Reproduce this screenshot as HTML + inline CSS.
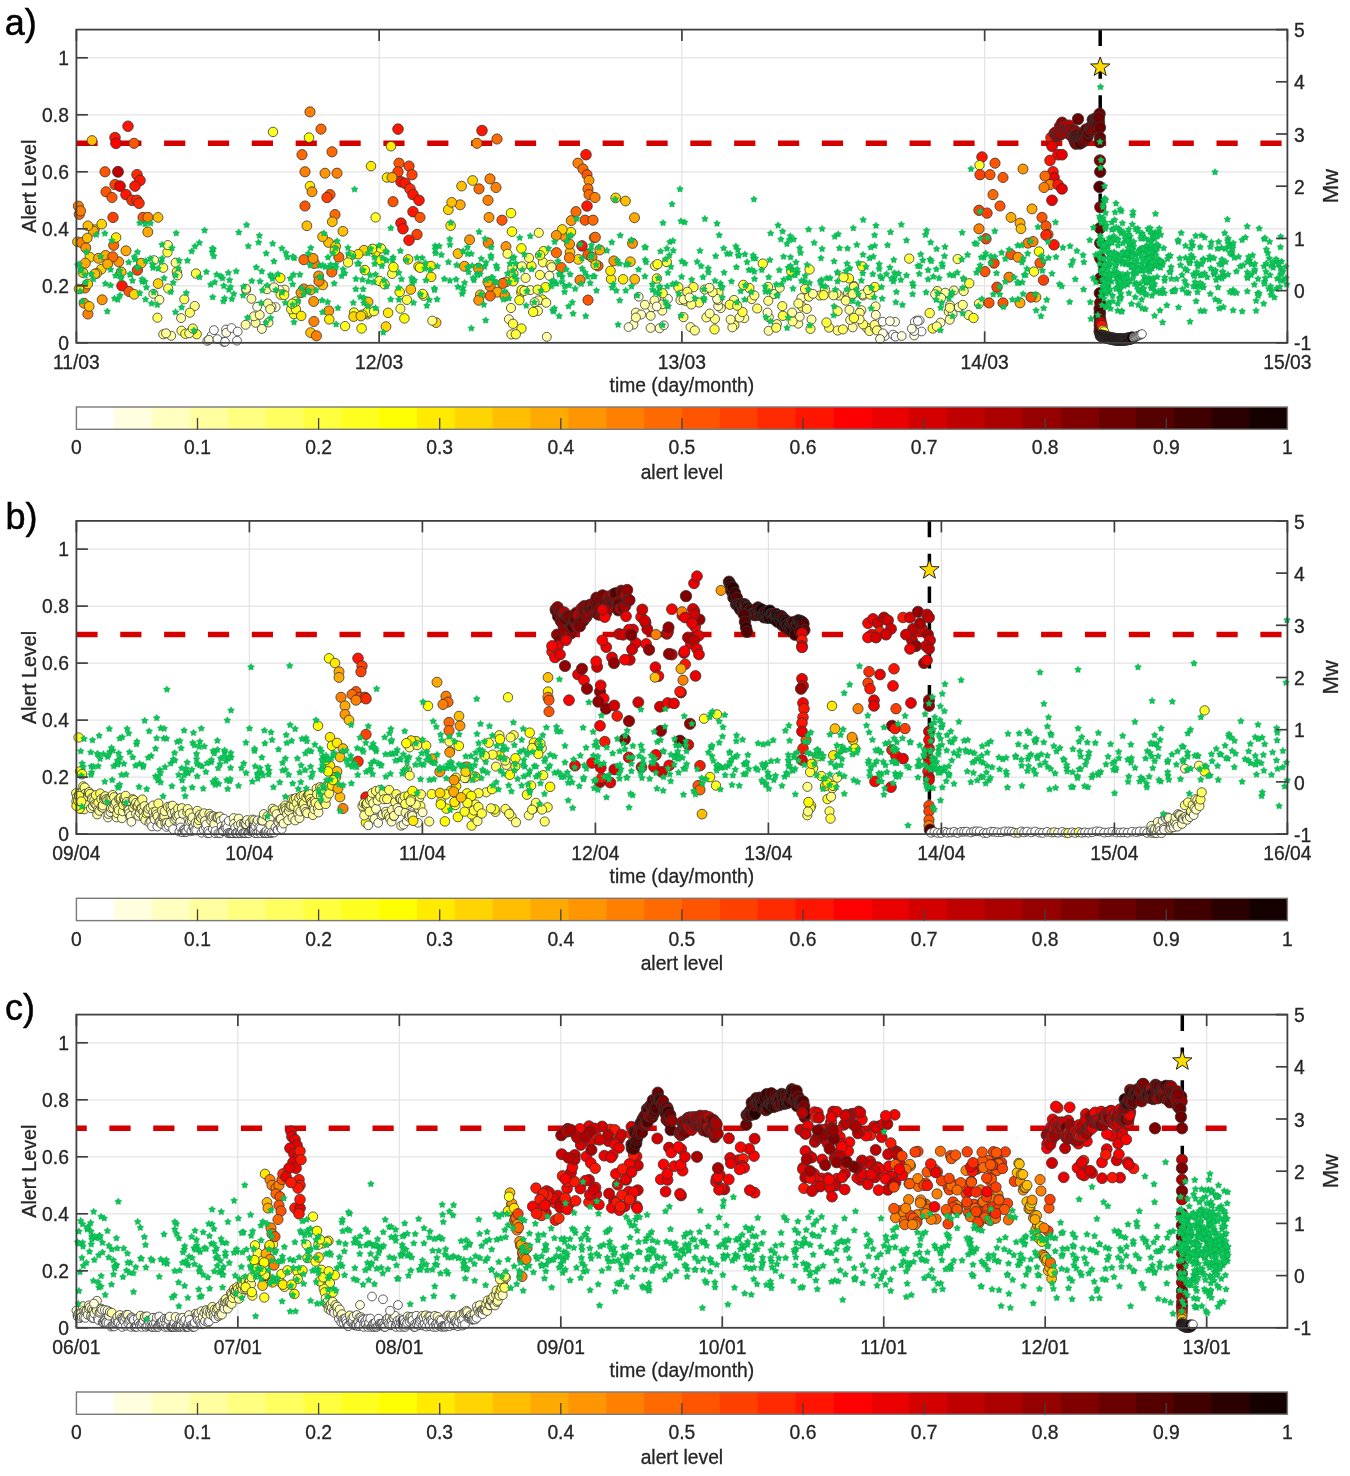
<!DOCTYPE html>
<html><head><meta charset="utf-8"><style>
html,body{margin:0;padding:0;background:#fff;}
svg{display:block;filter:blur(0.35px);}
.tk{font-family:"Liberation Sans", sans-serif;font-size:19.3px;fill:#262626;stroke:#262626;stroke-width:0.3px;}
.pl{font-family:"Liberation Sans", sans-serif;font-size:36px;fill:#000;stroke:#000;stroke-width:0.5px;}
</style></head><body>
<svg width="1350" height="1476" viewBox="0 0 1350 1476">
<defs><path id="gs" d="M0.00,-3.55 L1.20,-1.66 L3.38,-1.10 L1.95,0.63 L2.09,2.87 L0.00,2.05 L-2.09,2.87 L-1.95,0.63 L-3.38,-1.10 L-1.20,-1.66Z"/></defs>
<rect width="1350" height="1476" fill="#fff"/>
<line x1="76.4" y1="285.80" x2="1287.4" y2="285.80" stroke="#e3e3e3" stroke-width="1.2"/>
<line x1="76.4" y1="228.80" x2="1287.4" y2="228.80" stroke="#e3e3e3" stroke-width="1.2"/>
<line x1="76.4" y1="171.80" x2="1287.4" y2="171.80" stroke="#e3e3e3" stroke-width="1.2"/>
<line x1="76.4" y1="114.80" x2="1287.4" y2="114.80" stroke="#e3e3e3" stroke-width="1.2"/>
<line x1="76.4" y1="57.80" x2="1287.4" y2="57.80" stroke="#e3e3e3" stroke-width="1.2"/>
<line x1="379.15" y1="29.6" x2="379.15" y2="342.8" stroke="#e3e3e3" stroke-width="1.2"/>
<line x1="681.90" y1="29.6" x2="681.90" y2="342.8" stroke="#e3e3e3" stroke-width="1.2"/>
<line x1="984.65" y1="29.6" x2="984.65" y2="342.8" stroke="#e3e3e3" stroke-width="1.2"/>
<line x1="76.4" y1="143.30" x2="1287.4" y2="143.30" stroke="#d40000" stroke-width="5.5" stroke-dasharray="21.2 22.65" stroke-dashoffset="0"/>
<line x1="1100.2" y1="29.6" x2="1100.2" y2="342.8" stroke="#000" stroke-width="3.5" stroke-dasharray="16.4 16.4"/>
<g stroke="#333" stroke-width="0.8"><circle cx="79.3" cy="214.3" r="5.1" fill="#ff6a00"/><circle cx="78.4" cy="206.2" r="5.1" fill="#ff8000"/><circle cx="80.5" cy="210.9" r="5.1" fill="#ff8000"/><circle cx="82.9" cy="272.6" r="4.9" fill="#ffd400"/><circle cx="84.9" cy="288.0" r="5.1" fill="#ff8000"/><circle cx="77.5" cy="241.8" r="4.9" fill="#ffbf00"/><circle cx="84.1" cy="303.3" r="5.0" fill="#ff9500"/><circle cx="79.0" cy="289.0" r="4.8" fill="#ffea00"/><circle cx="81.4" cy="242.6" r="5.1" fill="#ff8000"/><circle cx="87.9" cy="314.0" r="5.1" fill="#ff8000"/><circle cx="89.9" cy="257.2" r="4.9" fill="#ffd400"/><circle cx="85.8" cy="247.9" r="5.0" fill="#ff9500"/><circle cx="94.4" cy="229.6" r="4.9" fill="#ffd400"/><circle cx="93.4" cy="231.1" r="5.0" fill="#ffaa00"/><circle cx="98.5" cy="258.3" r="5.0" fill="#ffaa00"/><circle cx="87.9" cy="225.8" r="4.9" fill="#ffbf00"/><circle cx="87.3" cy="238.0" r="4.9" fill="#ffbf00"/><circle cx="101.3" cy="269.2" r="4.9" fill="#ffd400"/><circle cx="101.7" cy="224.1" r="4.9" fill="#ffd400"/><circle cx="87.7" cy="284.0" r="4.9" fill="#ffd400"/><circle cx="89.2" cy="306.4" r="4.9" fill="#ffbf00"/><circle cx="85.3" cy="263.2" r="5.0" fill="#ffaa00"/><circle cx="96.6" cy="273.4" r="4.9" fill="#ffd400"/><circle cx="94.9" cy="273.9" r="4.9" fill="#ffbf00"/><circle cx="128.0" cy="126.2" r="5.3" fill="#ff1500"/><circle cx="115.0" cy="137.6" r="5.3" fill="#ff1500"/><circle cx="116.0" cy="143.3" r="5.4" fill="#ff0000"/><circle cx="134.0" cy="143.3" r="5.1" fill="#ff5500"/><circle cx="105.0" cy="171.8" r="5.1" fill="#ff5500"/><circle cx="118.0" cy="171.8" r="5.5" fill="#bf0000"/><circle cx="137.0" cy="174.7" r="5.3" fill="#ff2a00"/><circle cx="140.0" cy="180.4" r="5.3" fill="#ff1500"/><circle cx="135.0" cy="186.1" r="5.3" fill="#ff1500"/><circle cx="115.0" cy="184.6" r="5.2" fill="#ff4000"/><circle cx="120.0" cy="186.1" r="5.4" fill="#ea0000"/><circle cx="106.0" cy="191.8" r="5.1" fill="#ff5500"/><circle cx="112.0" cy="197.5" r="5.1" fill="#ff5500"/><circle cx="126.0" cy="194.6" r="5.3" fill="#ff1500"/><circle cx="132.0" cy="200.3" r="5.3" fill="#ff2a00"/><circle cx="137.0" cy="200.3" r="5.3" fill="#ff2a00"/><circle cx="139.0" cy="203.2" r="5.3" fill="#ff2a00"/><circle cx="113.0" cy="217.4" r="5.2" fill="#ff4000"/><circle cx="143.0" cy="217.4" r="5.1" fill="#ff5500"/><circle cx="148.0" cy="217.4" r="5.1" fill="#ff8000"/><circle cx="158.0" cy="217.4" r="4.9" fill="#ffbf00"/><circle cx="92.0" cy="140.5" r="4.9" fill="#ffbf00"/><circle cx="122.0" cy="285.8" r="5.3" fill="#ff1500"/><circle cx="129.0" cy="291.5" r="5.1" fill="#ff5500"/><circle cx="105.6" cy="255.4" r="5.0" fill="#ffaa00"/><circle cx="137.4" cy="270.1" r="5.2" fill="#ff4000"/><circle cx="113.7" cy="245.3" r="5.1" fill="#ff6a00"/><circle cx="134.3" cy="294.3" r="4.9" fill="#ffd400"/><circle cx="158.1" cy="283.6" r="4.9" fill="#ffd400"/><circle cx="118.7" cy="261.8" r="5.0" fill="#ff9500"/><circle cx="102.2" cy="299.8" r="5.0" fill="#ff9500"/><circle cx="112.7" cy="256.8" r="5.1" fill="#ff6a00"/><circle cx="107.6" cy="264.1" r="5.0" fill="#ffaa00"/><circle cx="147.8" cy="232.0" r="5.0" fill="#ffaa00"/><circle cx="116.1" cy="237.5" r="4.8" fill="#ffea00"/><circle cx="121.2" cy="271.9" r="4.9" fill="#ffbf00"/><circle cx="141.4" cy="263.1" r="4.9" fill="#ffbf00"/><circle cx="126.0" cy="250.8" r="5.0" fill="#ffaa00"/><circle cx="153.4" cy="293.8" r="4.5" fill="#ffff9f"/><circle cx="181.1" cy="318.1" r="4.5" fill="#ffff9f"/><circle cx="194.7" cy="306.0" r="4.6" fill="#ffff80"/><circle cx="176.9" cy="271.9" r="4.7" fill="#ffff40"/><circle cx="189.9" cy="312.7" r="4.6" fill="#ffff60"/><circle cx="168.2" cy="288.5" r="4.6" fill="#ffff60"/><circle cx="181.5" cy="330.7" r="4.6" fill="#ffff80"/><circle cx="185.4" cy="333.8" r="4.7" fill="#ffff40"/><circle cx="184.3" cy="299.3" r="4.6" fill="#ffff60"/><circle cx="163.2" cy="267.8" r="4.6" fill="#ffff60"/><circle cx="163.3" cy="334.3" r="4.6" fill="#ffff80"/><circle cx="196.0" cy="273.5" r="4.7" fill="#ffff40"/><circle cx="196.7" cy="334.2" r="4.7" fill="#ffff40"/><circle cx="159.4" cy="299.8" r="4.5" fill="#ffff9f"/><circle cx="167.5" cy="252.3" r="4.7" fill="#ffff40"/><circle cx="192.3" cy="330.0" r="4.6" fill="#ffff80"/><circle cx="189.2" cy="333.3" r="4.5" fill="#ffff9f"/><circle cx="154.1" cy="260.2" r="4.5" fill="#ffff9f"/><circle cx="171.2" cy="335.8" r="4.5" fill="#ffff9f"/><circle cx="175.7" cy="262.7" r="4.6" fill="#ffff80"/><circle cx="166.0" cy="333.3" r="4.5" fill="#ffff9f"/><circle cx="157.4" cy="317.7" r="4.6" fill="#ffff60"/><circle cx="167.9" cy="245.1" r="4.6" fill="#ffff80"/><circle cx="192.8" cy="328.5" r="4.6" fill="#ffff60"/><circle cx="177.5" cy="275.3" r="4.6" fill="#ffff80"/><circle cx="226.0" cy="329.5" r="4.4" fill="#ffffff"/><circle cx="226.3" cy="332.7" r="4.4" fill="#ffffdf"/><circle cx="211.5" cy="335.7" r="4.4" fill="#ffffff"/><circle cx="231.5" cy="328.0" r="4.4" fill="#ffffff"/><circle cx="237.7" cy="331.5" r="4.4" fill="#ffffff"/><circle cx="223.8" cy="342.0" r="4.4" fill="#ffffff"/><circle cx="237.0" cy="340.7" r="4.4" fill="#ffffff"/><circle cx="207.3" cy="340.9" r="4.4" fill="#ffffdf"/><circle cx="208.9" cy="339.8" r="4.4" fill="#ffffdf"/><circle cx="217.4" cy="339.1" r="4.4" fill="#ffffff"/><circle cx="225.0" cy="341.8" r="4.4" fill="#ffffff"/><circle cx="213.9" cy="330.1" r="4.4" fill="#ffffff"/><circle cx="268.5" cy="322.5" r="4.5" fill="#ffff9f"/><circle cx="284.6" cy="289.5" r="4.5" fill="#ffff9f"/><circle cx="267.1" cy="289.2" r="4.5" fill="#ffff9f"/><circle cx="251.4" cy="298.8" r="4.5" fill="#ffff9f"/><circle cx="245.6" cy="324.8" r="4.5" fill="#ffff9f"/><circle cx="275.7" cy="307.1" r="4.4" fill="#ffffdf"/><circle cx="255.6" cy="322.8" r="4.5" fill="#ffff9f"/><circle cx="254.0" cy="316.3" r="4.5" fill="#ffff9f"/><circle cx="271.5" cy="307.0" r="4.5" fill="#ffff9f"/><circle cx="279.6" cy="290.0" r="4.4" fill="#ffffdf"/><circle cx="246.2" cy="290.0" r="4.5" fill="#ffff9f"/><circle cx="259.7" cy="314.9" r="4.5" fill="#ffff9f"/><circle cx="261.9" cy="328.9" r="4.5" fill="#ffffbf"/><circle cx="257.1" cy="306.8" r="4.4" fill="#ffffdf"/><circle cx="274.1" cy="287.3" r="4.5" fill="#ffffbf"/><circle cx="267.8" cy="303.4" r="4.5" fill="#ffff9f"/><circle cx="270.2" cy="309.2" r="4.5" fill="#ffff9f"/><circle cx="246.0" cy="288.7" r="4.5" fill="#ffff9f"/><circle cx="273.0" cy="131.9" r="4.7" fill="#ffff20"/><circle cx="293.9" cy="314.1" r="4.7" fill="#ffff20"/><circle cx="280.6" cy="294.6" r="4.7" fill="#ffff40"/><circle cx="291.2" cy="309.3" r="4.7" fill="#ffff40"/><circle cx="295.9" cy="309.2" r="4.7" fill="#ffff20"/><circle cx="280.3" cy="278.0" r="4.8" fill="#ffff00"/><circle cx="295.7" cy="301.5" r="4.7" fill="#ffff40"/><circle cx="292.2" cy="303.7" r="4.7" fill="#ffff40"/><circle cx="284.2" cy="295.0" r="4.7" fill="#ffff20"/><circle cx="310.0" cy="111.9" r="5.1" fill="#ff8000"/><circle cx="309.0" cy="137.6" r="4.8" fill="#ffff00"/><circle cx="321.0" cy="129.1" r="5.1" fill="#ff6a00"/><circle cx="332.0" cy="151.8" r="5.1" fill="#ff6a00"/><circle cx="302.0" cy="154.7" r="5.1" fill="#ff6a00"/><circle cx="305.0" cy="171.8" r="5.1" fill="#ff8000"/><circle cx="325.0" cy="173.2" r="5.0" fill="#ff9500"/><circle cx="337.0" cy="173.2" r="5.1" fill="#ff8000"/><circle cx="310.0" cy="186.1" r="4.8" fill="#ffea00"/><circle cx="312.0" cy="191.8" r="5.0" fill="#ff9500"/><circle cx="330.0" cy="194.6" r="5.1" fill="#ff5500"/><circle cx="327.0" cy="197.5" r="5.2" fill="#ff4000"/><circle cx="305.0" cy="206.0" r="5.1" fill="#ff5500"/><circle cx="335.0" cy="214.6" r="5.1" fill="#ff6a00"/><circle cx="314.3" cy="263.4" r="5.1" fill="#ff8000"/><circle cx="331.8" cy="272.0" r="5.1" fill="#ff6a00"/><circle cx="318.6" cy="275.9" r="5.0" fill="#ff9500"/><circle cx="338.8" cy="257.1" r="5.1" fill="#ff6a00"/><circle cx="303.8" cy="289.0" r="5.1" fill="#ff8000"/><circle cx="328.5" cy="242.5" r="4.9" fill="#ffbf00"/><circle cx="310.5" cy="290.0" r="5.0" fill="#ffaa00"/><circle cx="301.0" cy="292.7" r="5.0" fill="#ff9500"/><circle cx="328.8" cy="310.9" r="5.0" fill="#ff9500"/><circle cx="329.3" cy="319.4" r="4.8" fill="#ffea00"/><circle cx="303.9" cy="259.7" r="5.1" fill="#ff6a00"/><circle cx="313.7" cy="301.5" r="5.0" fill="#ff9500"/><circle cx="310.6" cy="332.6" r="4.9" fill="#ffbf00"/><circle cx="322.8" cy="284.9" r="4.9" fill="#ffbf00"/><circle cx="313.9" cy="321.5" r="5.1" fill="#ff8000"/><circle cx="313.1" cy="258.4" r="5.0" fill="#ff9500"/><circle cx="335.7" cy="246.3" r="4.9" fill="#ffd400"/><circle cx="316.4" cy="335.8" r="5.1" fill="#ff8000"/><circle cx="306.9" cy="225.8" r="4.9" fill="#ffbf00"/><circle cx="318.9" cy="281.1" r="5.1" fill="#ff8000"/><circle cx="322.6" cy="236.7" r="4.9" fill="#ffbf00"/><circle cx="301.2" cy="315.9" r="4.8" fill="#ffea00"/><circle cx="364.0" cy="250.3" r="4.9" fill="#ffd400"/><circle cx="367.5" cy="314.3" r="4.7" fill="#ffff40"/><circle cx="361.6" cy="328.4" r="4.8" fill="#ffff00"/><circle cx="358.2" cy="254.2" r="4.8" fill="#ffea00"/><circle cx="375.6" cy="217.4" r="4.7" fill="#ffff20"/><circle cx="345.1" cy="326.1" r="4.7" fill="#ffff20"/><circle cx="351.0" cy="255.4" r="4.7" fill="#ffff20"/><circle cx="334.8" cy="250.5" r="4.8" fill="#ffea00"/><circle cx="354.0" cy="312.5" r="4.7" fill="#ffff20"/><circle cx="342.9" cy="231.3" r="4.9" fill="#ffbf00"/><circle cx="332.3" cy="221.8" r="4.9" fill="#ffbf00"/><circle cx="368.1" cy="302.0" r="4.9" fill="#ffbf00"/><circle cx="368.8" cy="312.7" r="4.7" fill="#ffff40"/><circle cx="348.1" cy="262.5" r="4.7" fill="#ffff40"/><circle cx="375.8" cy="251.9" r="4.8" fill="#ffea00"/><circle cx="353.6" cy="316.6" r="4.9" fill="#ffd400"/><circle cx="398.0" cy="129.1" r="5.3" fill="#ff1500"/><circle cx="391.0" cy="146.2" r="4.8" fill="#ffea00"/><circle cx="399.0" cy="163.2" r="5.1" fill="#ff5500"/><circle cx="409.0" cy="166.1" r="5.2" fill="#ff4000"/><circle cx="398.0" cy="171.8" r="5.2" fill="#ff4000"/><circle cx="412.0" cy="174.7" r="5.2" fill="#ff4000"/><circle cx="401.0" cy="181.8" r="5.3" fill="#ff1500"/><circle cx="405.0" cy="183.2" r="5.3" fill="#ff1500"/><circle cx="410.0" cy="188.9" r="5.3" fill="#ff2a00"/><circle cx="413.0" cy="194.6" r="5.3" fill="#ff1500"/><circle cx="419.0" cy="200.3" r="5.3" fill="#ff1500"/><circle cx="393.0" cy="201.7" r="5.1" fill="#ff5500"/><circle cx="413.0" cy="211.7" r="5.3" fill="#ff1500"/><circle cx="420.0" cy="217.4" r="5.1" fill="#ff5500"/><circle cx="401.0" cy="223.1" r="5.3" fill="#ff1500"/><circle cx="403.0" cy="228.8" r="5.3" fill="#ff1500"/><circle cx="417.0" cy="234.5" r="5.2" fill="#ff4000"/><circle cx="409.0" cy="240.2" r="5.3" fill="#ff1500"/><circle cx="387.0" cy="177.5" r="4.8" fill="#ffea00"/><circle cx="392.0" cy="177.5" r="5.0" fill="#ffaa00"/><circle cx="371.0" cy="166.1" r="4.8" fill="#ffea00"/><circle cx="386.0" cy="326.6" r="4.9" fill="#ffd400"/><circle cx="372.4" cy="248.8" r="4.7" fill="#ffff20"/><circle cx="367.4" cy="311.8" r="4.7" fill="#ffff20"/><circle cx="362.5" cy="314.7" r="4.8" fill="#ffff00"/><circle cx="379.3" cy="280.9" r="4.7" fill="#ffff40"/><circle cx="360.9" cy="316.0" r="4.9" fill="#ffd400"/><circle cx="364.8" cy="270.1" r="4.8" fill="#ffff00"/><circle cx="381.0" cy="248.4" r="4.7" fill="#ffff20"/><circle cx="384.6" cy="284.3" r="4.7" fill="#ffff20"/><circle cx="374.0" cy="311.2" r="4.7" fill="#ffff40"/><circle cx="392.2" cy="273.8" r="4.7" fill="#ffff40"/><circle cx="388.1" cy="312.8" r="4.8" fill="#ffea00"/><circle cx="380.5" cy="260.4" r="4.8" fill="#ffff00"/><circle cx="393.4" cy="267.1" r="4.8" fill="#ffff00"/><circle cx="400.4" cy="308.7" r="4.6" fill="#ffff60"/><circle cx="418.5" cy="266.5" r="4.8" fill="#ffea00"/><circle cx="423.7" cy="295.7" r="4.7" fill="#ffff40"/><circle cx="431.2" cy="276.9" r="4.8" fill="#ffea00"/><circle cx="420.1" cy="267.7" r="4.8" fill="#ffff00"/><circle cx="406.9" cy="299.8" r="4.7" fill="#ffff40"/><circle cx="408.1" cy="259.4" r="4.8" fill="#ffea00"/><circle cx="422.6" cy="293.9" r="4.7" fill="#ffff20"/><circle cx="399.7" cy="292.0" r="4.8" fill="#ffff00"/><circle cx="410.8" cy="289.5" r="4.9" fill="#ffbf00"/><circle cx="436.1" cy="322.6" r="4.9" fill="#ffd400"/><circle cx="430.8" cy="266.0" r="4.8" fill="#ffea00"/><circle cx="404.4" cy="318.4" r="4.8" fill="#ffff00"/><circle cx="432.3" cy="320.7" r="4.6" fill="#ffff80"/><circle cx="472.6" cy="180.5" r="4.9" fill="#ffd400"/><circle cx="469.6" cy="239.8" r="5.0" fill="#ff9500"/><circle cx="448.3" cy="209.7" r="4.9" fill="#ffd400"/><circle cx="464.5" cy="266.3" r="5.0" fill="#ffaa00"/><circle cx="450.6" cy="225.7" r="4.8" fill="#ffea00"/><circle cx="458.0" cy="253.6" r="4.9" fill="#ffbf00"/><circle cx="460.2" cy="204.8" r="5.0" fill="#ffaa00"/><circle cx="461.6" cy="186.1" r="4.9" fill="#ffbf00"/><circle cx="451.7" cy="202.3" r="4.9" fill="#ffbf00"/><circle cx="482.0" cy="130.5" r="5.3" fill="#ff1500"/><circle cx="477.0" cy="143.3" r="5.1" fill="#ff8000"/><circle cx="497.0" cy="139.0" r="5.1" fill="#ff6a00"/><circle cx="479.0" cy="188.9" r="5.1" fill="#ff6a00"/><circle cx="490.0" cy="178.9" r="5.1" fill="#ff8000"/><circle cx="496.0" cy="187.5" r="5.1" fill="#ff8000"/><circle cx="488.0" cy="200.3" r="5.1" fill="#ff8000"/><circle cx="489.0" cy="217.4" r="5.0" fill="#ff9500"/><circle cx="502.0" cy="220.2" r="5.1" fill="#ff5500"/><circle cx="511.0" cy="213.1" r="4.8" fill="#ffff00"/><circle cx="506.0" cy="281.9" r="4.9" fill="#ffbf00"/><circle cx="488.3" cy="243.0" r="5.1" fill="#ff8000"/><circle cx="502.7" cy="283.4" r="5.1" fill="#ff6a00"/><circle cx="480.3" cy="294.8" r="4.9" fill="#ffbf00"/><circle cx="490.1" cy="286.5" r="5.1" fill="#ff8000"/><circle cx="497.5" cy="292.2" r="5.0" fill="#ffaa00"/><circle cx="478.7" cy="300.3" r="5.0" fill="#ff9500"/><circle cx="505.0" cy="295.7" r="5.0" fill="#ff9500"/><circle cx="478.4" cy="268.3" r="5.0" fill="#ff9500"/><circle cx="487.9" cy="281.9" r="5.0" fill="#ffaa00"/><circle cx="490.2" cy="296.0" r="5.1" fill="#ff6a00"/><circle cx="506.0" cy="246.6" r="5.0" fill="#ff9500"/><circle cx="507.5" cy="253.8" r="4.6" fill="#ffff60"/><circle cx="531.5" cy="266.1" r="4.7" fill="#ffff20"/><circle cx="530.3" cy="290.1" r="4.5" fill="#ffff9f"/><circle cx="508.9" cy="319.2" r="4.5" fill="#ffff9f"/><circle cx="549.3" cy="275.7" r="4.5" fill="#ffffbf"/><circle cx="521.3" cy="292.5" r="4.7" fill="#ffff20"/><circle cx="525.6" cy="277.9" r="4.6" fill="#ffff80"/><circle cx="521.5" cy="328.5" r="4.7" fill="#ffff20"/><circle cx="529.0" cy="257.9" r="4.6" fill="#ffff60"/><circle cx="511.0" cy="308.0" r="4.6" fill="#ffff80"/><circle cx="542.2" cy="299.6" r="4.8" fill="#ffff00"/><circle cx="542.9" cy="262.3" r="4.6" fill="#ffff60"/><circle cx="538.2" cy="300.4" r="4.5" fill="#ffff9f"/><circle cx="545.6" cy="287.3" r="4.8" fill="#ffff00"/><circle cx="539.9" cy="274.9" r="4.6" fill="#ffff60"/><circle cx="537.9" cy="310.9" r="4.6" fill="#ffff80"/><circle cx="521.4" cy="248.4" r="4.8" fill="#ffff00"/><circle cx="511.4" cy="334.4" r="4.6" fill="#ffff80"/><circle cx="537.7" cy="289.7" r="4.7" fill="#ffff40"/><circle cx="550.6" cy="264.9" r="4.7" fill="#ffff40"/><circle cx="513.4" cy="273.7" r="4.7" fill="#ffff40"/><circle cx="515.8" cy="334.3" r="4.7" fill="#ffff40"/><circle cx="551.7" cy="267.1" r="4.5" fill="#ffff9f"/><circle cx="546.2" cy="302.7" r="4.6" fill="#ffff80"/><circle cx="543.6" cy="251.1" r="4.7" fill="#ffff20"/><circle cx="546.8" cy="336.8" r="4.5" fill="#ffff9f"/><circle cx="533.2" cy="312.0" r="4.7" fill="#ffff20"/><circle cx="540.1" cy="255.2" r="4.7" fill="#ffff20"/><circle cx="538.8" cy="232.8" r="4.6" fill="#ffff60"/><circle cx="513.1" cy="281.2" r="4.8" fill="#ffff00"/><circle cx="534.6" cy="302.2" r="4.5" fill="#ffff9f"/><circle cx="513.0" cy="323.8" r="4.7" fill="#ffff40"/><circle cx="521.8" cy="290.0" r="4.8" fill="#ffff00"/><circle cx="521.9" cy="266.3" r="4.6" fill="#ffff80"/><circle cx="524.4" cy="290.9" r="4.6" fill="#ffff60"/><circle cx="512.3" cy="267.6" r="4.6" fill="#ffff60"/><circle cx="512.0" cy="231.6" r="4.8" fill="#ffff00"/><circle cx="519.4" cy="300.2" r="4.7" fill="#ffff20"/><circle cx="565.1" cy="236.8" r="5.0" fill="#ff9500"/><circle cx="570.0" cy="252.2" r="4.9" fill="#ffbf00"/><circle cx="571.2" cy="220.6" r="5.0" fill="#ff9500"/><circle cx="571.0" cy="232.1" r="4.8" fill="#ffea00"/><circle cx="562.3" cy="229.5" r="4.9" fill="#ffd400"/><circle cx="556.3" cy="235.4" r="5.0" fill="#ff9500"/><circle cx="586.0" cy="154.7" r="5.3" fill="#ff1500"/><circle cx="578.0" cy="163.2" r="5.1" fill="#ff8000"/><circle cx="583.0" cy="169.0" r="5.1" fill="#ff6a00"/><circle cx="587.0" cy="174.7" r="5.1" fill="#ff5500"/><circle cx="589.0" cy="180.4" r="5.0" fill="#ff9500"/><circle cx="588.0" cy="188.9" r="5.1" fill="#ff6a00"/><circle cx="589.0" cy="194.6" r="5.1" fill="#ff6a00"/><circle cx="595.0" cy="197.5" r="5.1" fill="#ff8000"/><circle cx="587.0" cy="206.0" r="5.3" fill="#ff1500"/><circle cx="576.0" cy="211.7" r="5.1" fill="#ff6a00"/><circle cx="585.0" cy="220.2" r="5.1" fill="#ff5500"/><circle cx="593.0" cy="220.2" r="5.1" fill="#ff6a00"/><circle cx="582.0" cy="245.9" r="5.3" fill="#ff1500"/><circle cx="588.0" cy="254.5" r="5.1" fill="#ff5500"/><circle cx="598.0" cy="265.9" r="5.1" fill="#ff5500"/><circle cx="588.0" cy="300.1" r="5.1" fill="#ff5500"/><circle cx="592.0" cy="257.3" r="5.1" fill="#ff8000"/><circle cx="599.8" cy="250.0" r="5.0" fill="#ffaa00"/><circle cx="556.4" cy="252.7" r="5.1" fill="#ff6a00"/><circle cx="578.3" cy="259.4" r="4.9" fill="#ffd400"/><circle cx="569.4" cy="257.8" r="5.1" fill="#ff8000"/><circle cx="569.6" cy="244.1" r="5.0" fill="#ff9500"/><circle cx="580.0" cy="280.0" r="5.1" fill="#ff8000"/><circle cx="561.2" cy="267.5" r="5.1" fill="#ff6a00"/><circle cx="594.1" cy="237.7" r="4.9" fill="#ffd400"/><circle cx="595.7" cy="264.8" r="4.9" fill="#ffd400"/><circle cx="595.3" cy="237.3" r="5.1" fill="#ff6a00"/><circle cx="613.8" cy="260.9" r="5.0" fill="#ff9500"/><circle cx="625.5" cy="201.0" r="4.9" fill="#ffbf00"/><circle cx="634.5" cy="217.7" r="5.0" fill="#ffaa00"/><circle cx="632.5" cy="243.4" r="5.0" fill="#ff9500"/><circle cx="615.7" cy="197.9" r="4.9" fill="#ffd400"/><circle cx="623.1" cy="279.3" r="4.8" fill="#ffea00"/><circle cx="611.1" cy="279.1" r="4.8" fill="#ffea00"/><circle cx="610.5" cy="270.8" r="4.8" fill="#ffea00"/><circle cx="630.4" cy="261.7" r="4.9" fill="#ffbf00"/><circle cx="634.7" cy="279.3" r="4.9" fill="#ffbf00"/><circle cx="633.4" cy="324.6" r="4.5" fill="#ffffbf"/><circle cx="664.7" cy="298.9" r="4.4" fill="#ffffdf"/><circle cx="659.6" cy="328.3" r="4.5" fill="#ffffbf"/><circle cx="668.0" cy="298.8" r="4.4" fill="#ffffdf"/><circle cx="650.7" cy="315.8" r="4.5" fill="#ffff9f"/><circle cx="662.3" cy="310.7" r="4.5" fill="#ffff9f"/><circle cx="663.9" cy="325.3" r="4.4" fill="#ffffdf"/><circle cx="635.9" cy="312.6" r="4.5" fill="#ffff9f"/><circle cx="662.2" cy="304.3" r="4.5" fill="#ffff9f"/><circle cx="652.0" cy="307.2" r="4.5" fill="#ffffbf"/><circle cx="654.5" cy="300.4" r="4.5" fill="#ffff9f"/><circle cx="656.7" cy="306.4" r="4.4" fill="#ffffdf"/><circle cx="641.1" cy="314.5" r="4.5" fill="#ffffbf"/><circle cx="635.9" cy="317.5" r="4.5" fill="#ffff9f"/><circle cx="638.7" cy="296.7" r="4.4" fill="#ffffdf"/><circle cx="644.9" cy="304.7" r="4.5" fill="#ffff9f"/><circle cx="628.5" cy="327.1" r="4.4" fill="#ffffdf"/><circle cx="650.6" cy="327.9" r="4.5" fill="#ffffbf"/><circle cx="662.6" cy="293.3" r="4.7" fill="#ffff40"/><circle cx="666.8" cy="262.1" r="4.7" fill="#ffff40"/><circle cx="656.9" cy="278.5" r="4.7" fill="#ffff20"/><circle cx="655.1" cy="265.8" r="4.6" fill="#ffff80"/><circle cx="678.3" cy="287.2" r="4.7" fill="#ffff40"/><circle cx="657.5" cy="264.2" r="4.7" fill="#ffff20"/><circle cx="862.9" cy="295.4" r="4.7" fill="#ffff40"/><circle cx="681.6" cy="294.7" r="4.5" fill="#ffffbf"/><circle cx="854.1" cy="286.0" r="4.6" fill="#ffff60"/><circle cx="801.3" cy="298.0" r="4.5" fill="#ffffbf"/><circle cx="852.7" cy="327.4" r="4.5" fill="#ffff9f"/><circle cx="734.0" cy="300.0" r="4.6" fill="#ffff80"/><circle cx="757.2" cy="308.5" r="4.6" fill="#ffff60"/><circle cx="848.0" cy="292.9" r="4.5" fill="#ffff9f"/><circle cx="690.5" cy="327.1" r="4.5" fill="#ffff9f"/><circle cx="829.1" cy="327.6" r="4.6" fill="#ffff60"/><circle cx="680.4" cy="300.1" r="4.5" fill="#ffff9f"/><circle cx="809.0" cy="296.7" r="4.6" fill="#ffff60"/><circle cx="694.8" cy="330.5" r="4.6" fill="#ffff80"/><circle cx="861.4" cy="310.2" r="4.5" fill="#ffff9f"/><circle cx="774.1" cy="294.0" r="4.5" fill="#ffff9f"/><circle cx="704.7" cy="289.5" r="4.6" fill="#ffff80"/><circle cx="768.8" cy="317.2" r="4.5" fill="#ffff9f"/><circle cx="852.4" cy="294.8" r="4.5" fill="#ffff9f"/><circle cx="825.0" cy="289.5" r="4.6" fill="#ffff80"/><circle cx="876.2" cy="327.3" r="4.7" fill="#ffff40"/><circle cx="850.2" cy="319.9" r="4.5" fill="#ffff9f"/><circle cx="734.4" cy="325.2" r="4.6" fill="#ffff60"/><circle cx="819.7" cy="295.5" r="4.6" fill="#ffff60"/><circle cx="732.3" cy="327.4" r="4.5" fill="#ffff9f"/><circle cx="837.7" cy="330.5" r="4.6" fill="#ffff80"/><circle cx="744.3" cy="318.2" r="4.5" fill="#ffff9f"/><circle cx="798.3" cy="323.7" r="4.5" fill="#ffff9f"/><circle cx="849.9" cy="297.0" r="4.6" fill="#ffff80"/><circle cx="729.8" cy="304.7" r="4.7" fill="#ffff40"/><circle cx="837.6" cy="311.2" r="4.6" fill="#ffff60"/><circle cx="751.8" cy="299.1" r="4.6" fill="#ffff80"/><circle cx="685.4" cy="300.7" r="4.7" fill="#ffff40"/><circle cx="776.9" cy="324.1" r="4.5" fill="#ffff9f"/><circle cx="718.5" cy="293.1" r="4.6" fill="#ffff60"/><circle cx="739.5" cy="317.6" r="4.5" fill="#ffff9f"/><circle cx="768.1" cy="286.9" r="4.6" fill="#ffff60"/><circle cx="867.1" cy="328.0" r="4.7" fill="#ffff40"/><circle cx="862.6" cy="294.4" r="4.5" fill="#ffff9f"/><circle cx="853.8" cy="286.8" r="4.6" fill="#ffff60"/><circle cx="782.9" cy="315.8" r="4.7" fill="#ffff40"/><circle cx="799.7" cy="316.7" r="4.5" fill="#ffffbf"/><circle cx="683.5" cy="299.4" r="4.5" fill="#ffff9f"/><circle cx="706.4" cy="317.4" r="4.6" fill="#ffff80"/><circle cx="849.4" cy="309.8" r="4.5" fill="#ffff9f"/><circle cx="845.7" cy="300.6" r="4.6" fill="#ffff80"/><circle cx="859.7" cy="312.9" r="4.6" fill="#ffff80"/><circle cx="691.0" cy="299.7" r="4.6" fill="#ffff60"/><circle cx="869.5" cy="331.0" r="4.6" fill="#ffff80"/><circle cx="767.5" cy="312.5" r="4.5" fill="#ffffbf"/><circle cx="842.9" cy="329.4" r="4.6" fill="#ffff60"/><circle cx="742.5" cy="312.0" r="4.7" fill="#ffff40"/><circle cx="720.8" cy="308.1" r="4.5" fill="#ffff9f"/><circle cx="802.0" cy="306.6" r="4.6" fill="#ffff60"/><circle cx="699.1" cy="302.6" r="4.6" fill="#ffff60"/><circle cx="693.5" cy="287.2" r="4.7" fill="#ffff40"/><circle cx="838.6" cy="295.5" r="4.6" fill="#ffff80"/><circle cx="863.1" cy="324.3" r="4.6" fill="#ffff60"/><circle cx="875.3" cy="328.5" r="4.6" fill="#ffff60"/><circle cx="874.6" cy="324.9" r="4.6" fill="#ffff80"/><circle cx="859.6" cy="319.4" r="4.5" fill="#ffff9f"/><circle cx="823.5" cy="295.2" r="4.7" fill="#ffff40"/><circle cx="810.5" cy="328.9" r="4.6" fill="#ffff60"/><circle cx="737.2" cy="305.7" r="4.6" fill="#ffff60"/><circle cx="875.6" cy="306.3" r="4.5" fill="#ffff9f"/><circle cx="782.3" cy="306.1" r="4.6" fill="#ffff60"/><circle cx="718.2" cy="306.2" r="4.5" fill="#ffffbf"/><circle cx="877.0" cy="330.4" r="4.6" fill="#ffff80"/><circle cx="714.9" cy="318.9" r="4.6" fill="#ffff80"/><circle cx="730.6" cy="319.5" r="4.5" fill="#ffff9f"/><circle cx="779.8" cy="287.8" r="4.5" fill="#ffff9f"/><circle cx="714.5" cy="329.4" r="4.7" fill="#ffff40"/><circle cx="836.6" cy="293.5" r="4.5" fill="#ffff9f"/><circle cx="768.3" cy="300.8" r="4.6" fill="#ffff80"/><circle cx="826.5" cy="322.5" r="4.7" fill="#ffff40"/><circle cx="798.4" cy="303.5" r="4.6" fill="#ffff80"/><circle cx="768.6" cy="330.8" r="4.5" fill="#ffff9f"/><circle cx="776.2" cy="327.7" r="4.6" fill="#ffff60"/><circle cx="718.0" cy="300.2" r="4.6" fill="#ffff80"/><circle cx="811.5" cy="319.5" r="4.5" fill="#ffff9f"/><circle cx="812.9" cy="293.8" r="4.5" fill="#ffff9f"/><circle cx="687.3" cy="291.8" r="4.6" fill="#ffff60"/><circle cx="833.4" cy="295.3" r="4.6" fill="#ffff80"/><circle cx="870.2" cy="294.6" r="4.6" fill="#ffff60"/><circle cx="868.1" cy="290.0" r="4.6" fill="#ffff80"/><circle cx="691.3" cy="304.5" r="4.6" fill="#ffff80"/><circle cx="683.4" cy="317.1" r="4.6" fill="#ffff60"/><circle cx="805.0" cy="289.0" r="4.6" fill="#ffff60"/><circle cx="717.1" cy="298.9" r="4.5" fill="#ffffbf"/><circle cx="853.9" cy="318.0" r="4.7" fill="#ffff40"/><circle cx="689.5" cy="297.5" r="4.5" fill="#ffffbf"/><circle cx="852.6" cy="294.1" r="4.6" fill="#ffff80"/><circle cx="792.6" cy="321.4" r="4.6" fill="#ffff80"/><circle cx="709.7" cy="313.5" r="4.5" fill="#ffff9f"/><circle cx="806.8" cy="308.9" r="4.6" fill="#ffff80"/><circle cx="749.3" cy="288.0" r="4.7" fill="#ffff40"/><circle cx="875.8" cy="314.9" r="4.5" fill="#ffffbf"/><circle cx="712.6" cy="292.2" r="4.6" fill="#ffff80"/><circle cx="709.4" cy="287.8" r="4.5" fill="#ffff9f"/><circle cx="792.1" cy="312.5" r="4.5" fill="#ffff9f"/><circle cx="754.4" cy="295.4" r="4.6" fill="#ffff80"/><circle cx="937.3" cy="291.0" r="4.6" fill="#ffff60"/><circle cx="809.6" cy="269.5" r="4.7" fill="#ffff40"/><circle cx="762.8" cy="263.6" r="4.7" fill="#ffff20"/><circle cx="874.8" cy="287.0" r="4.7" fill="#ffff20"/><circle cx="862.3" cy="266.4" r="4.7" fill="#ffff20"/><circle cx="849.0" cy="278.4" r="4.7" fill="#ffff20"/><circle cx="957.6" cy="259.0" r="4.6" fill="#ffff60"/><circle cx="743.4" cy="284.9" r="4.7" fill="#ffff40"/><circle cx="969.3" cy="283.3" r="4.7" fill="#ffff40"/><circle cx="843.5" cy="277.3" r="4.7" fill="#ffff40"/><circle cx="791.3" cy="271.4" r="4.7" fill="#ffff20"/><circle cx="909.2" cy="258.6" r="4.7" fill="#ffff40"/><circle cx="885.0" cy="335.9" r="4.4" fill="#ffffff"/><circle cx="914.2" cy="335.5" r="4.4" fill="#ffffdf"/><circle cx="921.6" cy="331.5" r="4.4" fill="#ffffff"/><circle cx="919.7" cy="320.4" r="4.4" fill="#ffffff"/><circle cx="916.7" cy="320.5" r="4.4" fill="#ffffff"/><circle cx="894.8" cy="336.1" r="4.4" fill="#ffffff"/><circle cx="914.2" cy="331.1" r="4.4" fill="#ffffff"/><circle cx="895.1" cy="321.8" r="4.4" fill="#ffffdf"/><circle cx="893.0" cy="334.6" r="4.4" fill="#ffffff"/><circle cx="914.8" cy="321.8" r="4.4" fill="#ffffff"/><circle cx="882.9" cy="333.3" r="4.4" fill="#ffffdf"/><circle cx="917.8" cy="321.0" r="4.4" fill="#ffffff"/><circle cx="880.0" cy="339.0" r="4.4" fill="#ffffdf"/><circle cx="895.6" cy="336.6" r="4.4" fill="#ffffff"/><circle cx="882.7" cy="321.7" r="4.4" fill="#ffffff"/><circle cx="901.7" cy="336.0" r="4.4" fill="#ffffdf"/><circle cx="889.9" cy="321.2" r="4.4" fill="#ffffdf"/><circle cx="911.8" cy="328.7" r="4.4" fill="#ffffdf"/><circle cx="929.7" cy="313.1" r="4.7" fill="#ffff40"/><circle cx="968.5" cy="315.1" r="4.6" fill="#ffff80"/><circle cx="932.7" cy="328.5" r="4.7" fill="#ffff40"/><circle cx="935.1" cy="294.3" r="4.5" fill="#ffff9f"/><circle cx="950.0" cy="305.3" r="4.5" fill="#ffff9f"/><circle cx="940.5" cy="322.6" r="4.5" fill="#ffffbf"/><circle cx="945.2" cy="292.7" r="4.5" fill="#ffff9f"/><circle cx="948.8" cy="311.7" r="4.6" fill="#ffff80"/><circle cx="936.8" cy="326.5" r="4.6" fill="#ffff80"/><circle cx="978.9" cy="303.7" r="4.6" fill="#ffff80"/><circle cx="941.2" cy="297.9" r="4.5" fill="#ffff9f"/><circle cx="958.8" cy="307.2" r="4.5" fill="#ffffbf"/><circle cx="952.6" cy="314.1" r="4.5" fill="#ffffbf"/><circle cx="949.7" cy="319.8" r="4.5" fill="#ffff9f"/><circle cx="962.8" cy="304.9" r="4.6" fill="#ffff80"/><circle cx="963.7" cy="291.1" r="4.6" fill="#ffff80"/><circle cx="953.9" cy="290.5" r="4.5" fill="#ffff9f"/><circle cx="949.8" cy="307.8" r="4.6" fill="#ffff80"/><circle cx="982.0" cy="157.0" r="5.3" fill="#ff1500"/><circle cx="979.5" cy="165.2" r="4.7" fill="#ffff20"/><circle cx="980.0" cy="174.7" r="5.2" fill="#ff4000"/><circle cx="990.0" cy="174.7" r="5.1" fill="#ff5500"/><circle cx="1003.0" cy="177.5" r="5.1" fill="#ff5500"/><circle cx="1023.0" cy="169.0" r="5.0" fill="#ff9500"/><circle cx="995.0" cy="163.2" r="5.1" fill="#ff5500"/><circle cx="993.0" cy="194.6" r="5.1" fill="#ff6a00"/><circle cx="1000.0" cy="206.0" r="5.1" fill="#ff5500"/><circle cx="979.0" cy="210.3" r="5.2" fill="#ff4000"/><circle cx="987.0" cy="213.1" r="5.2" fill="#ff4000"/><circle cx="979.0" cy="228.8" r="5.1" fill="#ff8000"/><circle cx="986.0" cy="238.8" r="5.2" fill="#ff4000"/><circle cx="1011.0" cy="217.4" r="5.0" fill="#ffaa00"/><circle cx="1020.0" cy="223.1" r="5.0" fill="#ffaa00"/><circle cx="1021.0" cy="228.8" r="4.9" fill="#ffbf00"/><circle cx="1032.0" cy="208.9" r="5.0" fill="#ffaa00"/><circle cx="1042.0" cy="217.4" r="5.1" fill="#ff5500"/><circle cx="1046.0" cy="226.0" r="5.1" fill="#ff5500"/><circle cx="1048.0" cy="234.5" r="5.1" fill="#ff5500"/><circle cx="1028.0" cy="243.1" r="5.1" fill="#ff8000"/><circle cx="1033.0" cy="241.6" r="5.1" fill="#ff8000"/><circle cx="1046.0" cy="235.1" r="5.3" fill="#ff2a00"/><circle cx="1054.0" cy="244.8" r="5.3" fill="#ff1500"/><circle cx="1039.0" cy="251.6" r="4.8" fill="#ffff00"/><circle cx="994.0" cy="263.0" r="5.2" fill="#ff4000"/><circle cx="1009.0" cy="277.2" r="5.1" fill="#ff8000"/><circle cx="1034.0" cy="271.6" r="4.7" fill="#ffff20"/><circle cx="1043.5" cy="280.1" r="5.2" fill="#ff4000"/><circle cx="997.0" cy="287.2" r="5.2" fill="#ff4000"/><circle cx="1036.0" cy="297.2" r="4.9" fill="#ffbf00"/><circle cx="989.0" cy="302.9" r="5.1" fill="#ff5500"/><circle cx="1003.0" cy="302.9" r="5.1" fill="#ff5500"/><circle cx="1020.0" cy="302.9" r="5.0" fill="#ffaa00"/><circle cx="973.5" cy="318.0" r="4.7" fill="#ffff20"/><circle cx="1031.0" cy="297.2" r="5.1" fill="#ff5500"/><circle cx="1011.0" cy="254.5" r="5.1" fill="#ff5500"/><circle cx="1018.0" cy="257.3" r="5.0" fill="#ff9500"/><circle cx="985.0" cy="271.6" r="5.1" fill="#ff5500"/><circle cx="1040.0" cy="263.0" r="5.1" fill="#ff5500"/><circle cx="1051.0" cy="137.6" r="5.3" fill="#ff1500"/><circle cx="1052.0" cy="146.2" r="5.4" fill="#ea0000"/><circle cx="1058.0" cy="154.7" r="5.4" fill="#ff0000"/><circle cx="1062.0" cy="154.7" r="5.4" fill="#ea0000"/><circle cx="1050.0" cy="160.4" r="5.3" fill="#ff1500"/><circle cx="1053.0" cy="171.8" r="5.3" fill="#ff1500"/><circle cx="1054.0" cy="177.5" r="5.4" fill="#ea0000"/><circle cx="1045.0" cy="176.1" r="5.1" fill="#ff6a00"/><circle cx="1050.0" cy="184.6" r="5.1" fill="#ff8000"/><circle cx="1058.0" cy="184.6" r="5.3" fill="#ff1500"/><circle cx="1062.0" cy="188.9" r="5.4" fill="#ea0000"/><circle cx="1044.0" cy="187.5" r="5.1" fill="#ff8000"/><circle cx="1052.0" cy="200.3" r="5.4" fill="#ea0000"/><circle cx="1054.5" cy="133.5" r="5.6" fill="#aa0000"/><circle cx="1055.1" cy="132.6" r="5.5" fill="#bf0000"/><circle cx="1056.3" cy="136.1" r="5.5" fill="#bf0000"/><circle cx="1057.0" cy="135.6" r="5.6" fill="#aa0000"/><circle cx="1057.4" cy="134.1" r="5.6" fill="#aa0000"/><circle cx="1058.5" cy="132.3" r="5.6" fill="#aa0000"/><circle cx="1059.9" cy="126.4" r="5.6" fill="#aa0000"/><circle cx="1060.3" cy="134.7" r="5.6" fill="#950000"/><circle cx="1061.2" cy="133.4" r="5.6" fill="#aa0000"/><circle cx="1062.1" cy="122.6" r="5.6" fill="#950000"/><circle cx="1062.8" cy="129.6" r="5.6" fill="#aa0000"/><circle cx="1064.0" cy="126.0" r="5.6" fill="#aa0000"/><circle cx="1064.9" cy="127.7" r="5.6" fill="#950000"/><circle cx="1065.1" cy="125.6" r="5.5" fill="#bf0000"/><circle cx="1065.9" cy="129.5" r="5.6" fill="#aa0000"/><circle cx="1066.8" cy="132.9" r="5.6" fill="#aa0000"/><circle cx="1068.2" cy="126.8" r="5.6" fill="#950000"/><circle cx="1069.0" cy="125.4" r="5.5" fill="#bf0000"/><circle cx="1069.5" cy="129.9" r="5.5" fill="#bf0000"/><circle cx="1070.5" cy="130.2" r="5.6" fill="#aa0000"/><circle cx="1071.4" cy="136.0" r="5.6" fill="#aa0000"/><circle cx="1072.5" cy="135.1" r="5.6" fill="#950000"/><circle cx="1072.7" cy="135.0" r="5.6" fill="#aa0000"/><circle cx="1074.3" cy="133.3" r="5.5" fill="#bf0000"/><circle cx="1074.4" cy="130.4" r="5.6" fill="#950000"/><circle cx="1076.0" cy="132.0" r="5.6" fill="#aa0000"/><circle cx="1074.6" cy="141.2" r="5.7" fill="#6a0000"/><circle cx="1075.3" cy="136.5" r="5.7" fill="#6a0000"/><circle cx="1075.9" cy="143.7" r="5.7" fill="#800000"/><circle cx="1076.2" cy="134.9" r="5.7" fill="#6a0000"/><circle cx="1076.9" cy="137.0" r="5.8" fill="#550000"/><circle cx="1077.8" cy="138.9" r="5.7" fill="#6a0000"/><circle cx="1078.4" cy="137.3" r="5.7" fill="#6a0000"/><circle cx="1079.7" cy="143.5" r="5.7" fill="#6a0000"/><circle cx="1079.8" cy="137.0" r="5.7" fill="#6a0000"/><circle cx="1080.5" cy="143.1" r="5.8" fill="#550000"/><circle cx="1081.5" cy="137.4" r="5.7" fill="#6a0000"/><circle cx="1082.0" cy="138.8" r="5.7" fill="#6a0000"/><circle cx="1082.7" cy="135.9" r="5.7" fill="#6a0000"/><circle cx="1083.6" cy="141.4" r="5.7" fill="#6a0000"/><circle cx="1084.1" cy="134.1" r="5.7" fill="#6a0000"/><circle cx="1085.2" cy="139.2" r="5.7" fill="#800000"/><circle cx="1085.9" cy="129.5" r="5.7" fill="#6a0000"/><circle cx="1086.9" cy="135.1" r="5.7" fill="#6a0000"/><circle cx="1087.6" cy="136.8" r="5.7" fill="#6a0000"/><circle cx="1088.3" cy="133.2" r="5.8" fill="#550000"/><circle cx="1088.7" cy="132.2" r="5.7" fill="#6a0000"/><circle cx="1089.8" cy="127.9" r="5.7" fill="#6a0000"/><circle cx="1090.5" cy="127.1" r="5.7" fill="#800000"/><circle cx="1090.8" cy="127.8" r="5.7" fill="#800000"/><circle cx="1091.6" cy="130.1" r="5.7" fill="#800000"/><circle cx="1092.8" cy="119.7" r="5.8" fill="#550000"/><circle cx="1093.2" cy="128.0" r="5.7" fill="#800000"/><circle cx="1094.2" cy="119.8" r="5.7" fill="#6a0000"/><circle cx="1094.8" cy="123.6" r="5.7" fill="#800000"/><circle cx="1095.6" cy="120.4" r="5.7" fill="#6a0000"/><circle cx="1096.4" cy="121.2" r="5.7" fill="#6a0000"/><circle cx="1096.8" cy="118.1" r="5.7" fill="#800000"/><circle cx="1097.4" cy="117.2" r="5.7" fill="#6a0000"/><circle cx="1098.4" cy="124.5" r="5.8" fill="#550000"/><circle cx="1099.0" cy="122.6" r="5.7" fill="#6a0000"/><circle cx="1099.6" cy="113.8" r="5.7" fill="#6a0000"/><circle cx="1099.0" cy="117.7" r="5.7" fill="#6a0000"/><circle cx="1100.0" cy="127.6" r="5.7" fill="#6a0000"/><circle cx="1078.0" cy="119.1" r="5.7" fill="#6a0000"/><circle cx="1100.0" cy="137.6" r="5.7" fill="#6a0000"/><circle cx="1099.7" cy="142.2" r="5.7" fill="#6a0000"/><circle cx="1099.9" cy="160.4" r="5.7" fill="#800000"/><circle cx="1100.2" cy="171.8" r="5.7" fill="#6a0000"/><circle cx="1099.5" cy="186.9" r="5.8" fill="#550000"/><circle cx="1100.3" cy="207.1" r="5.7" fill="#800000"/><circle cx="1100.0" cy="228.2" r="5.7" fill="#6a0000"/><circle cx="1100.2" cy="243.1" r="5.7" fill="#6a0000"/><circle cx="1100.2" cy="258.2" r="5.7" fill="#800000"/><circle cx="1100.4" cy="278.1" r="5.7" fill="#6a0000"/><circle cx="1099.9" cy="293.2" r="5.8" fill="#550000"/><circle cx="1100.2" cy="302.9" r="5.7" fill="#6a0000"/><circle cx="1099.6" cy="308.6" r="5.7" fill="#6a0000"/><circle cx="1099.9" cy="312.9" r="5.8" fill="#550000"/><circle cx="1099.6" cy="317.2" r="5.8" fill="#550000"/><circle cx="1100.3" cy="320.0" r="5.7" fill="#800000"/><circle cx="1099.8" cy="322.9" r="5.7" fill="#6a0000"/><circle cx="1099.8" cy="325.7" r="5.7" fill="#6a0000"/><circle cx="1100.0" cy="328.6" r="5.7" fill="#6a0000"/><circle cx="1099.6" cy="331.4" r="5.7" fill="#6a0000"/><circle cx="1100.3" cy="332.8" r="5.8" fill="#550000"/><circle cx="1101.0" cy="322.9" r="5.5" fill="#d40000"/><circle cx="1102.0" cy="325.7" r="5.3" fill="#ff1500"/><circle cx="1103.0" cy="330.0" r="4.8" fill="#ffea00"/><circle cx="1104.0" cy="331.4" r="4.7" fill="#ffff40"/><circle cx="1101.0" cy="335.7" r="5.9" fill="#150000"/><circle cx="1102.1" cy="336.0" r="5.9" fill="#150000"/><circle cx="1103.1" cy="336.3" r="5.9" fill="#150000"/><circle cx="1104.2" cy="336.6" r="5.9" fill="#150000"/><circle cx="1105.2" cy="337.0" r="5.9" fill="#150000"/><circle cx="1106.3" cy="337.3" r="5.9" fill="#150000"/><circle cx="1107.3" cy="337.6" r="5.9" fill="#150000"/><circle cx="1108.4" cy="337.8" r="5.9" fill="#150000"/><circle cx="1109.4" cy="338.1" r="5.9" fill="#150000"/><circle cx="1110.5" cy="338.3" r="5.9" fill="#150000"/><circle cx="1111.5" cy="338.6" r="5.9" fill="#150000"/><circle cx="1112.6" cy="338.8" r="5.9" fill="#150000"/><circle cx="1113.6" cy="339.0" r="5.9" fill="#150000"/><circle cx="1114.7" cy="339.1" r="5.9" fill="#150000"/><circle cx="1115.7" cy="339.3" r="5.9" fill="#150000"/><circle cx="1116.8" cy="339.4" r="5.9" fill="#150000"/><circle cx="1117.8" cy="339.5" r="5.9" fill="#150000"/><circle cx="1118.9" cy="339.6" r="5.9" fill="#150000"/><circle cx="1119.9" cy="339.6" r="5.9" fill="#150000"/><circle cx="1121.0" cy="339.6" r="5.9" fill="#150000"/><circle cx="1122.0" cy="339.6" r="5.9" fill="#150000"/><circle cx="1123.1" cy="339.5" r="5.9" fill="#150000"/><circle cx="1124.1" cy="339.4" r="5.9" fill="#150000"/><circle cx="1125.2" cy="339.3" r="5.9" fill="#150000"/><circle cx="1126.2" cy="339.2" r="5.9" fill="#150000"/><circle cx="1127.3" cy="339.0" r="5.9" fill="#150000"/><circle cx="1128.3" cy="338.8" r="5.9" fill="#150000"/><circle cx="1129.4" cy="338.6" r="5.9" fill="#150000"/><circle cx="1130.4" cy="338.3" r="5.9" fill="#150000"/><circle cx="1131.5" cy="338.0" r="5.9" fill="#150000"/><circle cx="1132.5" cy="337.7" r="5.9" fill="#150000"/><circle cx="1133.6" cy="337.4" r="4.3" fill="#ffffff"/><circle cx="1134.6" cy="337.0" r="4.3" fill="#ffffff"/><circle cx="1135.7" cy="336.7" r="4.3" fill="#ffffff"/><circle cx="1136.7" cy="336.3" r="4.3" fill="#ffffff"/><circle cx="1137.8" cy="335.8" r="4.3" fill="#ffffff"/><circle cx="1138.8" cy="335.4" r="4.3" fill="#ffffff"/><circle cx="1139.9" cy="335.0" r="4.3" fill="#ffffff"/><circle cx="1140.9" cy="334.5" r="4.3" fill="#ffffff"/><circle cx="1142.0" cy="334.0" r="4.3" fill="#ffffff"/></g>
<g fill="#0cc65a" stroke="#06a845" stroke-width="0.45"><use href="#gs" x="974.8" y="243.3"/><use href="#gs" x="700.0" y="250.8"/><use href="#gs" x="554.7" y="241.9"/><use href="#gs" x="486.2" y="280.0"/><use href="#gs" x="1090.3" y="302.2"/><use href="#gs" x="228.9" y="289.7"/><use href="#gs" x="777.3" y="295.0"/><use href="#gs" x="390.8" y="228.1"/><use href="#gs" x="229.6" y="280.1"/><use href="#gs" x="115.5" y="275.6"/><use href="#gs" x="456.7" y="265.1"/><use href="#gs" x="412.6" y="282.8"/><use href="#gs" x="85.2" y="275.3"/><use href="#gs" x="251.8" y="281.0"/><use href="#gs" x="153.8" y="292.3"/><use href="#gs" x="368.3" y="281.4"/><use href="#gs" x="805.2" y="275.9"/><use href="#gs" x="96.4" y="234.6"/><use href="#gs" x="484.5" y="266.6"/><use href="#gs" x="509.1" y="281.9"/><use href="#gs" x="834.1" y="261.3"/><use href="#gs" x="779.3" y="270.2"/><use href="#gs" x="984.0" y="257.4"/><use href="#gs" x="383.3" y="332.4"/><use href="#gs" x="308.3" y="291.3"/><use href="#gs" x="852.5" y="301.1"/><use href="#gs" x="874.7" y="245.8"/><use href="#gs" x="363.1" y="289.2"/><use href="#gs" x="386.7" y="260.5"/><use href="#gs" x="652.5" y="289.8"/><use href="#gs" x="926.1" y="292.4"/><use href="#gs" x="847.1" y="289.3"/><use href="#gs" x="485.7" y="320.4"/><use href="#gs" x="474.0" y="280.1"/><use href="#gs" x="212.2" y="252.1"/><use href="#gs" x="949.7" y="274.8"/><use href="#gs" x="900.9" y="280.0"/><use href="#gs" x="769.2" y="291.5"/><use href="#gs" x="1046.8" y="299.9"/><use href="#gs" x="628.2" y="263.9"/><use href="#gs" x="386.5" y="252.3"/><use href="#gs" x="1056.0" y="257.0"/><use href="#gs" x="858.4" y="294.3"/><use href="#gs" x="858.4" y="263.2"/><use href="#gs" x="1030.4" y="241.2"/><use href="#gs" x="669.4" y="255.3"/><use href="#gs" x="142.2" y="281.6"/><use href="#gs" x="576.5" y="218.6"/><use href="#gs" x="486.0" y="262.7"/><use href="#gs" x="976.6" y="244.0"/><use href="#gs" x="370.7" y="248.8"/><use href="#gs" x="187.5" y="260.7"/><use href="#gs" x="435.5" y="253.3"/><use href="#gs" x="619.8" y="300.5"/><use href="#gs" x="413.0" y="280.1"/><use href="#gs" x="110.6" y="269.7"/><use href="#gs" x="874.6" y="235.2"/><use href="#gs" x="378.9" y="245.7"/><use href="#gs" x="145.3" y="224.1"/><use href="#gs" x="325.3" y="267.0"/><use href="#gs" x="524.4" y="254.5"/><use href="#gs" x="874.2" y="297.3"/><use href="#gs" x="1017.8" y="245.5"/><use href="#gs" x="146.4" y="287.5"/><use href="#gs" x="940.8" y="307.8"/><use href="#gs" x="562.2" y="276.7"/><use href="#gs" x="821.9" y="285.7"/><use href="#gs" x="667.2" y="286.4"/><use href="#gs" x="272.7" y="243.6"/><use href="#gs" x="886.5" y="274.1"/><use href="#gs" x="1059.5" y="284.2"/><use href="#gs" x="582.2" y="268.6"/><use href="#gs" x="335.8" y="264.6"/><use href="#gs" x="1023.3" y="258.6"/><use href="#gs" x="792.1" y="269.9"/><use href="#gs" x="411.6" y="278.1"/><use href="#gs" x="375.5" y="308.1"/><use href="#gs" x="374.5" y="257.5"/><use href="#gs" x="925.5" y="234.8"/><use href="#gs" x="835.4" y="289.7"/><use href="#gs" x="838.2" y="234.2"/><use href="#gs" x="373.5" y="282.2"/><use href="#gs" x="659.4" y="287.8"/><use href="#gs" x="809.8" y="325.3"/><use href="#gs" x="617.1" y="260.4"/><use href="#gs" x="822.1" y="248.9"/><use href="#gs" x="1083.6" y="289.5"/><use href="#gs" x="570.2" y="274.4"/><use href="#gs" x="449.8" y="239.2"/><use href="#gs" x="1048.0" y="241.8"/><use href="#gs" x="770.6" y="233.3"/><use href="#gs" x="807.1" y="264.8"/><use href="#gs" x="591.4" y="245.2"/><use href="#gs" x="381.9" y="266.0"/><use href="#gs" x="450.0" y="244.8"/><use href="#gs" x="1083.1" y="255.2"/><use href="#gs" x="748.9" y="270.0"/><use href="#gs" x="213.2" y="249.1"/><use href="#gs" x="942.5" y="266.4"/><use href="#gs" x="879.2" y="264.1"/><use href="#gs" x="753.4" y="258.3"/><use href="#gs" x="135.2" y="259.4"/><use href="#gs" x="869.7" y="258.2"/><use href="#gs" x="329.8" y="266.7"/><use href="#gs" x="724.1" y="272.6"/><use href="#gs" x="765.2" y="286.4"/><use href="#gs" x="551.7" y="281.7"/><use href="#gs" x="334.2" y="283.5"/><use href="#gs" x="1005.3" y="281.7"/><use href="#gs" x="266.2" y="253.4"/><use href="#gs" x="157.3" y="304.8"/><use href="#gs" x="870.8" y="247.3"/><use href="#gs" x="1021.6" y="245.3"/><use href="#gs" x="540.9" y="290.7"/><use href="#gs" x="582.0" y="258.3"/><use href="#gs" x="787.1" y="327.9"/><use href="#gs" x="591.5" y="255.5"/><use href="#gs" x="1069.7" y="302.0"/><use href="#gs" x="590.7" y="249.6"/><use href="#gs" x="117.8" y="299.6"/><use href="#gs" x="917.9" y="266.0"/><use href="#gs" x="788.8" y="277.7"/><use href="#gs" x="902.4" y="304.9"/><use href="#gs" x="322.1" y="300.3"/><use href="#gs" x="645.2" y="259.9"/><use href="#gs" x="275.8" y="290.0"/><use href="#gs" x="360.3" y="296.9"/><use href="#gs" x="666.9" y="248.6"/><use href="#gs" x="437.4" y="266.3"/><use href="#gs" x="556.5" y="283.6"/><use href="#gs" x="282.2" y="292.5"/><use href="#gs" x="301.7" y="288.4"/><use href="#gs" x="514.4" y="275.6"/><use href="#gs" x="308.8" y="290.7"/><use href="#gs" x="659.0" y="293.7"/><use href="#gs" x="199.5" y="277.1"/><use href="#gs" x="962.8" y="287.9"/><use href="#gs" x="575.2" y="288.8"/><use href="#gs" x="598.9" y="247.1"/><use href="#gs" x="789.7" y="277.6"/><use href="#gs" x="769.9" y="260.0"/><use href="#gs" x="945.0" y="246.9"/><use href="#gs" x="590.2" y="283.1"/><use href="#gs" x="382.7" y="258.2"/><use href="#gs" x="862.8" y="273.4"/><use href="#gs" x="981.9" y="299.0"/><use href="#gs" x="294.3" y="258.1"/><use href="#gs" x="708.2" y="268.3"/><use href="#gs" x="1042.4" y="270.6"/><use href="#gs" x="513.2" y="270.5"/><use href="#gs" x="580.3" y="244.5"/><use href="#gs" x="673.3" y="250.6"/><use href="#gs" x="559.2" y="316.2"/><use href="#gs" x="385.9" y="251.1"/><use href="#gs" x="564.8" y="286.3"/><use href="#gs" x="837.5" y="281.4"/><use href="#gs" x="457.9" y="286.9"/><use href="#gs" x="980.5" y="238.5"/><use href="#gs" x="1005.3" y="258.9"/><use href="#gs" x="1071.1" y="265.0"/><use href="#gs" x="996.5" y="273.2"/><use href="#gs" x="761.8" y="270.0"/><use href="#gs" x="277.9" y="274.2"/><use href="#gs" x="134.4" y="257.0"/><use href="#gs" x="676.2" y="283.3"/><use href="#gs" x="496.7" y="282.6"/><use href="#gs" x="145.5" y="299.4"/><use href="#gs" x="667.9" y="272.8"/><use href="#gs" x="175.7" y="275.3"/><use href="#gs" x="327.7" y="302.1"/><use href="#gs" x="847.0" y="263.7"/><use href="#gs" x="477.4" y="274.1"/><use href="#gs" x="778.1" y="225.3"/><use href="#gs" x="170.9" y="292.0"/><use href="#gs" x="701.1" y="266.1"/><use href="#gs" x="491.2" y="247.3"/><use href="#gs" x="374.6" y="263.9"/><use href="#gs" x="976.5" y="272.6"/><use href="#gs" x="887.6" y="245.2"/><use href="#gs" x="720.4" y="283.4"/><use href="#gs" x="814.2" y="242.8"/><use href="#gs" x="222.5" y="278.3"/><use href="#gs" x="881.9" y="278.3"/><use href="#gs" x="130.5" y="274.7"/><use href="#gs" x="669.9" y="242.0"/><use href="#gs" x="91.3" y="274.0"/><use href="#gs" x="319.9" y="265.7"/><use href="#gs" x="107.3" y="311.4"/><use href="#gs" x="594.5" y="276.3"/><use href="#gs" x="793.0" y="288.7"/><use href="#gs" x="162.0" y="244.7"/><use href="#gs" x="754.3" y="271.6"/><use href="#gs" x="246.6" y="225.0"/><use href="#gs" x="233.8" y="294.0"/><use href="#gs" x="491.3" y="277.6"/><use href="#gs" x="978.4" y="306.1"/><use href="#gs" x="355.9" y="278.9"/><use href="#gs" x="737.8" y="249.9"/><use href="#gs" x="480.1" y="274.0"/><use href="#gs" x="834.1" y="306.3"/><use href="#gs" x="145.8" y="261.0"/><use href="#gs" x="400.4" y="250.9"/><use href="#gs" x="531.7" y="269.3"/><use href="#gs" x="308.3" y="253.6"/><use href="#gs" x="516.5" y="279.1"/><use href="#gs" x="613.3" y="284.4"/><use href="#gs" x="191.7" y="251.3"/><use href="#gs" x="846.1" y="271.0"/><use href="#gs" x="526.2" y="305.6"/><use href="#gs" x="967.6" y="254.9"/><use href="#gs" x="987.6" y="237.8"/><use href="#gs" x="375.5" y="274.5"/><use href="#gs" x="781.5" y="284.3"/><use href="#gs" x="471.3" y="253.8"/><use href="#gs" x="889.9" y="267.6"/><use href="#gs" x="727.1" y="253.8"/><use href="#gs" x="80.8" y="269.1"/><use href="#gs" x="551.3" y="286.2"/><use href="#gs" x="834.8" y="236.6"/><use href="#gs" x="236.2" y="271.3"/><use href="#gs" x="719.2" y="235.2"/><use href="#gs" x="363.1" y="270.2"/><use href="#gs" x="414.4" y="280.5"/><use href="#gs" x="496.3" y="265.7"/><use href="#gs" x="1093.2" y="278.2"/><use href="#gs" x="150.5" y="223.3"/><use href="#gs" x="631.3" y="240.3"/><use href="#gs" x="368.0" y="306.2"/><use href="#gs" x="558.0" y="261.2"/><use href="#gs" x="990.9" y="263.0"/><use href="#gs" x="173.3" y="282.7"/><use href="#gs" x="625.9" y="264.7"/><use href="#gs" x="393.1" y="257.5"/><use href="#gs" x="384.2" y="280.4"/><use href="#gs" x="81.2" y="270.8"/><use href="#gs" x="645.5" y="247.5"/><use href="#gs" x="548.4" y="248.5"/><use href="#gs" x="176.2" y="233.2"/><use href="#gs" x="790.4" y="266.0"/><use href="#gs" x="175.5" y="312.1"/><use href="#gs" x="435.1" y="246.0"/><use href="#gs" x="704.9" y="218.9"/><use href="#gs" x="422.2" y="258.0"/><use href="#gs" x="439.2" y="246.1"/><use href="#gs" x="204.6" y="230.4"/><use href="#gs" x="912.6" y="294.2"/><use href="#gs" x="137.7" y="268.0"/><use href="#gs" x="137.7" y="267.2"/><use href="#gs" x="770.6" y="321.3"/><use href="#gs" x="963.4" y="278.3"/><use href="#gs" x="553.6" y="311.4"/><use href="#gs" x="526.9" y="291.2"/><use href="#gs" x="212.7" y="297.2"/><use href="#gs" x="429.2" y="300.0"/><use href="#gs" x="821.4" y="280.0"/><use href="#gs" x="463.0" y="251.1"/><use href="#gs" x="596.5" y="290.6"/><use href="#gs" x="919.3" y="273.9"/><use href="#gs" x="751.3" y="292.2"/><use href="#gs" x="144.9" y="281.6"/><use href="#gs" x="737.0" y="302.5"/><use href="#gs" x="936.6" y="249.0"/><use href="#gs" x="224.6" y="298.3"/><use href="#gs" x="1043.7" y="308.2"/><use href="#gs" x="161.1" y="261.9"/><use href="#gs" x="335.8" y="267.5"/><use href="#gs" x="738.3" y="255.7"/><use href="#gs" x="766.0" y="317.3"/><use href="#gs" x="786.9" y="243.9"/><use href="#gs" x="104.9" y="233.5"/><use href="#gs" x="508.9" y="298.3"/><use href="#gs" x="999.8" y="294.5"/><use href="#gs" x="285.3" y="302.8"/><use href="#gs" x="266.1" y="322.7"/><use href="#gs" x="119.7" y="270.9"/><use href="#gs" x="110.6" y="285.3"/><use href="#gs" x="478.7" y="265.7"/><use href="#gs" x="951.3" y="294.6"/><use href="#gs" x="363.8" y="297.7"/><use href="#gs" x="132.5" y="280.7"/><use href="#gs" x="684.7" y="222.3"/><use href="#gs" x="195.0" y="246.4"/><use href="#gs" x="930.7" y="242.4"/><use href="#gs" x="721.4" y="286.3"/><use href="#gs" x="863.2" y="219.8"/><use href="#gs" x="747.1" y="262.1"/><use href="#gs" x="485.0" y="238.8"/><use href="#gs" x="936.1" y="299.8"/><use href="#gs" x="1095.9" y="282.2"/><use href="#gs" x="179.2" y="260.6"/><use href="#gs" x="722.2" y="297.3"/><use href="#gs" x="213.8" y="256.2"/><use href="#gs" x="270.3" y="275.1"/><use href="#gs" x="281.9" y="248.5"/><use href="#gs" x="981.3" y="257.3"/><use href="#gs" x="620.2" y="235.5"/><use href="#gs" x="534.3" y="302.4"/><use href="#gs" x="652.3" y="284.3"/><use href="#gs" x="139.8" y="293.1"/><use href="#gs" x="297.9" y="301.0"/><use href="#gs" x="260.1" y="281.5"/><use href="#gs" x="1090.9" y="318.9"/><use href="#gs" x="800.5" y="253.0"/><use href="#gs" x="1022.3" y="282.3"/><use href="#gs" x="348.5" y="253.9"/><use href="#gs" x="363.9" y="303.0"/><use href="#gs" x="1023.1" y="294.0"/><use href="#gs" x="797.5" y="272.4"/><use href="#gs" x="615.2" y="199.4"/><use href="#gs" x="952.4" y="316.2"/><use href="#gs" x="120.0" y="295.5"/><use href="#gs" x="507.5" y="273.6"/><use href="#gs" x="797.1" y="269.4"/><use href="#gs" x="243.1" y="295.5"/><use href="#gs" x="286.0" y="253.0"/><use href="#gs" x="804.4" y="281.2"/><use href="#gs" x="873.3" y="256.6"/><use href="#gs" x="434.5" y="288.5"/><use href="#gs" x="926.6" y="230.6"/><use href="#gs" x="861.4" y="280.6"/><use href="#gs" x="882.2" y="298.7"/><use href="#gs" x="425.5" y="263.1"/><use href="#gs" x="139.8" y="223.0"/><use href="#gs" x="753.9" y="199.3"/><use href="#gs" x="120.5" y="276.1"/><use href="#gs" x="782.6" y="231.5"/><use href="#gs" x="936.3" y="269.2"/><use href="#gs" x="906.5" y="240.4"/><use href="#gs" x="449.9" y="280.6"/><use href="#gs" x="390.7" y="299.4"/><use href="#gs" x="744.9" y="254.3"/><use href="#gs" x="985.7" y="253.4"/><use href="#gs" x="856.4" y="289.5"/><use href="#gs" x="398.9" y="272.9"/><use href="#gs" x="684.9" y="263.5"/><use href="#gs" x="776.3" y="284.5"/><use href="#gs" x="401.5" y="279.2"/><use href="#gs" x="801.6" y="280.9"/><use href="#gs" x="330.8" y="264.7"/><use href="#gs" x="417.0" y="257.8"/><use href="#gs" x="901.3" y="224.6"/><use href="#gs" x="735.9" y="246.3"/><use href="#gs" x="796.0" y="262.4"/><use href="#gs" x="631.5" y="286.4"/><use href="#gs" x="978.8" y="269.1"/><use href="#gs" x="754.5" y="279.0"/><use href="#gs" x="435.3" y="249.3"/><use href="#gs" x="243.6" y="286.7"/><use href="#gs" x="564.6" y="292.0"/><use href="#gs" x="515.6" y="263.5"/><use href="#gs" x="424.8" y="268.7"/><use href="#gs" x="430.1" y="269.8"/><use href="#gs" x="691.7" y="279.7"/><use href="#gs" x="665.5" y="301.9"/><use href="#gs" x="1061.7" y="286.3"/><use href="#gs" x="153.0" y="267.8"/><use href="#gs" x="856.8" y="244.8"/><use href="#gs" x="194.0" y="330.5"/><use href="#gs" x="625.8" y="290.6"/><use href="#gs" x="1024.3" y="275.1"/><use href="#gs" x="310.8" y="248.0"/><use href="#gs" x="353.1" y="256.3"/><use href="#gs" x="863.0" y="254.7"/><use href="#gs" x="933.4" y="276.6"/><use href="#gs" x="316.1" y="290.2"/><use href="#gs" x="665.6" y="259.1"/><use href="#gs" x="866.1" y="266.8"/><use href="#gs" x="477.4" y="275.2"/><use href="#gs" x="913.2" y="285.9"/><use href="#gs" x="231.9" y="299.0"/><use href="#gs" x="895.8" y="302.3"/><use href="#gs" x="566.3" y="269.5"/><use href="#gs" x="736.4" y="267.2"/><use href="#gs" x="262.4" y="290.4"/><use href="#gs" x="655.5" y="292.5"/><use href="#gs" x="344.8" y="273.3"/><use href="#gs" x="468.5" y="272.2"/><use href="#gs" x="1075.3" y="279.3"/><use href="#gs" x="952.3" y="292.3"/><use href="#gs" x="893.4" y="281.4"/><use href="#gs" x="1095.7" y="254.9"/><use href="#gs" x="681.6" y="276.8"/><use href="#gs" x="1018.6" y="282.9"/><use href="#gs" x="223.8" y="285.9"/><use href="#gs" x="896.4" y="292.0"/><use href="#gs" x="294.0" y="322.2"/><use href="#gs" x="1093.5" y="227.6"/><use href="#gs" x="894.3" y="278.0"/><use href="#gs" x="293.0" y="256.7"/><use href="#gs" x="320.3" y="277.5"/><use href="#gs" x="999.4" y="286.9"/><use href="#gs" x="928.1" y="270.1"/><use href="#gs" x="214.8" y="282.2"/><use href="#gs" x="287.3" y="257.2"/><use href="#gs" x="795.1" y="275.3"/><use href="#gs" x="137.5" y="252.1"/><use href="#gs" x="322.6" y="312.2"/><use href="#gs" x="722.2" y="287.7"/><use href="#gs" x="587.6" y="276.6"/><use href="#gs" x="450.8" y="222.7"/><use href="#gs" x="467.5" y="247.4"/><use href="#gs" x="267.2" y="285.5"/><use href="#gs" x="100.6" y="256.6"/><use href="#gs" x="961.9" y="259.4"/><use href="#gs" x="568.9" y="236.3"/><use href="#gs" x="437.1" y="299.4"/><use href="#gs" x="370.2" y="275.3"/><use href="#gs" x="392.5" y="259.9"/><use href="#gs" x="612.1" y="287.6"/><use href="#gs" x="585.0" y="272.6"/><use href="#gs" x="1001.6" y="252.7"/><use href="#gs" x="847.5" y="248.5"/><use href="#gs" x="808.1" y="289.4"/><use href="#gs" x="320.0" y="276.9"/><use href="#gs" x="274.0" y="261.4"/><use href="#gs" x="871.4" y="287.8"/><use href="#gs" x="788.2" y="267.7"/><use href="#gs" x="467.6" y="253.9"/><use href="#gs" x="962.8" y="313.4"/><use href="#gs" x="1089.8" y="240.2"/><use href="#gs" x="678.8" y="293.7"/><use href="#gs" x="493.9" y="280.6"/><use href="#gs" x="920.7" y="254.4"/><use href="#gs" x="880.3" y="276.2"/><use href="#gs" x="783.9" y="279.7"/><use href="#gs" x="890.5" y="232.1"/><use href="#gs" x="569.2" y="285.3"/><use href="#gs" x="1052.0" y="273.7"/><use href="#gs" x="738.9" y="255.1"/><use href="#gs" x="105.4" y="283.7"/><use href="#gs" x="473.2" y="278.1"/><use href="#gs" x="353.3" y="302.8"/><use href="#gs" x="514.0" y="257.3"/><use href="#gs" x="510.0" y="263.7"/><use href="#gs" x="86.4" y="251.9"/><use href="#gs" x="258.6" y="242.5"/><use href="#gs" x="906.5" y="275.4"/><use href="#gs" x="1048.5" y="258.0"/><use href="#gs" x="937.7" y="293.2"/><use href="#gs" x="849.9" y="268.4"/><use href="#gs" x="151.6" y="303.5"/><use href="#gs" x="681.0" y="315.5"/><use href="#gs" x="142.2" y="279.2"/><use href="#gs" x="980.1" y="211.4"/><use href="#gs" x="980.2" y="265.4"/><use href="#gs" x="593.0" y="276.4"/><use href="#gs" x="1076.9" y="251.0"/><use href="#gs" x="398.7" y="287.9"/><use href="#gs" x="1072.9" y="260.6"/><use href="#gs" x="337.1" y="241.2"/><use href="#gs" x="456.1" y="279.5"/><use href="#gs" x="703.9" y="289.3"/><use href="#gs" x="1026.9" y="268.9"/><use href="#gs" x="744.7" y="299.6"/><use href="#gs" x="111.8" y="240.7"/><use href="#gs" x="322.6" y="265.2"/><use href="#gs" x="777.1" y="295.8"/><use href="#gs" x="492.8" y="277.6"/><use href="#gs" x="681.9" y="261.4"/><use href="#gs" x="704.1" y="300.1"/><use href="#gs" x="82.2" y="301.3"/><use href="#gs" x="228.3" y="272.8"/><use href="#gs" x="272.4" y="278.8"/><use href="#gs" x="783.6" y="256.7"/><use href="#gs" x="745.4" y="285.4"/><use href="#gs" x="256.3" y="267.4"/><use href="#gs" x="768.7" y="277.2"/><use href="#gs" x="591.1" y="257.4"/><use href="#gs" x="259.4" y="235.7"/><use href="#gs" x="343.1" y="269.3"/><use href="#gs" x="644.8" y="247.1"/><use href="#gs" x="332.8" y="253.3"/><use href="#gs" x="212.4" y="248.6"/><use href="#gs" x="894.5" y="273.0"/><use href="#gs" x="695.1" y="298.5"/><use href="#gs" x="560.0" y="274.4"/><use href="#gs" x="891.4" y="278.7"/><use href="#gs" x="638.6" y="269.5"/><use href="#gs" x="559.1" y="274.2"/><use href="#gs" x="425.9" y="280.3"/><use href="#gs" x="337.9" y="308.0"/><use href="#gs" x="826.8" y="278.2"/><use href="#gs" x="953.5" y="275.4"/><use href="#gs" x="715.0" y="280.8"/><use href="#gs" x="121.2" y="278.3"/><use href="#gs" x="663.0" y="223.0"/><use href="#gs" x="1009.2" y="249.6"/><use href="#gs" x="572.3" y="302.4"/><use href="#gs" x="919.9" y="266.1"/><use href="#gs" x="272.2" y="276.0"/><use href="#gs" x="585.7" y="316.1"/><use href="#gs" x="940.4" y="330.3"/><use href="#gs" x="80.1" y="291.2"/><use href="#gs" x="573.1" y="313.6"/><use href="#gs" x="1035.3" y="294.4"/><use href="#gs" x="261.1" y="302.9"/><use href="#gs" x="483.8" y="304.7"/><use href="#gs" x="1014.2" y="277.3"/><use href="#gs" x="731.5" y="281.5"/><use href="#gs" x="837.4" y="272.6"/><use href="#gs" x="553.9" y="280.9"/><use href="#gs" x="949.0" y="298.2"/><use href="#gs" x="912.6" y="283.2"/><use href="#gs" x="181.7" y="307.4"/><use href="#gs" x="825.4" y="286.6"/><use href="#gs" x="1041.0" y="316.2"/><use href="#gs" x="857.9" y="303.5"/><use href="#gs" x="839.5" y="248.2"/><use href="#gs" x="1018.0" y="299.2"/><use href="#gs" x="299.9" y="274.7"/><use href="#gs" x="939.1" y="278.2"/><use href="#gs" x="930.1" y="259.3"/><use href="#gs" x="881.6" y="287.1"/><use href="#gs" x="730.0" y="253.7"/><use href="#gs" x="618.1" y="324.7"/><use href="#gs" x="172.0" y="248.1"/><use href="#gs" x="230.5" y="287.1"/><use href="#gs" x="715.7" y="256.1"/><use href="#gs" x="1003.5" y="306.9"/><use href="#gs" x="292.7" y="284.3"/><use href="#gs" x="830.1" y="278.1"/><use href="#gs" x="780.9" y="239.3"/><use href="#gs" x="323.9" y="233.3"/><use href="#gs" x="150.4" y="258.5"/><use href="#gs" x="1043.6" y="261.0"/><use href="#gs" x="293.5" y="274.7"/><use href="#gs" x="821.0" y="258.2"/><use href="#gs" x="1055.5" y="222.3"/><use href="#gs" x="519.8" y="237.8"/><use href="#gs" x="358.8" y="263.6"/><use href="#gs" x="552.7" y="310.2"/><use href="#gs" x="1027.7" y="253.6"/><use href="#gs" x="199.4" y="242.8"/><use href="#gs" x="210.7" y="284.6"/><use href="#gs" x="1097.9" y="315.1"/><use href="#gs" x="809.5" y="283.0"/><use href="#gs" x="681.0" y="221.2"/><use href="#gs" x="206.4" y="272.0"/><use href="#gs" x="355.8" y="289.1"/><use href="#gs" x="662.6" y="325.2"/><use href="#gs" x="420.6" y="294.5"/><use href="#gs" x="637.3" y="295.5"/><use href="#gs" x="248.3" y="246.2"/><use href="#gs" x="659.9" y="286.5"/><use href="#gs" x="957.3" y="272.6"/><use href="#gs" x="562.0" y="281.8"/><use href="#gs" x="158.1" y="268.6"/><use href="#gs" x="944.5" y="256.1"/><use href="#gs" x="1083.9" y="262.1"/><use href="#gs" x="303.7" y="294.4"/><use href="#gs" x="853.3" y="228.1"/><use href="#gs" x="261.8" y="271.4"/><use href="#gs" x="644.9" y="276.4"/><use href="#gs" x="619.6" y="263.6"/><use href="#gs" x="941.7" y="302.8"/><use href="#gs" x="426.9" y="305.7"/><use href="#gs" x="672.8" y="284.1"/><use href="#gs" x="472.2" y="265.8"/><use href="#gs" x="444.3" y="279.0"/><use href="#gs" x="740.7" y="291.2"/><use href="#gs" x="646.1" y="262.2"/><use href="#gs" x="755.4" y="258.4"/><use href="#gs" x="539.1" y="254.9"/><use href="#gs" x="490.9" y="255.6"/><use href="#gs" x="789.5" y="239.8"/><use href="#gs" x="328.0" y="257.4"/><use href="#gs" x="833.7" y="315.3"/><use href="#gs" x="85.8" y="282.2"/><use href="#gs" x="963.8" y="279.2"/><use href="#gs" x="790.5" y="257.2"/><use href="#gs" x="837.6" y="272.3"/><use href="#gs" x="220.9" y="276.2"/><use href="#gs" x="697.2" y="261.8"/><use href="#gs" x="335.6" y="248.3"/><use href="#gs" x="1062.9" y="247.7"/><use href="#gs" x="223.4" y="301.3"/><use href="#gs" x="481.2" y="294.4"/><use href="#gs" x="178.1" y="268.3"/><use href="#gs" x="128.7" y="262.3"/><use href="#gs" x="93.4" y="279.2"/><use href="#gs" x="406.5" y="260.1"/><use href="#gs" x="270.6" y="318.1"/><use href="#gs" x="703.0" y="277.1"/><use href="#gs" x="347.9" y="247.8"/><use href="#gs" x="1025.5" y="274.7"/><use href="#gs" x="1036.1" y="310.5"/><use href="#gs" x="872.8" y="274.1"/><use href="#gs" x="471.3" y="328.3"/><use href="#gs" x="1041.7" y="256.1"/><use href="#gs" x="751.9" y="269.8"/><use href="#gs" x="879.1" y="269.0"/><use href="#gs" x="362.4" y="279.6"/><use href="#gs" x="928.1" y="279.3"/><use href="#gs" x="799.8" y="248.2"/><use href="#gs" x="522.4" y="269.8"/><use href="#gs" x="708.4" y="272.5"/><use href="#gs" x="993.3" y="294.4"/><use href="#gs" x="596.2" y="264.8"/><use href="#gs" x="481.3" y="258.9"/><use href="#gs" x="368.1" y="253.3"/><use href="#gs" x="790.3" y="236.1"/><use href="#gs" x="1070.1" y="246.1"/><use href="#gs" x="1017.4" y="282.6"/><use href="#gs" x="703.9" y="298.0"/><use href="#gs" x="570.9" y="235.4"/><use href="#gs" x="292.7" y="304.8"/><use href="#gs" x="503.4" y="299.5"/><use href="#gs" x="479.1" y="231.9"/><use href="#gs" x="77.7" y="265.0"/><use href="#gs" x="962.2" y="232.6"/><use href="#gs" x="357.5" y="263.7"/><use href="#gs" x="512.1" y="258.5"/><use href="#gs" x="568.6" y="306.3"/><use href="#gs" x="765.5" y="291.7"/><use href="#gs" x="673.0" y="240.9"/><use href="#gs" x="152.5" y="264.3"/><use href="#gs" x="566.8" y="241.2"/><use href="#gs" x="290.4" y="278.5"/><use href="#gs" x="788.3" y="317.7"/><use href="#gs" x="164.1" y="278.1"/><use href="#gs" x="186.3" y="293.0"/><use href="#gs" x="717.0" y="223.6"/><use href="#gs" x="723.7" y="248.3"/><use href="#gs" x="114.6" y="298.5"/><use href="#gs" x="341.7" y="276.0"/><use href="#gs" x="753.2" y="255.4"/><use href="#gs" x="129.9" y="274.2"/><use href="#gs" x="497.1" y="268.4"/><use href="#gs" x="398.9" y="299.6"/><use href="#gs" x="893.8" y="259.9"/><use href="#gs" x="1038.0" y="227.0"/><use href="#gs" x="462.1" y="293.8"/><use href="#gs" x="247.5" y="317.7"/><use href="#gs" x="994.9" y="256.9"/><use href="#gs" x="79.2" y="264.2"/><use href="#gs" x="616.3" y="290.7"/><use href="#gs" x="467.7" y="267.4"/><use href="#gs" x="491.1" y="258.0"/><use href="#gs" x="898.6" y="273.6"/><use href="#gs" x="871.1" y="308.5"/><use href="#gs" x="464.6" y="282.8"/><use href="#gs" x="611.8" y="242.3"/><use href="#gs" x="1012.4" y="299.6"/><use href="#gs" x="441.4" y="254.9"/><use href="#gs" x="658.3" y="278.2"/><use href="#gs" x="670.9" y="266.9"/><use href="#gs" x="216.7" y="274.6"/><use href="#gs" x="434.5" y="289.9"/><use href="#gs" x="1022.0" y="262.4"/><use href="#gs" x="793.7" y="239.4"/><use href="#gs" x="354.6" y="189.3"/><use href="#gs" x="386.4" y="286.1"/><use href="#gs" x="504.8" y="291.3"/><use href="#gs" x="162.1" y="258.5"/><use href="#gs" x="672.0" y="204.2"/><use href="#gs" x="462.9" y="288.0"/><use href="#gs" x="463.1" y="291.2"/><use href="#gs" x="820.3" y="281.7"/><use href="#gs" x="922.8" y="260.4"/><use href="#gs" x="808.6" y="229.5"/><use href="#gs" x="607.0" y="250.6"/><use href="#gs" x="238.8" y="232.4"/><use href="#gs" x="448.4" y="262.1"/><use href="#gs" x="413.6" y="302.8"/><use href="#gs" x="660.6" y="251.3"/><use href="#gs" x="631.5" y="240.3"/><use href="#gs" x="822.1" y="228.8"/><use href="#gs" x="668.2" y="306.5"/><use href="#gs" x="990.8" y="256.2"/><use href="#gs" x="876.0" y="225.6"/><use href="#gs" x="931.3" y="261.2"/><use href="#gs" x="336.1" y="324.3"/><use href="#gs" x="680.0" y="189.1"/><use href="#gs" x="667.0" y="305.3"/><use href="#gs" x="994.8" y="231.1"/><use href="#gs" x="554.4" y="308.4"/><use href="#gs" x="530.3" y="236.1"/><use href="#gs" x="581.3" y="283.8"/><use href="#gs" x="310.2" y="265.4"/><use href="#gs" x="942.1" y="263.6"/><use href="#gs" x="1155.5" y="213.8"/><use href="#gs" x="1127.5" y="251.5"/><use href="#gs" x="1122.4" y="223.2"/><use href="#gs" x="1146.3" y="294.8"/><use href="#gs" x="1109.6" y="255.6"/><use href="#gs" x="1117.8" y="239.2"/><use href="#gs" x="1118.9" y="228.8"/><use href="#gs" x="1104.8" y="266.8"/><use href="#gs" x="1159.3" y="228.6"/><use href="#gs" x="1102.0" y="305.1"/><use href="#gs" x="1110.9" y="256.6"/><use href="#gs" x="1129.0" y="281.2"/><use href="#gs" x="1108.3" y="280.6"/><use href="#gs" x="1121.3" y="211.1"/><use href="#gs" x="1129.1" y="243.2"/><use href="#gs" x="1128.7" y="229.6"/><use href="#gs" x="1130.2" y="236.6"/><use href="#gs" x="1151.5" y="280.4"/><use href="#gs" x="1138.3" y="304.8"/><use href="#gs" x="1143.2" y="288.3"/><use href="#gs" x="1134.6" y="273.2"/><use href="#gs" x="1152.5" y="263.9"/><use href="#gs" x="1114.6" y="260.4"/><use href="#gs" x="1099.8" y="252.8"/><use href="#gs" x="1101.3" y="272.8"/><use href="#gs" x="1146.8" y="257.4"/><use href="#gs" x="1130.1" y="245.7"/><use href="#gs" x="1108.1" y="246.2"/><use href="#gs" x="1116.6" y="277.7"/><use href="#gs" x="1156.3" y="247.6"/><use href="#gs" x="1132.3" y="224.4"/><use href="#gs" x="1141.6" y="290.5"/><use href="#gs" x="1149.7" y="271.7"/><use href="#gs" x="1129.6" y="250.3"/><use href="#gs" x="1127.4" y="284.6"/><use href="#gs" x="1149.2" y="257.1"/><use href="#gs" x="1125.9" y="254.0"/><use href="#gs" x="1100.5" y="258.7"/><use href="#gs" x="1125.2" y="255.9"/><use href="#gs" x="1145.3" y="309.1"/><use href="#gs" x="1123.6" y="284.7"/><use href="#gs" x="1108.8" y="266.0"/><use href="#gs" x="1125.8" y="264.3"/><use href="#gs" x="1155.1" y="291.7"/><use href="#gs" x="1121.0" y="280.9"/><use href="#gs" x="1116.1" y="272.1"/><use href="#gs" x="1110.6" y="253.9"/><use href="#gs" x="1147.1" y="247.2"/><use href="#gs" x="1103.0" y="291.2"/><use href="#gs" x="1112.5" y="295.7"/><use href="#gs" x="1131.6" y="256.9"/><use href="#gs" x="1135.7" y="229.1"/><use href="#gs" x="1138.3" y="253.4"/><use href="#gs" x="1121.1" y="233.3"/><use href="#gs" x="1113.1" y="254.4"/><use href="#gs" x="1142.1" y="233.4"/><use href="#gs" x="1129.1" y="264.1"/><use href="#gs" x="1128.6" y="251.0"/><use href="#gs" x="1141.8" y="270.8"/><use href="#gs" x="1128.8" y="255.8"/><use href="#gs" x="1131.7" y="250.3"/><use href="#gs" x="1113.3" y="238.4"/><use href="#gs" x="1119.1" y="286.0"/><use href="#gs" x="1118.1" y="254.9"/><use href="#gs" x="1118.6" y="274.0"/><use href="#gs" x="1108.4" y="291.9"/><use href="#gs" x="1125.5" y="284.0"/><use href="#gs" x="1151.5" y="239.8"/><use href="#gs" x="1151.0" y="288.3"/><use href="#gs" x="1118.3" y="280.5"/><use href="#gs" x="1131.2" y="264.9"/><use href="#gs" x="1147.0" y="246.2"/><use href="#gs" x="1114.7" y="272.6"/><use href="#gs" x="1123.0" y="261.3"/><use href="#gs" x="1148.3" y="254.1"/><use href="#gs" x="1104.3" y="290.2"/><use href="#gs" x="1118.1" y="245.5"/><use href="#gs" x="1116.1" y="265.7"/><use href="#gs" x="1148.8" y="262.4"/><use href="#gs" x="1137.8" y="228.7"/><use href="#gs" x="1113.0" y="237.4"/><use href="#gs" x="1133.6" y="246.7"/><use href="#gs" x="1120.0" y="230.4"/><use href="#gs" x="1155.7" y="251.6"/><use href="#gs" x="1120.0" y="289.5"/><use href="#gs" x="1117.8" y="303.6"/><use href="#gs" x="1145.6" y="246.6"/><use href="#gs" x="1135.7" y="255.2"/><use href="#gs" x="1152.0" y="295.6"/><use href="#gs" x="1151.9" y="234.6"/><use href="#gs" x="1120.2" y="209.3"/><use href="#gs" x="1153.5" y="260.2"/><use href="#gs" x="1108.5" y="302.5"/><use href="#gs" x="1117.7" y="310.7"/><use href="#gs" x="1109.8" y="273.1"/><use href="#gs" x="1151.5" y="253.2"/><use href="#gs" x="1123.9" y="285.9"/><use href="#gs" x="1141.7" y="263.6"/><use href="#gs" x="1105.3" y="268.9"/><use href="#gs" x="1118.8" y="284.6"/><use href="#gs" x="1134.8" y="266.5"/><use href="#gs" x="1157.3" y="247.9"/><use href="#gs" x="1107.5" y="268.6"/><use href="#gs" x="1156.0" y="265.6"/><use href="#gs" x="1126.7" y="239.2"/><use href="#gs" x="1115.3" y="265.1"/><use href="#gs" x="1134.7" y="283.7"/><use href="#gs" x="1142.1" y="308.3"/><use href="#gs" x="1132.7" y="215.3"/><use href="#gs" x="1101.5" y="258.6"/><use href="#gs" x="1111.5" y="281.5"/><use href="#gs" x="1148.0" y="228.8"/><use href="#gs" x="1153.4" y="287.4"/><use href="#gs" x="1154.5" y="284.0"/><use href="#gs" x="1141.4" y="267.0"/><use href="#gs" x="1144.6" y="250.2"/><use href="#gs" x="1150.9" y="265.6"/><use href="#gs" x="1109.2" y="238.1"/><use href="#gs" x="1099.7" y="216.5"/><use href="#gs" x="1111.9" y="229.6"/><use href="#gs" x="1141.4" y="236.3"/><use href="#gs" x="1112.5" y="258.5"/><use href="#gs" x="1112.0" y="242.6"/><use href="#gs" x="1133.8" y="241.9"/><use href="#gs" x="1148.8" y="278.5"/><use href="#gs" x="1115.2" y="253.9"/><use href="#gs" x="1152.1" y="268.1"/><use href="#gs" x="1110.2" y="264.3"/><use href="#gs" x="1112.5" y="301.3"/><use href="#gs" x="1155.2" y="265.0"/><use href="#gs" x="1139.3" y="270.3"/><use href="#gs" x="1122.4" y="263.7"/><use href="#gs" x="1135.3" y="268.5"/><use href="#gs" x="1133.6" y="263.3"/><use href="#gs" x="1111.9" y="222.5"/><use href="#gs" x="1114.2" y="239.3"/><use href="#gs" x="1120.3" y="287.1"/><use href="#gs" x="1125.4" y="278.4"/><use href="#gs" x="1139.6" y="291.1"/><use href="#gs" x="1104.9" y="246.2"/><use href="#gs" x="1140.9" y="255.5"/><use href="#gs" x="1137.4" y="268.6"/><use href="#gs" x="1119.5" y="298.0"/><use href="#gs" x="1107.8" y="286.6"/><use href="#gs" x="1148.5" y="262.9"/><use href="#gs" x="1144.4" y="249.2"/><use href="#gs" x="1151.7" y="247.7"/><use href="#gs" x="1113.7" y="229.0"/><use href="#gs" x="1154.7" y="238.9"/><use href="#gs" x="1116.0" y="203.4"/><use href="#gs" x="1114.6" y="220.0"/><use href="#gs" x="1108.9" y="251.7"/><use href="#gs" x="1117.5" y="280.5"/><use href="#gs" x="1128.7" y="234.6"/><use href="#gs" x="1133.3" y="273.8"/><use href="#gs" x="1142.4" y="238.5"/><use href="#gs" x="1099.1" y="242.6"/><use href="#gs" x="1129.1" y="240.9"/><use href="#gs" x="1115.1" y="212.3"/><use href="#gs" x="1102.1" y="279.9"/><use href="#gs" x="1157.2" y="277.0"/><use href="#gs" x="1121.0" y="276.9"/><use href="#gs" x="1148.3" y="240.3"/><use href="#gs" x="1126.5" y="275.5"/><use href="#gs" x="1158.4" y="245.6"/><use href="#gs" x="1155.8" y="255.5"/><use href="#gs" x="1135.5" y="266.5"/><use href="#gs" x="1140.1" y="249.0"/><use href="#gs" x="1156.0" y="245.4"/><use href="#gs" x="1128.6" y="257.7"/><use href="#gs" x="1146.0" y="283.0"/><use href="#gs" x="1102.6" y="286.4"/><use href="#gs" x="1109.3" y="277.6"/><use href="#gs" x="1141.4" y="250.7"/><use href="#gs" x="1132.4" y="249.5"/><use href="#gs" x="1109.0" y="291.6"/><use href="#gs" x="1109.2" y="257.9"/><use href="#gs" x="1110.5" y="308.7"/><use href="#gs" x="1131.5" y="304.0"/><use href="#gs" x="1158.8" y="259.5"/><use href="#gs" x="1146.5" y="253.9"/><use href="#gs" x="1103.3" y="249.7"/><use href="#gs" x="1120.7" y="293.8"/><use href="#gs" x="1142.4" y="235.2"/><use href="#gs" x="1157.5" y="264.3"/><use href="#gs" x="1154.6" y="265.3"/><use href="#gs" x="1144.1" y="276.4"/><use href="#gs" x="1118.7" y="261.4"/><use href="#gs" x="1125.0" y="255.0"/><use href="#gs" x="1127.0" y="261.8"/><use href="#gs" x="1112.1" y="238.9"/><use href="#gs" x="1157.1" y="236.0"/><use href="#gs" x="1136.8" y="283.4"/><use href="#gs" x="1116.8" y="258.6"/><use href="#gs" x="1132.6" y="253.8"/><use href="#gs" x="1155.2" y="232.4"/><use href="#gs" x="1145.5" y="293.6"/><use href="#gs" x="1108.3" y="283.9"/><use href="#gs" x="1099.6" y="263.9"/><use href="#gs" x="1115.3" y="256.0"/><use href="#gs" x="1106.3" y="293.7"/><use href="#gs" x="1113.8" y="236.1"/><use href="#gs" x="1151.2" y="258.3"/><use href="#gs" x="1127.2" y="237.2"/><use href="#gs" x="1139.6" y="250.6"/><use href="#gs" x="1114.1" y="252.2"/><use href="#gs" x="1123.4" y="232.1"/><use href="#gs" x="1130.4" y="255.0"/><use href="#gs" x="1100.0" y="218.7"/><use href="#gs" x="1105.5" y="307.2"/><use href="#gs" x="1150.4" y="256.5"/><use href="#gs" x="1144.0" y="280.8"/><use href="#gs" x="1100.9" y="296.0"/><use href="#gs" x="1141.7" y="299.7"/><use href="#gs" x="1145.1" y="238.3"/><use href="#gs" x="1149.9" y="278.9"/><use href="#gs" x="1107.2" y="277.4"/><use href="#gs" x="1128.5" y="235.2"/><use href="#gs" x="1135.2" y="297.2"/><use href="#gs" x="1108.7" y="262.9"/><use href="#gs" x="1148.0" y="266.5"/><use href="#gs" x="1146.0" y="267.5"/><use href="#gs" x="1140.8" y="238.5"/><use href="#gs" x="1112.8" y="239.7"/><use href="#gs" x="1126.3" y="253.7"/><use href="#gs" x="1146.6" y="279.3"/><use href="#gs" x="1128.0" y="247.8"/><use href="#gs" x="1117.8" y="272.7"/><use href="#gs" x="1127.5" y="273.6"/><use href="#gs" x="1146.5" y="281.7"/><use href="#gs" x="1121.2" y="276.8"/><use href="#gs" x="1128.0" y="260.3"/><use href="#gs" x="1150.8" y="242.0"/><use href="#gs" x="1157.7" y="262.7"/><use href="#gs" x="1153.2" y="278.3"/><use href="#gs" x="1152.1" y="279.9"/><use href="#gs" x="1140.1" y="283.7"/><use href="#gs" x="1131.0" y="267.3"/><use href="#gs" x="1150.5" y="266.4"/><use href="#gs" x="1121.8" y="311.1"/><use href="#gs" x="1124.8" y="235.2"/><use href="#gs" x="1111.0" y="254.0"/><use href="#gs" x="1136.9" y="285.7"/><use href="#gs" x="1137.0" y="252.5"/><use href="#gs" x="1131.6" y="255.8"/><use href="#gs" x="1100.0" y="244.1"/><use href="#gs" x="1151.2" y="245.4"/><use href="#gs" x="1120.7" y="256.2"/><use href="#gs" x="1114.0" y="269.8"/><use href="#gs" x="1133.0" y="278.3"/><use href="#gs" x="1151.6" y="284.8"/><use href="#gs" x="1143.5" y="289.3"/><use href="#gs" x="1113.2" y="275.6"/><use href="#gs" x="1136.5" y="264.4"/><use href="#gs" x="1154.6" y="315.8"/><use href="#gs" x="1133.7" y="270.3"/><use href="#gs" x="1102.5" y="243.2"/><use href="#gs" x="1135.1" y="272.7"/><use href="#gs" x="1156.8" y="263.5"/><use href="#gs" x="1100.0" y="240.7"/><use href="#gs" x="1120.0" y="259.4"/><use href="#gs" x="1107.8" y="263.2"/><use href="#gs" x="1136.9" y="259.9"/><use href="#gs" x="1120.8" y="297.5"/><use href="#gs" x="1142.5" y="258.5"/><use href="#gs" x="1117.3" y="287.6"/><use href="#gs" x="1128.9" y="293.1"/><use href="#gs" x="1129.7" y="243.4"/><use href="#gs" x="1149.5" y="252.8"/><use href="#gs" x="1116.2" y="227.4"/><use href="#gs" x="1123.5" y="278.8"/><use href="#gs" x="1156.0" y="261.3"/><use href="#gs" x="1121.7" y="311.7"/><use href="#gs" x="1129.6" y="281.2"/><use href="#gs" x="1150.2" y="228.2"/><use href="#gs" x="1122.8" y="274.3"/><use href="#gs" x="1132.5" y="256.7"/><use href="#gs" x="1158.3" y="266.9"/><use href="#gs" x="1107.9" y="284.2"/><use href="#gs" x="1109.0" y="274.3"/><use href="#gs" x="1151.5" y="252.2"/><use href="#gs" x="1133.0" y="211.8"/><use href="#gs" x="1101.6" y="291.6"/><use href="#gs" x="1157.1" y="245.0"/><use href="#gs" x="1119.2" y="257.7"/><use href="#gs" x="1101.6" y="240.2"/><use href="#gs" x="1146.8" y="269.4"/><use href="#gs" x="1132.6" y="266.1"/><use href="#gs" x="1141.7" y="292.7"/><use href="#gs" x="1123.0" y="251.9"/><use href="#gs" x="1106.6" y="242.8"/><use href="#gs" x="1108.3" y="282.9"/><use href="#gs" x="1151.9" y="283.0"/><use href="#gs" x="1111.1" y="242.1"/><use href="#gs" x="1145.6" y="250.5"/><use href="#gs" x="1148.8" y="258.4"/><use href="#gs" x="1121.3" y="253.9"/><use href="#gs" x="1152.1" y="262.5"/><use href="#gs" x="1120.2" y="299.0"/><use href="#gs" x="1149.1" y="252.7"/><use href="#gs" x="1115.9" y="288.9"/><use href="#gs" x="1154.9" y="236.2"/><use href="#gs" x="1117.8" y="240.4"/><use href="#gs" x="1104.0" y="290.8"/><use href="#gs" x="1136.7" y="272.9"/><use href="#gs" x="1099.7" y="257.4"/><use href="#gs" x="1119.7" y="281.6"/><use href="#gs" x="1109.9" y="289.4"/><use href="#gs" x="1102.0" y="245.7"/><use href="#gs" x="1125.2" y="238.9"/><use href="#gs" x="1146.6" y="280.9"/><use href="#gs" x="1150.0" y="231.6"/><use href="#gs" x="1123.1" y="243.1"/><use href="#gs" x="1108.6" y="305.3"/><use href="#gs" x="1137.8" y="231.3"/><use href="#gs" x="1138.0" y="289.6"/><use href="#gs" x="1134.3" y="261.2"/><use href="#gs" x="1145.3" y="270.4"/><use href="#gs" x="1126.2" y="277.5"/><use href="#gs" x="1144.9" y="262.2"/><use href="#gs" x="1155.2" y="248.0"/><use href="#gs" x="1157.7" y="232.7"/><use href="#gs" x="1158.3" y="291.3"/><use href="#gs" x="1104.0" y="298.7"/><use href="#gs" x="1100.9" y="270.7"/><use href="#gs" x="1156.9" y="236.5"/><use href="#gs" x="1127.9" y="240.9"/><use href="#gs" x="1141.4" y="248.5"/><use href="#gs" x="1138.0" y="269.8"/><use href="#gs" x="1142.7" y="248.6"/><use href="#gs" x="1103.2" y="218.1"/><use href="#gs" x="1105.0" y="249.2"/><use href="#gs" x="1103.5" y="273.8"/><use href="#gs" x="1105.1" y="265.2"/><use href="#gs" x="1103.2" y="279.5"/><use href="#gs" x="1104.9" y="286.8"/><use href="#gs" x="1104.1" y="259.0"/><use href="#gs" x="1105.5" y="212.9"/><use href="#gs" x="1103.9" y="200.4"/><use href="#gs" x="1105.5" y="290.1"/><use href="#gs" x="1101.7" y="220.2"/><use href="#gs" x="1101.9" y="239.3"/><use href="#gs" x="1105.3" y="228.7"/><use href="#gs" x="1102.3" y="246.1"/><use href="#gs" x="1104.1" y="246.7"/><use href="#gs" x="1105.2" y="226.7"/><use href="#gs" x="1104.8" y="251.4"/><use href="#gs" x="1106.0" y="225.3"/><use href="#gs" x="1104.4" y="281.8"/><use href="#gs" x="1103.1" y="204.9"/><use href="#gs" x="1104.7" y="198.5"/><use href="#gs" x="1104.2" y="245.5"/><use href="#gs" x="1105.3" y="222.7"/><use href="#gs" x="1100.3" y="236.0"/><use href="#gs" x="1105.2" y="274.7"/><use href="#gs" x="1101.3" y="223.0"/><use href="#gs" x="1102.6" y="269.2"/><use href="#gs" x="1104.5" y="186.1"/><use href="#gs" x="1102.9" y="207.3"/><use href="#gs" x="1105.7" y="200.1"/><use href="#gs" x="1199.2" y="285.3"/><use href="#gs" x="1185.7" y="257.8"/><use href="#gs" x="1200.2" y="275.4"/><use href="#gs" x="1223.8" y="276.1"/><use href="#gs" x="1179.8" y="258.3"/><use href="#gs" x="1277.2" y="278.6"/><use href="#gs" x="1170.2" y="271.7"/><use href="#gs" x="1200.3" y="286.9"/><use href="#gs" x="1201.6" y="264.1"/><use href="#gs" x="1209.1" y="259.5"/><use href="#gs" x="1193.5" y="274.1"/><use href="#gs" x="1190.0" y="321.7"/><use href="#gs" x="1251.3" y="264.2"/><use href="#gs" x="1231.7" y="254.3"/><use href="#gs" x="1209.8" y="256.5"/><use href="#gs" x="1221.6" y="247.9"/><use href="#gs" x="1264.0" y="266.3"/><use href="#gs" x="1223.4" y="307.1"/><use href="#gs" x="1280.3" y="267.9"/><use href="#gs" x="1178.6" y="307.3"/><use href="#gs" x="1222.5" y="272.1"/><use href="#gs" x="1233.1" y="290.0"/><use href="#gs" x="1278.8" y="263.8"/><use href="#gs" x="1265.4" y="278.0"/><use href="#gs" x="1225.5" y="248.8"/><use href="#gs" x="1160.0" y="310.5"/><use href="#gs" x="1216.1" y="279.9"/><use href="#gs" x="1203.5" y="259.1"/><use href="#gs" x="1173.4" y="291.1"/><use href="#gs" x="1176.6" y="279.0"/><use href="#gs" x="1160.1" y="293.2"/><use href="#gs" x="1257.7" y="293.3"/><use href="#gs" x="1236.4" y="271.5"/><use href="#gs" x="1201.5" y="235.3"/><use href="#gs" x="1249.8" y="260.4"/><use href="#gs" x="1195.3" y="286.7"/><use href="#gs" x="1215.3" y="299.4"/><use href="#gs" x="1203.4" y="287.5"/><use href="#gs" x="1168.4" y="256.0"/><use href="#gs" x="1189.5" y="262.1"/><use href="#gs" x="1232.0" y="245.9"/><use href="#gs" x="1186.6" y="285.1"/><use href="#gs" x="1233.3" y="243.2"/><use href="#gs" x="1256.1" y="310.8"/><use href="#gs" x="1271.5" y="290.6"/><use href="#gs" x="1164.3" y="293.1"/><use href="#gs" x="1222.9" y="271.8"/><use href="#gs" x="1214.0" y="274.5"/><use href="#gs" x="1221.8" y="264.6"/><use href="#gs" x="1170.3" y="255.6"/><use href="#gs" x="1202.7" y="284.8"/><use href="#gs" x="1215.4" y="270.5"/><use href="#gs" x="1181.2" y="233.0"/><use href="#gs" x="1197.5" y="292.2"/><use href="#gs" x="1236.6" y="292.9"/><use href="#gs" x="1193.5" y="286.1"/><use href="#gs" x="1218.8" y="277.5"/><use href="#gs" x="1276.5" y="288.6"/><use href="#gs" x="1247.4" y="272.3"/><use href="#gs" x="1247.2" y="226.4"/><use href="#gs" x="1247.7" y="277.9"/><use href="#gs" x="1231.8" y="252.7"/><use href="#gs" x="1248.6" y="256.9"/><use href="#gs" x="1162.9" y="262.2"/><use href="#gs" x="1247.2" y="277.2"/><use href="#gs" x="1197.8" y="266.2"/><use href="#gs" x="1264.5" y="281.6"/><use href="#gs" x="1164.6" y="280.7"/><use href="#gs" x="1160.7" y="234.9"/><use href="#gs" x="1169.9" y="272.3"/><use href="#gs" x="1204.3" y="311.0"/><use href="#gs" x="1160.1" y="261.0"/><use href="#gs" x="1189.9" y="263.1"/><use href="#gs" x="1258.0" y="278.9"/><use href="#gs" x="1263.7" y="303.7"/><use href="#gs" x="1162.8" y="289.4"/><use href="#gs" x="1232.3" y="292.7"/><use href="#gs" x="1259.1" y="293.3"/><use href="#gs" x="1270.0" y="275.1"/><use href="#gs" x="1247.3" y="291.4"/><use href="#gs" x="1273.2" y="267.6"/><use href="#gs" x="1242.1" y="240.0"/><use href="#gs" x="1189.2" y="260.2"/><use href="#gs" x="1204.5" y="273.4"/><use href="#gs" x="1171.4" y="278.8"/><use href="#gs" x="1251.2" y="275.0"/><use href="#gs" x="1283.3" y="280.3"/><use href="#gs" x="1162.6" y="264.4"/><use href="#gs" x="1254.3" y="284.6"/><use href="#gs" x="1219.3" y="308.5"/><use href="#gs" x="1180.5" y="265.1"/><use href="#gs" x="1280.7" y="236.7"/><use href="#gs" x="1218.0" y="287.4"/><use href="#gs" x="1282.7" y="271.5"/><use href="#gs" x="1178.2" y="241.8"/><use href="#gs" x="1192.8" y="245.3"/><use href="#gs" x="1240.2" y="266.4"/><use href="#gs" x="1195.7" y="235.9"/><use href="#gs" x="1166.8" y="305.3"/><use href="#gs" x="1214.0" y="272.6"/><use href="#gs" x="1268.8" y="288.8"/><use href="#gs" x="1264.1" y="239.0"/><use href="#gs" x="1256.1" y="300.8"/><use href="#gs" x="1228.1" y="238.5"/><use href="#gs" x="1202.9" y="260.3"/><use href="#gs" x="1254.5" y="271.5"/><use href="#gs" x="1270.9" y="294.9"/><use href="#gs" x="1242.2" y="311.4"/><use href="#gs" x="1279.9" y="286.8"/><use href="#gs" x="1193.1" y="257.6"/><use href="#gs" x="1171.1" y="267.1"/><use href="#gs" x="1266.2" y="263.6"/><use href="#gs" x="1280.5" y="274.5"/><use href="#gs" x="1190.7" y="248.3"/><use href="#gs" x="1267.8" y="253.1"/><use href="#gs" x="1280.5" y="280.4"/><use href="#gs" x="1200.6" y="310.9"/><use href="#gs" x="1194.5" y="276.0"/><use href="#gs" x="1278.7" y="263.5"/><use href="#gs" x="1219.2" y="301.3"/><use href="#gs" x="1281.5" y="261.5"/><use href="#gs" x="1187.1" y="270.4"/><use href="#gs" x="1270.5" y="286.3"/><use href="#gs" x="1233.1" y="310.3"/><use href="#gs" x="1243.1" y="265.3"/><use href="#gs" x="1182.5" y="289.2"/><use href="#gs" x="1228.7" y="243.9"/><use href="#gs" x="1265.0" y="238.1"/><use href="#gs" x="1252.6" y="255.4"/><use href="#gs" x="1225.7" y="261.9"/><use href="#gs" x="1229.2" y="246.8"/><use href="#gs" x="1191.7" y="241.8"/><use href="#gs" x="1285.8" y="266.9"/><use href="#gs" x="1204.7" y="237.5"/><use href="#gs" x="1247.4" y="262.0"/><use href="#gs" x="1245.4" y="237.5"/><use href="#gs" x="1196.1" y="301.2"/><use href="#gs" x="1266.4" y="249.4"/><use href="#gs" x="1227.4" y="219.4"/><use href="#gs" x="1188.5" y="293.0"/><use href="#gs" x="1254.7" y="269.6"/><use href="#gs" x="1196.8" y="271.8"/><use href="#gs" x="1278.8" y="262.8"/><use href="#gs" x="1214.7" y="271.4"/><use href="#gs" x="1286.0" y="278.1"/><use href="#gs" x="1269.6" y="241.8"/><use href="#gs" x="1175.2" y="289.7"/><use href="#gs" x="1234.3" y="257.7"/><use href="#gs" x="1219.5" y="264.0"/><use href="#gs" x="1167.6" y="258.9"/><use href="#gs" x="1264.4" y="283.8"/><use href="#gs" x="1200.2" y="247.2"/><use href="#gs" x="1201.8" y="274.9"/><use href="#gs" x="1200.2" y="283.0"/><use href="#gs" x="1228.0" y="274.6"/><use href="#gs" x="1273.2" y="263.5"/><use href="#gs" x="1229.9" y="291.8"/><use href="#gs" x="1229.8" y="252.8"/><use href="#gs" x="1197.0" y="263.0"/><use href="#gs" x="1271.0" y="265.8"/><use href="#gs" x="1178.1" y="240.2"/><use href="#gs" x="1160.4" y="261.6"/><use href="#gs" x="1163.7" y="248.2"/><use href="#gs" x="1218.6" y="241.9"/><use href="#gs" x="1210.9" y="268.3"/><use href="#gs" x="1274.4" y="297.4"/><use href="#gs" x="1184.8" y="281.0"/><use href="#gs" x="1265.9" y="271.7"/><use href="#gs" x="1254.9" y="263.9"/><use href="#gs" x="1232.8" y="248.1"/><use href="#gs" x="1164.8" y="277.5"/><use href="#gs" x="1213.9" y="258.1"/><use href="#gs" x="1172.4" y="291.3"/><use href="#gs" x="1210.3" y="293.9"/><use href="#gs" x="1211.3" y="242.3"/><use href="#gs" x="1224.7" y="233.1"/><use href="#gs" x="1160.6" y="267.6"/><use href="#gs" x="1258.3" y="295.7"/><use href="#gs" x="1227.6" y="240.9"/><use href="#gs" x="1269.2" y="258.3"/><use href="#gs" x="1217.5" y="248.7"/><use href="#gs" x="1174.7" y="291.2"/><use href="#gs" x="1207.2" y="277.2"/><use href="#gs" x="1259.2" y="228.5"/><use href="#gs" x="1222.0" y="278.5"/><use href="#gs" x="1276.1" y="259.2"/><use href="#gs" x="1185.5" y="245.8"/><use href="#gs" x="1286.7" y="284.5"/><use href="#gs" x="1195.0" y="282.1"/><use href="#gs" x="1191.2" y="255.2"/><use href="#gs" x="1210.4" y="246.9"/><use href="#gs" x="1272.5" y="262.4"/><use href="#gs" x="1281.5" y="272.9"/><use href="#gs" x="1186.5" y="292.5"/><use href="#gs" x="1162.6" y="322.4"/><use href="#gs" x="1182.0" y="275.2"/><use href="#gs" x="1221.9" y="259.5"/><use href="#gs" x="1238.6" y="256.8"/><use href="#gs" x="1280.4" y="247.2"/><use href="#gs" x="1185.0" y="268.9"/><use href="#gs" x="1100.5" y="87.0"/><use href="#gs" x="1215.0" y="172.1"/><use href="#gs" x="971.0" y="169.0"/><use href="#gs" x="1101.0" y="160.1"/><use href="#gs" x="1100.5" y="167.9"/><use href="#gs" x="1100.0" y="141.8"/></g>
<path fill="#ffdc00" stroke="#222" stroke-width="1" d="M1100.20,56.98 L1102.67,63.79 L1109.90,64.03 L1104.19,68.48 L1106.20,75.44 L1100.20,71.38 L1094.20,75.44 L1096.21,68.48 L1090.50,64.03 L1097.73,63.79Z"/>
<line x1="76.4" y1="342.80" x2="87.9" y2="342.80" stroke="#404040" stroke-width="1.7"/>
<text x="68.9" y="349.80" text-anchor="end" class="tk">0</text>
<line x1="76.4" y1="285.80" x2="87.9" y2="285.80" stroke="#404040" stroke-width="1.7"/>
<text x="68.9" y="292.80" text-anchor="end" class="tk">0.2</text>
<line x1="76.4" y1="228.80" x2="87.9" y2="228.80" stroke="#404040" stroke-width="1.7"/>
<text x="68.9" y="235.80" text-anchor="end" class="tk">0.4</text>
<line x1="76.4" y1="171.80" x2="87.9" y2="171.80" stroke="#404040" stroke-width="1.7"/>
<text x="68.9" y="178.80" text-anchor="end" class="tk">0.6</text>
<line x1="76.4" y1="114.80" x2="87.9" y2="114.80" stroke="#404040" stroke-width="1.7"/>
<text x="68.9" y="121.80" text-anchor="end" class="tk">0.8</text>
<line x1="76.4" y1="57.80" x2="87.9" y2="57.80" stroke="#404040" stroke-width="1.7"/>
<text x="68.9" y="64.80" text-anchor="end" class="tk">1</text>
<line x1="1275.9" y1="342.80" x2="1287.4" y2="342.80" stroke="#404040" stroke-width="1.7"/>
<text x="1294.0" y="350.40" class="tk">-1</text>
<line x1="1275.9" y1="290.60" x2="1287.4" y2="290.60" stroke="#404040" stroke-width="1.7"/>
<text x="1294.0" y="298.20" class="tk">0</text>
<line x1="1275.9" y1="238.40" x2="1287.4" y2="238.40" stroke="#404040" stroke-width="1.7"/>
<text x="1294.0" y="246.00" class="tk">1</text>
<line x1="1275.9" y1="186.20" x2="1287.4" y2="186.20" stroke="#404040" stroke-width="1.7"/>
<text x="1294.0" y="193.80" class="tk">2</text>
<line x1="1275.9" y1="134.00" x2="1287.4" y2="134.00" stroke="#404040" stroke-width="1.7"/>
<text x="1294.0" y="141.60" class="tk">3</text>
<line x1="1275.9" y1="81.80" x2="1287.4" y2="81.80" stroke="#404040" stroke-width="1.7"/>
<text x="1294.0" y="89.40" class="tk">4</text>
<line x1="1275.9" y1="29.60" x2="1287.4" y2="29.60" stroke="#404040" stroke-width="1.7"/>
<text x="1294.0" y="37.20" class="tk">5</text>
<line x1="76.40" y1="342.8" x2="76.40" y2="331.3" stroke="#404040" stroke-width="1.7"/>
<line x1="76.40" y1="29.6" x2="76.40" y2="41.1" stroke="#404040" stroke-width="1.7"/>
<text x="76.40" y="369.00" text-anchor="middle" class="tk">11/03</text>
<line x1="379.15" y1="342.8" x2="379.15" y2="331.3" stroke="#404040" stroke-width="1.7"/>
<line x1="379.15" y1="29.6" x2="379.15" y2="41.1" stroke="#404040" stroke-width="1.7"/>
<text x="379.15" y="369.00" text-anchor="middle" class="tk">12/03</text>
<line x1="681.90" y1="342.8" x2="681.90" y2="331.3" stroke="#404040" stroke-width="1.7"/>
<line x1="681.90" y1="29.6" x2="681.90" y2="41.1" stroke="#404040" stroke-width="1.7"/>
<text x="681.90" y="369.00" text-anchor="middle" class="tk">13/03</text>
<line x1="984.65" y1="342.8" x2="984.65" y2="331.3" stroke="#404040" stroke-width="1.7"/>
<line x1="984.65" y1="29.6" x2="984.65" y2="41.1" stroke="#404040" stroke-width="1.7"/>
<text x="984.65" y="369.00" text-anchor="middle" class="tk">14/03</text>
<line x1="1287.40" y1="342.8" x2="1287.40" y2="331.3" stroke="#404040" stroke-width="1.7"/>
<line x1="1287.40" y1="29.6" x2="1287.40" y2="41.1" stroke="#404040" stroke-width="1.7"/>
<text x="1287.40" y="369.00" text-anchor="middle" class="tk">15/03</text>
<rect x="76.4" y="29.6" width="1211.0" height="313.2" fill="none" stroke="#404040" stroke-width="1.8"/>
<text x="681.9" y="391.50" text-anchor="middle" class="tk">time (day/month)</text>
<text transform="translate(35.8,186.2) rotate(-90)" text-anchor="middle" class="tk" style="font-size:19.7px">Alert Level</text>
<text transform="translate(1337.8,186.2) rotate(-90)" text-anchor="middle" class="tk" style="font-size:22px">Mw</text>
<text x="4.8" y="34.9" class="pl">a)</text>
<rect x="76.40" y="407.0" width="38.44" height="22.30" fill="#ffffff"/>
<rect x="114.24" y="407.0" width="38.44" height="22.30" fill="#ffffdf"/>
<rect x="152.09" y="407.0" width="38.44" height="22.30" fill="#ffffbf"/>
<rect x="189.93" y="407.0" width="38.44" height="22.30" fill="#ffff9f"/>
<rect x="227.78" y="407.0" width="38.44" height="22.30" fill="#ffff80"/>
<rect x="265.62" y="407.0" width="38.44" height="22.30" fill="#ffff60"/>
<rect x="303.46" y="407.0" width="38.44" height="22.30" fill="#ffff40"/>
<rect x="341.31" y="407.0" width="38.44" height="22.30" fill="#ffff20"/>
<rect x="379.15" y="407.0" width="38.44" height="22.30" fill="#ffff00"/>
<rect x="416.99" y="407.0" width="38.44" height="22.30" fill="#ffea00"/>
<rect x="454.84" y="407.0" width="38.44" height="22.30" fill="#ffd400"/>
<rect x="492.68" y="407.0" width="38.44" height="22.30" fill="#ffbf00"/>
<rect x="530.52" y="407.0" width="38.44" height="22.30" fill="#ffaa00"/>
<rect x="568.37" y="407.0" width="38.44" height="22.30" fill="#ff9500"/>
<rect x="606.21" y="407.0" width="38.44" height="22.30" fill="#ff8000"/>
<rect x="644.06" y="407.0" width="38.44" height="22.30" fill="#ff6a00"/>
<rect x="681.90" y="407.0" width="38.44" height="22.30" fill="#ff5500"/>
<rect x="719.74" y="407.0" width="38.44" height="22.30" fill="#ff4000"/>
<rect x="757.59" y="407.0" width="38.44" height="22.30" fill="#ff2a00"/>
<rect x="795.43" y="407.0" width="38.44" height="22.30" fill="#ff1500"/>
<rect x="833.27" y="407.0" width="38.44" height="22.30" fill="#ff0000"/>
<rect x="871.12" y="407.0" width="38.44" height="22.30" fill="#ea0000"/>
<rect x="908.96" y="407.0" width="38.44" height="22.30" fill="#d40000"/>
<rect x="946.81" y="407.0" width="38.44" height="22.30" fill="#bf0000"/>
<rect x="984.65" y="407.0" width="38.44" height="22.30" fill="#aa0000"/>
<rect x="1022.49" y="407.0" width="38.44" height="22.30" fill="#950000"/>
<rect x="1060.34" y="407.0" width="38.44" height="22.30" fill="#800000"/>
<rect x="1098.18" y="407.0" width="38.44" height="22.30" fill="#6a0000"/>
<rect x="1136.03" y="407.0" width="38.44" height="22.30" fill="#550000"/>
<rect x="1173.87" y="407.0" width="38.44" height="22.30" fill="#400000"/>
<rect x="1211.71" y="407.0" width="38.44" height="22.30" fill="#2a0000"/>
<rect x="1249.56" y="407.0" width="38.44" height="22.30" fill="#150000"/>
<rect x="76.4" y="407.0" width="1211.0" height="22.30" fill="none" stroke="#7a7a7a" stroke-width="1.4"/>
<text x="76.40" y="454.30" text-anchor="middle" class="tk">0</text>
<line x1="197.50" y1="429.3" x2="197.50" y2="418.0" stroke="#404040" stroke-width="1.3"/>
<text x="197.50" y="454.30" text-anchor="middle" class="tk">0.1</text>
<line x1="318.60" y1="429.3" x2="318.60" y2="418.0" stroke="#404040" stroke-width="1.3"/>
<text x="318.60" y="454.30" text-anchor="middle" class="tk">0.2</text>
<line x1="439.70" y1="429.3" x2="439.70" y2="418.0" stroke="#404040" stroke-width="1.3"/>
<text x="439.70" y="454.30" text-anchor="middle" class="tk">0.3</text>
<line x1="560.80" y1="429.3" x2="560.80" y2="418.0" stroke="#404040" stroke-width="1.3"/>
<text x="560.80" y="454.30" text-anchor="middle" class="tk">0.4</text>
<line x1="681.90" y1="429.3" x2="681.90" y2="418.0" stroke="#404040" stroke-width="1.3"/>
<text x="681.90" y="454.30" text-anchor="middle" class="tk">0.5</text>
<line x1="803.00" y1="429.3" x2="803.00" y2="418.0" stroke="#404040" stroke-width="1.3"/>
<text x="803.00" y="454.30" text-anchor="middle" class="tk">0.6</text>
<line x1="924.10" y1="429.3" x2="924.10" y2="418.0" stroke="#404040" stroke-width="1.3"/>
<text x="924.10" y="454.30" text-anchor="middle" class="tk">0.7</text>
<line x1="1045.20" y1="429.3" x2="1045.20" y2="418.0" stroke="#404040" stroke-width="1.3"/>
<text x="1045.20" y="454.30" text-anchor="middle" class="tk">0.8</text>
<line x1="1166.30" y1="429.3" x2="1166.30" y2="418.0" stroke="#404040" stroke-width="1.3"/>
<text x="1166.30" y="454.30" text-anchor="middle" class="tk">0.9</text>
<text x="1287.40" y="454.30" text-anchor="middle" class="tk">1</text>
<text x="681.9" y="478.60" text-anchor="middle" class="tk">alert level</text>
<line x1="76.4" y1="777.10" x2="1287.4" y2="777.10" stroke="#e3e3e3" stroke-width="1.2"/>
<line x1="76.4" y1="720.10" x2="1287.4" y2="720.10" stroke="#e3e3e3" stroke-width="1.2"/>
<line x1="76.4" y1="663.10" x2="1287.4" y2="663.10" stroke="#e3e3e3" stroke-width="1.2"/>
<line x1="76.4" y1="606.10" x2="1287.4" y2="606.10" stroke="#e3e3e3" stroke-width="1.2"/>
<line x1="76.4" y1="549.10" x2="1287.4" y2="549.10" stroke="#e3e3e3" stroke-width="1.2"/>
<line x1="249.40" y1="520.9" x2="249.40" y2="834.1" stroke="#e3e3e3" stroke-width="1.2"/>
<line x1="422.40" y1="520.9" x2="422.40" y2="834.1" stroke="#e3e3e3" stroke-width="1.2"/>
<line x1="595.40" y1="520.9" x2="595.40" y2="834.1" stroke="#e3e3e3" stroke-width="1.2"/>
<line x1="768.40" y1="520.9" x2="768.40" y2="834.1" stroke="#e3e3e3" stroke-width="1.2"/>
<line x1="941.40" y1="520.9" x2="941.40" y2="834.1" stroke="#e3e3e3" stroke-width="1.2"/>
<line x1="1114.40" y1="520.9" x2="1114.40" y2="834.1" stroke="#e3e3e3" stroke-width="1.2"/>
<line x1="76.4" y1="634.60" x2="1287.4" y2="634.60" stroke="#d40000" stroke-width="5.5" stroke-dasharray="21.2 22.65" stroke-dashoffset="0"/>
<line x1="929.4" y1="520.9" x2="929.4" y2="834.1" stroke="#000" stroke-width="3.5" stroke-dasharray="16.4 16.4"/>
<g stroke="#333" stroke-width="0.8"><circle cx="76.1" cy="793.2" r="4.6" fill="#ffff60"/><circle cx="77.0" cy="796.9" r="4.5" fill="#ffff9f"/><circle cx="78.2" cy="802.1" r="4.6" fill="#ffff80"/><circle cx="78.5" cy="806.0" r="4.5" fill="#ffff9f"/><circle cx="79.5" cy="794.3" r="4.6" fill="#ffff80"/><circle cx="80.2" cy="792.8" r="4.6" fill="#ffff80"/><circle cx="81.0" cy="809.0" r="4.5" fill="#ffff9f"/><circle cx="82.1" cy="801.9" r="4.5" fill="#ffff9f"/><circle cx="82.6" cy="791.8" r="4.6" fill="#ffff80"/><circle cx="83.3" cy="786.3" r="4.6" fill="#ffff60"/><circle cx="84.1" cy="809.3" r="4.6" fill="#ffff80"/><circle cx="84.7" cy="787.6" r="4.6" fill="#ffff80"/><circle cx="85.4" cy="793.8" r="4.6" fill="#ffff80"/><circle cx="86.2" cy="797.1" r="4.6" fill="#ffff60"/><circle cx="87.4" cy="803.6" r="4.6" fill="#ffff80"/><circle cx="87.9" cy="796.3" r="4.6" fill="#ffff80"/><circle cx="88.7" cy="793.0" r="4.7" fill="#ffff40"/><circle cx="89.1" cy="792.2" r="4.6" fill="#ffff80"/><circle cx="90.0" cy="794.0" r="4.6" fill="#ffff60"/><circle cx="90.9" cy="808.1" r="4.5" fill="#ffff9f"/><circle cx="91.9" cy="797.9" r="4.5" fill="#ffff9f"/><circle cx="92.2" cy="799.4" r="4.5" fill="#ffff9f"/><circle cx="93.0" cy="806.1" r="4.5" fill="#ffffbf"/><circle cx="94.3" cy="800.5" r="4.6" fill="#ffff80"/><circle cx="95.1" cy="803.9" r="4.5" fill="#ffff9f"/><circle cx="95.9" cy="795.1" r="4.6" fill="#ffff60"/><circle cx="96.4" cy="804.7" r="4.5" fill="#ffff9f"/><circle cx="97.2" cy="814.4" r="4.5" fill="#ffff9f"/><circle cx="98.3" cy="809.4" r="4.5" fill="#ffff9f"/><circle cx="98.4" cy="802.6" r="4.6" fill="#ffff60"/><circle cx="99.3" cy="810.8" r="4.5" fill="#ffff9f"/><circle cx="100.2" cy="793.5" r="4.6" fill="#ffff60"/><circle cx="101.4" cy="799.1" r="4.6" fill="#ffff80"/><circle cx="101.6" cy="807.0" r="4.6" fill="#ffff80"/><circle cx="102.8" cy="807.8" r="4.5" fill="#ffff9f"/><circle cx="102.9" cy="805.4" r="4.5" fill="#ffff9f"/><circle cx="104.1" cy="799.0" r="4.6" fill="#ffff80"/><circle cx="104.6" cy="797.0" r="4.6" fill="#ffff60"/><circle cx="105.3" cy="796.2" r="4.5" fill="#ffff9f"/><circle cx="106.3" cy="799.2" r="4.6" fill="#ffff80"/><circle cx="107.3" cy="800.6" r="4.6" fill="#ffff80"/><circle cx="108.0" cy="817.5" r="4.4" fill="#ffffdf"/><circle cx="108.5" cy="814.0" r="4.5" fill="#ffffbf"/><circle cx="109.6" cy="798.1" r="4.6" fill="#ffff80"/><circle cx="110.4" cy="812.2" r="4.4" fill="#ffffdf"/><circle cx="111.1" cy="808.1" r="4.5" fill="#ffff9f"/><circle cx="111.4" cy="797.4" r="4.6" fill="#ffff80"/><circle cx="112.8" cy="795.0" r="4.6" fill="#ffff80"/><circle cx="113.1" cy="808.1" r="4.5" fill="#ffff9f"/><circle cx="114.1" cy="797.2" r="4.6" fill="#ffff80"/><circle cx="114.7" cy="804.3" r="4.5" fill="#ffff9f"/><circle cx="115.9" cy="802.5" r="4.5" fill="#ffff9f"/><circle cx="116.6" cy="817.4" r="4.5" fill="#ffffbf"/><circle cx="117.2" cy="813.2" r="4.6" fill="#ffff80"/><circle cx="117.9" cy="808.5" r="4.5" fill="#ffff9f"/><circle cx="118.7" cy="810.3" r="4.5" fill="#ffff9f"/><circle cx="119.1" cy="798.9" r="4.6" fill="#ffff80"/><circle cx="120.6" cy="799.2" r="4.6" fill="#ffff80"/><circle cx="120.8" cy="797.9" r="4.6" fill="#ffff80"/><circle cx="122.0" cy="818.2" r="4.5" fill="#ffffbf"/><circle cx="122.8" cy="811.3" r="4.5" fill="#ffff9f"/><circle cx="123.3" cy="805.1" r="4.6" fill="#ffff60"/><circle cx="124.0" cy="798.7" r="4.6" fill="#ffff60"/><circle cx="124.9" cy="799.8" r="4.5" fill="#ffff9f"/><circle cx="125.6" cy="795.8" r="4.6" fill="#ffff80"/><circle cx="126.4" cy="803.0" r="4.5" fill="#ffff9f"/><circle cx="127.0" cy="801.8" r="4.5" fill="#ffff9f"/><circle cx="128.0" cy="809.7" r="4.5" fill="#ffffbf"/><circle cx="128.8" cy="810.1" r="4.5" fill="#ffffbf"/><circle cx="129.3" cy="813.3" r="4.5" fill="#ffffbf"/><circle cx="130.3" cy="816.8" r="4.5" fill="#ffffbf"/><circle cx="130.8" cy="815.8" r="4.5" fill="#ffffbf"/><circle cx="131.4" cy="821.8" r="4.4" fill="#ffffdf"/><circle cx="132.7" cy="799.2" r="4.6" fill="#ffff80"/><circle cx="133.3" cy="807.7" r="4.6" fill="#ffff80"/><circle cx="133.8" cy="800.1" r="4.6" fill="#ffff80"/><circle cx="135.1" cy="805.0" r="4.6" fill="#ffff80"/><circle cx="136.0" cy="802.8" r="4.5" fill="#ffff9f"/><circle cx="136.1" cy="813.7" r="4.5" fill="#ffffbf"/><circle cx="137.4" cy="806.6" r="4.6" fill="#ffff80"/><circle cx="137.9" cy="806.1" r="4.6" fill="#ffff80"/><circle cx="138.4" cy="815.8" r="4.5" fill="#ffffbf"/><circle cx="139.2" cy="803.3" r="4.6" fill="#ffff80"/><circle cx="139.9" cy="812.7" r="4.5" fill="#ffffbf"/><circle cx="140.8" cy="808.7" r="4.6" fill="#ffff80"/><circle cx="141.9" cy="808.2" r="4.5" fill="#ffff9f"/><circle cx="142.3" cy="799.5" r="4.6" fill="#ffff80"/><circle cx="143.4" cy="811.8" r="4.5" fill="#ffff9f"/><circle cx="143.7" cy="817.3" r="4.5" fill="#ffffbf"/><circle cx="144.5" cy="806.1" r="4.5" fill="#ffff9f"/><circle cx="145.3" cy="819.9" r="4.5" fill="#ffff9f"/><circle cx="146.5" cy="813.4" r="4.6" fill="#ffff60"/><circle cx="147.4" cy="810.2" r="4.5" fill="#ffff9f"/><circle cx="147.8" cy="812.3" r="4.5" fill="#ffff9f"/><circle cx="148.5" cy="808.8" r="4.5" fill="#ffff9f"/><circle cx="149.5" cy="822.8" r="4.5" fill="#ffffbf"/><circle cx="150.5" cy="807.6" r="4.5" fill="#ffff9f"/><circle cx="151.0" cy="821.5" r="4.4" fill="#ffffdf"/><circle cx="152.0" cy="826.4" r="4.4" fill="#ffffff"/><circle cx="153.0" cy="805.5" r="4.5" fill="#ffff9f"/><circle cx="153.3" cy="812.2" r="4.5" fill="#ffffbf"/><circle cx="154.1" cy="817.4" r="4.5" fill="#ffffbf"/><circle cx="154.6" cy="819.3" r="4.5" fill="#ffffbf"/><circle cx="156.0" cy="811.4" r="4.6" fill="#ffff80"/><circle cx="156.6" cy="814.4" r="4.5" fill="#ffffbf"/><circle cx="157.3" cy="826.6" r="4.4" fill="#ffffff"/><circle cx="157.6" cy="816.3" r="4.5" fill="#ffff9f"/><circle cx="158.4" cy="803.5" r="4.6" fill="#ffff80"/><circle cx="159.4" cy="821.9" r="4.5" fill="#ffffbf"/><circle cx="160.1" cy="821.2" r="4.4" fill="#ffffdf"/><circle cx="161.4" cy="823.8" r="4.5" fill="#ffffbf"/><circle cx="162.0" cy="810.7" r="4.5" fill="#ffff9f"/><circle cx="162.3" cy="817.2" r="4.4" fill="#ffffdf"/><circle cx="163.5" cy="817.2" r="4.5" fill="#ffffbf"/><circle cx="164.3" cy="816.0" r="4.5" fill="#ffff9f"/><circle cx="164.6" cy="811.2" r="4.5" fill="#ffff9f"/><circle cx="165.3" cy="823.2" r="4.5" fill="#ffff9f"/><circle cx="166.4" cy="826.9" r="4.4" fill="#ffffff"/><circle cx="167.0" cy="822.7" r="4.5" fill="#ffffbf"/><circle cx="168.0" cy="806.9" r="4.6" fill="#ffff80"/><circle cx="168.5" cy="825.7" r="4.4" fill="#ffffff"/><circle cx="169.8" cy="822.7" r="4.5" fill="#ffffbf"/><circle cx="170.4" cy="806.5" r="4.5" fill="#ffff9f"/><circle cx="170.9" cy="810.8" r="4.5" fill="#ffff9f"/><circle cx="172.0" cy="813.4" r="4.5" fill="#ffffbf"/><circle cx="172.6" cy="805.6" r="4.5" fill="#ffff9f"/><circle cx="173.1" cy="829.2" r="4.4" fill="#ffffff"/><circle cx="174.5" cy="819.7" r="4.5" fill="#ffff9f"/><circle cx="174.9" cy="812.1" r="4.5" fill="#ffffbf"/><circle cx="176.0" cy="818.4" r="4.4" fill="#ffffdf"/><circle cx="176.4" cy="815.5" r="4.5" fill="#ffff9f"/><circle cx="177.3" cy="816.3" r="4.5" fill="#ffff9f"/><circle cx="178.1" cy="808.8" r="4.5" fill="#ffff9f"/><circle cx="179.0" cy="815.1" r="4.5" fill="#ffffbf"/><circle cx="179.3" cy="831.6" r="4.4" fill="#ffffff"/><circle cx="180.2" cy="821.8" r="4.4" fill="#ffffdf"/><circle cx="180.8" cy="827.4" r="4.4" fill="#ffffff"/><circle cx="181.8" cy="808.1" r="4.5" fill="#ffff9f"/><circle cx="182.5" cy="832.3" r="4.4" fill="#ffffff"/><circle cx="183.0" cy="813.7" r="4.5" fill="#ffffbf"/><circle cx="183.8" cy="829.5" r="4.4" fill="#ffffff"/><circle cx="184.7" cy="830.1" r="4.4" fill="#ffffff"/><circle cx="185.3" cy="831.9" r="4.4" fill="#ffffff"/><circle cx="186.3" cy="831.9" r="4.4" fill="#ffffff"/><circle cx="187.3" cy="812.3" r="4.6" fill="#ffff80"/><circle cx="187.7" cy="809.0" r="4.5" fill="#ffff9f"/><circle cx="188.5" cy="828.1" r="4.4" fill="#ffffff"/><circle cx="189.8" cy="813.3" r="4.5" fill="#ffff9f"/><circle cx="189.9" cy="821.2" r="4.5" fill="#ffffbf"/><circle cx="191.4" cy="831.1" r="4.4" fill="#ffffff"/><circle cx="191.8" cy="820.7" r="4.5" fill="#ffffbf"/><circle cx="192.5" cy="817.4" r="4.5" fill="#ffffbf"/><circle cx="193.3" cy="827.2" r="4.4" fill="#ffffff"/><circle cx="193.9" cy="826.6" r="4.4" fill="#ffffff"/><circle cx="194.6" cy="830.4" r="4.4" fill="#ffffff"/><circle cx="195.5" cy="822.9" r="4.5" fill="#ffffbf"/><circle cx="196.2" cy="830.3" r="4.4" fill="#ffffff"/><circle cx="197.3" cy="810.8" r="4.5" fill="#ffff9f"/><circle cx="197.9" cy="823.7" r="4.5" fill="#ffffbf"/><circle cx="198.9" cy="820.1" r="4.6" fill="#ffff80"/><circle cx="199.3" cy="816.0" r="4.5" fill="#ffff9f"/><circle cx="200.0" cy="814.7" r="4.5" fill="#ffffbf"/><circle cx="201.1" cy="817.8" r="4.5" fill="#ffff9f"/><circle cx="201.6" cy="832.8" r="4.4" fill="#ffffff"/><circle cx="202.7" cy="815.2" r="4.5" fill="#ffffbf"/><circle cx="203.6" cy="829.7" r="4.4" fill="#ffffff"/><circle cx="204.2" cy="813.3" r="4.5" fill="#ffff9f"/><circle cx="204.9" cy="821.1" r="4.5" fill="#ffffbf"/><circle cx="205.7" cy="826.8" r="4.4" fill="#ffffff"/><circle cx="206.2" cy="824.4" r="4.4" fill="#ffffdf"/><circle cx="207.4" cy="833.2" r="4.4" fill="#ffffff"/><circle cx="208.2" cy="830.9" r="4.4" fill="#ffffff"/><circle cx="209.1" cy="833.2" r="4.4" fill="#ffffff"/><circle cx="209.3" cy="813.8" r="4.5" fill="#ffff9f"/><circle cx="210.6" cy="816.1" r="4.5" fill="#ffffbf"/><circle cx="211.2" cy="820.7" r="4.5" fill="#ffffbf"/><circle cx="212.1" cy="817.4" r="4.5" fill="#ffffbf"/><circle cx="212.8" cy="829.0" r="4.4" fill="#ffffff"/><circle cx="213.6" cy="816.4" r="4.5" fill="#ffffbf"/><circle cx="214.3" cy="824.1" r="4.5" fill="#ffffbf"/><circle cx="215.1" cy="833.2" r="4.4" fill="#ffffff"/><circle cx="215.5" cy="831.0" r="4.4" fill="#ffffff"/><circle cx="216.3" cy="817.4" r="4.5" fill="#ffffbf"/><circle cx="217.3" cy="817.6" r="4.5" fill="#ffffbf"/><circle cx="218.0" cy="817.4" r="4.5" fill="#ffffbf"/><circle cx="218.4" cy="833.2" r="4.4" fill="#ffffff"/><circle cx="219.9" cy="816.6" r="4.5" fill="#ffff9f"/><circle cx="220.3" cy="833.2" r="4.4" fill="#ffffff"/><circle cx="220.8" cy="820.8" r="4.5" fill="#ffffbf"/><circle cx="221.6" cy="826.3" r="4.4" fill="#ffffff"/><circle cx="222.4" cy="830.9" r="4.4" fill="#ffffff"/><circle cx="223.1" cy="830.9" r="4.4" fill="#ffffff"/><circle cx="223.9" cy="818.6" r="4.4" fill="#ffffff"/><circle cx="224.9" cy="827.3" r="4.4" fill="#ffffff"/><circle cx="225.8" cy="827.7" r="4.4" fill="#ffffff"/><circle cx="226.3" cy="824.0" r="4.4" fill="#ffffdf"/><circle cx="227.4" cy="827.4" r="4.4" fill="#ffffff"/><circle cx="227.9" cy="833.2" r="4.4" fill="#ffffff"/><circle cx="228.8" cy="820.9" r="4.4" fill="#ffffff"/><circle cx="229.6" cy="833.2" r="4.4" fill="#ffffff"/><circle cx="230.0" cy="833.2" r="4.4" fill="#ffffff"/><circle cx="231.4" cy="833.2" r="4.4" fill="#ffffff"/><circle cx="231.5" cy="833.2" r="4.4" fill="#ffffff"/><circle cx="232.9" cy="833.2" r="4.4" fill="#ffffff"/><circle cx="233.7" cy="818.1" r="4.5" fill="#ffffbf"/><circle cx="234.0" cy="823.9" r="4.5" fill="#ffffbf"/><circle cx="235.2" cy="827.5" r="4.4" fill="#ffffff"/><circle cx="235.7" cy="833.2" r="4.4" fill="#ffffff"/><circle cx="236.3" cy="833.2" r="4.4" fill="#ffffff"/><circle cx="237.4" cy="833.2" r="4.4" fill="#ffffff"/><circle cx="238.1" cy="825.0" r="4.4" fill="#ffffdf"/><circle cx="238.7" cy="818.6" r="4.5" fill="#ffffbf"/><circle cx="239.8" cy="832.9" r="4.4" fill="#ffffff"/><circle cx="240.6" cy="833.2" r="4.4" fill="#ffffff"/><circle cx="241.0" cy="824.0" r="4.5" fill="#ffffbf"/><circle cx="241.8" cy="829.7" r="4.4" fill="#ffffff"/><circle cx="242.9" cy="833.2" r="4.4" fill="#ffffff"/><circle cx="243.7" cy="823.2" r="4.4" fill="#ffffdf"/><circle cx="244.1" cy="833.2" r="4.4" fill="#ffffff"/><circle cx="245.1" cy="823.1" r="4.5" fill="#ffffbf"/><circle cx="245.5" cy="833.2" r="4.4" fill="#ffffff"/><circle cx="246.2" cy="824.1" r="4.5" fill="#ffffbf"/><circle cx="247.1" cy="820.1" r="4.5" fill="#ffffbf"/><circle cx="247.9" cy="833.2" r="4.4" fill="#ffffff"/><circle cx="248.7" cy="833.2" r="4.4" fill="#ffffff"/><circle cx="249.7" cy="823.1" r="4.4" fill="#ffffdf"/><circle cx="250.3" cy="831.1" r="4.4" fill="#ffffff"/><circle cx="251.4" cy="829.9" r="4.4" fill="#ffffff"/><circle cx="251.7" cy="830.0" r="4.4" fill="#ffffff"/><circle cx="252.6" cy="819.5" r="4.5" fill="#ffff9f"/><circle cx="253.1" cy="831.1" r="4.4" fill="#ffffff"/><circle cx="254.1" cy="820.3" r="4.5" fill="#ffff9f"/><circle cx="255.1" cy="833.2" r="4.4" fill="#ffffff"/><circle cx="255.4" cy="826.1" r="4.4" fill="#ffffff"/><circle cx="256.7" cy="822.0" r="4.5" fill="#ffffbf"/><circle cx="257.0" cy="833.2" r="4.4" fill="#ffffff"/><circle cx="257.8" cy="820.3" r="4.4" fill="#ffffdf"/><circle cx="258.6" cy="831.4" r="4.4" fill="#ffffff"/><circle cx="259.3" cy="827.4" r="4.4" fill="#ffffff"/><circle cx="260.7" cy="833.2" r="4.4" fill="#ffffff"/><circle cx="260.9" cy="828.2" r="4.4" fill="#ffffff"/><circle cx="261.6" cy="820.5" r="4.5" fill="#ffffbf"/><circle cx="262.6" cy="820.6" r="4.5" fill="#ffffbf"/><circle cx="263.8" cy="814.1" r="4.5" fill="#ffffbf"/><circle cx="264.2" cy="833.2" r="4.4" fill="#ffffff"/><circle cx="264.7" cy="833.2" r="4.4" fill="#ffffff"/><circle cx="265.8" cy="833.2" r="4.4" fill="#ffffff"/><circle cx="266.5" cy="831.0" r="4.4" fill="#ffffff"/><circle cx="267.3" cy="816.4" r="4.5" fill="#ffff9f"/><circle cx="268.1" cy="833.2" r="4.4" fill="#ffffff"/><circle cx="269.2" cy="831.5" r="4.4" fill="#ffffff"/><circle cx="269.7" cy="818.4" r="4.4" fill="#ffffdf"/><circle cx="270.3" cy="825.0" r="4.5" fill="#ffffbf"/><circle cx="271.1" cy="833.2" r="4.4" fill="#ffffff"/><circle cx="271.7" cy="832.5" r="4.4" fill="#ffffff"/><circle cx="272.6" cy="808.6" r="4.5" fill="#ffffbf"/><circle cx="273.3" cy="811.5" r="4.5" fill="#ffff9f"/><circle cx="274.1" cy="832.5" r="4.4" fill="#ffffff"/><circle cx="275.0" cy="810.4" r="4.6" fill="#ffff80"/><circle cx="275.4" cy="827.5" r="4.4" fill="#ffffff"/><circle cx="276.6" cy="814.1" r="4.5" fill="#ffffbf"/><circle cx="277.3" cy="830.2" r="4.4" fill="#ffffff"/><circle cx="277.7" cy="830.1" r="4.4" fill="#ffffff"/><circle cx="278.5" cy="822.2" r="4.5" fill="#ffffbf"/><circle cx="279.8" cy="819.2" r="4.5" fill="#ffffbf"/><circle cx="280.7" cy="827.6" r="4.4" fill="#ffffff"/><circle cx="280.9" cy="818.9" r="4.5" fill="#ffffbf"/><circle cx="281.7" cy="829.0" r="4.4" fill="#ffffff"/><circle cx="282.8" cy="808.1" r="4.6" fill="#ffff80"/><circle cx="283.6" cy="823.5" r="4.5" fill="#ffffbf"/><circle cx="283.9" cy="810.5" r="4.5" fill="#ffffbf"/><circle cx="285.3" cy="805.5" r="4.6" fill="#ffff80"/><circle cx="285.5" cy="808.2" r="4.6" fill="#ffff80"/><circle cx="286.1" cy="810.0" r="4.5" fill="#ffff9f"/><circle cx="287.0" cy="814.0" r="4.5" fill="#ffffbf"/><circle cx="288.2" cy="820.2" r="4.5" fill="#ffffbf"/><circle cx="288.9" cy="810.9" r="4.5" fill="#ffff9f"/><circle cx="289.3" cy="806.9" r="4.5" fill="#ffff9f"/><circle cx="290.3" cy="805.3" r="4.5" fill="#ffff9f"/><circle cx="291.4" cy="805.5" r="4.6" fill="#ffff80"/><circle cx="292.3" cy="799.1" r="4.6" fill="#ffff80"/><circle cx="292.5" cy="817.7" r="4.5" fill="#ffffbf"/><circle cx="293.7" cy="806.2" r="4.5" fill="#ffff9f"/><circle cx="294.1" cy="799.5" r="4.6" fill="#ffff60"/><circle cx="295.2" cy="820.4" r="4.5" fill="#ffffbf"/><circle cx="296.0" cy="798.2" r="4.6" fill="#ffff80"/><circle cx="296.7" cy="803.0" r="4.6" fill="#ffff80"/><circle cx="297.7" cy="813.0" r="4.5" fill="#ffff9f"/><circle cx="298.3" cy="809.5" r="4.6" fill="#ffff80"/><circle cx="299.1" cy="798.2" r="4.5" fill="#ffff9f"/><circle cx="299.5" cy="818.1" r="4.5" fill="#ffffbf"/><circle cx="300.3" cy="811.5" r="4.5" fill="#ffffbf"/><circle cx="301.3" cy="796.1" r="4.6" fill="#ffff60"/><circle cx="302.1" cy="802.3" r="4.6" fill="#ffff80"/><circle cx="302.9" cy="805.0" r="4.6" fill="#ffff80"/><circle cx="303.7" cy="795.4" r="4.6" fill="#ffff80"/><circle cx="303.9" cy="803.6" r="4.6" fill="#ffff80"/><circle cx="304.6" cy="809.0" r="4.5" fill="#ffff9f"/><circle cx="305.8" cy="811.9" r="4.5" fill="#ffff9f"/><circle cx="306.4" cy="797.4" r="4.6" fill="#ffff80"/><circle cx="307.1" cy="813.2" r="4.5" fill="#ffff9f"/><circle cx="308.2" cy="795.2" r="4.6" fill="#ffff60"/><circle cx="308.6" cy="795.2" r="4.6" fill="#ffff60"/><circle cx="309.5" cy="794.2" r="4.6" fill="#ffff80"/><circle cx="310.2" cy="798.9" r="4.6" fill="#ffff60"/><circle cx="311.0" cy="802.1" r="4.5" fill="#ffff9f"/><circle cx="312.0" cy="803.3" r="4.6" fill="#ffff80"/><circle cx="312.9" cy="815.1" r="4.5" fill="#ffff9f"/><circle cx="313.6" cy="807.5" r="4.5" fill="#ffff9f"/><circle cx="314.3" cy="809.4" r="4.5" fill="#ffff9f"/><circle cx="314.7" cy="800.6" r="4.5" fill="#ffff9f"/><circle cx="315.6" cy="802.8" r="4.6" fill="#ffff80"/><circle cx="316.7" cy="788.6" r="4.6" fill="#ffff80"/><circle cx="317.1" cy="794.2" r="4.6" fill="#ffff80"/><circle cx="317.8" cy="808.6" r="4.5" fill="#ffffbf"/><circle cx="318.5" cy="812.4" r="4.5" fill="#ffffbf"/><circle cx="319.2" cy="805.0" r="4.6" fill="#ffff80"/><circle cx="320.2" cy="787.1" r="4.6" fill="#ffff80"/><circle cx="321.1" cy="795.5" r="4.6" fill="#ffff80"/><circle cx="321.7" cy="788.3" r="4.6" fill="#ffff60"/><circle cx="322.5" cy="790.4" r="4.6" fill="#ffff80"/><circle cx="323.8" cy="792.1" r="4.6" fill="#ffff60"/><circle cx="323.9" cy="801.2" r="4.6" fill="#ffff80"/><circle cx="325.1" cy="802.2" r="4.6" fill="#ffff60"/><circle cx="325.7" cy="804.1" r="4.6" fill="#ffff80"/><circle cx="326.5" cy="797.7" r="4.6" fill="#ffff80"/><circle cx="327.6" cy="786.0" r="4.7" fill="#ffff40"/><circle cx="328.4" cy="783.8" r="4.6" fill="#ffff60"/><circle cx="328.8" cy="786.4" r="4.6" fill="#ffff60"/><circle cx="329.2" cy="793.5" r="4.6" fill="#ffff60"/><circle cx="79.7" cy="808.6" r="4.7" fill="#ffff20"/><circle cx="76.5" cy="801.4" r="4.7" fill="#ffff40"/><circle cx="76.5" cy="805.8" r="4.7" fill="#ffff20"/><circle cx="78.2" cy="800.8" r="4.7" fill="#ffff20"/><circle cx="79.1" cy="796.0" r="4.7" fill="#ffff40"/><circle cx="81.2" cy="801.5" r="4.7" fill="#ffff40"/><circle cx="78.5" cy="737.5" r="4.7" fill="#ffff20"/><circle cx="80.0" cy="771.4" r="4.7" fill="#ffff20"/><circle cx="82.0" cy="774.2" r="4.8" fill="#ffff00"/><circle cx="329.0" cy="658.3" r="4.8" fill="#ffff00"/><circle cx="335.0" cy="663.1" r="4.8" fill="#ffea00"/><circle cx="339.0" cy="671.7" r="5.0" fill="#ffaa00"/><circle cx="339.0" cy="677.4" r="5.0" fill="#ffaa00"/><circle cx="341.0" cy="697.3" r="5.1" fill="#ff8000"/><circle cx="345.0" cy="705.9" r="5.0" fill="#ffaa00"/><circle cx="345.0" cy="714.4" r="5.0" fill="#ff9500"/><circle cx="349.0" cy="720.1" r="4.9" fill="#ffbf00"/><circle cx="318.0" cy="725.8" r="4.8" fill="#ffff00"/><circle cx="330.0" cy="737.2" r="4.8" fill="#ffea00"/><circle cx="332.0" cy="745.8" r="4.8" fill="#ffff00"/><circle cx="337.0" cy="742.9" r="4.8" fill="#ffea00"/><circle cx="343.0" cy="748.6" r="4.9" fill="#ffbf00"/><circle cx="340.0" cy="757.1" r="4.9" fill="#ffbf00"/><circle cx="330.0" cy="765.7" r="4.8" fill="#ffea00"/><circle cx="337.0" cy="771.4" r="4.9" fill="#ffbf00"/><circle cx="336.0" cy="777.1" r="4.8" fill="#ffea00"/><circle cx="332.0" cy="785.6" r="4.8" fill="#ffea00"/><circle cx="340.0" cy="797.1" r="4.9" fill="#ffbf00"/><circle cx="343.0" cy="808.5" r="5.1" fill="#ff8000"/><circle cx="326.0" cy="760.0" r="4.8" fill="#ffff00"/><circle cx="328.0" cy="771.4" r="4.8" fill="#ffff00"/><circle cx="333.0" cy="780.0" r="4.8" fill="#ffff00"/><circle cx="338.0" cy="788.5" r="5.0" fill="#ffaa00"/><circle cx="358.0" cy="658.3" r="5.3" fill="#ff1500"/><circle cx="362.0" cy="666.0" r="5.2" fill="#ff4000"/><circle cx="361.0" cy="671.7" r="5.2" fill="#ff4000"/><circle cx="356.0" cy="691.6" r="5.1" fill="#ff5500"/><circle cx="352.0" cy="694.5" r="5.1" fill="#ff6a00"/><circle cx="360.0" cy="697.3" r="5.1" fill="#ff5500"/><circle cx="365.0" cy="697.3" r="5.2" fill="#ff4000"/><circle cx="366.0" cy="698.7" r="5.3" fill="#ff2a00"/><circle cx="356.0" cy="700.2" r="5.1" fill="#ff8000"/><circle cx="366.0" cy="734.4" r="5.2" fill="#ff4000"/><circle cx="358.0" cy="761.4" r="5.3" fill="#ff2a00"/><circle cx="366.0" cy="797.1" r="5.3" fill="#ff1500"/><circle cx="366.0" cy="822.7" r="4.8" fill="#ffff00"/><circle cx="364.0" cy="808.5" r="4.7" fill="#ffff20"/><circle cx="362.4" cy="805.9" r="4.5" fill="#ffff9f"/><circle cx="363.8" cy="803.4" r="4.6" fill="#ffff80"/><circle cx="364.2" cy="815.5" r="4.5" fill="#ffff9f"/><circle cx="365.9" cy="804.4" r="4.6" fill="#ffff80"/><circle cx="366.8" cy="805.0" r="4.5" fill="#ffff9f"/><circle cx="367.1" cy="803.1" r="4.6" fill="#ffff80"/><circle cx="368.3" cy="825.3" r="4.4" fill="#ffffdf"/><circle cx="369.6" cy="811.5" r="4.6" fill="#ffff80"/><circle cx="370.1" cy="800.2" r="4.6" fill="#ffff80"/><circle cx="371.7" cy="798.4" r="4.6" fill="#ffff80"/><circle cx="372.2" cy="793.0" r="4.5" fill="#ffff9f"/><circle cx="373.2" cy="803.2" r="4.5" fill="#ffff9f"/><circle cx="374.5" cy="818.9" r="4.5" fill="#ffffbf"/><circle cx="375.9" cy="791.0" r="4.6" fill="#ffff60"/><circle cx="376.0" cy="808.8" r="4.5" fill="#ffffbf"/><circle cx="377.6" cy="800.6" r="4.5" fill="#ffff9f"/><circle cx="378.2" cy="822.9" r="4.4" fill="#ffffdf"/><circle cx="379.9" cy="789.7" r="4.5" fill="#ffff9f"/><circle cx="380.3" cy="796.7" r="4.6" fill="#ffff80"/><circle cx="381.5" cy="815.4" r="4.5" fill="#ffffbf"/><circle cx="382.7" cy="814.3" r="4.5" fill="#ffffbf"/><circle cx="383.6" cy="792.2" r="4.6" fill="#ffff80"/><circle cx="384.1" cy="799.3" r="4.6" fill="#ffff80"/><circle cx="385.9" cy="811.7" r="4.5" fill="#ffff9f"/><circle cx="386.6" cy="814.3" r="4.5" fill="#ffff9f"/><circle cx="387.1" cy="799.1" r="4.6" fill="#ffff60"/><circle cx="389.0" cy="816.0" r="4.5" fill="#ffff9f"/><circle cx="389.1" cy="789.9" r="4.6" fill="#ffff60"/><circle cx="390.1" cy="818.4" r="4.6" fill="#ffff80"/><circle cx="391.6" cy="821.6" r="4.5" fill="#ffffbf"/><circle cx="392.0" cy="809.9" r="4.5" fill="#ffff9f"/><circle cx="393.8" cy="816.2" r="4.5" fill="#ffff9f"/><circle cx="394.0" cy="815.8" r="4.5" fill="#ffff9f"/><circle cx="395.2" cy="802.0" r="4.6" fill="#ffff80"/><circle cx="396.4" cy="794.1" r="4.6" fill="#ffff60"/><circle cx="397.5" cy="807.9" r="4.5" fill="#ffffbf"/><circle cx="399.0" cy="811.0" r="4.5" fill="#ffffbf"/><circle cx="399.9" cy="798.4" r="4.6" fill="#ffff80"/><circle cx="400.7" cy="798.9" r="4.5" fill="#ffff9f"/><circle cx="401.2" cy="825.7" r="4.5" fill="#ffffbf"/><circle cx="402.7" cy="800.2" r="4.5" fill="#ffff9f"/><circle cx="403.5" cy="824.7" r="4.4" fill="#ffffdf"/><circle cx="404.6" cy="796.6" r="4.6" fill="#ffff60"/><circle cx="405.5" cy="812.7" r="4.5" fill="#ffff9f"/><circle cx="406.7" cy="821.1" r="4.4" fill="#ffffdf"/><circle cx="407.8" cy="804.8" r="4.5" fill="#ffff9f"/><circle cx="408.7" cy="816.8" r="4.5" fill="#ffff9f"/><circle cx="409.6" cy="815.3" r="4.5" fill="#ffffbf"/><circle cx="410.9" cy="801.9" r="4.5" fill="#ffffbf"/><circle cx="411.9" cy="814.5" r="4.5" fill="#ffffbf"/><circle cx="412.3" cy="816.0" r="4.5" fill="#ffffbf"/><circle cx="413.1" cy="801.0" r="4.6" fill="#ffff80"/><circle cx="414.4" cy="798.0" r="4.6" fill="#ffff60"/><circle cx="416.0" cy="797.8" r="4.6" fill="#ffff80"/><circle cx="417.0" cy="794.5" r="4.6" fill="#ffff60"/><circle cx="418.0" cy="822.8" r="4.4" fill="#ffffdf"/><circle cx="418.5" cy="808.3" r="4.5" fill="#ffff9f"/><circle cx="419.2" cy="798.2" r="4.5" fill="#ffff9f"/><circle cx="420.5" cy="806.1" r="4.6" fill="#ffff60"/><circle cx="421.0" cy="794.4" r="4.6" fill="#ffff60"/><circle cx="422.6" cy="812.3" r="4.5" fill="#ffffbf"/><circle cx="541.8" cy="748.4" r="4.6" fill="#ffff80"/><circle cx="467.0" cy="793.4" r="4.8" fill="#ffff00"/><circle cx="451.0" cy="790.8" r="4.8" fill="#ffea00"/><circle cx="486.1" cy="792.3" r="4.6" fill="#ffff60"/><circle cx="405.3" cy="803.9" r="4.6" fill="#ffff60"/><circle cx="513.6" cy="735.3" r="4.7" fill="#ffff40"/><circle cx="413.2" cy="820.8" r="4.8" fill="#ffea00"/><circle cx="533.9" cy="742.7" r="4.8" fill="#ffff00"/><circle cx="478.5" cy="793.2" r="4.7" fill="#ffff40"/><circle cx="475.6" cy="804.5" r="4.7" fill="#ffff40"/><circle cx="543.1" cy="775.3" r="4.7" fill="#ffff20"/><circle cx="475.2" cy="776.6" r="4.8" fill="#ffea00"/><circle cx="499.4" cy="755.5" r="4.8" fill="#ffea00"/><circle cx="515.5" cy="758.3" r="4.8" fill="#ffff00"/><circle cx="464.9" cy="766.9" r="4.6" fill="#ffff60"/><circle cx="532.3" cy="748.0" r="4.7" fill="#ffff40"/><circle cx="499.3" cy="735.3" r="4.7" fill="#ffff40"/><circle cx="488.7" cy="742.8" r="4.7" fill="#ffff20"/><circle cx="415.8" cy="804.6" r="4.6" fill="#ffff80"/><circle cx="457.9" cy="817.0" r="4.8" fill="#ffff00"/><circle cx="429.2" cy="821.5" r="4.6" fill="#ffff80"/><circle cx="409.5" cy="747.4" r="4.6" fill="#ffff80"/><circle cx="458.8" cy="745.9" r="4.8" fill="#ffff00"/><circle cx="444.9" cy="821.4" r="4.8" fill="#ffff00"/><circle cx="499.9" cy="739.2" r="4.8" fill="#ffff00"/><circle cx="515.3" cy="766.3" r="4.7" fill="#ffff20"/><circle cx="495.4" cy="811.9" r="4.6" fill="#ffff60"/><circle cx="510.6" cy="737.5" r="4.6" fill="#ffff60"/><circle cx="431.7" cy="794.1" r="4.7" fill="#ffff20"/><circle cx="533.7" cy="808.3" r="4.8" fill="#ffea00"/><circle cx="475.0" cy="817.9" r="4.7" fill="#ffff20"/><circle cx="456.1" cy="786.2" r="4.8" fill="#ffea00"/><circle cx="408.5" cy="795.9" r="4.7" fill="#ffff20"/><circle cx="455.9" cy="777.7" r="4.7" fill="#ffff20"/><circle cx="471.7" cy="814.5" r="4.7" fill="#ffff20"/><circle cx="412.5" cy="791.1" r="4.8" fill="#ffff00"/><circle cx="441.0" cy="801.7" r="4.6" fill="#ffff60"/><circle cx="407.1" cy="770.1" r="4.6" fill="#ffff60"/><circle cx="511.5" cy="816.4" r="4.6" fill="#ffff60"/><circle cx="496.0" cy="766.6" r="4.6" fill="#ffff60"/><circle cx="426.2" cy="745.6" r="4.7" fill="#ffff20"/><circle cx="473.9" cy="810.4" r="4.7" fill="#ffff40"/><circle cx="494.6" cy="809.3" r="4.7" fill="#ffff20"/><circle cx="531.1" cy="785.6" r="4.7" fill="#ffff20"/><circle cx="464.6" cy="811.6" r="4.7" fill="#ffff20"/><circle cx="416.2" cy="741.2" r="4.8" fill="#ffea00"/><circle cx="539.2" cy="743.1" r="4.6" fill="#ffff60"/><circle cx="492.6" cy="754.6" r="4.7" fill="#ffff40"/><circle cx="506.4" cy="764.9" r="4.6" fill="#ffff80"/><circle cx="411.1" cy="740.5" r="4.8" fill="#ffea00"/><circle cx="509.8" cy="774.8" r="4.8" fill="#ffff00"/><circle cx="538.3" cy="754.0" r="4.7" fill="#ffff20"/><circle cx="411.0" cy="799.6" r="4.7" fill="#ffff40"/><circle cx="471.3" cy="796.0" r="4.8" fill="#ffff00"/><circle cx="550.1" cy="786.8" r="4.8" fill="#ffff00"/><circle cx="450.1" cy="751.3" r="4.6" fill="#ffff60"/><circle cx="455.4" cy="805.0" r="4.7" fill="#ffff20"/><circle cx="449.4" cy="741.6" r="4.6" fill="#ffff60"/><circle cx="535.9" cy="802.8" r="4.6" fill="#ffff60"/><circle cx="505.2" cy="760.6" r="4.6" fill="#ffff60"/><circle cx="492.0" cy="789.2" r="4.7" fill="#ffff20"/><circle cx="466.1" cy="778.1" r="4.6" fill="#ffff80"/><circle cx="417.2" cy="745.2" r="4.6" fill="#ffff60"/><circle cx="526.9" cy="794.7" r="4.7" fill="#ffff20"/><circle cx="464.7" cy="778.1" r="4.6" fill="#ffff60"/><circle cx="446.5" cy="808.6" r="4.8" fill="#ffff00"/><circle cx="406.3" cy="743.2" r="4.8" fill="#ffff00"/><circle cx="440.8" cy="804.4" r="4.8" fill="#ffff00"/><circle cx="467.4" cy="802.9" r="4.7" fill="#ffff20"/><circle cx="540.4" cy="743.6" r="4.7" fill="#ffff20"/><circle cx="484.8" cy="755.9" r="4.7" fill="#ffff40"/><circle cx="409.7" cy="775.6" r="4.6" fill="#ffff60"/><circle cx="445.9" cy="794.4" r="4.7" fill="#ffff20"/><circle cx="410.5" cy="801.3" r="4.6" fill="#ffff80"/><circle cx="529.7" cy="732.7" r="4.8" fill="#ffff00"/><circle cx="471.6" cy="825.6" r="4.7" fill="#ffff40"/><circle cx="508.5" cy="812.2" r="4.6" fill="#ffff80"/><circle cx="544.7" cy="821.5" r="4.6" fill="#ffff60"/><circle cx="516.0" cy="822.3" r="4.6" fill="#ffff80"/><circle cx="547.6" cy="807.3" r="4.7" fill="#ffff40"/><circle cx="528.8" cy="815.4" r="4.6" fill="#ffff80"/><circle cx="478.4" cy="807.1" r="4.7" fill="#ffff40"/><circle cx="490.9" cy="808.3" r="4.6" fill="#ffff60"/><circle cx="477.5" cy="821.1" r="4.6" fill="#ffff80"/><circle cx="532.1" cy="809.6" r="4.6" fill="#ffff60"/><circle cx="505.4" cy="808.9" r="4.6" fill="#ffff60"/><circle cx="481.8" cy="813.5" r="4.7" fill="#ffff40"/><circle cx="542.1" cy="809.6" r="4.6" fill="#ffff60"/><circle cx="509.2" cy="813.8" r="4.6" fill="#ffff60"/><circle cx="437.0" cy="682.2" r="5.0" fill="#ffaa00"/><circle cx="446.0" cy="696.2" r="5.1" fill="#ff8000"/><circle cx="448.0" cy="702.1" r="5.1" fill="#ff6a00"/><circle cx="443.0" cy="704.4" r="5.1" fill="#ff8000"/><circle cx="459.0" cy="716.1" r="4.9" fill="#ffbf00"/><circle cx="460.0" cy="725.8" r="5.0" fill="#ff9500"/><circle cx="449.0" cy="722.4" r="5.1" fill="#ff6a00"/><circle cx="449.0" cy="730.6" r="5.1" fill="#ff6a00"/><circle cx="508.0" cy="697.3" r="4.7" fill="#ffff20"/><circle cx="428.0" cy="705.9" r="4.8" fill="#ffff00"/><circle cx="466.8" cy="766.9" r="5.0" fill="#ff9500"/><circle cx="454.5" cy="802.0" r="4.8" fill="#ffea00"/><circle cx="439.8" cy="771.8" r="5.0" fill="#ff9500"/><circle cx="465.7" cy="771.7" r="4.9" fill="#ffd400"/><circle cx="453.6" cy="791.7" r="5.0" fill="#ffaa00"/><circle cx="449.7" cy="752.3" r="5.0" fill="#ff9500"/><circle cx="432.0" cy="758.9" r="5.0" fill="#ffaa00"/><circle cx="454.0" cy="780.1" r="5.0" fill="#ff9500"/><circle cx="461.1" cy="797.4" r="4.9" fill="#ffbf00"/><circle cx="440.0" cy="793.0" r="4.9" fill="#ffd400"/><circle cx="555.6" cy="609.4" r="5.6" fill="#aa0000"/><circle cx="556.1" cy="610.8" r="5.7" fill="#800000"/><circle cx="557.6" cy="607.1" r="5.6" fill="#950000"/><circle cx="558.2" cy="616.4" r="5.8" fill="#550000"/><circle cx="559.2" cy="610.2" r="5.6" fill="#950000"/><circle cx="560.1" cy="614.2" r="5.7" fill="#800000"/><circle cx="560.8" cy="621.1" r="5.7" fill="#800000"/><circle cx="562.1" cy="614.3" r="5.7" fill="#6a0000"/><circle cx="562.9" cy="613.5" r="5.5" fill="#bf0000"/><circle cx="563.4" cy="625.6" r="5.6" fill="#950000"/><circle cx="564.3" cy="612.3" r="5.5" fill="#bf0000"/><circle cx="565.4" cy="619.2" r="5.7" fill="#6a0000"/><circle cx="566.7" cy="615.8" r="5.6" fill="#aa0000"/><circle cx="567.5" cy="616.6" r="5.7" fill="#800000"/><circle cx="568.3" cy="633.1" r="5.6" fill="#aa0000"/><circle cx="568.9" cy="616.1" r="5.7" fill="#800000"/><circle cx="569.8" cy="631.1" r="5.7" fill="#6a0000"/><circle cx="570.9" cy="633.6" r="5.6" fill="#950000"/><circle cx="571.6" cy="626.0" r="5.6" fill="#950000"/><circle cx="572.8" cy="626.4" r="5.8" fill="#550000"/><circle cx="574.1" cy="622.3" r="5.6" fill="#950000"/><circle cx="574.3" cy="619.9" r="5.6" fill="#950000"/><circle cx="575.3" cy="619.3" r="5.7" fill="#6a0000"/><circle cx="576.2" cy="613.0" r="5.7" fill="#800000"/><circle cx="577.1" cy="626.7" r="5.6" fill="#aa0000"/><circle cx="578.3" cy="615.2" r="5.5" fill="#bf0000"/><circle cx="579.3" cy="623.1" r="5.7" fill="#800000"/><circle cx="579.9" cy="626.3" r="5.7" fill="#800000"/><circle cx="581.4" cy="608.5" r="5.5" fill="#bf0000"/><circle cx="582.3" cy="615.6" r="5.6" fill="#aa0000"/><circle cx="583.3" cy="620.7" r="5.7" fill="#800000"/><circle cx="584.2" cy="609.6" r="5.7" fill="#800000"/><circle cx="584.4" cy="606.1" r="5.7" fill="#800000"/><circle cx="585.5" cy="606.8" r="5.6" fill="#950000"/><circle cx="586.4" cy="617.1" r="5.6" fill="#950000"/><circle cx="587.1" cy="614.7" r="5.6" fill="#950000"/><circle cx="588.4" cy="611.0" r="5.6" fill="#aa0000"/><circle cx="589.4" cy="608.2" r="5.7" fill="#800000"/><circle cx="590.1" cy="604.8" r="5.7" fill="#800000"/><circle cx="591.4" cy="608.1" r="5.7" fill="#6a0000"/><circle cx="592.3" cy="605.7" r="5.6" fill="#aa0000"/><circle cx="593.3" cy="611.7" r="5.6" fill="#950000"/><circle cx="594.0" cy="606.8" r="5.7" fill="#6a0000"/><circle cx="594.6" cy="602.7" r="5.6" fill="#950000"/><circle cx="595.8" cy="611.4" r="5.6" fill="#aa0000"/><circle cx="596.5" cy="597.8" r="5.7" fill="#800000"/><circle cx="597.6" cy="606.8" r="5.7" fill="#6a0000"/><circle cx="598.4" cy="614.5" r="5.7" fill="#800000"/><circle cx="599.2" cy="608.4" r="5.6" fill="#950000"/><circle cx="600.0" cy="598.3" r="5.7" fill="#800000"/><circle cx="600.8" cy="614.7" r="5.6" fill="#950000"/><circle cx="601.9" cy="612.1" r="5.6" fill="#950000"/><circle cx="602.6" cy="595.4" r="5.7" fill="#800000"/><circle cx="604.3" cy="613.3" r="5.6" fill="#950000"/><circle cx="604.5" cy="603.7" r="5.7" fill="#800000"/><circle cx="605.7" cy="608.2" r="5.6" fill="#aa0000"/><circle cx="606.3" cy="612.7" r="5.6" fill="#950000"/><circle cx="607.5" cy="599.8" r="5.7" fill="#800000"/><circle cx="608.1" cy="596.5" r="5.6" fill="#aa0000"/><circle cx="609.0" cy="608.1" r="5.6" fill="#aa0000"/><circle cx="610.1" cy="601.0" r="5.6" fill="#950000"/><circle cx="610.9" cy="597.8" r="5.7" fill="#800000"/><circle cx="612.0" cy="596.7" r="5.6" fill="#950000"/><circle cx="613.4" cy="594.0" r="5.5" fill="#bf0000"/><circle cx="613.9" cy="601.9" r="5.7" fill="#6a0000"/><circle cx="614.6" cy="599.3" r="5.6" fill="#950000"/><circle cx="615.7" cy="593.4" r="5.8" fill="#550000"/><circle cx="616.8" cy="603.7" r="5.6" fill="#950000"/><circle cx="617.6" cy="602.1" r="5.6" fill="#950000"/><circle cx="618.3" cy="610.3" r="5.7" fill="#6a0000"/><circle cx="619.0" cy="604.0" r="5.7" fill="#6a0000"/><circle cx="620.1" cy="608.4" r="5.5" fill="#bf0000"/><circle cx="621.3" cy="590.7" r="5.6" fill="#950000"/><circle cx="622.0" cy="593.2" r="5.7" fill="#800000"/><circle cx="623.4" cy="607.6" r="5.7" fill="#800000"/><circle cx="624.0" cy="598.4" r="5.7" fill="#800000"/><circle cx="625.2" cy="606.1" r="5.6" fill="#aa0000"/><circle cx="625.6" cy="595.7" r="5.5" fill="#bf0000"/><circle cx="627.2" cy="589.9" r="5.6" fill="#950000"/><circle cx="628.0" cy="600.5" r="5.6" fill="#aa0000"/><circle cx="628.8" cy="599.8" r="5.6" fill="#950000"/><circle cx="629.5" cy="600.2" r="5.6" fill="#950000"/><circle cx="557.0" cy="634.6" r="5.6" fill="#950000"/><circle cx="560.0" cy="640.3" r="5.7" fill="#800000"/><circle cx="563.0" cy="631.8" r="5.6" fill="#950000"/><circle cx="566.0" cy="637.5" r="5.6" fill="#aa0000"/><circle cx="558.0" cy="646.0" r="5.4" fill="#ea0000"/><circle cx="552.0" cy="651.7" r="5.3" fill="#ff1500"/><circle cx="552.0" cy="646.0" r="5.4" fill="#ff0000"/><circle cx="555.0" cy="657.4" r="5.4" fill="#ff0000"/><circle cx="560.0" cy="654.5" r="5.4" fill="#ea0000"/><circle cx="565.0" cy="666.0" r="5.6" fill="#950000"/><circle cx="566.0" cy="640.3" r="5.4" fill="#ea0000"/><circle cx="578.0" cy="674.5" r="5.4" fill="#ea0000"/><circle cx="582.0" cy="668.8" r="5.6" fill="#950000"/><circle cx="584.0" cy="680.2" r="5.4" fill="#ff0000"/><circle cx="587.0" cy="688.8" r="5.6" fill="#950000"/><circle cx="569.0" cy="700.2" r="5.4" fill="#ff0000"/><circle cx="612.0" cy="657.4" r="5.4" fill="#ea0000"/><circle cx="614.0" cy="663.1" r="5.6" fill="#950000"/><circle cx="600.0" cy="691.6" r="5.6" fill="#950000"/><circle cx="606.0" cy="708.7" r="5.6" fill="#950000"/><circle cx="600.0" cy="725.8" r="5.4" fill="#ff0000"/><circle cx="575.0" cy="765.7" r="5.4" fill="#ff0000"/><circle cx="592.0" cy="762.9" r="5.4" fill="#ff0000"/><circle cx="548.0" cy="677.4" r="4.9" fill="#ffbf00"/><circle cx="548.0" cy="691.6" r="4.8" fill="#ffea00"/><circle cx="548.0" cy="697.3" r="5.1" fill="#ff8000"/><circle cx="549.0" cy="711.6" r="5.1" fill="#ff5500"/><circle cx="549.0" cy="700.2" r="5.1" fill="#ff5500"/><circle cx="682.3" cy="615.5" r="5.4" fill="#ff0000"/><circle cx="684.0" cy="652.9" r="5.5" fill="#d40000"/><circle cx="606.2" cy="647.1" r="5.4" fill="#ea0000"/><circle cx="695.2" cy="627.0" r="5.4" fill="#ff0000"/><circle cx="604.8" cy="617.1" r="5.4" fill="#ff0000"/><circle cx="645.5" cy="622.7" r="5.5" fill="#d40000"/><circle cx="619.2" cy="634.0" r="5.5" fill="#d40000"/><circle cx="633.0" cy="629.5" r="5.4" fill="#ea0000"/><circle cx="602.6" cy="609.7" r="5.4" fill="#ea0000"/><circle cx="698.7" cy="635.7" r="5.4" fill="#ea0000"/><circle cx="629.7" cy="659.8" r="5.5" fill="#d40000"/><circle cx="626.0" cy="616.3" r="5.4" fill="#ea0000"/><circle cx="690.8" cy="643.7" r="5.4" fill="#ea0000"/><circle cx="666.9" cy="633.8" r="5.5" fill="#d40000"/><circle cx="641.1" cy="616.9" r="5.4" fill="#ff0000"/><circle cx="629.0" cy="629.6" r="5.4" fill="#ea0000"/><circle cx="624.9" cy="659.7" r="5.4" fill="#ff0000"/><circle cx="635.8" cy="643.0" r="5.4" fill="#ea0000"/><circle cx="646.1" cy="644.0" r="5.4" fill="#ff0000"/><circle cx="623.1" cy="634.7" r="5.5" fill="#d40000"/><circle cx="694.5" cy="611.2" r="5.4" fill="#ea0000"/><circle cx="632.1" cy="649.4" r="5.5" fill="#d40000"/><circle cx="671.9" cy="609.2" r="5.4" fill="#ff0000"/><circle cx="602.3" cy="640.3" r="5.4" fill="#ff0000"/><circle cx="647.3" cy="629.2" r="5.5" fill="#bf0000"/><circle cx="644.9" cy="620.8" r="5.5" fill="#d40000"/><circle cx="667.9" cy="631.8" r="5.5" fill="#d40000"/><circle cx="684.5" cy="651.2" r="5.4" fill="#ff0000"/><circle cx="671.8" cy="654.5" r="5.5" fill="#d40000"/><circle cx="642.3" cy="609.5" r="5.5" fill="#d40000"/><circle cx="649.1" cy="649.8" r="5.6" fill="#950000"/><circle cx="631.1" cy="634.9" r="5.7" fill="#800000"/><circle cx="699.5" cy="619.5" r="5.6" fill="#950000"/><circle cx="668.5" cy="627.4" r="5.6" fill="#950000"/><circle cx="669.0" cy="653.9" r="5.6" fill="#950000"/><circle cx="688.3" cy="744.7" r="5.4" fill="#ea0000"/><circle cx="628.8" cy="757.4" r="5.4" fill="#ff0000"/><circle cx="655.4" cy="667.2" r="5.4" fill="#ea0000"/><circle cx="610.4" cy="782.6" r="5.4" fill="#ea0000"/><circle cx="604.8" cy="741.6" r="5.3" fill="#ff1500"/><circle cx="600.7" cy="685.3" r="5.4" fill="#ea0000"/><circle cx="638.3" cy="702.3" r="5.5" fill="#d40000"/><circle cx="597.1" cy="666.9" r="5.5" fill="#d40000"/><circle cx="660.0" cy="706.7" r="5.5" fill="#d40000"/><circle cx="658.4" cy="676.1" r="5.4" fill="#ff0000"/><circle cx="614.3" cy="705.5" r="5.5" fill="#d40000"/><circle cx="695.5" cy="675.9" r="5.4" fill="#ea0000"/><circle cx="681.0" cy="692.6" r="5.4" fill="#ea0000"/><circle cx="669.2" cy="765.4" r="5.4" fill="#ff0000"/><circle cx="655.9" cy="754.9" r="5.4" fill="#ff0000"/><circle cx="600.0" cy="782.1" r="5.5" fill="#bf0000"/><circle cx="600.8" cy="767.7" r="5.4" fill="#ea0000"/><circle cx="654.0" cy="766.9" r="5.4" fill="#ea0000"/><circle cx="661.9" cy="771.9" r="5.5" fill="#d40000"/><circle cx="614.4" cy="769.4" r="5.5" fill="#d40000"/><circle cx="641.5" cy="767.2" r="5.4" fill="#ea0000"/><circle cx="617.2" cy="716.0" r="5.3" fill="#ff1500"/><circle cx="667.7" cy="703.0" r="5.4" fill="#ff0000"/><circle cx="603.7" cy="698.5" r="5.4" fill="#ff0000"/><circle cx="685.2" cy="664.2" r="5.3" fill="#ff1500"/><circle cx="601.8" cy="777.9" r="5.3" fill="#ff1500"/><circle cx="596.2" cy="661.4" r="5.4" fill="#ff0000"/><circle cx="674.0" cy="703.4" r="5.4" fill="#ea0000"/><circle cx="629.0" cy="721.1" r="5.6" fill="#950000"/><circle cx="598.3" cy="701.7" r="5.6" fill="#950000"/><circle cx="660.9" cy="730.9" r="5.6" fill="#950000"/><circle cx="624.8" cy="739.3" r="5.6" fill="#950000"/><circle cx="680.0" cy="740.8" r="5.7" fill="#800000"/><circle cx="656.0" cy="634.6" r="5.1" fill="#ff8000"/><circle cx="655.0" cy="677.4" r="4.9" fill="#ffbf00"/><circle cx="682.0" cy="611.8" r="5.1" fill="#ff8000"/><circle cx="681.0" cy="668.8" r="5.0" fill="#ffaa00"/><circle cx="694.0" cy="583.3" r="5.4" fill="#ea0000"/><circle cx="686.0" cy="596.1" r="5.7" fill="#800000"/><circle cx="693.0" cy="609.0" r="5.5" fill="#d40000"/><circle cx="694.0" cy="614.6" r="5.5" fill="#d40000"/><circle cx="685.0" cy="617.5" r="5.4" fill="#ea0000"/><circle cx="692.0" cy="623.2" r="5.4" fill="#ea0000"/><circle cx="688.0" cy="637.5" r="5.5" fill="#aa0000"/><circle cx="694.0" cy="640.3" r="5.5" fill="#bf0000"/><circle cx="697.0" cy="648.9" r="5.4" fill="#ea0000"/><circle cx="699.0" cy="654.5" r="5.4" fill="#ea0000"/><circle cx="683.0" cy="680.2" r="5.1" fill="#ff8000"/><circle cx="680.0" cy="691.6" r="5.3" fill="#ff1500"/><circle cx="690.0" cy="723.8" r="5.6" fill="#950000"/><circle cx="704.0" cy="718.7" r="4.7" fill="#ffff20"/><circle cx="717.0" cy="714.4" r="4.7" fill="#ffff20"/><circle cx="700.0" cy="765.7" r="5.3" fill="#ff1500"/><circle cx="698.0" cy="785.6" r="5.1" fill="#ff5500"/><circle cx="700.0" cy="789.9" r="5.1" fill="#ff6a00"/><circle cx="702.0" cy="814.1" r="4.9" fill="#ffbf00"/><circle cx="710.0" cy="777.1" r="4.8" fill="#ffff00"/><circle cx="716.0" cy="785.6" r="4.7" fill="#ffff20"/><circle cx="721.0" cy="590.4" r="5.0" fill="#ff9500"/><circle cx="697.0" cy="576.2" r="5.4" fill="#ea0000"/><circle cx="729.0" cy="581.8" r="5.8" fill="#400000"/><circle cx="730.1" cy="584.0" r="5.8" fill="#400000"/><circle cx="731.0" cy="586.7" r="5.8" fill="#400000"/><circle cx="731.7" cy="591.3" r="5.8" fill="#400000"/><circle cx="733.1" cy="587.8" r="5.9" fill="#2a0000"/><circle cx="733.5" cy="597.7" r="5.8" fill="#400000"/><circle cx="734.3" cy="596.1" r="5.9" fill="#150000"/><circle cx="735.0" cy="593.2" r="5.8" fill="#400000"/><circle cx="736.1" cy="604.3" r="5.8" fill="#550000"/><circle cx="736.9" cy="597.9" r="5.8" fill="#550000"/><circle cx="737.6" cy="604.2" r="5.8" fill="#550000"/><circle cx="738.7" cy="605.3" r="5.8" fill="#400000"/><circle cx="739.3" cy="606.8" r="5.9" fill="#2a0000"/><circle cx="740.4" cy="609.6" r="5.9" fill="#2a0000"/><circle cx="741.2" cy="605.0" r="5.8" fill="#400000"/><circle cx="742.1" cy="604.1" r="5.8" fill="#400000"/><circle cx="742.7" cy="611.8" r="5.8" fill="#400000"/><circle cx="744.0" cy="610.4" r="5.8" fill="#550000"/><circle cx="744.6" cy="604.3" r="5.8" fill="#550000"/><circle cx="745.3" cy="605.5" r="5.8" fill="#400000"/><circle cx="746.0" cy="607.1" r="5.8" fill="#400000"/><circle cx="746.6" cy="607.7" r="5.8" fill="#550000"/><circle cx="747.4" cy="607.9" r="5.8" fill="#400000"/><circle cx="748.2" cy="613.0" r="5.9" fill="#2a0000"/><circle cx="749.8" cy="610.0" r="5.8" fill="#400000"/><circle cx="750.2" cy="613.6" r="5.9" fill="#2a0000"/><circle cx="751.3" cy="610.4" r="5.8" fill="#400000"/><circle cx="751.7" cy="614.0" r="5.8" fill="#400000"/><circle cx="753.2" cy="613.5" r="5.9" fill="#2a0000"/><circle cx="754.0" cy="613.5" r="5.8" fill="#400000"/><circle cx="754.6" cy="613.4" r="5.8" fill="#400000"/><circle cx="754.9" cy="615.1" r="5.8" fill="#400000"/><circle cx="755.8" cy="613.1" r="5.8" fill="#400000"/><circle cx="757.1" cy="614.9" r="5.8" fill="#550000"/><circle cx="758.0" cy="607.5" r="5.8" fill="#550000"/><circle cx="759.0" cy="614.6" r="5.7" fill="#6a0000"/><circle cx="759.7" cy="610.5" r="5.8" fill="#400000"/><circle cx="760.6" cy="613.3" r="5.8" fill="#400000"/><circle cx="761.4" cy="614.1" r="5.9" fill="#2a0000"/><circle cx="761.7" cy="609.6" r="5.9" fill="#150000"/><circle cx="763.1" cy="613.9" r="5.9" fill="#150000"/><circle cx="764.1" cy="617.3" r="5.8" fill="#400000"/><circle cx="764.2" cy="614.5" r="5.9" fill="#2a0000"/><circle cx="765.0" cy="611.8" r="5.8" fill="#550000"/><circle cx="766.1" cy="616.1" r="5.9" fill="#2a0000"/><circle cx="767.3" cy="617.6" r="5.8" fill="#400000"/><circle cx="768.0" cy="615.8" r="5.8" fill="#400000"/><circle cx="768.4" cy="611.5" r="5.9" fill="#150000"/><circle cx="769.4" cy="617.6" r="5.9" fill="#2a0000"/><circle cx="770.0" cy="610.8" r="5.9" fill="#150000"/><circle cx="770.9" cy="614.2" r="5.9" fill="#2a0000"/><circle cx="772.0" cy="614.0" r="5.8" fill="#550000"/><circle cx="772.8" cy="615.1" r="5.9" fill="#2a0000"/><circle cx="773.8" cy="618.7" r="5.9" fill="#150000"/><circle cx="774.6" cy="615.6" r="5.7" fill="#6a0000"/><circle cx="775.6" cy="615.4" r="5.8" fill="#400000"/><circle cx="776.2" cy="614.1" r="5.8" fill="#400000"/><circle cx="777.1" cy="616.3" r="5.9" fill="#2a0000"/><circle cx="777.5" cy="621.6" r="5.9" fill="#2a0000"/><circle cx="778.8" cy="617.6" r="5.9" fill="#150000"/><circle cx="779.7" cy="616.2" r="5.9" fill="#150000"/><circle cx="780.4" cy="619.9" r="5.9" fill="#2a0000"/><circle cx="781.3" cy="616.2" r="5.9" fill="#2a0000"/><circle cx="782.2" cy="624.9" r="5.9" fill="#2a0000"/><circle cx="782.6" cy="617.4" r="5.7" fill="#6a0000"/><circle cx="784.0" cy="619.8" r="5.9" fill="#150000"/><circle cx="784.9" cy="627.2" r="5.8" fill="#400000"/><circle cx="785.7" cy="620.3" r="5.8" fill="#400000"/><circle cx="786.1" cy="622.4" r="5.9" fill="#2a0000"/><circle cx="787.2" cy="624.5" r="5.8" fill="#400000"/><circle cx="787.5" cy="625.4" r="5.9" fill="#2a0000"/><circle cx="788.4" cy="629.1" r="5.8" fill="#400000"/><circle cx="789.9" cy="625.9" r="5.9" fill="#2a0000"/><circle cx="790.6" cy="630.3" r="5.8" fill="#400000"/><circle cx="791.0" cy="623.1" r="5.8" fill="#550000"/><circle cx="791.9" cy="628.9" r="5.9" fill="#2a0000"/><circle cx="792.5" cy="623.2" r="5.7" fill="#6a0000"/><circle cx="793.8" cy="622.1" r="5.8" fill="#400000"/><circle cx="794.9" cy="628.3" r="5.9" fill="#150000"/><circle cx="795.6" cy="626.4" r="5.9" fill="#2a0000"/><circle cx="796.5" cy="628.1" r="5.8" fill="#400000"/><circle cx="797.2" cy="624.2" r="5.8" fill="#400000"/><circle cx="797.9" cy="620.6" r="5.8" fill="#400000"/><circle cx="798.9" cy="620.5" r="5.8" fill="#400000"/><circle cx="799.9" cy="622.9" r="5.8" fill="#550000"/><circle cx="800.4" cy="623.6" r="5.9" fill="#2a0000"/><circle cx="801.2" cy="621.5" r="5.9" fill="#2a0000"/><circle cx="801.9" cy="627.4" r="5.8" fill="#400000"/><circle cx="802.8" cy="622.6" r="5.9" fill="#150000"/><circle cx="803.4" cy="624.0" r="5.8" fill="#550000"/><circle cx="804.4" cy="630.1" r="5.7" fill="#6a0000"/><circle cx="744.0" cy="614.6" r="5.8" fill="#550000"/><circle cx="745.0" cy="621.8" r="5.8" fill="#550000"/><circle cx="746.0" cy="627.5" r="5.8" fill="#400000"/><circle cx="747.0" cy="631.8" r="5.8" fill="#550000"/><circle cx="795.0" cy="634.6" r="5.8" fill="#400000"/><circle cx="800.0" cy="631.8" r="5.8" fill="#550000"/><circle cx="802.0" cy="633.2" r="5.4" fill="#ea0000"/><circle cx="802.0" cy="640.3" r="5.3" fill="#ff1500"/><circle cx="802.0" cy="646.0" r="5.4" fill="#ff0000"/><circle cx="802.0" cy="647.4" r="5.4" fill="#ea0000"/><circle cx="802.0" cy="678.8" r="5.4" fill="#ea0000"/><circle cx="803.0" cy="685.9" r="5.5" fill="#d40000"/><circle cx="801.0" cy="688.8" r="5.6" fill="#950000"/><circle cx="803.0" cy="703.0" r="5.4" fill="#ff0000"/><circle cx="804.0" cy="708.7" r="5.3" fill="#ff1500"/><circle cx="803.0" cy="717.2" r="5.3" fill="#ff1500"/><circle cx="802.0" cy="723.0" r="5.3" fill="#ff1500"/><circle cx="806.0" cy="740.0" r="5.1" fill="#ff5500"/><circle cx="802.0" cy="760.0" r="5.4" fill="#ea0000"/><circle cx="803.0" cy="748.6" r="5.3" fill="#ff1500"/><circle cx="802.0" cy="731.5" r="5.4" fill="#ea0000"/><circle cx="827.5" cy="799.1" r="4.7" fill="#ffff20"/><circle cx="837.2" cy="777.7" r="4.6" fill="#ffff80"/><circle cx="833.3" cy="755.3" r="4.8" fill="#ffea00"/><circle cx="832.3" cy="788.4" r="4.6" fill="#ffff80"/><circle cx="831.1" cy="796.8" r="4.6" fill="#ffff80"/><circle cx="807.4" cy="786.8" r="4.6" fill="#ffff80"/><circle cx="825.2" cy="785.9" r="4.8" fill="#ffea00"/><circle cx="813.2" cy="768.2" r="4.7" fill="#ffff40"/><circle cx="807.3" cy="815.3" r="4.6" fill="#ffff60"/><circle cx="810.1" cy="772.1" r="4.7" fill="#ffff40"/><circle cx="829.5" cy="811.3" r="4.6" fill="#ffff60"/><circle cx="830.5" cy="818.6" r="4.7" fill="#ffff40"/><circle cx="817.2" cy="756.5" r="4.6" fill="#ffff60"/><circle cx="840.7" cy="749.0" r="4.6" fill="#ffff60"/><circle cx="811.1" cy="805.7" r="4.7" fill="#ffff20"/><circle cx="810.3" cy="808.1" r="4.7" fill="#ffff40"/><circle cx="808.0" cy="811.5" r="4.6" fill="#ffff80"/><circle cx="821.3" cy="776.0" r="4.7" fill="#ffff40"/><circle cx="827.5" cy="782.4" r="4.8" fill="#ffff00"/><circle cx="808.5" cy="802.1" r="4.8" fill="#ffff00"/><circle cx="811.6" cy="763.8" r="4.8" fill="#ffea00"/><circle cx="833.1" cy="785.9" r="4.7" fill="#ffff20"/><circle cx="832.0" cy="705.9" r="4.8" fill="#ffea00"/><circle cx="858.0" cy="708.7" r="5.1" fill="#ff8000"/><circle cx="835.0" cy="728.6" r="4.9" fill="#ffbf00"/><circle cx="853.0" cy="740.0" r="4.8" fill="#ffea00"/><circle cx="855.0" cy="748.6" r="4.8" fill="#ffff00"/><circle cx="852.0" cy="737.2" r="5.0" fill="#ff9500"/><circle cx="868.0" cy="623.2" r="5.4" fill="#ff0000"/><circle cx="873.0" cy="618.9" r="5.4" fill="#ea0000"/><circle cx="878.0" cy="623.2" r="5.5" fill="#d40000"/><circle cx="884.0" cy="617.5" r="5.5" fill="#bf0000"/><circle cx="888.0" cy="620.4" r="5.5" fill="#d40000"/><circle cx="891.0" cy="628.9" r="5.5" fill="#d40000"/><circle cx="880.0" cy="631.8" r="5.3" fill="#ff1500"/><circle cx="872.0" cy="634.6" r="5.4" fill="#ea0000"/><circle cx="868.0" cy="637.5" r="5.4" fill="#ff0000"/><circle cx="876.0" cy="637.5" r="5.5" fill="#d40000"/><circle cx="886.0" cy="634.6" r="5.5" fill="#d40000"/><circle cx="869.0" cy="671.7" r="5.3" fill="#ff2a00"/><circle cx="880.0" cy="674.5" r="5.4" fill="#ea0000"/><circle cx="894.0" cy="668.8" r="5.3" fill="#ff1500"/><circle cx="893.0" cy="685.9" r="5.4" fill="#ff0000"/><circle cx="868.0" cy="683.0" r="5.2" fill="#ff4000"/><circle cx="870.0" cy="688.8" r="5.3" fill="#ff1500"/><circle cx="874.0" cy="700.2" r="5.4" fill="#ea0000"/><circle cx="874.0" cy="705.9" r="5.4" fill="#ea0000"/><circle cx="896.0" cy="708.7" r="5.2" fill="#ff4000"/><circle cx="892.0" cy="725.8" r="5.6" fill="#950000"/><circle cx="895.0" cy="728.6" r="5.3" fill="#ff1500"/><circle cx="905.0" cy="728.6" r="5.2" fill="#ff4000"/><circle cx="911.0" cy="703.0" r="5.4" fill="#ea0000"/><circle cx="892.0" cy="750.0" r="5.3" fill="#ff1500"/><circle cx="896.0" cy="755.7" r="5.4" fill="#ff0000"/><circle cx="903.0" cy="758.6" r="5.4" fill="#ea0000"/><circle cx="875.0" cy="781.4" r="5.4" fill="#ff0000"/><circle cx="891.0" cy="787.1" r="5.4" fill="#ff0000"/><circle cx="903.0" cy="617.5" r="5.3" fill="#ff1500"/><circle cx="910.0" cy="617.5" r="5.5" fill="#d40000"/><circle cx="918.0" cy="611.8" r="5.6" fill="#950000"/><circle cx="927.0" cy="614.6" r="5.5" fill="#d40000"/><circle cx="929.0" cy="617.5" r="5.5" fill="#bf0000"/><circle cx="913.0" cy="628.9" r="5.5" fill="#bf0000"/><circle cx="922.0" cy="628.9" r="5.5" fill="#d40000"/><circle cx="928.0" cy="634.6" r="5.5" fill="#aa0000"/><circle cx="930.0" cy="640.3" r="5.5" fill="#d40000"/><circle cx="912.0" cy="640.3" r="5.5" fill="#bf0000"/><circle cx="916.0" cy="646.0" r="5.6" fill="#950000"/><circle cx="910.0" cy="648.9" r="5.4" fill="#ea0000"/><circle cx="926.0" cy="646.0" r="5.5" fill="#d40000"/><circle cx="929.0" cy="648.9" r="5.5" fill="#bf0000"/><circle cx="924.0" cy="663.1" r="5.5" fill="#aa0000"/><circle cx="927.0" cy="660.2" r="5.4" fill="#ea0000"/><circle cx="920.0" cy="623.2" r="5.5" fill="#aa0000"/><circle cx="906.0" cy="634.6" r="5.5" fill="#d40000"/><circle cx="929.0" cy="700.2" r="5.6" fill="#950000"/><circle cx="929.0" cy="705.9" r="5.6" fill="#950000"/><circle cx="929.0" cy="748.6" r="5.4" fill="#ff0000"/><circle cx="928.0" cy="757.1" r="5.5" fill="#d40000"/><circle cx="929.0" cy="762.9" r="5.4" fill="#ea0000"/><circle cx="928.0" cy="771.4" r="5.3" fill="#ff1500"/><circle cx="929.0" cy="777.1" r="5.4" fill="#ea0000"/><circle cx="929.0" cy="780.0" r="5.4" fill="#ea0000"/><circle cx="929.0" cy="805.6" r="5.2" fill="#ff4000"/><circle cx="929.0" cy="811.3" r="5.2" fill="#ff4000"/><circle cx="929.0" cy="819.9" r="5.1" fill="#ff5500"/><circle cx="929.0" cy="825.6" r="5.1" fill="#ff8000"/><circle cx="929.0" cy="731.5" r="5.5" fill="#d40000"/><circle cx="929.0" cy="740.0" r="5.4" fill="#ff0000"/><circle cx="930.0" cy="829.8" r="5.8" fill="#550000"/><circle cx="931.0" cy="832.8" r="4.4" fill="#ffffff"/><circle cx="934.4" cy="831.9" r="4.4" fill="#ffffff"/><circle cx="937.6" cy="832.9" r="4.4" fill="#ffffff"/><circle cx="941.2" cy="833.0" r="4.4" fill="#ffffff"/><circle cx="944.9" cy="831.8" r="4.4" fill="#ffffff"/><circle cx="947.4" cy="832.8" r="4.4" fill="#ffffff"/><circle cx="950.7" cy="832.5" r="4.4" fill="#ffffff"/><circle cx="954.2" cy="831.8" r="4.4" fill="#ffffff"/><circle cx="957.6" cy="833.0" r="4.4" fill="#ffffff"/><circle cx="961.3" cy="831.8" r="4.4" fill="#ffffff"/><circle cx="964.1" cy="831.7" r="4.4" fill="#ffffff"/><circle cx="966.9" cy="831.6" r="4.4" fill="#ffffff"/><circle cx="970.9" cy="832.5" r="4.4" fill="#ffffff"/><circle cx="973.9" cy="831.5" r="4.4" fill="#ffffff"/><circle cx="976.5" cy="831.3" r="4.4" fill="#ffffff"/><circle cx="979.8" cy="831.4" r="4.4" fill="#ffffff"/><circle cx="983.8" cy="833.0" r="4.4" fill="#ffffff"/><circle cx="987.0" cy="833.0" r="4.4" fill="#ffffff"/><circle cx="991.0" cy="831.6" r="4.4" fill="#ffffff"/><circle cx="993.9" cy="831.8" r="4.4" fill="#ffffff"/><circle cx="997.5" cy="832.3" r="4.4" fill="#ffffff"/><circle cx="1001.5" cy="832.3" r="4.4" fill="#ffffff"/><circle cx="1005.0" cy="831.4" r="4.4" fill="#ffffff"/><circle cx="1008.9" cy="831.4" r="4.4" fill="#ffffff"/><circle cx="1011.8" cy="831.7" r="4.4" fill="#ffffff"/><circle cx="1014.5" cy="832.8" r="4.4" fill="#ffffff"/><circle cx="1018.3" cy="832.8" r="4.5" fill="#ffff9f"/><circle cx="1021.4" cy="831.4" r="4.4" fill="#ffffff"/><circle cx="1024.1" cy="832.4" r="4.4" fill="#ffffff"/><circle cx="1027.2" cy="831.6" r="4.4" fill="#ffffff"/><circle cx="1031.3" cy="832.4" r="4.4" fill="#ffffff"/><circle cx="1035.2" cy="831.5" r="4.4" fill="#ffffff"/><circle cx="1039.5" cy="832.6" r="4.4" fill="#ffffff"/><circle cx="1042.6" cy="832.9" r="4.4" fill="#ffffff"/><circle cx="1047.1" cy="831.8" r="4.4" fill="#ffffff"/><circle cx="1051.5" cy="832.6" r="4.4" fill="#ffffff"/><circle cx="1054.3" cy="832.2" r="4.5" fill="#ffff9f"/><circle cx="1058.0" cy="832.7" r="4.4" fill="#ffffff"/><circle cx="1062.3" cy="831.9" r="4.4" fill="#ffffff"/><circle cx="1065.6" cy="832.9" r="4.4" fill="#ffffff"/><circle cx="1068.3" cy="833.0" r="4.6" fill="#ffff60"/><circle cx="1072.3" cy="832.3" r="4.4" fill="#ffffff"/><circle cx="1075.3" cy="832.9" r="4.4" fill="#ffffff"/><circle cx="1078.8" cy="832.2" r="4.6" fill="#ffff60"/><circle cx="1082.0" cy="832.8" r="4.4" fill="#ffffff"/><circle cx="1085.0" cy="832.3" r="4.4" fill="#ffffff"/><circle cx="1088.5" cy="832.7" r="4.4" fill="#ffffff"/><circle cx="1092.4" cy="832.2" r="4.4" fill="#ffffff"/><circle cx="1096.5" cy="831.3" r="4.4" fill="#ffffff"/><circle cx="1099.8" cy="831.5" r="4.4" fill="#ffffff"/><circle cx="1104.1" cy="832.6" r="4.4" fill="#ffffff"/><circle cx="1108.5" cy="832.3" r="4.4" fill="#ffffff"/><circle cx="1112.4" cy="831.7" r="4.4" fill="#ffffff"/><circle cx="1116.4" cy="832.5" r="4.4" fill="#ffffff"/><circle cx="1120.4" cy="832.5" r="4.4" fill="#ffffff"/><circle cx="1123.6" cy="832.3" r="4.4" fill="#ffffff"/><circle cx="1127.6" cy="832.7" r="4.4" fill="#ffffff"/><circle cx="1132.0" cy="831.7" r="4.4" fill="#ffffff"/><circle cx="1136.4" cy="832.1" r="4.4" fill="#ffffff"/><circle cx="1139.7" cy="831.4" r="4.4" fill="#ffffff"/><circle cx="1144.2" cy="831.3" r="4.4" fill="#ffffff"/><circle cx="1147.1" cy="832.9" r="4.4" fill="#ffffff"/><circle cx="1151.4" cy="832.9" r="4.4" fill="#ffffff"/><circle cx="1155.1" cy="831.9" r="4.4" fill="#ffffff"/><circle cx="1151.0" cy="831.4" r="4.4" fill="#ffffdf"/><circle cx="1151.4" cy="825.8" r="4.5" fill="#ffffbf"/><circle cx="1152.3" cy="829.2" r="4.4" fill="#ffffff"/><circle cx="1153.9" cy="830.7" r="4.4" fill="#ffffdf"/><circle cx="1154.9" cy="833.2" r="4.4" fill="#ffffdf"/><circle cx="1155.0" cy="829.4" r="4.5" fill="#ffffbf"/><circle cx="1156.6" cy="833.2" r="4.4" fill="#ffffdf"/><circle cx="1157.8" cy="822.0" r="4.5" fill="#ffffbf"/><circle cx="1158.0" cy="829.1" r="4.5" fill="#ffffbf"/><circle cx="1159.5" cy="827.0" r="4.4" fill="#ffffdf"/><circle cx="1160.1" cy="830.6" r="4.4" fill="#ffffdf"/><circle cx="1161.5" cy="833.2" r="4.4" fill="#ffffdf"/><circle cx="1162.6" cy="821.1" r="4.4" fill="#ffffdf"/><circle cx="1163.9" cy="828.2" r="4.5" fill="#ffffbf"/><circle cx="1164.1" cy="829.7" r="4.4" fill="#ffffff"/><circle cx="1165.2" cy="817.4" r="4.4" fill="#ffffdf"/><circle cx="1166.0" cy="818.5" r="4.4" fill="#ffffff"/><circle cx="1167.8" cy="817.3" r="4.4" fill="#ffffdf"/><circle cx="1168.9" cy="818.1" r="4.5" fill="#ffffbf"/><circle cx="1169.5" cy="829.0" r="4.5" fill="#ffffbf"/><circle cx="1170.9" cy="825.6" r="4.5" fill="#ffffbf"/><circle cx="1171.1" cy="827.7" r="4.4" fill="#ffffdf"/><circle cx="1173.0" cy="824.5" r="4.5" fill="#ffffbf"/><circle cx="1173.7" cy="827.3" r="4.4" fill="#ffffdf"/><circle cx="1174.9" cy="821.3" r="4.5" fill="#ffffbf"/><circle cx="1175.6" cy="817.2" r="4.5" fill="#ffffbf"/><circle cx="1176.3" cy="824.7" r="4.5" fill="#ffffbf"/><circle cx="1177.5" cy="826.7" r="4.4" fill="#ffffdf"/><circle cx="1178.1" cy="814.0" r="4.4" fill="#ffffdf"/><circle cx="1179.3" cy="815.1" r="4.5" fill="#ffff9f"/><circle cx="1180.2" cy="815.4" r="4.5" fill="#ffffbf"/><circle cx="1182.0" cy="823.9" r="4.5" fill="#ffffbf"/><circle cx="1182.7" cy="818.1" r="4.5" fill="#ffffbf"/><circle cx="1183.2" cy="818.9" r="4.4" fill="#ffffdf"/><circle cx="1184.9" cy="805.2" r="4.6" fill="#ffff80"/><circle cx="1185.4" cy="816.7" r="4.5" fill="#ffff9f"/><circle cx="1186.8" cy="818.1" r="4.5" fill="#ffffbf"/><circle cx="1187.2" cy="819.7" r="4.5" fill="#ffffbf"/><circle cx="1188.1" cy="802.4" r="4.6" fill="#ffff80"/><circle cx="1189.9" cy="817.1" r="4.4" fill="#ffffdf"/><circle cx="1190.8" cy="811.6" r="4.5" fill="#ffff9f"/><circle cx="1191.1" cy="811.1" r="4.6" fill="#ffff80"/><circle cx="1192.7" cy="805.0" r="4.6" fill="#ffff80"/><circle cx="1193.7" cy="815.1" r="4.4" fill="#ffffdf"/><circle cx="1194.5" cy="808.4" r="4.5" fill="#ffffbf"/><circle cx="1195.4" cy="799.1" r="4.5" fill="#ffff9f"/><circle cx="1196.2" cy="809.6" r="4.5" fill="#ffffbf"/><circle cx="1197.2" cy="800.2" r="4.5" fill="#ffff9f"/><circle cx="1198.8" cy="803.7" r="4.6" fill="#ffff80"/><circle cx="1199.5" cy="806.1" r="4.5" fill="#ffff9f"/><circle cx="1200.5" cy="799.5" r="4.6" fill="#ffff60"/><circle cx="1201.7" cy="792.3" r="4.6" fill="#ffff60"/><circle cx="1204.6" cy="710.4" r="4.7" fill="#ffff20"/><circle cx="1204.6" cy="771.4" r="4.7" fill="#ffff20"/><circle cx="1185.0" cy="768.6" r="4.5" fill="#ffff9f"/><circle cx="1199.0" cy="765.7" r="4.6" fill="#ffff80"/></g>
<g fill="#0cc65a" stroke="#06a845" stroke-width="0.45"><use href="#gs" x="254.5" y="750.9"/><use href="#gs" x="755.8" y="768.3"/><use href="#gs" x="118.1" y="762.2"/><use href="#gs" x="506.6" y="749.1"/><use href="#gs" x="878.9" y="773.4"/><use href="#gs" x="187.2" y="762.5"/><use href="#gs" x="380.9" y="764.7"/><use href="#gs" x="844.3" y="750.1"/><use href="#gs" x="333.9" y="752.9"/><use href="#gs" x="98.2" y="766.2"/><use href="#gs" x="701.7" y="778.1"/><use href="#gs" x="472.5" y="780.2"/><use href="#gs" x="880.9" y="752.5"/><use href="#gs" x="357.3" y="748.2"/><use href="#gs" x="771.2" y="761.1"/><use href="#gs" x="529.6" y="790.2"/><use href="#gs" x="339.0" y="784.4"/><use href="#gs" x="840.6" y="734.9"/><use href="#gs" x="188.2" y="773.1"/><use href="#gs" x="483.0" y="770.8"/><use href="#gs" x="135.6" y="765.6"/><use href="#gs" x="155.6" y="748.6"/><use href="#gs" x="684.3" y="716.2"/><use href="#gs" x="343.1" y="785.2"/><use href="#gs" x="436.3" y="726.8"/><use href="#gs" x="820.3" y="752.8"/><use href="#gs" x="214.8" y="783.4"/><use href="#gs" x="674.8" y="757.1"/><use href="#gs" x="451.6" y="762.8"/><use href="#gs" x="918.8" y="760.3"/><use href="#gs" x="580.3" y="755.6"/><use href="#gs" x="674.6" y="739.0"/><use href="#gs" x="295.1" y="728.9"/><use href="#gs" x="788.9" y="725.6"/><use href="#gs" x="183.7" y="788.9"/><use href="#gs" x="415.4" y="764.8"/><use href="#gs" x="117.7" y="764.1"/><use href="#gs" x="362.3" y="749.7"/><use href="#gs" x="596.7" y="761.4"/><use href="#gs" x="674.2" y="764.6"/><use href="#gs" x="654.2" y="731.8"/><use href="#gs" x="657.3" y="742.0"/><use href="#gs" x="217.4" y="740.6"/><use href="#gs" x="564.2" y="776.7"/><use href="#gs" x="725.2" y="775.1"/><use href="#gs" x="80.7" y="751.2"/><use href="#gs" x="374.0" y="761.2"/><use href="#gs" x="123.9" y="763.8"/><use href="#gs" x="640.7" y="773.2"/><use href="#gs" x="437.2" y="754.7"/><use href="#gs" x="170.7" y="763.5"/><use href="#gs" x="261.4" y="772.7"/><use href="#gs" x="878.7" y="781.1"/><use href="#gs" x="186.6" y="772.1"/><use href="#gs" x="808.0" y="735.3"/><use href="#gs" x="117.8" y="786.7"/><use href="#gs" x="874.4" y="764.3"/><use href="#gs" x="202.0" y="766.2"/><use href="#gs" x="155.5" y="776.3"/><use href="#gs" x="481.9" y="752.7"/><use href="#gs" x="159.8" y="770.0"/><use href="#gs" x="113.7" y="766.1"/><use href="#gs" x="215.4" y="779.7"/><use href="#gs" x="489.5" y="726.1"/><use href="#gs" x="853.8" y="780.1"/><use href="#gs" x="378.4" y="763.4"/><use href="#gs" x="146.7" y="789.1"/><use href="#gs" x="710.7" y="713.8"/><use href="#gs" x="517.6" y="779.0"/><use href="#gs" x="429.6" y="779.9"/><use href="#gs" x="400.0" y="759.5"/><use href="#gs" x="625.1" y="735.8"/><use href="#gs" x="544.5" y="761.2"/><use href="#gs" x="139.1" y="786.9"/><use href="#gs" x="330.6" y="779.5"/><use href="#gs" x="392.5" y="753.8"/><use href="#gs" x="670.7" y="781.2"/><use href="#gs" x="686.2" y="745.7"/><use href="#gs" x="814.5" y="764.0"/><use href="#gs" x="718.5" y="765.5"/><use href="#gs" x="797.1" y="752.3"/><use href="#gs" x="227.3" y="720.3"/><use href="#gs" x="788.3" y="754.9"/><use href="#gs" x="120.2" y="757.6"/><use href="#gs" x="471.0" y="756.1"/><use href="#gs" x="326.6" y="780.2"/><use href="#gs" x="579.3" y="786.2"/><use href="#gs" x="450.2" y="809.9"/><use href="#gs" x="528.1" y="784.2"/><use href="#gs" x="346.3" y="760.1"/><use href="#gs" x="347.8" y="764.7"/><use href="#gs" x="496.3" y="782.2"/><use href="#gs" x="464.0" y="765.8"/><use href="#gs" x="927.3" y="788.8"/><use href="#gs" x="365.8" y="742.9"/><use href="#gs" x="896.7" y="749.5"/><use href="#gs" x="910.1" y="742.4"/><use href="#gs" x="793.1" y="770.7"/><use href="#gs" x="765.8" y="784.8"/><use href="#gs" x="278.5" y="749.4"/><use href="#gs" x="721.3" y="767.8"/><use href="#gs" x="683.7" y="768.5"/><use href="#gs" x="608.9" y="775.1"/><use href="#gs" x="539.5" y="739.7"/><use href="#gs" x="895.3" y="773.3"/><use href="#gs" x="788.7" y="760.3"/><use href="#gs" x="160.5" y="772.7"/><use href="#gs" x="804.3" y="764.9"/><use href="#gs" x="99.2" y="735.7"/><use href="#gs" x="371.0" y="769.1"/><use href="#gs" x="126.1" y="774.4"/><use href="#gs" x="643.2" y="763.7"/><use href="#gs" x="426.8" y="751.9"/><use href="#gs" x="871.1" y="767.6"/><use href="#gs" x="112.8" y="750.5"/><use href="#gs" x="894.3" y="751.1"/><use href="#gs" x="423.5" y="764.9"/><use href="#gs" x="421.8" y="753.3"/><use href="#gs" x="376.1" y="751.3"/><use href="#gs" x="241.5" y="768.1"/><use href="#gs" x="524.7" y="766.6"/><use href="#gs" x="482.7" y="769.8"/><use href="#gs" x="440.6" y="734.7"/><use href="#gs" x="104.8" y="781.7"/><use href="#gs" x="795.1" y="768.8"/><use href="#gs" x="372.6" y="774.2"/><use href="#gs" x="924.2" y="749.7"/><use href="#gs" x="807.9" y="741.7"/><use href="#gs" x="156.7" y="738.2"/><use href="#gs" x="385.9" y="776.6"/><use href="#gs" x="651.2" y="755.5"/><use href="#gs" x="869.8" y="770.8"/><use href="#gs" x="157.9" y="780.5"/><use href="#gs" x="746.6" y="762.8"/><use href="#gs" x="354.7" y="763.4"/><use href="#gs" x="363.3" y="751.8"/><use href="#gs" x="898.1" y="723.9"/><use href="#gs" x="391.1" y="741.6"/><use href="#gs" x="397.2" y="749.8"/><use href="#gs" x="184.1" y="775.1"/><use href="#gs" x="285.4" y="758.5"/><use href="#gs" x="603.7" y="763.4"/><use href="#gs" x="683.5" y="794.7"/><use href="#gs" x="407.1" y="762.1"/><use href="#gs" x="492.4" y="735.6"/><use href="#gs" x="668.0" y="768.4"/><use href="#gs" x="719.9" y="766.9"/><use href="#gs" x="311.1" y="751.3"/><use href="#gs" x="322.7" y="756.6"/><use href="#gs" x="728.1" y="765.9"/><use href="#gs" x="729.7" y="752.1"/><use href="#gs" x="523.5" y="750.2"/><use href="#gs" x="502.6" y="749.7"/><use href="#gs" x="185.2" y="796.2"/><use href="#gs" x="716.5" y="766.4"/><use href="#gs" x="158.7" y="776.2"/><use href="#gs" x="81.3" y="775.7"/><use href="#gs" x="199.7" y="765.3"/><use href="#gs" x="909.0" y="767.7"/><use href="#gs" x="868.7" y="760.6"/><use href="#gs" x="107.6" y="756.8"/><use href="#gs" x="815.4" y="755.3"/><use href="#gs" x="320.0" y="748.7"/><use href="#gs" x="422.5" y="739.7"/><use href="#gs" x="785.4" y="730.7"/><use href="#gs" x="600.2" y="764.7"/><use href="#gs" x="829.8" y="774.3"/><use href="#gs" x="669.8" y="774.2"/><use href="#gs" x="764.0" y="767.6"/><use href="#gs" x="788.7" y="766.0"/><use href="#gs" x="538.8" y="774.5"/><use href="#gs" x="285.4" y="769.9"/><use href="#gs" x="534.3" y="766.1"/><use href="#gs" x="508.7" y="785.4"/><use href="#gs" x="160.8" y="728.1"/><use href="#gs" x="389.6" y="733.3"/><use href="#gs" x="732.9" y="775.3"/><use href="#gs" x="291.7" y="740.9"/><use href="#gs" x="743.8" y="774.1"/><use href="#gs" x="521.7" y="739.9"/><use href="#gs" x="454.6" y="741.4"/><use href="#gs" x="500.5" y="770.7"/><use href="#gs" x="573.6" y="759.5"/><use href="#gs" x="747.9" y="755.0"/><use href="#gs" x="420.6" y="779.3"/><use href="#gs" x="211.2" y="762.1"/><use href="#gs" x="122.2" y="737.2"/><use href="#gs" x="286.2" y="735.0"/><use href="#gs" x="784.6" y="776.7"/><use href="#gs" x="810.8" y="732.5"/><use href="#gs" x="554.6" y="772.8"/><use href="#gs" x="795.3" y="794.3"/><use href="#gs" x="881.5" y="781.4"/><use href="#gs" x="396.1" y="752.9"/><use href="#gs" x="640.3" y="768.3"/><use href="#gs" x="837.1" y="756.0"/><use href="#gs" x="732.0" y="784.9"/><use href="#gs" x="742.6" y="739.7"/><use href="#gs" x="686.6" y="764.1"/><use href="#gs" x="597.9" y="756.5"/><use href="#gs" x="777.3" y="760.7"/><use href="#gs" x="91.3" y="766.4"/><use href="#gs" x="433.9" y="779.2"/><use href="#gs" x="532.6" y="752.0"/><use href="#gs" x="927.3" y="767.4"/><use href="#gs" x="320.5" y="794.4"/><use href="#gs" x="619.5" y="778.7"/><use href="#gs" x="844.8" y="749.6"/><use href="#gs" x="224.6" y="751.9"/><use href="#gs" x="171.9" y="786.2"/><use href="#gs" x="404.7" y="731.2"/><use href="#gs" x="626.9" y="777.7"/><use href="#gs" x="449.9" y="766.8"/><use href="#gs" x="843.1" y="729.4"/><use href="#gs" x="477.0" y="734.0"/><use href="#gs" x="767.8" y="772.6"/><use href="#gs" x="415.9" y="743.5"/><use href="#gs" x="243.8" y="763.5"/><use href="#gs" x="735.1" y="757.0"/><use href="#gs" x="881.5" y="773.7"/><use href="#gs" x="547.9" y="768.3"/><use href="#gs" x="186.1" y="768.7"/><use href="#gs" x="439.3" y="770.0"/><use href="#gs" x="676.0" y="755.1"/><use href="#gs" x="211.4" y="760.0"/><use href="#gs" x="245.9" y="742.7"/><use href="#gs" x="719.2" y="721.4"/><use href="#gs" x="207.1" y="763.1"/><use href="#gs" x="594.2" y="780.6"/><use href="#gs" x="879.9" y="775.7"/><use href="#gs" x="479.5" y="749.5"/><use href="#gs" x="224.6" y="750.3"/><use href="#gs" x="83.2" y="766.9"/><use href="#gs" x="262.9" y="775.3"/><use href="#gs" x="568.2" y="800.5"/><use href="#gs" x="447.0" y="768.1"/><use href="#gs" x="373.2" y="743.9"/><use href="#gs" x="693.7" y="791.0"/><use href="#gs" x="872.4" y="739.8"/><use href="#gs" x="536.1" y="776.7"/><use href="#gs" x="685.3" y="768.8"/><use href="#gs" x="212.9" y="781.8"/><use href="#gs" x="428.0" y="756.1"/><use href="#gs" x="496.8" y="745.9"/><use href="#gs" x="736.6" y="735.4"/><use href="#gs" x="653.2" y="763.4"/><use href="#gs" x="782.0" y="785.8"/><use href="#gs" x="254.6" y="748.8"/><use href="#gs" x="353.0" y="764.4"/><use href="#gs" x="201.3" y="728.5"/><use href="#gs" x="126.0" y="802.7"/><use href="#gs" x="841.0" y="765.1"/><use href="#gs" x="606.8" y="776.9"/><use href="#gs" x="91.7" y="772.3"/><use href="#gs" x="596.0" y="780.1"/><use href="#gs" x="857.8" y="749.4"/><use href="#gs" x="351.1" y="724.9"/><use href="#gs" x="823.7" y="778.6"/><use href="#gs" x="892.0" y="761.7"/><use href="#gs" x="527.2" y="753.1"/><use href="#gs" x="128.7" y="733.4"/><use href="#gs" x="722.5" y="736.5"/><use href="#gs" x="218.8" y="783.8"/><use href="#gs" x="685.7" y="741.2"/><use href="#gs" x="199.4" y="746.8"/><use href="#gs" x="523.2" y="765.0"/><use href="#gs" x="306.3" y="788.4"/><use href="#gs" x="628.6" y="757.3"/><use href="#gs" x="173.3" y="759.3"/><use href="#gs" x="883.3" y="761.8"/><use href="#gs" x="366.1" y="771.8"/><use href="#gs" x="836.9" y="745.4"/><use href="#gs" x="671.0" y="754.6"/><use href="#gs" x="178.7" y="774.9"/><use href="#gs" x="511.4" y="791.4"/><use href="#gs" x="526.9" y="754.7"/><use href="#gs" x="118.6" y="787.7"/><use href="#gs" x="118.6" y="753.3"/><use href="#gs" x="481.3" y="778.1"/><use href="#gs" x="786.5" y="772.9"/><use href="#gs" x="766.0" y="783.6"/><use href="#gs" x="350.8" y="755.9"/><use href="#gs" x="919.1" y="765.8"/><use href="#gs" x="768.9" y="776.5"/><use href="#gs" x="298.3" y="789.0"/><use href="#gs" x="151.2" y="755.9"/><use href="#gs" x="893.1" y="783.3"/><use href="#gs" x="360.0" y="737.6"/><use href="#gs" x="896.1" y="776.7"/><use href="#gs" x="640.9" y="709.5"/><use href="#gs" x="565.0" y="745.8"/><use href="#gs" x="193.5" y="732.8"/><use href="#gs" x="384.7" y="737.3"/><use href="#gs" x="560.5" y="731.4"/><use href="#gs" x="450.5" y="761.8"/><use href="#gs" x="318.5" y="790.5"/><use href="#gs" x="674.3" y="757.7"/><use href="#gs" x="885.4" y="743.6"/><use href="#gs" x="787.4" y="774.4"/><use href="#gs" x="842.4" y="746.8"/><use href="#gs" x="286.8" y="743.0"/><use href="#gs" x="593.3" y="755.7"/><use href="#gs" x="617.4" y="738.9"/><use href="#gs" x="558.1" y="772.1"/><use href="#gs" x="586.4" y="768.6"/><use href="#gs" x="149.2" y="731.2"/><use href="#gs" x="748.7" y="769.2"/><use href="#gs" x="697.4" y="769.2"/><use href="#gs" x="119.8" y="738.4"/><use href="#gs" x="816.7" y="775.2"/><use href="#gs" x="432.1" y="762.3"/><use href="#gs" x="606.5" y="797.3"/><use href="#gs" x="629.1" y="807.5"/><use href="#gs" x="454.2" y="768.7"/><use href="#gs" x="308.5" y="750.6"/><use href="#gs" x="465.8" y="756.4"/><use href="#gs" x="163.8" y="738.3"/><use href="#gs" x="926.4" y="779.5"/><use href="#gs" x="400.4" y="759.3"/><use href="#gs" x="375.8" y="749.1"/><use href="#gs" x="371.2" y="747.3"/><use href="#gs" x="227.7" y="789.0"/><use href="#gs" x="121.6" y="774.8"/><use href="#gs" x="822.3" y="758.5"/><use href="#gs" x="695.4" y="794.3"/><use href="#gs" x="441.7" y="740.3"/><use href="#gs" x="762.5" y="782.0"/><use href="#gs" x="768.8" y="788.8"/><use href="#gs" x="739.3" y="785.7"/><use href="#gs" x="619.7" y="751.2"/><use href="#gs" x="735.3" y="769.6"/><use href="#gs" x="255.2" y="766.3"/><use href="#gs" x="678.6" y="772.6"/><use href="#gs" x="504.6" y="759.1"/><use href="#gs" x="261.9" y="757.5"/><use href="#gs" x="324.1" y="788.2"/><use href="#gs" x="117.6" y="764.4"/><use href="#gs" x="196.6" y="759.2"/><use href="#gs" x="163.1" y="796.4"/><use href="#gs" x="136.5" y="744.2"/><use href="#gs" x="112.2" y="780.0"/><use href="#gs" x="540.6" y="747.8"/><use href="#gs" x="257.7" y="773.3"/><use href="#gs" x="476.0" y="759.5"/><use href="#gs" x="711.9" y="756.2"/><use href="#gs" x="657.0" y="788.6"/><use href="#gs" x="109.3" y="728.9"/><use href="#gs" x="217.5" y="749.7"/><use href="#gs" x="725.1" y="767.1"/><use href="#gs" x="596.4" y="761.4"/><use href="#gs" x="665.0" y="726.7"/><use href="#gs" x="352.1" y="766.6"/><use href="#gs" x="528.5" y="774.3"/><use href="#gs" x="925.1" y="714.2"/><use href="#gs" x="838.4" y="754.8"/><use href="#gs" x="127.1" y="728.9"/><use href="#gs" x="583.4" y="779.4"/><use href="#gs" x="663.5" y="777.0"/><use href="#gs" x="794.1" y="757.3"/><use href="#gs" x="144.7" y="720.7"/><use href="#gs" x="844.3" y="793.8"/><use href="#gs" x="288.7" y="774.8"/><use href="#gs" x="632.9" y="746.0"/><use href="#gs" x="449.5" y="736.6"/><use href="#gs" x="810.2" y="753.7"/><use href="#gs" x="917.6" y="766.1"/><use href="#gs" x="867.8" y="715.6"/><use href="#gs" x="719.3" y="742.7"/><use href="#gs" x="737.2" y="755.6"/><use href="#gs" x="107.0" y="802.2"/><use href="#gs" x="385.5" y="754.3"/><use href="#gs" x="229.6" y="781.1"/><use href="#gs" x="900.3" y="774.0"/><use href="#gs" x="822.9" y="789.0"/><use href="#gs" x="794.2" y="754.8"/><use href="#gs" x="429.3" y="758.2"/><use href="#gs" x="129.6" y="752.2"/><use href="#gs" x="391.6" y="740.1"/><use href="#gs" x="369.3" y="770.1"/><use href="#gs" x="768.2" y="777.0"/><use href="#gs" x="368.3" y="726.2"/><use href="#gs" x="461.2" y="766.0"/><use href="#gs" x="92.5" y="740.2"/><use href="#gs" x="337.2" y="774.4"/><use href="#gs" x="762.0" y="780.3"/><use href="#gs" x="678.6" y="755.8"/><use href="#gs" x="631.4" y="763.8"/><use href="#gs" x="119.7" y="784.7"/><use href="#gs" x="766.0" y="763.6"/><use href="#gs" x="132.8" y="757.3"/><use href="#gs" x="322.0" y="759.8"/><use href="#gs" x="877.7" y="750.8"/><use href="#gs" x="764.3" y="765.6"/><use href="#gs" x="203.2" y="788.6"/><use href="#gs" x="729.8" y="753.0"/><use href="#gs" x="627.2" y="730.7"/><use href="#gs" x="574.7" y="767.5"/><use href="#gs" x="612.7" y="753.4"/><use href="#gs" x="601.4" y="715.5"/><use href="#gs" x="174.6" y="753.0"/><use href="#gs" x="285.4" y="796.7"/><use href="#gs" x="663.3" y="751.7"/><use href="#gs" x="390.2" y="753.9"/><use href="#gs" x="227.5" y="758.7"/><use href="#gs" x="231.1" y="757.4"/><use href="#gs" x="857.7" y="782.0"/><use href="#gs" x="282.6" y="762.9"/><use href="#gs" x="886.9" y="772.1"/><use href="#gs" x="407.0" y="758.3"/><use href="#gs" x="823.2" y="755.7"/><use href="#gs" x="225.9" y="760.9"/><use href="#gs" x="485.8" y="762.1"/><use href="#gs" x="273.4" y="787.2"/><use href="#gs" x="620.9" y="769.3"/><use href="#gs" x="220.6" y="758.4"/><use href="#gs" x="892.3" y="749.1"/><use href="#gs" x="725.3" y="766.9"/><use href="#gs" x="561.5" y="777.1"/><use href="#gs" x="617.6" y="766.0"/><use href="#gs" x="326.9" y="760.2"/><use href="#gs" x="257.8" y="778.7"/><use href="#gs" x="639.3" y="756.1"/><use href="#gs" x="560.4" y="774.0"/><use href="#gs" x="720.4" y="789.3"/><use href="#gs" x="98.2" y="754.6"/><use href="#gs" x="807.3" y="752.7"/><use href="#gs" x="192.8" y="742.8"/><use href="#gs" x="381.1" y="765.7"/><use href="#gs" x="583.8" y="777.6"/><use href="#gs" x="91.0" y="774.8"/><use href="#gs" x="897.0" y="762.9"/><use href="#gs" x="744.0" y="764.0"/><use href="#gs" x="868.2" y="763.2"/><use href="#gs" x="213.1" y="751.0"/><use href="#gs" x="835.4" y="766.9"/><use href="#gs" x="878.5" y="749.9"/><use href="#gs" x="446.3" y="778.4"/><use href="#gs" x="540.5" y="783.3"/><use href="#gs" x="817.8" y="749.6"/><use href="#gs" x="480.5" y="723.9"/><use href="#gs" x="825.3" y="778.5"/><use href="#gs" x="299.8" y="772.4"/><use href="#gs" x="875.7" y="750.1"/><use href="#gs" x="632.5" y="757.5"/><use href="#gs" x="230.8" y="753.0"/><use href="#gs" x="643.1" y="758.8"/><use href="#gs" x="816.4" y="750.2"/><use href="#gs" x="594.1" y="788.1"/><use href="#gs" x="829.7" y="785.0"/><use href="#gs" x="471.4" y="769.4"/><use href="#gs" x="403.1" y="770.6"/><use href="#gs" x="763.2" y="744.5"/><use href="#gs" x="316.0" y="720.2"/><use href="#gs" x="402.2" y="773.6"/><use href="#gs" x="519.8" y="751.9"/><use href="#gs" x="357.8" y="774.9"/><use href="#gs" x="849.5" y="749.3"/><use href="#gs" x="817.3" y="756.4"/><use href="#gs" x="902.5" y="738.3"/><use href="#gs" x="426.6" y="760.1"/><use href="#gs" x="322.4" y="760.6"/><use href="#gs" x="910.3" y="741.9"/><use href="#gs" x="676.1" y="745.3"/><use href="#gs" x="625.0" y="749.1"/><use href="#gs" x="230.6" y="767.9"/><use href="#gs" x="182.1" y="780.3"/><use href="#gs" x="228.9" y="757.7"/><use href="#gs" x="682.5" y="757.8"/><use href="#gs" x="269.0" y="770.6"/><use href="#gs" x="84.1" y="738.8"/><use href="#gs" x="656.0" y="772.9"/><use href="#gs" x="642.3" y="750.3"/><use href="#gs" x="745.8" y="764.5"/><use href="#gs" x="651.9" y="762.1"/><use href="#gs" x="730.1" y="761.8"/><use href="#gs" x="331.4" y="758.1"/><use href="#gs" x="177.2" y="741.8"/><use href="#gs" x="536.1" y="766.5"/><use href="#gs" x="556.5" y="726.9"/><use href="#gs" x="586.1" y="747.7"/><use href="#gs" x="842.0" y="759.1"/><use href="#gs" x="371.0" y="763.6"/><use href="#gs" x="338.1" y="775.7"/><use href="#gs" x="852.5" y="754.5"/><use href="#gs" x="320.8" y="769.3"/><use href="#gs" x="220.1" y="764.1"/><use href="#gs" x="788.3" y="760.6"/><use href="#gs" x="567.3" y="772.5"/><use href="#gs" x="773.9" y="780.0"/><use href="#gs" x="264.4" y="730.5"/><use href="#gs" x="81.9" y="806.6"/><use href="#gs" x="93.5" y="766.6"/><use href="#gs" x="529.9" y="792.6"/><use href="#gs" x="716.7" y="770.5"/><use href="#gs" x="310.6" y="766.7"/><use href="#gs" x="350.7" y="759.3"/><use href="#gs" x="654.9" y="758.4"/><use href="#gs" x="224.4" y="756.5"/><use href="#gs" x="160.6" y="782.4"/><use href="#gs" x="830.0" y="734.5"/><use href="#gs" x="475.7" y="752.7"/><use href="#gs" x="549.8" y="765.7"/><use href="#gs" x="109.8" y="752.0"/><use href="#gs" x="503.4" y="773.9"/><use href="#gs" x="708.4" y="752.5"/><use href="#gs" x="804.9" y="741.9"/><use href="#gs" x="792.1" y="769.6"/><use href="#gs" x="711.3" y="747.6"/><use href="#gs" x="469.6" y="765.3"/><use href="#gs" x="649.7" y="778.8"/><use href="#gs" x="594.7" y="745.2"/><use href="#gs" x="840.9" y="750.8"/><use href="#gs" x="539.6" y="804.0"/><use href="#gs" x="376.6" y="688.9"/><use href="#gs" x="623.3" y="743.8"/><use href="#gs" x="597.5" y="747.0"/><use href="#gs" x="885.5" y="765.2"/><use href="#gs" x="924.9" y="751.3"/><use href="#gs" x="619.2" y="773.5"/><use href="#gs" x="306.1" y="738.1"/><use href="#gs" x="565.0" y="762.5"/><use href="#gs" x="196.5" y="753.9"/><use href="#gs" x="226.8" y="780.2"/><use href="#gs" x="642.5" y="765.5"/><use href="#gs" x="660.5" y="740.1"/><use href="#gs" x="844.2" y="776.2"/><use href="#gs" x="322.5" y="765.7"/><use href="#gs" x="513.4" y="722.5"/><use href="#gs" x="839.3" y="773.8"/><use href="#gs" x="192.2" y="787.5"/><use href="#gs" x="381.7" y="787.9"/><use href="#gs" x="620.1" y="764.9"/><use href="#gs" x="390.9" y="729.0"/><use href="#gs" x="836.3" y="787.2"/><use href="#gs" x="143.0" y="767.0"/><use href="#gs" x="569.8" y="777.3"/><use href="#gs" x="918.0" y="777.5"/><use href="#gs" x="433.2" y="721.3"/><use href="#gs" x="257.4" y="774.9"/><use href="#gs" x="514.6" y="770.4"/><use href="#gs" x="691.9" y="723.8"/><use href="#gs" x="631.4" y="771.2"/><use href="#gs" x="746.3" y="762.1"/><use href="#gs" x="539.7" y="748.1"/><use href="#gs" x="292.7" y="783.5"/><use href="#gs" x="323.4" y="786.1"/><use href="#gs" x="523.9" y="776.4"/><use href="#gs" x="439.9" y="767.5"/><use href="#gs" x="342.7" y="751.1"/><use href="#gs" x="544.5" y="793.9"/><use href="#gs" x="856.7" y="752.7"/><use href="#gs" x="884.9" y="788.4"/><use href="#gs" x="260.0" y="768.2"/><use href="#gs" x="417.1" y="793.1"/><use href="#gs" x="529.8" y="770.9"/><use href="#gs" x="395.6" y="760.6"/><use href="#gs" x="546.4" y="727.5"/><use href="#gs" x="596.3" y="741.4"/><use href="#gs" x="326.0" y="755.6"/><use href="#gs" x="736.3" y="741.2"/><use href="#gs" x="789.6" y="740.7"/><use href="#gs" x="663.4" y="751.0"/><use href="#gs" x="321.4" y="751.4"/><use href="#gs" x="540.2" y="744.8"/><use href="#gs" x="447.8" y="764.7"/><use href="#gs" x="545.4" y="758.5"/><use href="#gs" x="191.9" y="769.7"/><use href="#gs" x="305.2" y="770.1"/><use href="#gs" x="641.0" y="745.4"/><use href="#gs" x="346.2" y="750.9"/><use href="#gs" x="311.2" y="777.0"/><use href="#gs" x="641.9" y="777.9"/><use href="#gs" x="503.2" y="745.8"/><use href="#gs" x="340.0" y="811.0"/><use href="#gs" x="632.6" y="795.3"/><use href="#gs" x="481.8" y="754.7"/><use href="#gs" x="557.1" y="731.4"/><use href="#gs" x="314.9" y="744.7"/><use href="#gs" x="215.4" y="784.8"/><use href="#gs" x="924.4" y="764.6"/><use href="#gs" x="297.4" y="758.5"/><use href="#gs" x="898.9" y="776.5"/><use href="#gs" x="775.5" y="775.7"/><use href="#gs" x="214.3" y="753.4"/><use href="#gs" x="111.5" y="747.9"/><use href="#gs" x="768.1" y="743.2"/><use href="#gs" x="919.8" y="745.3"/><use href="#gs" x="572.1" y="782.3"/><use href="#gs" x="420.6" y="764.2"/><use href="#gs" x="395.3" y="753.1"/><use href="#gs" x="604.2" y="776.8"/><use href="#gs" x="500.3" y="757.1"/><use href="#gs" x="418.7" y="759.1"/><use href="#gs" x="306.9" y="741.1"/><use href="#gs" x="267.9" y="766.7"/><use href="#gs" x="434.4" y="762.8"/><use href="#gs" x="717.6" y="765.0"/><use href="#gs" x="642.9" y="769.2"/><use href="#gs" x="272.1" y="739.9"/><use href="#gs" x="789.5" y="765.6"/><use href="#gs" x="327.5" y="759.3"/><use href="#gs" x="711.5" y="746.6"/><use href="#gs" x="679.2" y="745.4"/><use href="#gs" x="798.6" y="760.6"/><use href="#gs" x="452.8" y="768.2"/><use href="#gs" x="459.1" y="734.4"/><use href="#gs" x="300.8" y="782.1"/><use href="#gs" x="593.1" y="731.8"/><use href="#gs" x="515.2" y="764.2"/><use href="#gs" x="321.0" y="799.9"/><use href="#gs" x="117.4" y="760.7"/><use href="#gs" x="139.7" y="763.8"/><use href="#gs" x="282.6" y="770.5"/><use href="#gs" x="866.5" y="725.5"/><use href="#gs" x="906.8" y="766.2"/><use href="#gs" x="498.5" y="789.5"/><use href="#gs" x="305.4" y="753.4"/><use href="#gs" x="762.2" y="764.2"/><use href="#gs" x="230.2" y="779.2"/><use href="#gs" x="521.7" y="785.6"/><use href="#gs" x="729.9" y="763.7"/><use href="#gs" x="333.6" y="754.9"/><use href="#gs" x="478.7" y="743.1"/><use href="#gs" x="194.4" y="745.3"/><use href="#gs" x="869.7" y="775.9"/><use href="#gs" x="598.0" y="789.8"/><use href="#gs" x="268.6" y="774.4"/><use href="#gs" x="706.2" y="779.3"/><use href="#gs" x="550.2" y="754.7"/><use href="#gs" x="312.6" y="772.7"/><use href="#gs" x="888.9" y="742.6"/><use href="#gs" x="836.2" y="765.2"/><use href="#gs" x="82.2" y="763.5"/><use href="#gs" x="458.8" y="764.5"/><use href="#gs" x="630.6" y="793.8"/><use href="#gs" x="434.9" y="763.2"/><use href="#gs" x="184.1" y="730.5"/><use href="#gs" x="166.5" y="738.6"/><use href="#gs" x="919.8" y="764.7"/><use href="#gs" x="181.1" y="748.2"/><use href="#gs" x="713.4" y="760.8"/><use href="#gs" x="238.5" y="785.8"/><use href="#gs" x="893.7" y="747.5"/><use href="#gs" x="895.5" y="763.1"/><use href="#gs" x="542.8" y="735.2"/><use href="#gs" x="523.9" y="760.1"/><use href="#gs" x="205.9" y="772.0"/><use href="#gs" x="204.3" y="746.4"/><use href="#gs" x="678.2" y="758.9"/><use href="#gs" x="407.0" y="769.0"/><use href="#gs" x="924.2" y="756.1"/><use href="#gs" x="626.9" y="777.5"/><use href="#gs" x="356.8" y="767.2"/><use href="#gs" x="148.3" y="757.6"/><use href="#gs" x="896.9" y="742.1"/><use href="#gs" x="883.9" y="794.6"/><use href="#gs" x="136.9" y="741.7"/><use href="#gs" x="686.6" y="751.3"/><use href="#gs" x="482.5" y="750.6"/><use href="#gs" x="174.8" y="760.5"/><use href="#gs" x="723.0" y="727.2"/><use href="#gs" x="97.3" y="753.7"/><use href="#gs" x="663.2" y="790.7"/><use href="#gs" x="731.6" y="759.4"/><use href="#gs" x="514.4" y="745.1"/><use href="#gs" x="279.8" y="782.4"/><use href="#gs" x="374.4" y="747.5"/><use href="#gs" x="100.1" y="758.8"/><use href="#gs" x="199.9" y="741.7"/><use href="#gs" x="218.2" y="768.1"/><use href="#gs" x="165.0" y="767.1"/><use href="#gs" x="606.7" y="747.5"/><use href="#gs" x="197.0" y="763.9"/><use href="#gs" x="869.1" y="732.3"/><use href="#gs" x="474.7" y="765.2"/><use href="#gs" x="609.0" y="779.6"/><use href="#gs" x="523.2" y="728.8"/><use href="#gs" x="322.6" y="770.1"/><use href="#gs" x="443.8" y="767.8"/><use href="#gs" x="197.2" y="776.3"/><use href="#gs" x="390.4" y="773.8"/><use href="#gs" x="143.3" y="765.2"/><use href="#gs" x="103.4" y="754.1"/><use href="#gs" x="677.8" y="751.3"/><use href="#gs" x="923.7" y="754.8"/><use href="#gs" x="554.5" y="756.4"/><use href="#gs" x="894.2" y="761.0"/><use href="#gs" x="492.8" y="785.5"/><use href="#gs" x="757.7" y="769.9"/><use href="#gs" x="181.7" y="768.2"/><use href="#gs" x="351.4" y="783.4"/><use href="#gs" x="290.1" y="725.0"/><use href="#gs" x="487.4" y="772.7"/><use href="#gs" x="108.8" y="754.6"/><use href="#gs" x="302.0" y="738.9"/><use href="#gs" x="90.8" y="752.3"/><use href="#gs" x="267.4" y="816.4"/><use href="#gs" x="884.0" y="727.3"/><use href="#gs" x="702.4" y="783.7"/><use href="#gs" x="484.6" y="741.4"/><use href="#gs" x="231.0" y="710.3"/><use href="#gs" x="572.7" y="808.0"/><use href="#gs" x="476.7" y="699.0"/><use href="#gs" x="403.4" y="754.4"/><use href="#gs" x="252.4" y="781.6"/><use href="#gs" x="249.5" y="728.5"/><use href="#gs" x="271.0" y="732.3"/><use href="#gs" x="724.8" y="715.0"/><use href="#gs" x="876.7" y="761.2"/><use href="#gs" x="844.2" y="693.1"/><use href="#gs" x="584.3" y="765.3"/><use href="#gs" x="908.0" y="825.5"/><use href="#gs" x="665.4" y="709.0"/><use href="#gs" x="559.5" y="679.3"/><use href="#gs" x="926.1" y="784.5"/><use href="#gs" x="709.8" y="717.1"/><use href="#gs" x="773.2" y="740.2"/><use href="#gs" x="164.2" y="728.6"/><use href="#gs" x="849.7" y="684.6"/><use href="#gs" x="423.0" y="702.0"/><use href="#gs" x="289.7" y="665.8"/><use href="#gs" x="156.7" y="718.0"/><use href="#gs" x="166.9" y="689.5"/><use href="#gs" x="588.9" y="702.3"/><use href="#gs" x="745.8" y="773.9"/><use href="#gs" x="475.4" y="775.4"/><use href="#gs" x="830.8" y="762.7"/><use href="#gs" x="712.5" y="711.5"/><use href="#gs" x="179.9" y="741.0"/><use href="#gs" x="301.1" y="765.4"/><use href="#gs" x="711.9" y="745.6"/><use href="#gs" x="409.1" y="757.2"/><use href="#gs" x="246.1" y="773.0"/><use href="#gs" x="859.5" y="666.1"/><use href="#gs" x="905.1" y="715.9"/><use href="#gs" x="758.1" y="743.3"/><use href="#gs" x="583.1" y="727.7"/><use href="#gs" x="894.1" y="738.5"/><use href="#gs" x="568.2" y="782.8"/><use href="#gs" x="264.9" y="743.4"/><use href="#gs" x="940.3" y="772.5"/><use href="#gs" x="934.8" y="758.9"/><use href="#gs" x="932.9" y="807.3"/><use href="#gs" x="932.1" y="757.3"/><use href="#gs" x="932.0" y="735.2"/><use href="#gs" x="940.3" y="706.3"/><use href="#gs" x="929.2" y="787.1"/><use href="#gs" x="932.4" y="697.1"/><use href="#gs" x="935.1" y="769.3"/><use href="#gs" x="936.7" y="762.0"/><use href="#gs" x="939.8" y="720.1"/><use href="#gs" x="940.5" y="800.4"/><use href="#gs" x="934.2" y="809.5"/><use href="#gs" x="939.6" y="768.3"/><use href="#gs" x="936.7" y="767.9"/><use href="#gs" x="938.5" y="750.5"/><use href="#gs" x="933.1" y="788.2"/><use href="#gs" x="930.4" y="769.6"/><use href="#gs" x="945.0" y="684.1"/><use href="#gs" x="930.7" y="749.9"/><use href="#gs" x="941.8" y="745.0"/><use href="#gs" x="930.5" y="752.0"/><use href="#gs" x="944.4" y="711.2"/><use href="#gs" x="941.5" y="727.4"/><use href="#gs" x="944.7" y="770.6"/><use href="#gs" x="930.7" y="741.0"/><use href="#gs" x="931.3" y="724.7"/><use href="#gs" x="941.2" y="769.6"/><use href="#gs" x="941.8" y="726.5"/><use href="#gs" x="932.4" y="760.3"/><use href="#gs" x="932.4" y="765.7"/><use href="#gs" x="938.3" y="754.4"/><use href="#gs" x="934.8" y="717.2"/><use href="#gs" x="933.4" y="729.3"/><use href="#gs" x="934.2" y="764.4"/><use href="#gs" x="942.3" y="787.4"/><use href="#gs" x="938.3" y="772.6"/><use href="#gs" x="942.3" y="693.8"/><use href="#gs" x="930.1" y="731.0"/><use href="#gs" x="934.4" y="722.7"/><use href="#gs" x="942.3" y="724.1"/><use href="#gs" x="938.8" y="746.7"/><use href="#gs" x="944.1" y="767.3"/><use href="#gs" x="940.5" y="738.9"/><use href="#gs" x="938.8" y="734.6"/><use href="#gs" x="977.3" y="780.3"/><use href="#gs" x="1229.0" y="734.2"/><use href="#gs" x="1255.2" y="737.2"/><use href="#gs" x="1045.0" y="762.4"/><use href="#gs" x="1140.9" y="777.5"/><use href="#gs" x="1064.2" y="759.9"/><use href="#gs" x="958.9" y="721.8"/><use href="#gs" x="1276.5" y="760.4"/><use href="#gs" x="1073.0" y="787.0"/><use href="#gs" x="974.3" y="753.1"/><use href="#gs" x="1037.0" y="756.4"/><use href="#gs" x="989.1" y="780.1"/><use href="#gs" x="1030.9" y="754.5"/><use href="#gs" x="1263.9" y="770.6"/><use href="#gs" x="1284.7" y="786.4"/><use href="#gs" x="946.2" y="781.2"/><use href="#gs" x="1156.3" y="744.1"/><use href="#gs" x="947.0" y="735.1"/><use href="#gs" x="983.0" y="762.6"/><use href="#gs" x="1287.2" y="780.3"/><use href="#gs" x="948.9" y="774.0"/><use href="#gs" x="1135.0" y="767.8"/><use href="#gs" x="1147.3" y="751.1"/><use href="#gs" x="1077.5" y="776.2"/><use href="#gs" x="990.4" y="777.8"/><use href="#gs" x="1282.9" y="750.9"/><use href="#gs" x="1177.5" y="751.5"/><use href="#gs" x="970.9" y="782.1"/><use href="#gs" x="1134.9" y="721.9"/><use href="#gs" x="1245.0" y="759.2"/><use href="#gs" x="1168.0" y="775.8"/><use href="#gs" x="1131.4" y="758.1"/><use href="#gs" x="1066.8" y="768.1"/><use href="#gs" x="1240.9" y="721.1"/><use href="#gs" x="1066.6" y="765.0"/><use href="#gs" x="1200.8" y="779.6"/><use href="#gs" x="1217.6" y="766.0"/><use href="#gs" x="1028.0" y="759.0"/><use href="#gs" x="1250.5" y="763.2"/><use href="#gs" x="977.8" y="758.6"/><use href="#gs" x="1271.5" y="774.8"/><use href="#gs" x="1091.8" y="777.3"/><use href="#gs" x="1143.2" y="779.4"/><use href="#gs" x="1282.6" y="767.4"/><use href="#gs" x="967.8" y="740.0"/><use href="#gs" x="1258.0" y="724.7"/><use href="#gs" x="958.2" y="755.5"/><use href="#gs" x="1002.9" y="759.3"/><use href="#gs" x="974.7" y="761.1"/><use href="#gs" x="954.0" y="752.9"/><use href="#gs" x="1234.3" y="767.1"/><use href="#gs" x="1029.0" y="756.4"/><use href="#gs" x="1085.4" y="764.6"/><use href="#gs" x="1047.8" y="767.0"/><use href="#gs" x="1198.1" y="756.1"/><use href="#gs" x="1036.3" y="738.9"/><use href="#gs" x="1256.5" y="774.5"/><use href="#gs" x="1205.1" y="766.0"/><use href="#gs" x="1149.9" y="752.8"/><use href="#gs" x="1035.4" y="742.1"/><use href="#gs" x="1220.9" y="754.4"/><use href="#gs" x="1080.7" y="756.5"/><use href="#gs" x="987.5" y="743.9"/><use href="#gs" x="982.2" y="746.2"/><use href="#gs" x="992.1" y="767.2"/><use href="#gs" x="1071.2" y="786.9"/><use href="#gs" x="1028.5" y="766.1"/><use href="#gs" x="1087.9" y="787.2"/><use href="#gs" x="1072.9" y="749.1"/><use href="#gs" x="1172.0" y="754.5"/><use href="#gs" x="1055.6" y="787.8"/><use href="#gs" x="1261.7" y="796.0"/><use href="#gs" x="1262.1" y="737.6"/><use href="#gs" x="1168.8" y="779.8"/><use href="#gs" x="1228.7" y="736.4"/><use href="#gs" x="1264.7" y="744.1"/><use href="#gs" x="985.7" y="783.5"/><use href="#gs" x="1056.5" y="751.4"/><use href="#gs" x="1037.4" y="758.1"/><use href="#gs" x="1183.3" y="761.3"/><use href="#gs" x="1160.1" y="739.9"/><use href="#gs" x="1115.9" y="770.2"/><use href="#gs" x="1250.3" y="743.9"/><use href="#gs" x="1027.5" y="731.1"/><use href="#gs" x="1088.3" y="756.2"/><use href="#gs" x="1197.3" y="755.4"/><use href="#gs" x="1050.7" y="733.6"/><use href="#gs" x="1167.5" y="762.1"/><use href="#gs" x="981.7" y="755.6"/><use href="#gs" x="1228.0" y="758.6"/><use href="#gs" x="1151.3" y="743.6"/><use href="#gs" x="1086.6" y="760.2"/><use href="#gs" x="1176.4" y="764.6"/><use href="#gs" x="1025.8" y="746.7"/><use href="#gs" x="1255.3" y="755.8"/><use href="#gs" x="1055.1" y="773.4"/><use href="#gs" x="948.7" y="766.3"/><use href="#gs" x="970.6" y="752.0"/><use href="#gs" x="1114.6" y="761.5"/><use href="#gs" x="1050.7" y="769.0"/><use href="#gs" x="980.8" y="761.5"/><use href="#gs" x="986.5" y="772.5"/><use href="#gs" x="1130.9" y="744.6"/><use href="#gs" x="1087.3" y="742.5"/><use href="#gs" x="1084.6" y="786.1"/><use href="#gs" x="1153.9" y="743.8"/><use href="#gs" x="1183.4" y="746.8"/><use href="#gs" x="1063.3" y="759.2"/><use href="#gs" x="1218.2" y="779.9"/><use href="#gs" x="1034.6" y="740.1"/><use href="#gs" x="1021.6" y="765.7"/><use href="#gs" x="954.7" y="738.4"/><use href="#gs" x="1008.0" y="733.8"/><use href="#gs" x="1113.5" y="769.6"/><use href="#gs" x="1248.7" y="751.3"/><use href="#gs" x="1277.5" y="768.8"/><use href="#gs" x="949.1" y="775.7"/><use href="#gs" x="1160.8" y="781.5"/><use href="#gs" x="946.7" y="750.5"/><use href="#gs" x="1272.6" y="752.3"/><use href="#gs" x="1047.4" y="755.6"/><use href="#gs" x="972.7" y="762.5"/><use href="#gs" x="965.6" y="750.2"/><use href="#gs" x="1167.7" y="772.2"/><use href="#gs" x="1255.9" y="764.2"/><use href="#gs" x="1043.8" y="742.3"/><use href="#gs" x="959.4" y="750.1"/><use href="#gs" x="948.5" y="774.1"/><use href="#gs" x="1200.9" y="717.1"/><use href="#gs" x="1150.7" y="743.2"/><use href="#gs" x="1006.1" y="771.5"/><use href="#gs" x="1139.7" y="781.4"/><use href="#gs" x="964.1" y="740.6"/><use href="#gs" x="966.7" y="751.8"/><use href="#gs" x="1189.4" y="793.6"/><use href="#gs" x="1199.9" y="769.0"/><use href="#gs" x="981.0" y="776.5"/><use href="#gs" x="1059.9" y="748.0"/><use href="#gs" x="1021.3" y="759.7"/><use href="#gs" x="1114.6" y="793.2"/><use href="#gs" x="1118.7" y="751.9"/><use href="#gs" x="1242.1" y="781.7"/><use href="#gs" x="1079.1" y="769.2"/><use href="#gs" x="1212.1" y="761.1"/><use href="#gs" x="1232.1" y="750.9"/><use href="#gs" x="1047.4" y="726.5"/><use href="#gs" x="990.7" y="741.5"/><use href="#gs" x="1106.0" y="764.4"/><use href="#gs" x="1258.1" y="739.0"/><use href="#gs" x="1112.7" y="763.4"/><use href="#gs" x="983.1" y="777.2"/><use href="#gs" x="1048.6" y="717.3"/><use href="#gs" x="1006.2" y="757.8"/><use href="#gs" x="1035.6" y="773.9"/><use href="#gs" x="1231.3" y="737.6"/><use href="#gs" x="954.0" y="783.8"/><use href="#gs" x="1234.5" y="740.8"/><use href="#gs" x="1128.1" y="781.8"/><use href="#gs" x="1098.3" y="774.8"/><use href="#gs" x="1027.5" y="771.0"/><use href="#gs" x="1226.0" y="758.1"/><use href="#gs" x="1187.8" y="733.4"/><use href="#gs" x="1261.2" y="763.1"/><use href="#gs" x="1277.3" y="732.6"/><use href="#gs" x="1040.1" y="765.0"/><use href="#gs" x="1128.8" y="776.5"/><use href="#gs" x="1180.5" y="779.1"/><use href="#gs" x="1279.1" y="806.0"/><use href="#gs" x="1130.9" y="762.6"/><use href="#gs" x="1225.1" y="745.6"/><use href="#gs" x="999.6" y="769.3"/><use href="#gs" x="1149.2" y="776.6"/><use href="#gs" x="1015.7" y="756.0"/><use href="#gs" x="1115.7" y="768.0"/><use href="#gs" x="1022.0" y="785.8"/><use href="#gs" x="1151.8" y="756.4"/><use href="#gs" x="1262.3" y="792.3"/><use href="#gs" x="1079.9" y="751.5"/><use href="#gs" x="1219.9" y="754.3"/><use href="#gs" x="1152.8" y="768.1"/><use href="#gs" x="1051.2" y="735.2"/><use href="#gs" x="1158.9" y="780.1"/><use href="#gs" x="1257.0" y="761.0"/><use href="#gs" x="1100.8" y="771.9"/><use href="#gs" x="1015.6" y="757.1"/><use href="#gs" x="967.3" y="771.5"/><use href="#gs" x="1145.6" y="758.5"/><use href="#gs" x="1122.7" y="735.9"/><use href="#gs" x="1089.0" y="752.5"/><use href="#gs" x="1029.5" y="733.1"/><use href="#gs" x="1081.8" y="737.1"/><use href="#gs" x="1092.9" y="774.9"/><use href="#gs" x="1216.3" y="748.9"/><use href="#gs" x="1053.8" y="746.1"/><use href="#gs" x="1182.0" y="746.4"/><use href="#gs" x="1095.3" y="743.0"/><use href="#gs" x="1033.7" y="769.7"/><use href="#gs" x="1187.0" y="769.9"/><use href="#gs" x="1108.1" y="756.7"/><use href="#gs" x="952.1" y="742.4"/><use href="#gs" x="1210.2" y="775.3"/><use href="#gs" x="1007.5" y="787.5"/><use href="#gs" x="1263.4" y="754.9"/><use href="#gs" x="1146.5" y="783.6"/><use href="#gs" x="1187.6" y="756.6"/><use href="#gs" x="1154.7" y="761.2"/><use href="#gs" x="1248.3" y="760.3"/><use href="#gs" x="1098.4" y="733.0"/><use href="#gs" x="1206.6" y="766.8"/><use href="#gs" x="1118.8" y="758.1"/><use href="#gs" x="1127.7" y="759.6"/><use href="#gs" x="1006.7" y="774.7"/><use href="#gs" x="1211.5" y="754.2"/><use href="#gs" x="951.8" y="760.5"/><use href="#gs" x="1187.6" y="752.5"/><use href="#gs" x="1161.1" y="728.4"/><use href="#gs" x="1194.9" y="755.7"/><use href="#gs" x="1110.6" y="744.1"/><use href="#gs" x="1077.5" y="778.0"/><use href="#gs" x="1255.3" y="764.4"/><use href="#gs" x="1018.3" y="744.4"/><use href="#gs" x="950.0" y="741.4"/><use href="#gs" x="1190.7" y="768.7"/><use href="#gs" x="973.4" y="772.8"/><use href="#gs" x="1163.4" y="814.0"/><use href="#gs" x="1276.7" y="728.2"/><use href="#gs" x="987.0" y="765.8"/><use href="#gs" x="987.3" y="752.6"/><use href="#gs" x="950.8" y="731.4"/><use href="#gs" x="1190.5" y="729.6"/><use href="#gs" x="1080.6" y="769.0"/><use href="#gs" x="1098.4" y="772.8"/><use href="#gs" x="998.9" y="757.4"/><use href="#gs" x="1078.1" y="728.5"/><use href="#gs" x="1167.9" y="760.5"/><use href="#gs" x="1158.1" y="756.3"/><use href="#gs" x="1041.2" y="754.3"/><use href="#gs" x="1286.4" y="762.6"/><use href="#gs" x="1277.1" y="740.4"/><use href="#gs" x="1235.5" y="753.7"/><use href="#gs" x="1049.6" y="789.3"/><use href="#gs" x="1043.9" y="703.8"/><use href="#gs" x="1208.1" y="776.1"/><use href="#gs" x="1072.6" y="772.2"/><use href="#gs" x="1079.0" y="741.6"/><use href="#gs" x="1152.1" y="700.9"/><use href="#gs" x="1172.3" y="701.6"/><use href="#gs" x="1154.7" y="735.2"/><use href="#gs" x="1158.4" y="747.9"/><use href="#gs" x="1019.2" y="733.5"/><use href="#gs" x="1067.2" y="771.5"/><use href="#gs" x="961.1" y="680.1"/><use href="#gs" x="1182.8" y="760.0"/><use href="#gs" x="1146.8" y="787.3"/><use href="#gs" x="251.0" y="667.1"/><use href="#gs" x="1287.0" y="620.1"/><use href="#gs" x="1286.0" y="682.7"/><use href="#gs" x="1040.0" y="672.3"/><use href="#gs" x="1078.0" y="669.7"/><use href="#gs" x="1138.0" y="667.1"/><use href="#gs" x="1194.0" y="663.4"/><use href="#gs" x="929.0" y="703.6"/></g>
<path fill="#ffdc00" stroke="#222" stroke-width="1" d="M929.40,559.77 L931.87,566.57 L939.10,566.82 L933.39,571.27 L935.40,578.22 L929.40,574.17 L923.40,578.22 L925.41,571.27 L919.70,566.82 L926.93,566.57Z"/>
<line x1="76.4" y1="834.10" x2="87.9" y2="834.10" stroke="#404040" stroke-width="1.7"/>
<text x="68.9" y="841.10" text-anchor="end" class="tk">0</text>
<line x1="76.4" y1="777.10" x2="87.9" y2="777.10" stroke="#404040" stroke-width="1.7"/>
<text x="68.9" y="784.10" text-anchor="end" class="tk">0.2</text>
<line x1="76.4" y1="720.10" x2="87.9" y2="720.10" stroke="#404040" stroke-width="1.7"/>
<text x="68.9" y="727.10" text-anchor="end" class="tk">0.4</text>
<line x1="76.4" y1="663.10" x2="87.9" y2="663.10" stroke="#404040" stroke-width="1.7"/>
<text x="68.9" y="670.10" text-anchor="end" class="tk">0.6</text>
<line x1="76.4" y1="606.10" x2="87.9" y2="606.10" stroke="#404040" stroke-width="1.7"/>
<text x="68.9" y="613.10" text-anchor="end" class="tk">0.8</text>
<line x1="76.4" y1="549.10" x2="87.9" y2="549.10" stroke="#404040" stroke-width="1.7"/>
<text x="68.9" y="556.10" text-anchor="end" class="tk">1</text>
<line x1="1275.9" y1="834.10" x2="1287.4" y2="834.10" stroke="#404040" stroke-width="1.7"/>
<text x="1294.0" y="841.70" class="tk">-1</text>
<line x1="1275.9" y1="781.90" x2="1287.4" y2="781.90" stroke="#404040" stroke-width="1.7"/>
<text x="1294.0" y="789.50" class="tk">0</text>
<line x1="1275.9" y1="729.70" x2="1287.4" y2="729.70" stroke="#404040" stroke-width="1.7"/>
<text x="1294.0" y="737.30" class="tk">1</text>
<line x1="1275.9" y1="677.50" x2="1287.4" y2="677.50" stroke="#404040" stroke-width="1.7"/>
<text x="1294.0" y="685.10" class="tk">2</text>
<line x1="1275.9" y1="625.30" x2="1287.4" y2="625.30" stroke="#404040" stroke-width="1.7"/>
<text x="1294.0" y="632.90" class="tk">3</text>
<line x1="1275.9" y1="573.10" x2="1287.4" y2="573.10" stroke="#404040" stroke-width="1.7"/>
<text x="1294.0" y="580.70" class="tk">4</text>
<line x1="1275.9" y1="520.90" x2="1287.4" y2="520.90" stroke="#404040" stroke-width="1.7"/>
<text x="1294.0" y="528.50" class="tk">5</text>
<line x1="76.40" y1="834.1" x2="76.40" y2="822.6" stroke="#404040" stroke-width="1.7"/>
<line x1="76.40" y1="520.9" x2="76.40" y2="532.4" stroke="#404040" stroke-width="1.7"/>
<text x="76.40" y="860.30" text-anchor="middle" class="tk">09/04</text>
<line x1="249.40" y1="834.1" x2="249.40" y2="822.6" stroke="#404040" stroke-width="1.7"/>
<line x1="249.40" y1="520.9" x2="249.40" y2="532.4" stroke="#404040" stroke-width="1.7"/>
<text x="249.40" y="860.30" text-anchor="middle" class="tk">10/04</text>
<line x1="422.40" y1="834.1" x2="422.40" y2="822.6" stroke="#404040" stroke-width="1.7"/>
<line x1="422.40" y1="520.9" x2="422.40" y2="532.4" stroke="#404040" stroke-width="1.7"/>
<text x="422.40" y="860.30" text-anchor="middle" class="tk">11/04</text>
<line x1="595.40" y1="834.1" x2="595.40" y2="822.6" stroke="#404040" stroke-width="1.7"/>
<line x1="595.40" y1="520.9" x2="595.40" y2="532.4" stroke="#404040" stroke-width="1.7"/>
<text x="595.40" y="860.30" text-anchor="middle" class="tk">12/04</text>
<line x1="768.40" y1="834.1" x2="768.40" y2="822.6" stroke="#404040" stroke-width="1.7"/>
<line x1="768.40" y1="520.9" x2="768.40" y2="532.4" stroke="#404040" stroke-width="1.7"/>
<text x="768.40" y="860.30" text-anchor="middle" class="tk">13/04</text>
<line x1="941.40" y1="834.1" x2="941.40" y2="822.6" stroke="#404040" stroke-width="1.7"/>
<line x1="941.40" y1="520.9" x2="941.40" y2="532.4" stroke="#404040" stroke-width="1.7"/>
<text x="941.40" y="860.30" text-anchor="middle" class="tk">14/04</text>
<line x1="1114.40" y1="834.1" x2="1114.40" y2="822.6" stroke="#404040" stroke-width="1.7"/>
<line x1="1114.40" y1="520.9" x2="1114.40" y2="532.4" stroke="#404040" stroke-width="1.7"/>
<text x="1114.40" y="860.30" text-anchor="middle" class="tk">15/04</text>
<line x1="1287.40" y1="834.1" x2="1287.40" y2="822.6" stroke="#404040" stroke-width="1.7"/>
<line x1="1287.40" y1="520.9" x2="1287.40" y2="532.4" stroke="#404040" stroke-width="1.7"/>
<text x="1287.40" y="860.30" text-anchor="middle" class="tk">16/04</text>
<rect x="76.4" y="520.9" width="1211.0" height="313.20000000000005" fill="none" stroke="#404040" stroke-width="1.8"/>
<text x="681.9" y="882.80" text-anchor="middle" class="tk">time (day/month)</text>
<text transform="translate(35.8,677.5) rotate(-90)" text-anchor="middle" class="tk" style="font-size:19.7px">Alert Level</text>
<text transform="translate(1337.8,677.5) rotate(-90)" text-anchor="middle" class="tk" style="font-size:22px">Mw</text>
<text x="5.6" y="528.5" class="pl">b)</text>
<rect x="76.40" y="898.3" width="38.44" height="22.30" fill="#ffffff"/>
<rect x="114.24" y="898.3" width="38.44" height="22.30" fill="#ffffdf"/>
<rect x="152.09" y="898.3" width="38.44" height="22.30" fill="#ffffbf"/>
<rect x="189.93" y="898.3" width="38.44" height="22.30" fill="#ffff9f"/>
<rect x="227.78" y="898.3" width="38.44" height="22.30" fill="#ffff80"/>
<rect x="265.62" y="898.3" width="38.44" height="22.30" fill="#ffff60"/>
<rect x="303.46" y="898.3" width="38.44" height="22.30" fill="#ffff40"/>
<rect x="341.31" y="898.3" width="38.44" height="22.30" fill="#ffff20"/>
<rect x="379.15" y="898.3" width="38.44" height="22.30" fill="#ffff00"/>
<rect x="416.99" y="898.3" width="38.44" height="22.30" fill="#ffea00"/>
<rect x="454.84" y="898.3" width="38.44" height="22.30" fill="#ffd400"/>
<rect x="492.68" y="898.3" width="38.44" height="22.30" fill="#ffbf00"/>
<rect x="530.52" y="898.3" width="38.44" height="22.30" fill="#ffaa00"/>
<rect x="568.37" y="898.3" width="38.44" height="22.30" fill="#ff9500"/>
<rect x="606.21" y="898.3" width="38.44" height="22.30" fill="#ff8000"/>
<rect x="644.06" y="898.3" width="38.44" height="22.30" fill="#ff6a00"/>
<rect x="681.90" y="898.3" width="38.44" height="22.30" fill="#ff5500"/>
<rect x="719.74" y="898.3" width="38.44" height="22.30" fill="#ff4000"/>
<rect x="757.59" y="898.3" width="38.44" height="22.30" fill="#ff2a00"/>
<rect x="795.43" y="898.3" width="38.44" height="22.30" fill="#ff1500"/>
<rect x="833.27" y="898.3" width="38.44" height="22.30" fill="#ff0000"/>
<rect x="871.12" y="898.3" width="38.44" height="22.30" fill="#ea0000"/>
<rect x="908.96" y="898.3" width="38.44" height="22.30" fill="#d40000"/>
<rect x="946.81" y="898.3" width="38.44" height="22.30" fill="#bf0000"/>
<rect x="984.65" y="898.3" width="38.44" height="22.30" fill="#aa0000"/>
<rect x="1022.49" y="898.3" width="38.44" height="22.30" fill="#950000"/>
<rect x="1060.34" y="898.3" width="38.44" height="22.30" fill="#800000"/>
<rect x="1098.18" y="898.3" width="38.44" height="22.30" fill="#6a0000"/>
<rect x="1136.03" y="898.3" width="38.44" height="22.30" fill="#550000"/>
<rect x="1173.87" y="898.3" width="38.44" height="22.30" fill="#400000"/>
<rect x="1211.71" y="898.3" width="38.44" height="22.30" fill="#2a0000"/>
<rect x="1249.56" y="898.3" width="38.44" height="22.30" fill="#150000"/>
<rect x="76.4" y="898.3" width="1211.0" height="22.30" fill="none" stroke="#7a7a7a" stroke-width="1.4"/>
<text x="76.40" y="945.60" text-anchor="middle" class="tk">0</text>
<line x1="197.50" y1="920.6" x2="197.50" y2="909.3" stroke="#404040" stroke-width="1.3"/>
<text x="197.50" y="945.60" text-anchor="middle" class="tk">0.1</text>
<line x1="318.60" y1="920.6" x2="318.60" y2="909.3" stroke="#404040" stroke-width="1.3"/>
<text x="318.60" y="945.60" text-anchor="middle" class="tk">0.2</text>
<line x1="439.70" y1="920.6" x2="439.70" y2="909.3" stroke="#404040" stroke-width="1.3"/>
<text x="439.70" y="945.60" text-anchor="middle" class="tk">0.3</text>
<line x1="560.80" y1="920.6" x2="560.80" y2="909.3" stroke="#404040" stroke-width="1.3"/>
<text x="560.80" y="945.60" text-anchor="middle" class="tk">0.4</text>
<line x1="681.90" y1="920.6" x2="681.90" y2="909.3" stroke="#404040" stroke-width="1.3"/>
<text x="681.90" y="945.60" text-anchor="middle" class="tk">0.5</text>
<line x1="803.00" y1="920.6" x2="803.00" y2="909.3" stroke="#404040" stroke-width="1.3"/>
<text x="803.00" y="945.60" text-anchor="middle" class="tk">0.6</text>
<line x1="924.10" y1="920.6" x2="924.10" y2="909.3" stroke="#404040" stroke-width="1.3"/>
<text x="924.10" y="945.60" text-anchor="middle" class="tk">0.7</text>
<line x1="1045.20" y1="920.6" x2="1045.20" y2="909.3" stroke="#404040" stroke-width="1.3"/>
<text x="1045.20" y="945.60" text-anchor="middle" class="tk">0.8</text>
<line x1="1166.30" y1="920.6" x2="1166.30" y2="909.3" stroke="#404040" stroke-width="1.3"/>
<text x="1166.30" y="945.60" text-anchor="middle" class="tk">0.9</text>
<text x="1287.40" y="945.60" text-anchor="middle" class="tk">1</text>
<text x="681.9" y="969.90" text-anchor="middle" class="tk">alert level</text>
<line x1="76.4" y1="1270.80" x2="1287.4" y2="1270.80" stroke="#e3e3e3" stroke-width="1.2"/>
<line x1="76.4" y1="1213.80" x2="1287.4" y2="1213.80" stroke="#e3e3e3" stroke-width="1.2"/>
<line x1="76.4" y1="1156.80" x2="1287.4" y2="1156.80" stroke="#e3e3e3" stroke-width="1.2"/>
<line x1="76.4" y1="1099.80" x2="1287.4" y2="1099.80" stroke="#e3e3e3" stroke-width="1.2"/>
<line x1="76.4" y1="1042.80" x2="1287.4" y2="1042.80" stroke="#e3e3e3" stroke-width="1.2"/>
<line x1="237.87" y1="1014.6" x2="237.87" y2="1327.8" stroke="#e3e3e3" stroke-width="1.2"/>
<line x1="399.33" y1="1014.6" x2="399.33" y2="1327.8" stroke="#e3e3e3" stroke-width="1.2"/>
<line x1="560.80" y1="1014.6" x2="560.80" y2="1327.8" stroke="#e3e3e3" stroke-width="1.2"/>
<line x1="722.27" y1="1014.6" x2="722.27" y2="1327.8" stroke="#e3e3e3" stroke-width="1.2"/>
<line x1="883.73" y1="1014.6" x2="883.73" y2="1327.8" stroke="#e3e3e3" stroke-width="1.2"/>
<line x1="1045.20" y1="1014.6" x2="1045.20" y2="1327.8" stroke="#e3e3e3" stroke-width="1.2"/>
<line x1="1206.67" y1="1014.6" x2="1206.67" y2="1327.8" stroke="#e3e3e3" stroke-width="1.2"/>
<line x1="76.4" y1="1128.30" x2="1226.6" y2="1128.30" stroke="#d40000" stroke-width="5.5" stroke-dasharray="21.2 22.65" stroke-dashoffset="10.85"/>
<line x1="1182.3" y1="1014.6" x2="1182.3" y2="1327.8" stroke="#000" stroke-width="3.5" stroke-dasharray="16.4 16.4"/>
<g stroke="#333" stroke-width="0.8"><circle cx="76.4" cy="1310.5" r="4.4" fill="#ffffdf"/><circle cx="77.5" cy="1315.5" r="4.5" fill="#ffffbf"/><circle cx="77.9" cy="1316.9" r="4.4" fill="#ffffff"/><circle cx="78.5" cy="1313.7" r="4.5" fill="#ffffbf"/><circle cx="79.7" cy="1318.2" r="4.4" fill="#ffffff"/><circle cx="80.5" cy="1314.1" r="4.5" fill="#ffff9f"/><circle cx="81.5" cy="1316.5" r="4.4" fill="#ffffdf"/><circle cx="81.7" cy="1317.2" r="4.4" fill="#ffffdf"/><circle cx="82.9" cy="1306.2" r="4.5" fill="#ffffbf"/><circle cx="83.7" cy="1317.3" r="4.4" fill="#ffffdf"/><circle cx="84.3" cy="1310.6" r="4.4" fill="#ffffdf"/><circle cx="85.4" cy="1317.9" r="4.4" fill="#ffffff"/><circle cx="85.9" cy="1311.5" r="4.4" fill="#ffffff"/><circle cx="86.7" cy="1310.1" r="4.5" fill="#ffffbf"/><circle cx="87.7" cy="1314.8" r="4.4" fill="#ffffdf"/><circle cx="88.6" cy="1308.4" r="4.5" fill="#ffffbf"/><circle cx="88.9" cy="1305.3" r="4.4" fill="#ffffdf"/><circle cx="89.9" cy="1307.5" r="4.5" fill="#ffffbf"/><circle cx="91.0" cy="1316.2" r="4.5" fill="#ffffbf"/><circle cx="91.9" cy="1309.1" r="4.4" fill="#ffffdf"/><circle cx="92.3" cy="1318.0" r="4.4" fill="#ffffff"/><circle cx="93.5" cy="1310.6" r="4.5" fill="#ffff9f"/><circle cx="93.6" cy="1318.0" r="4.4" fill="#ffffff"/><circle cx="94.4" cy="1313.6" r="4.4" fill="#ffffdf"/><circle cx="95.9" cy="1308.5" r="4.4" fill="#ffffdf"/><circle cx="96.7" cy="1307.2" r="4.5" fill="#ffffbf"/><circle cx="96.9" cy="1310.6" r="4.5" fill="#ffffbf"/><circle cx="97.9" cy="1318.5" r="4.4" fill="#ffffff"/><circle cx="98.5" cy="1320.0" r="4.4" fill="#ffffff"/><circle cx="99.6" cy="1312.8" r="4.5" fill="#ffffbf"/><circle cx="100.4" cy="1311.6" r="4.4" fill="#ffffdf"/><circle cx="101.3" cy="1308.7" r="4.5" fill="#ffff9f"/><circle cx="102.1" cy="1309.8" r="4.4" fill="#ffffdf"/><circle cx="102.7" cy="1322.3" r="4.4" fill="#ffffff"/><circle cx="103.6" cy="1322.2" r="4.4" fill="#ffffff"/><circle cx="104.8" cy="1310.0" r="4.4" fill="#ffffff"/><circle cx="104.8" cy="1320.9" r="4.4" fill="#ffffff"/><circle cx="105.7" cy="1322.3" r="4.4" fill="#ffffff"/><circle cx="106.4" cy="1322.8" r="4.4" fill="#ffffff"/><circle cx="107.5" cy="1310.6" r="4.5" fill="#ffffbf"/><circle cx="108.5" cy="1323.1" r="4.4" fill="#ffffff"/><circle cx="109.0" cy="1315.7" r="4.4" fill="#ffffdf"/><circle cx="109.8" cy="1311.9" r="4.4" fill="#ffffff"/><circle cx="111.1" cy="1326.6" r="4.4" fill="#ffffff"/><circle cx="111.8" cy="1312.8" r="4.5" fill="#ffff9f"/><circle cx="112.4" cy="1325.7" r="4.4" fill="#ffffff"/><circle cx="113.1" cy="1325.2" r="4.4" fill="#ffffff"/><circle cx="114.3" cy="1326.4" r="4.4" fill="#ffffff"/><circle cx="114.4" cy="1322.9" r="4.4" fill="#ffffff"/><circle cx="115.7" cy="1322.6" r="4.4" fill="#ffffff"/><circle cx="116.0" cy="1320.4" r="4.4" fill="#ffffff"/><circle cx="117.3" cy="1316.8" r="4.4" fill="#ffffdf"/><circle cx="117.6" cy="1322.1" r="4.4" fill="#ffffff"/><circle cx="118.6" cy="1322.6" r="4.4" fill="#ffffff"/><circle cx="119.8" cy="1315.1" r="4.5" fill="#ffffbf"/><circle cx="120.6" cy="1325.3" r="4.4" fill="#ffffff"/><circle cx="121.5" cy="1317.9" r="4.4" fill="#ffffff"/><circle cx="122.2" cy="1326.9" r="4.4" fill="#ffffff"/><circle cx="122.8" cy="1318.4" r="4.4" fill="#ffffff"/><circle cx="123.2" cy="1319.9" r="4.4" fill="#ffffff"/><circle cx="124.4" cy="1321.4" r="4.4" fill="#ffffff"/><circle cx="125.4" cy="1317.1" r="4.5" fill="#ffffbf"/><circle cx="126.0" cy="1325.8" r="4.4" fill="#ffffff"/><circle cx="126.4" cy="1314.8" r="4.4" fill="#ffffdf"/><circle cx="127.9" cy="1314.9" r="4.5" fill="#ffffbf"/><circle cx="128.3" cy="1323.1" r="4.4" fill="#ffffff"/><circle cx="129.2" cy="1320.7" r="4.4" fill="#ffffff"/><circle cx="130.1" cy="1319.4" r="4.4" fill="#ffffff"/><circle cx="131.1" cy="1326.9" r="4.4" fill="#ffffff"/><circle cx="131.5" cy="1317.3" r="4.4" fill="#ffffff"/><circle cx="132.1" cy="1318.4" r="4.4" fill="#ffffff"/><circle cx="133.2" cy="1320.3" r="4.4" fill="#ffffff"/><circle cx="133.9" cy="1319.7" r="4.4" fill="#ffffff"/><circle cx="134.8" cy="1326.9" r="4.4" fill="#ffffff"/><circle cx="135.9" cy="1326.4" r="4.4" fill="#ffffff"/><circle cx="136.7" cy="1325.3" r="4.4" fill="#ffffff"/><circle cx="136.8" cy="1326.9" r="4.4" fill="#ffffff"/><circle cx="137.8" cy="1318.6" r="4.4" fill="#ffffff"/><circle cx="138.8" cy="1323.0" r="4.4" fill="#ffffff"/><circle cx="139.9" cy="1325.2" r="4.4" fill="#ffffff"/><circle cx="140.6" cy="1315.7" r="4.5" fill="#ffffbf"/><circle cx="141.3" cy="1323.9" r="4.4" fill="#ffffff"/><circle cx="141.7" cy="1326.9" r="4.4" fill="#ffffff"/><circle cx="142.6" cy="1322.8" r="4.4" fill="#ffffff"/><circle cx="143.7" cy="1320.6" r="4.4" fill="#ffffff"/><circle cx="144.8" cy="1316.9" r="4.5" fill="#ffffbf"/><circle cx="145.0" cy="1316.7" r="4.5" fill="#ffffbf"/><circle cx="146.0" cy="1326.9" r="4.4" fill="#ffffff"/><circle cx="147.0" cy="1316.3" r="4.4" fill="#ffffdf"/><circle cx="147.4" cy="1325.7" r="4.4" fill="#ffffff"/><circle cx="148.6" cy="1321.3" r="4.4" fill="#ffffff"/><circle cx="149.1" cy="1320.6" r="4.4" fill="#ffffff"/><circle cx="150.1" cy="1326.4" r="4.4" fill="#ffffff"/><circle cx="151.2" cy="1320.0" r="4.4" fill="#ffffff"/><circle cx="151.9" cy="1326.9" r="4.4" fill="#ffffff"/><circle cx="152.5" cy="1326.9" r="4.4" fill="#ffffff"/><circle cx="153.0" cy="1317.8" r="4.4" fill="#ffffff"/><circle cx="153.8" cy="1324.0" r="4.4" fill="#ffffff"/><circle cx="155.0" cy="1326.9" r="4.4" fill="#ffffff"/><circle cx="155.9" cy="1323.3" r="4.4" fill="#ffffff"/><circle cx="156.8" cy="1317.5" r="4.4" fill="#ffffdf"/><circle cx="157.6" cy="1326.9" r="4.4" fill="#ffffff"/><circle cx="158.3" cy="1326.9" r="4.4" fill="#ffffff"/><circle cx="159.2" cy="1316.5" r="4.4" fill="#ffffff"/><circle cx="159.4" cy="1324.9" r="4.4" fill="#ffffff"/><circle cx="160.1" cy="1323.3" r="4.4" fill="#ffffff"/><circle cx="160.9" cy="1322.5" r="4.4" fill="#ffffff"/><circle cx="161.7" cy="1322.7" r="4.4" fill="#ffffff"/><circle cx="162.5" cy="1321.1" r="4.4" fill="#ffffff"/><circle cx="163.6" cy="1324.5" r="4.4" fill="#ffffff"/><circle cx="164.6" cy="1318.6" r="4.4" fill="#ffffff"/><circle cx="165.0" cy="1326.9" r="4.4" fill="#ffffff"/><circle cx="166.2" cy="1323.4" r="4.4" fill="#ffffff"/><circle cx="166.8" cy="1318.9" r="4.4" fill="#ffffff"/><circle cx="167.6" cy="1326.9" r="4.4" fill="#ffffff"/><circle cx="168.4" cy="1318.4" r="4.4" fill="#ffffff"/><circle cx="168.9" cy="1320.2" r="4.4" fill="#ffffff"/><circle cx="169.7" cy="1316.6" r="4.4" fill="#ffffdf"/><circle cx="170.7" cy="1326.9" r="4.4" fill="#ffffff"/><circle cx="172.0" cy="1326.9" r="4.4" fill="#ffffff"/><circle cx="172.2" cy="1326.9" r="4.4" fill="#ffffff"/><circle cx="173.2" cy="1326.9" r="4.4" fill="#ffffff"/><circle cx="173.8" cy="1326.9" r="4.4" fill="#ffffff"/><circle cx="174.5" cy="1322.9" r="4.4" fill="#ffffff"/><circle cx="175.6" cy="1317.0" r="4.5" fill="#ffffbf"/><circle cx="176.1" cy="1326.9" r="4.4" fill="#ffffff"/><circle cx="177.2" cy="1326.0" r="4.4" fill="#ffffff"/><circle cx="178.2" cy="1326.5" r="4.4" fill="#ffffff"/><circle cx="178.7" cy="1326.9" r="4.4" fill="#ffffff"/><circle cx="179.8" cy="1318.3" r="4.4" fill="#ffffff"/><circle cx="180.2" cy="1326.9" r="4.4" fill="#ffffff"/><circle cx="180.9" cy="1326.0" r="4.4" fill="#ffffff"/><circle cx="182.1" cy="1320.3" r="4.4" fill="#ffffff"/><circle cx="182.9" cy="1317.7" r="4.4" fill="#ffffdf"/><circle cx="183.9" cy="1326.9" r="4.4" fill="#ffffff"/><circle cx="184.2" cy="1321.7" r="4.4" fill="#ffffff"/><circle cx="185.3" cy="1319.8" r="4.4" fill="#ffffff"/><circle cx="186.4" cy="1326.9" r="4.4" fill="#ffffff"/><circle cx="186.9" cy="1326.9" r="4.4" fill="#ffffff"/><circle cx="188.0" cy="1326.9" r="4.4" fill="#ffffff"/><circle cx="188.5" cy="1323.1" r="4.4" fill="#ffffff"/><circle cx="189.0" cy="1315.1" r="4.4" fill="#ffffdf"/><circle cx="189.7" cy="1319.7" r="4.4" fill="#ffffff"/><circle cx="190.9" cy="1325.7" r="4.4" fill="#ffffff"/><circle cx="191.9" cy="1325.4" r="4.4" fill="#ffffff"/><circle cx="192.5" cy="1326.9" r="4.4" fill="#ffffff"/><circle cx="193.0" cy="1326.7" r="4.4" fill="#ffffff"/><circle cx="194.4" cy="1326.9" r="4.4" fill="#ffffff"/><circle cx="194.8" cy="1322.6" r="4.4" fill="#ffffff"/><circle cx="195.6" cy="1313.8" r="4.5" fill="#ffffbf"/><circle cx="196.8" cy="1315.5" r="4.4" fill="#ffffdf"/><circle cx="197.5" cy="1315.4" r="4.4" fill="#ffffdf"/><circle cx="197.7" cy="1319.5" r="4.4" fill="#ffffff"/><circle cx="198.5" cy="1313.2" r="4.4" fill="#ffffdf"/><circle cx="199.4" cy="1320.7" r="4.4" fill="#ffffff"/><circle cx="200.5" cy="1323.3" r="4.4" fill="#ffffff"/><circle cx="201.6" cy="1311.2" r="4.5" fill="#ffffbf"/><circle cx="202.1" cy="1324.4" r="4.4" fill="#ffffff"/><circle cx="202.7" cy="1316.9" r="4.5" fill="#ffffbf"/><circle cx="203.9" cy="1323.4" r="4.4" fill="#ffffff"/><circle cx="204.3" cy="1312.7" r="4.4" fill="#ffffdf"/><circle cx="205.0" cy="1321.0" r="4.4" fill="#ffffff"/><circle cx="206.2" cy="1310.1" r="4.5" fill="#ffff9f"/><circle cx="206.8" cy="1315.0" r="4.5" fill="#ffffbf"/><circle cx="207.5" cy="1311.1" r="4.4" fill="#ffffdf"/><circle cx="208.1" cy="1322.5" r="4.4" fill="#ffffff"/><circle cx="209.1" cy="1321.3" r="4.4" fill="#ffffff"/><circle cx="210.0" cy="1311.4" r="4.5" fill="#ffffbf"/><circle cx="210.7" cy="1314.4" r="4.5" fill="#ffff9f"/><circle cx="211.7" cy="1309.5" r="4.4" fill="#ffffdf"/><circle cx="212.4" cy="1306.9" r="4.5" fill="#ffff9f"/><circle cx="213.5" cy="1313.7" r="4.5" fill="#ffffbf"/><circle cx="213.9" cy="1316.7" r="4.4" fill="#ffffdf"/><circle cx="214.6" cy="1309.5" r="4.5" fill="#ffffbf"/><circle cx="215.5" cy="1318.3" r="4.4" fill="#ffffff"/><circle cx="216.2" cy="1312.4" r="4.4" fill="#ffffdf"/><circle cx="217.0" cy="1309.1" r="4.5" fill="#ffff9f"/><circle cx="218.2" cy="1308.0" r="4.5" fill="#ffff9f"/><circle cx="218.5" cy="1316.4" r="4.4" fill="#ffffdf"/><circle cx="219.4" cy="1314.8" r="4.5" fill="#ffffbf"/><circle cx="220.2" cy="1306.0" r="4.5" fill="#ffffbf"/><circle cx="221.1" cy="1313.4" r="4.5" fill="#ffffbf"/><circle cx="221.9" cy="1314.5" r="4.5" fill="#ffffbf"/><circle cx="223.1" cy="1302.3" r="4.4" fill="#ffffdf"/><circle cx="223.7" cy="1307.3" r="4.5" fill="#ffffbf"/><circle cx="224.4" cy="1308.7" r="4.4" fill="#ffffdf"/><circle cx="225.0" cy="1302.1" r="4.5" fill="#ffff9f"/><circle cx="225.9" cy="1299.2" r="4.6" fill="#ffff80"/><circle cx="226.6" cy="1302.7" r="4.5" fill="#ffffbf"/><circle cx="227.8" cy="1308.6" r="4.5" fill="#ffffbf"/><circle cx="228.1" cy="1301.6" r="4.5" fill="#ffffbf"/><circle cx="229.5" cy="1302.3" r="4.5" fill="#ffffbf"/><circle cx="230.2" cy="1302.2" r="4.5" fill="#ffff9f"/><circle cx="231.0" cy="1293.2" r="4.6" fill="#ffff80"/><circle cx="231.6" cy="1303.9" r="4.5" fill="#ffff9f"/><circle cx="232.0" cy="1294.4" r="4.5" fill="#ffff9f"/><circle cx="232.9" cy="1297.9" r="4.6" fill="#ffff80"/><circle cx="233.9" cy="1289.2" r="4.6" fill="#ffff80"/><circle cx="235.1" cy="1293.7" r="4.6" fill="#ffff80"/><circle cx="235.3" cy="1290.9" r="4.6" fill="#ffff80"/><circle cx="236.1" cy="1291.3" r="4.6" fill="#ffff80"/><circle cx="237.1" cy="1287.2" r="4.6" fill="#ffff60"/><circle cx="238.0" cy="1289.1" r="4.6" fill="#ffff60"/><circle cx="239.0" cy="1298.8" r="4.5" fill="#ffff9f"/><circle cx="239.4" cy="1291.7" r="4.6" fill="#ffff80"/><circle cx="240.7" cy="1293.9" r="4.6" fill="#ffff80"/><circle cx="241.2" cy="1285.7" r="4.6" fill="#ffff60"/><circle cx="242.3" cy="1282.4" r="4.6" fill="#ffff60"/><circle cx="242.5" cy="1289.0" r="4.6" fill="#ffff60"/><circle cx="243.2" cy="1284.7" r="4.6" fill="#ffff60"/><circle cx="244.6" cy="1279.7" r="4.6" fill="#ffff60"/><circle cx="245.1" cy="1289.5" r="4.5" fill="#ffff9f"/><circle cx="245.7" cy="1281.7" r="4.7" fill="#ffff40"/><circle cx="246.8" cy="1289.3" r="4.5" fill="#ffff9f"/><circle cx="247.8" cy="1284.9" r="4.6" fill="#ffff80"/><circle cx="248.8" cy="1284.3" r="4.6" fill="#ffff80"/><circle cx="249.0" cy="1282.2" r="4.7" fill="#ffff40"/><circle cx="249.8" cy="1280.7" r="4.6" fill="#ffff60"/><circle cx="251.0" cy="1284.2" r="4.6" fill="#ffff80"/><circle cx="251.4" cy="1277.3" r="4.6" fill="#ffff60"/><circle cx="97.0" cy="1300.7" r="4.4" fill="#ffffdf"/><circle cx="94.0" cy="1303.6" r="4.4" fill="#ffffdf"/><circle cx="264.2" cy="1278.6" r="4.6" fill="#ffff60"/><circle cx="266.5" cy="1275.9" r="4.8" fill="#ffea00"/><circle cx="264.1" cy="1273.4" r="4.8" fill="#ffff00"/><circle cx="273.0" cy="1244.3" r="4.7" fill="#ffff20"/><circle cx="265.0" cy="1275.7" r="4.8" fill="#ffff00"/><circle cx="265.6" cy="1261.4" r="4.8" fill="#ffea00"/><circle cx="269.3" cy="1247.1" r="4.7" fill="#ffff20"/><circle cx="257.7" cy="1253.0" r="4.7" fill="#ffff40"/><circle cx="264.9" cy="1275.1" r="4.7" fill="#ffff40"/><circle cx="273.8" cy="1264.5" r="4.7" fill="#ffff20"/><circle cx="280.7" cy="1282.5" r="4.7" fill="#ffff40"/><circle cx="255.0" cy="1245.3" r="4.7" fill="#ffff20"/><circle cx="262.2" cy="1260.7" r="4.7" fill="#ffff40"/><circle cx="281.4" cy="1274.1" r="4.7" fill="#ffff20"/><circle cx="254.3" cy="1260.1" r="4.8" fill="#ffff00"/><circle cx="269.6" cy="1245.2" r="4.8" fill="#ffea00"/><circle cx="284.4" cy="1286.8" r="4.7" fill="#ffff40"/><circle cx="245.6" cy="1287.2" r="4.7" fill="#ffff20"/><circle cx="265.0" cy="1173.9" r="4.8" fill="#ffea00"/><circle cx="270.0" cy="1179.6" r="5.1" fill="#ff8000"/><circle cx="272.0" cy="1185.3" r="5.1" fill="#ff8000"/><circle cx="276.0" cy="1188.1" r="5.1" fill="#ff8000"/><circle cx="279.0" cy="1185.3" r="5.1" fill="#ff8000"/><circle cx="282.0" cy="1179.6" r="5.1" fill="#ff5500"/><circle cx="276.0" cy="1193.8" r="5.1" fill="#ff6a00"/><circle cx="280.0" cy="1196.7" r="5.1" fill="#ff5500"/><circle cx="283.0" cy="1173.9" r="5.3" fill="#ff2a00"/><circle cx="267.0" cy="1202.4" r="4.9" fill="#ffbf00"/><circle cx="268.0" cy="1208.1" r="5.0" fill="#ffaa00"/><circle cx="279.0" cy="1205.2" r="5.1" fill="#ff5500"/><circle cx="281.0" cy="1211.0" r="5.1" fill="#ff5500"/><circle cx="278.0" cy="1219.5" r="5.1" fill="#ff6a00"/><circle cx="271.0" cy="1228.0" r="5.1" fill="#ff8000"/><circle cx="272.0" cy="1233.8" r="5.1" fill="#ff8000"/><circle cx="275.0" cy="1236.6" r="5.1" fill="#ff5500"/><circle cx="266.0" cy="1253.7" r="5.0" fill="#ffaa00"/><circle cx="270.0" cy="1259.4" r="5.0" fill="#ff9500"/><circle cx="274.0" cy="1265.1" r="5.1" fill="#ff8000"/><circle cx="291.0" cy="1131.2" r="5.4" fill="#ea0000"/><circle cx="292.0" cy="1136.8" r="5.4" fill="#ea0000"/><circle cx="295.0" cy="1139.7" r="5.4" fill="#ea0000"/><circle cx="297.0" cy="1145.4" r="5.4" fill="#ea0000"/><circle cx="290.0" cy="1148.2" r="5.4" fill="#ea0000"/><circle cx="294.0" cy="1154.0" r="5.4" fill="#ea0000"/><circle cx="298.0" cy="1156.8" r="5.4" fill="#ea0000"/><circle cx="293.0" cy="1162.5" r="5.4" fill="#ea0000"/><circle cx="296.0" cy="1168.2" r="5.4" fill="#ea0000"/><circle cx="300.0" cy="1151.1" r="5.3" fill="#ff1500"/><circle cx="301.0" cy="1159.7" r="5.3" fill="#ff1500"/><circle cx="289.0" cy="1168.2" r="5.4" fill="#ea0000"/><circle cx="299.0" cy="1179.6" r="5.3" fill="#ff1500"/><circle cx="300.0" cy="1185.3" r="5.3" fill="#ff1500"/><circle cx="298.0" cy="1188.1" r="5.3" fill="#ff1500"/><circle cx="295.0" cy="1208.1" r="5.3" fill="#ff1500"/><circle cx="300.0" cy="1208.1" r="5.4" fill="#ea0000"/><circle cx="299.0" cy="1213.8" r="5.3" fill="#ff1500"/><circle cx="300.0" cy="1199.5" r="5.3" fill="#ff1500"/><circle cx="286.0" cy="1176.8" r="5.4" fill="#ea0000"/><circle cx="291.0" cy="1182.5" r="5.3" fill="#ff1500"/><circle cx="287.5" cy="1270.3" r="4.7" fill="#ffff20"/><circle cx="294.4" cy="1294.0" r="4.8" fill="#ffff00"/><circle cx="283.0" cy="1284.7" r="4.8" fill="#ffea00"/><circle cx="262.6" cy="1285.6" r="4.9" fill="#ffd400"/><circle cx="297.6" cy="1271.7" r="4.7" fill="#ffff20"/><circle cx="297.8" cy="1278.9" r="4.7" fill="#ffff40"/><circle cx="264.1" cy="1262.5" r="4.8" fill="#ffff00"/><circle cx="291.5" cy="1284.7" r="4.8" fill="#ffff00"/><circle cx="272.5" cy="1282.3" r="4.9" fill="#ffd400"/><circle cx="252.4" cy="1295.6" r="4.7" fill="#ffff40"/><circle cx="251.8" cy="1292.1" r="4.7" fill="#ffff20"/><circle cx="261.3" cy="1270.6" r="4.8" fill="#ffff00"/><circle cx="264.3" cy="1297.5" r="4.7" fill="#ffff20"/><circle cx="256.5" cy="1268.9" r="4.7" fill="#ffff20"/><circle cx="322.7" cy="1243.4" r="4.7" fill="#ffff20"/><circle cx="327.2" cy="1293.3" r="4.8" fill="#ffff00"/><circle cx="321.5" cy="1269.8" r="4.7" fill="#ffff20"/><circle cx="318.4" cy="1244.8" r="4.7" fill="#ffff40"/><circle cx="334.8" cy="1275.2" r="4.8" fill="#ffff00"/><circle cx="325.0" cy="1277.4" r="4.8" fill="#ffff00"/><circle cx="307.5" cy="1258.1" r="4.7" fill="#ffff20"/><circle cx="328.4" cy="1240.8" r="4.8" fill="#ffea00"/><circle cx="332.7" cy="1292.6" r="4.7" fill="#ffff20"/><circle cx="315.5" cy="1261.6" r="4.7" fill="#ffff20"/><circle cx="329.9" cy="1283.0" r="4.7" fill="#ffff40"/><circle cx="306.5" cy="1244.6" r="4.6" fill="#ffff60"/><circle cx="323.8" cy="1288.7" r="4.7" fill="#ffff20"/><circle cx="318.6" cy="1257.4" r="4.8" fill="#ffea00"/><circle cx="319.6" cy="1281.3" r="4.7" fill="#ffff40"/><circle cx="324.8" cy="1292.3" r="4.7" fill="#ffff20"/><circle cx="326.7" cy="1242.0" r="4.7" fill="#ffff20"/><circle cx="323.3" cy="1277.4" r="4.7" fill="#ffff20"/><circle cx="328.7" cy="1271.3" r="4.7" fill="#ffff20"/><circle cx="302.4" cy="1270.4" r="4.8" fill="#ffff00"/><circle cx="317.0" cy="1230.9" r="4.8" fill="#ffff00"/><circle cx="320.0" cy="1239.5" r="4.7" fill="#ffff20"/><circle cx="313.0" cy="1216.6" r="4.7" fill="#ffff20"/><circle cx="325.7" cy="1298.4" r="4.5" fill="#ffff9f"/><circle cx="326.2" cy="1303.5" r="4.5" fill="#ffffbf"/><circle cx="327.2" cy="1304.1" r="4.6" fill="#ffff80"/><circle cx="327.7" cy="1301.5" r="4.5" fill="#ffffbf"/><circle cx="328.6" cy="1309.0" r="4.5" fill="#ffffbf"/><circle cx="329.5" cy="1305.6" r="4.5" fill="#ffff9f"/><circle cx="330.7" cy="1304.1" r="4.5" fill="#ffff9f"/><circle cx="330.9" cy="1310.5" r="4.5" fill="#ffffbf"/><circle cx="331.9" cy="1307.7" r="4.5" fill="#ffffbf"/><circle cx="332.6" cy="1301.7" r="4.5" fill="#ffff9f"/><circle cx="333.7" cy="1310.8" r="4.4" fill="#ffffdf"/><circle cx="334.3" cy="1312.8" r="4.4" fill="#ffffff"/><circle cx="335.4" cy="1305.1" r="4.5" fill="#ffff9f"/><circle cx="336.5" cy="1307.4" r="4.5" fill="#ffffbf"/><circle cx="337.4" cy="1306.7" r="4.5" fill="#ffffbf"/><circle cx="337.7" cy="1312.8" r="4.5" fill="#ffff9f"/><circle cx="338.9" cy="1318.9" r="4.4" fill="#ffffff"/><circle cx="339.7" cy="1309.5" r="4.5" fill="#ffffbf"/><circle cx="340.8" cy="1315.8" r="4.4" fill="#ffffdf"/><circle cx="341.3" cy="1322.3" r="4.4" fill="#ffffff"/><circle cx="342.0" cy="1314.3" r="4.5" fill="#ffffbf"/><circle cx="342.9" cy="1319.4" r="4.4" fill="#ffffff"/><circle cx="343.6" cy="1322.9" r="4.4" fill="#ffffff"/><circle cx="344.4" cy="1318.8" r="4.4" fill="#ffffff"/><circle cx="345.5" cy="1318.3" r="4.4" fill="#ffffff"/><circle cx="346.2" cy="1320.4" r="4.4" fill="#ffffff"/><circle cx="346.7" cy="1323.3" r="4.4" fill="#ffffff"/><circle cx="347.7" cy="1325.9" r="4.4" fill="#ffffff"/><circle cx="348.4" cy="1326.1" r="4.4" fill="#ffffff"/><circle cx="349.8" cy="1315.5" r="4.5" fill="#ffff9f"/><circle cx="350.8" cy="1321.8" r="4.4" fill="#ffffff"/><circle cx="351.3" cy="1319.3" r="4.4" fill="#ffffff"/><circle cx="352.4" cy="1321.9" r="4.4" fill="#ffffff"/><circle cx="353.0" cy="1320.6" r="4.4" fill="#ffffff"/><circle cx="353.5" cy="1316.6" r="4.4" fill="#ffffdf"/><circle cx="354.4" cy="1325.3" r="4.4" fill="#ffffff"/><circle cx="355.8" cy="1325.1" r="4.4" fill="#ffffff"/><circle cx="356.6" cy="1325.8" r="4.4" fill="#ffffff"/><circle cx="356.9" cy="1315.0" r="4.4" fill="#ffffdf"/><circle cx="358.3" cy="1321.9" r="4.4" fill="#ffffff"/><circle cx="358.8" cy="1326.1" r="4.4" fill="#ffffff"/><circle cx="359.4" cy="1317.6" r="4.4" fill="#ffffdf"/><circle cx="360.2" cy="1324.9" r="4.4" fill="#ffffff"/><circle cx="361.1" cy="1317.3" r="4.5" fill="#ffffbf"/><circle cx="362.2" cy="1319.0" r="4.4" fill="#ffffff"/><circle cx="362.9" cy="1320.1" r="4.4" fill="#ffffff"/><circle cx="363.6" cy="1326.9" r="4.4" fill="#ffffff"/><circle cx="364.3" cy="1322.8" r="4.4" fill="#ffffff"/><circle cx="365.4" cy="1321.1" r="4.4" fill="#ffffff"/><circle cx="366.0" cy="1324.2" r="4.4" fill="#ffffff"/><circle cx="367.5" cy="1318.9" r="4.4" fill="#ffffff"/><circle cx="367.8" cy="1326.9" r="4.4" fill="#ffffff"/><circle cx="369.1" cy="1325.2" r="4.4" fill="#ffffff"/><circle cx="369.2" cy="1322.8" r="4.4" fill="#ffffff"/><circle cx="370.3" cy="1318.5" r="4.4" fill="#ffffff"/><circle cx="371.5" cy="1326.9" r="4.4" fill="#ffffff"/><circle cx="372.4" cy="1325.8" r="4.4" fill="#ffffff"/><circle cx="373.1" cy="1323.7" r="4.4" fill="#ffffff"/><circle cx="374.0" cy="1326.9" r="4.4" fill="#ffffff"/><circle cx="374.4" cy="1323.6" r="4.4" fill="#ffffff"/><circle cx="375.8" cy="1326.9" r="4.4" fill="#ffffff"/><circle cx="375.9" cy="1322.2" r="4.4" fill="#ffffff"/><circle cx="377.3" cy="1326.8" r="4.4" fill="#ffffff"/><circle cx="378.2" cy="1325.4" r="4.4" fill="#ffffff"/><circle cx="378.6" cy="1318.6" r="4.4" fill="#ffffff"/><circle cx="379.7" cy="1323.7" r="4.4" fill="#ffffff"/><circle cx="380.6" cy="1324.5" r="4.4" fill="#ffffff"/><circle cx="381.6" cy="1323.8" r="4.4" fill="#ffffff"/><circle cx="382.4" cy="1323.6" r="4.4" fill="#ffffff"/><circle cx="383.2" cy="1326.2" r="4.4" fill="#ffffff"/><circle cx="384.1" cy="1324.7" r="4.4" fill="#ffffff"/><circle cx="384.6" cy="1326.9" r="4.4" fill="#ffffff"/><circle cx="385.1" cy="1326.9" r="4.4" fill="#ffffff"/><circle cx="386.4" cy="1320.2" r="4.4" fill="#ffffff"/><circle cx="387.5" cy="1318.5" r="4.4" fill="#ffffff"/><circle cx="388.0" cy="1322.7" r="4.4" fill="#ffffff"/><circle cx="388.9" cy="1324.3" r="4.4" fill="#ffffff"/><circle cx="389.7" cy="1317.3" r="4.4" fill="#ffffdf"/><circle cx="390.3" cy="1325.4" r="4.4" fill="#ffffff"/><circle cx="391.6" cy="1320.8" r="4.4" fill="#ffffff"/><circle cx="392.3" cy="1324.9" r="4.4" fill="#ffffff"/><circle cx="393.1" cy="1317.3" r="4.5" fill="#ffffbf"/><circle cx="394.1" cy="1318.2" r="4.4" fill="#ffffff"/><circle cx="395.1" cy="1315.7" r="4.4" fill="#ffffdf"/><circle cx="395.6" cy="1325.3" r="4.4" fill="#ffffff"/><circle cx="395.9" cy="1326.9" r="4.4" fill="#ffffff"/><circle cx="397.0" cy="1322.8" r="4.4" fill="#ffffff"/><circle cx="397.6" cy="1320.7" r="4.4" fill="#ffffff"/><circle cx="399.0" cy="1322.8" r="4.4" fill="#ffffff"/><circle cx="399.9" cy="1326.9" r="4.4" fill="#ffffff"/><circle cx="400.2" cy="1319.2" r="4.4" fill="#ffffff"/><circle cx="401.1" cy="1322.5" r="4.4" fill="#ffffff"/><circle cx="402.5" cy="1321.2" r="4.4" fill="#ffffff"/><circle cx="403.1" cy="1320.2" r="4.4" fill="#ffffff"/><circle cx="403.5" cy="1326.9" r="4.4" fill="#ffffff"/><circle cx="404.8" cy="1322.7" r="4.4" fill="#ffffff"/><circle cx="405.5" cy="1326.9" r="4.4" fill="#ffffff"/><circle cx="406.5" cy="1324.9" r="4.4" fill="#ffffff"/><circle cx="407.3" cy="1322.7" r="4.4" fill="#ffffff"/><circle cx="407.6" cy="1316.4" r="4.4" fill="#ffffdf"/><circle cx="409.2" cy="1318.6" r="4.4" fill="#ffffff"/><circle cx="409.6" cy="1321.7" r="4.4" fill="#ffffff"/><circle cx="410.4" cy="1317.0" r="4.4" fill="#ffffdf"/><circle cx="411.4" cy="1320.1" r="4.4" fill="#ffffff"/><circle cx="412.5" cy="1316.8" r="4.4" fill="#ffffdf"/><circle cx="412.6" cy="1320.2" r="4.4" fill="#ffffff"/><circle cx="413.9" cy="1326.9" r="4.4" fill="#ffffff"/><circle cx="415.0" cy="1324.2" r="4.4" fill="#ffffff"/><circle cx="415.2" cy="1326.9" r="4.4" fill="#ffffff"/><circle cx="416.4" cy="1315.7" r="4.4" fill="#ffffff"/><circle cx="417.0" cy="1324.2" r="4.4" fill="#ffffff"/><circle cx="418.1" cy="1322.0" r="4.4" fill="#ffffff"/><circle cx="418.8" cy="1325.3" r="4.4" fill="#ffffff"/><circle cx="419.8" cy="1322.1" r="4.4" fill="#ffffff"/><circle cx="420.3" cy="1319.6" r="4.4" fill="#ffffff"/><circle cx="421.4" cy="1317.8" r="4.4" fill="#ffffff"/><circle cx="422.2" cy="1315.9" r="4.4" fill="#ffffdf"/><circle cx="423.1" cy="1325.5" r="4.4" fill="#ffffff"/><circle cx="423.7" cy="1317.5" r="4.4" fill="#ffffff"/><circle cx="424.7" cy="1323.8" r="4.4" fill="#ffffff"/><circle cx="425.7" cy="1315.4" r="4.5" fill="#ffff9f"/><circle cx="426.3" cy="1326.6" r="4.4" fill="#ffffff"/><circle cx="426.8" cy="1319.4" r="4.4" fill="#ffffff"/><circle cx="428.2" cy="1321.8" r="4.4" fill="#ffffff"/><circle cx="429.1" cy="1316.3" r="4.4" fill="#ffffff"/><circle cx="429.7" cy="1326.1" r="4.4" fill="#ffffff"/><circle cx="430.2" cy="1316.6" r="4.4" fill="#ffffdf"/><circle cx="431.0" cy="1320.2" r="4.4" fill="#ffffff"/><circle cx="432.4" cy="1319.5" r="4.4" fill="#ffffff"/><circle cx="432.8" cy="1322.5" r="4.4" fill="#ffffff"/><circle cx="433.6" cy="1326.9" r="4.4" fill="#ffffff"/><circle cx="434.8" cy="1315.8" r="4.4" fill="#ffffdf"/><circle cx="435.9" cy="1324.2" r="4.4" fill="#ffffff"/><circle cx="436.5" cy="1326.9" r="4.4" fill="#ffffff"/><circle cx="437.4" cy="1322.5" r="4.4" fill="#ffffff"/><circle cx="437.6" cy="1316.9" r="4.5" fill="#ffffbf"/><circle cx="438.8" cy="1325.6" r="4.4" fill="#ffffff"/><circle cx="439.5" cy="1320.0" r="4.4" fill="#ffffff"/><circle cx="440.7" cy="1322.1" r="4.4" fill="#ffffff"/><circle cx="441.4" cy="1320.5" r="4.4" fill="#ffffff"/><circle cx="441.8" cy="1326.9" r="4.4" fill="#ffffff"/><circle cx="442.6" cy="1326.0" r="4.4" fill="#ffffff"/><circle cx="444.0" cy="1326.0" r="4.4" fill="#ffffff"/><circle cx="445.0" cy="1325.8" r="4.4" fill="#ffffff"/><circle cx="445.2" cy="1326.9" r="4.4" fill="#ffffff"/><circle cx="446.4" cy="1326.0" r="4.4" fill="#ffffff"/><circle cx="447.1" cy="1316.2" r="4.5" fill="#ffffbf"/><circle cx="448.3" cy="1315.5" r="4.5" fill="#ffffbf"/><circle cx="448.9" cy="1323.2" r="4.4" fill="#ffffff"/><circle cx="449.5" cy="1326.1" r="4.4" fill="#ffffff"/><circle cx="450.4" cy="1317.7" r="4.4" fill="#ffffdf"/><circle cx="451.3" cy="1316.1" r="4.4" fill="#ffffff"/><circle cx="451.9" cy="1318.4" r="4.4" fill="#ffffff"/><circle cx="453.4" cy="1315.9" r="4.5" fill="#ffffbf"/><circle cx="453.5" cy="1325.2" r="4.4" fill="#ffffff"/><circle cx="454.8" cy="1321.7" r="4.4" fill="#ffffff"/><circle cx="455.3" cy="1320.2" r="4.4" fill="#ffffff"/><circle cx="456.1" cy="1322.1" r="4.4" fill="#ffffff"/><circle cx="457.1" cy="1321.5" r="4.4" fill="#ffffff"/><circle cx="458.0" cy="1326.2" r="4.4" fill="#ffffff"/><circle cx="459.0" cy="1322.1" r="4.4" fill="#ffffff"/><circle cx="459.3" cy="1315.9" r="4.4" fill="#ffffdf"/><circle cx="460.7" cy="1314.8" r="4.5" fill="#ffffbf"/><circle cx="461.7" cy="1320.1" r="4.4" fill="#ffffff"/><circle cx="462.5" cy="1325.6" r="4.4" fill="#ffffff"/><circle cx="463.2" cy="1318.5" r="4.4" fill="#ffffff"/><circle cx="463.8" cy="1312.9" r="4.4" fill="#ffffdf"/><circle cx="464.9" cy="1324.4" r="4.4" fill="#ffffff"/><circle cx="465.3" cy="1311.9" r="4.5" fill="#ffff9f"/><circle cx="466.5" cy="1310.9" r="4.5" fill="#ffffbf"/><circle cx="467.4" cy="1312.2" r="4.5" fill="#ffffbf"/><circle cx="468.3" cy="1318.0" r="4.4" fill="#ffffff"/><circle cx="469.1" cy="1317.2" r="4.5" fill="#ffffbf"/><circle cx="469.7" cy="1317.0" r="4.4" fill="#ffffdf"/><circle cx="470.4" cy="1315.3" r="4.4" fill="#ffffdf"/><circle cx="471.6" cy="1316.5" r="4.4" fill="#ffffdf"/><circle cx="472.0" cy="1319.7" r="4.4" fill="#ffffff"/><circle cx="472.8" cy="1319.4" r="4.4" fill="#ffffff"/><circle cx="473.7" cy="1319.4" r="4.4" fill="#ffffff"/><circle cx="474.7" cy="1313.9" r="4.5" fill="#ffffbf"/><circle cx="475.2" cy="1319.5" r="4.4" fill="#ffffff"/><circle cx="476.7" cy="1317.9" r="4.4" fill="#ffffff"/><circle cx="476.8" cy="1306.4" r="4.4" fill="#ffffff"/><circle cx="478.0" cy="1309.7" r="4.5" fill="#ffffbf"/><circle cx="479.3" cy="1312.5" r="4.5" fill="#ffffbf"/><circle cx="479.9" cy="1305.3" r="4.5" fill="#ffffbf"/><circle cx="480.5" cy="1311.4" r="4.5" fill="#ffffbf"/><circle cx="481.7" cy="1310.0" r="4.4" fill="#ffffdf"/><circle cx="482.5" cy="1310.6" r="4.5" fill="#ffffbf"/><circle cx="482.7" cy="1314.2" r="4.4" fill="#ffffff"/><circle cx="484.1" cy="1309.9" r="4.4" fill="#ffffdf"/><circle cx="485.1" cy="1309.1" r="4.5" fill="#ffffbf"/><circle cx="485.5" cy="1308.3" r="4.5" fill="#ffffbf"/><circle cx="486.2" cy="1303.8" r="4.5" fill="#ffff9f"/><circle cx="487.0" cy="1311.0" r="4.5" fill="#ffffbf"/><circle cx="487.7" cy="1300.4" r="4.5" fill="#ffff9f"/><circle cx="489.2" cy="1305.3" r="4.5" fill="#ffffbf"/><circle cx="490.0" cy="1305.1" r="4.5" fill="#ffffbf"/><circle cx="490.9" cy="1300.6" r="4.5" fill="#ffff9f"/><circle cx="491.2" cy="1299.4" r="4.5" fill="#ffff9f"/><circle cx="492.2" cy="1301.0" r="4.5" fill="#ffff9f"/><circle cx="493.3" cy="1296.5" r="4.5" fill="#ffff9f"/><circle cx="494.0" cy="1304.6" r="4.4" fill="#ffffdf"/><circle cx="495.0" cy="1305.4" r="4.5" fill="#ffffbf"/><circle cx="495.9" cy="1294.4" r="4.5" fill="#ffff9f"/><circle cx="496.7" cy="1290.5" r="4.6" fill="#ffff80"/><circle cx="497.0" cy="1302.0" r="4.5" fill="#ffffbf"/><circle cx="497.8" cy="1300.8" r="4.5" fill="#ffff9f"/><circle cx="498.8" cy="1294.6" r="4.5" fill="#ffffbf"/><circle cx="499.3" cy="1295.7" r="4.5" fill="#ffff9f"/><circle cx="500.6" cy="1290.5" r="4.6" fill="#ffff60"/><circle cx="501.8" cy="1288.1" r="4.6" fill="#ffff60"/><circle cx="502.7" cy="1295.1" r="4.5" fill="#ffffbf"/><circle cx="502.8" cy="1283.9" r="4.7" fill="#ffff40"/><circle cx="504.1" cy="1279.4" r="4.6" fill="#ffff60"/><circle cx="504.5" cy="1287.7" r="4.6" fill="#ffff60"/><circle cx="505.9" cy="1277.7" r="4.6" fill="#ffff60"/><circle cx="372.0" cy="1296.5" r="4.4" fill="#ffffff"/><circle cx="383.0" cy="1299.3" r="4.4" fill="#ffffff"/><circle cx="398.0" cy="1305.0" r="4.4" fill="#ffffff"/><circle cx="390.0" cy="1310.7" r="4.4" fill="#ffffff"/><circle cx="360.0" cy="1305.0" r="4.4" fill="#ffffdf"/><circle cx="500.0" cy="1279.3" r="4.6" fill="#ffff80"/><circle cx="505.0" cy="1276.5" r="4.6" fill="#ffff60"/><circle cx="510.0" cy="1192.7" r="4.9" fill="#ffbf00"/><circle cx="511.6" cy="1204.5" r="5.0" fill="#ff9500"/><circle cx="511.9" cy="1203.5" r="5.0" fill="#ff9500"/><circle cx="512.8" cy="1211.3" r="5.2" fill="#ff4000"/><circle cx="513.8" cy="1212.7" r="5.2" fill="#ff5500"/><circle cx="514.6" cy="1220.3" r="5.1" fill="#ff8000"/><circle cx="515.8" cy="1222.8" r="5.1" fill="#ff6a00"/><circle cx="515.8" cy="1218.1" r="5.1" fill="#ff6a00"/><circle cx="517.1" cy="1230.0" r="5.1" fill="#ff8000"/><circle cx="517.7" cy="1224.2" r="5.0" fill="#ff9500"/><circle cx="518.5" cy="1227.6" r="5.1" fill="#ff6a00"/><circle cx="519.7" cy="1241.4" r="5.0" fill="#ff9500"/><circle cx="520.5" cy="1245.6" r="5.1" fill="#ff8000"/><circle cx="521.3" cy="1244.7" r="5.0" fill="#ffaa00"/><circle cx="522.4" cy="1252.9" r="5.1" fill="#ff6a00"/><circle cx="522.6" cy="1259.1" r="5.1" fill="#ff8000"/><circle cx="523.4" cy="1256.0" r="5.0" fill="#ffaa00"/><circle cx="524.2" cy="1258.5" r="5.1" fill="#ff8000"/><circle cx="508.0" cy="1211.0" r="4.8" fill="#ffea00"/><circle cx="514.0" cy="1208.1" r="4.8" fill="#ffea00"/><circle cx="509.0" cy="1196.7" r="4.7" fill="#ffff20"/><circle cx="518.0" cy="1213.8" r="5.2" fill="#ff4000"/><circle cx="522.0" cy="1276.5" r="5.1" fill="#ff8000"/><circle cx="526.0" cy="1259.4" r="5.1" fill="#ff8000"/><circle cx="527.0" cy="1248.0" r="5.1" fill="#ff8000"/><circle cx="545.9" cy="1213.0" r="5.4" fill="#ea0000"/><circle cx="557.8" cy="1195.6" r="5.4" fill="#ea0000"/><circle cx="555.4" cy="1220.2" r="5.3" fill="#ff1500"/><circle cx="555.3" cy="1203.0" r="5.3" fill="#ff1500"/><circle cx="540.3" cy="1207.0" r="5.3" fill="#ff1500"/><circle cx="546.6" cy="1191.0" r="5.4" fill="#ff0000"/><circle cx="532.8" cy="1206.4" r="5.4" fill="#ff0000"/><circle cx="549.1" cy="1192.3" r="5.4" fill="#ea0000"/><circle cx="553.1" cy="1198.6" r="5.4" fill="#ea0000"/><circle cx="541.5" cy="1215.5" r="5.3" fill="#ff2a00"/><circle cx="558.9" cy="1218.2" r="5.3" fill="#ff2a00"/><circle cx="547.5" cy="1195.2" r="5.3" fill="#ff1500"/><circle cx="541.7" cy="1197.0" r="5.3" fill="#ff1500"/><circle cx="536.5" cy="1213.6" r="5.3" fill="#ff1500"/><circle cx="536.0" cy="1188.1" r="5.3" fill="#ff1500"/><circle cx="543.0" cy="1193.8" r="5.3" fill="#ff1500"/><circle cx="540.0" cy="1199.5" r="5.3" fill="#ff1500"/><circle cx="545.0" cy="1205.2" r="5.4" fill="#ff0000"/><circle cx="584.9" cy="1136.8" r="5.3" fill="#ff1500"/><circle cx="610.4" cy="1129.4" r="5.3" fill="#ff1500"/><circle cx="636.6" cy="1206.3" r="5.4" fill="#ea0000"/><circle cx="626.1" cy="1179.9" r="5.4" fill="#ea0000"/><circle cx="580.4" cy="1188.6" r="5.4" fill="#ea0000"/><circle cx="604.3" cy="1155.7" r="5.4" fill="#ea0000"/><circle cx="567.1" cy="1188.4" r="5.4" fill="#ff0000"/><circle cx="569.6" cy="1203.4" r="5.4" fill="#ff0000"/><circle cx="567.6" cy="1181.5" r="5.3" fill="#ff1500"/><circle cx="560.9" cy="1203.7" r="5.5" fill="#d40000"/><circle cx="617.7" cy="1184.7" r="5.4" fill="#ea0000"/><circle cx="614.1" cy="1201.1" r="5.5" fill="#d40000"/><circle cx="631.5" cy="1126.8" r="5.5" fill="#d40000"/><circle cx="618.8" cy="1139.3" r="5.5" fill="#d40000"/><circle cx="589.0" cy="1179.9" r="5.5" fill="#d40000"/><circle cx="636.5" cy="1156.3" r="5.4" fill="#ff0000"/><circle cx="611.8" cy="1207.8" r="5.4" fill="#ff0000"/><circle cx="596.3" cy="1194.2" r="5.4" fill="#ea0000"/><circle cx="562.5" cy="1175.9" r="5.3" fill="#ff1500"/><circle cx="602.2" cy="1126.5" r="5.5" fill="#d40000"/><circle cx="596.2" cy="1139.1" r="5.3" fill="#ff1500"/><circle cx="585.3" cy="1180.7" r="5.4" fill="#ea0000"/><circle cx="637.8" cy="1165.4" r="5.5" fill="#d40000"/><circle cx="608.4" cy="1141.1" r="5.5" fill="#d40000"/><circle cx="615.2" cy="1144.5" r="5.4" fill="#ff0000"/><circle cx="630.9" cy="1198.2" r="5.5" fill="#d40000"/><circle cx="616.8" cy="1202.2" r="5.3" fill="#ff1500"/><circle cx="589.6" cy="1141.4" r="5.4" fill="#ea0000"/><circle cx="625.0" cy="1170.8" r="5.3" fill="#ff1500"/><circle cx="561.7" cy="1154.2" r="5.5" fill="#d40000"/><circle cx="598.9" cy="1204.6" r="5.4" fill="#ff0000"/><circle cx="584.2" cy="1139.0" r="5.4" fill="#ff0000"/><circle cx="615.9" cy="1173.9" r="5.4" fill="#ff0000"/><circle cx="588.9" cy="1202.2" r="5.3" fill="#ff1500"/><circle cx="637.7" cy="1190.2" r="5.5" fill="#d40000"/><circle cx="595.2" cy="1134.0" r="5.3" fill="#ff1500"/><circle cx="560.2" cy="1207.3" r="5.5" fill="#d40000"/><circle cx="625.9" cy="1179.1" r="5.4" fill="#ea0000"/><circle cx="589.8" cy="1194.8" r="5.4" fill="#ea0000"/><circle cx="567.6" cy="1128.8" r="5.4" fill="#ff0000"/><circle cx="586.3" cy="1156.5" r="5.4" fill="#ff0000"/><circle cx="614.9" cy="1129.9" r="5.3" fill="#ff1500"/><circle cx="624.8" cy="1206.4" r="5.4" fill="#ea0000"/><circle cx="580.8" cy="1144.9" r="5.5" fill="#d40000"/><circle cx="574.6" cy="1181.6" r="5.3" fill="#ff1500"/><circle cx="629.4" cy="1163.9" r="5.4" fill="#ff0000"/><circle cx="619.5" cy="1210.2" r="5.4" fill="#ff0000"/><circle cx="582.3" cy="1131.9" r="5.4" fill="#ff0000"/><circle cx="595.5" cy="1187.5" r="5.4" fill="#ff0000"/><circle cx="589.0" cy="1126.1" r="5.4" fill="#ea0000"/><circle cx="571.0" cy="1172.4" r="5.5" fill="#d40000"/><circle cx="628.6" cy="1191.7" r="5.4" fill="#ff0000"/><circle cx="570.6" cy="1131.3" r="5.5" fill="#d40000"/><circle cx="572.4" cy="1167.2" r="5.4" fill="#ff0000"/><circle cx="620.4" cy="1206.6" r="5.3" fill="#ff1500"/><circle cx="608.1" cy="1135.2" r="5.5" fill="#bf0000"/><circle cx="574.8" cy="1155.0" r="5.5" fill="#d40000"/><circle cx="590.8" cy="1163.0" r="5.4" fill="#ff0000"/><circle cx="565.4" cy="1178.9" r="5.4" fill="#ff0000"/><circle cx="622.5" cy="1169.1" r="5.3" fill="#ff1500"/><circle cx="619.0" cy="1147.8" r="5.4" fill="#ea0000"/><circle cx="565.1" cy="1197.9" r="5.3" fill="#ff1500"/><circle cx="621.6" cy="1134.7" r="5.5" fill="#d40000"/><circle cx="633.6" cy="1192.1" r="5.4" fill="#ff0000"/><circle cx="631.2" cy="1133.7" r="5.3" fill="#ff1500"/><circle cx="631.6" cy="1172.1" r="5.4" fill="#ea0000"/><circle cx="612.7" cy="1155.0" r="5.4" fill="#ff0000"/><circle cx="622.0" cy="1195.1" r="5.3" fill="#ff1500"/><circle cx="593.5" cy="1189.4" r="5.5" fill="#d40000"/><circle cx="629.6" cy="1199.5" r="5.3" fill="#ff1500"/><circle cx="611.1" cy="1157.4" r="5.4" fill="#ea0000"/><circle cx="633.7" cy="1155.1" r="5.3" fill="#ff1500"/><circle cx="579.9" cy="1128.8" r="5.4" fill="#ff0000"/><circle cx="595.2" cy="1168.3" r="5.3" fill="#ff1500"/><circle cx="609.1" cy="1193.6" r="5.5" fill="#d40000"/><circle cx="599.6" cy="1139.7" r="5.5" fill="#d40000"/><circle cx="567.2" cy="1209.4" r="5.4" fill="#ff0000"/><circle cx="637.2" cy="1208.3" r="5.4" fill="#ff0000"/><circle cx="594.4" cy="1128.5" r="5.5" fill="#d40000"/><circle cx="575.7" cy="1200.8" r="5.3" fill="#ff1500"/><circle cx="589.8" cy="1131.7" r="5.6" fill="#aa0000"/><circle cx="574.7" cy="1159.3" r="5.5" fill="#bf0000"/><circle cx="567.6" cy="1129.1" r="5.5" fill="#bf0000"/><circle cx="561.3" cy="1135.2" r="5.6" fill="#950000"/><circle cx="577.0" cy="1137.3" r="5.5" fill="#bf0000"/><circle cx="585.2" cy="1136.9" r="5.6" fill="#aa0000"/><circle cx="568.5" cy="1157.8" r="5.5" fill="#bf0000"/><circle cx="591.4" cy="1149.9" r="5.6" fill="#aa0000"/><circle cx="566.9" cy="1131.7" r="5.5" fill="#bf0000"/><circle cx="570.7" cy="1129.8" r="5.6" fill="#aa0000"/><circle cx="631.5" cy="1144.4" r="5.7" fill="#800000"/><circle cx="631.9" cy="1148.5" r="5.8" fill="#550000"/><circle cx="632.7" cy="1145.3" r="5.8" fill="#400000"/><circle cx="633.7" cy="1148.7" r="5.8" fill="#550000"/><circle cx="634.3" cy="1131.9" r="5.8" fill="#550000"/><circle cx="635.2" cy="1132.7" r="5.8" fill="#550000"/><circle cx="636.1" cy="1143.6" r="5.8" fill="#400000"/><circle cx="636.4" cy="1139.9" r="5.8" fill="#550000"/><circle cx="637.4" cy="1137.0" r="5.8" fill="#550000"/><circle cx="638.4" cy="1133.7" r="5.7" fill="#6a0000"/><circle cx="638.7" cy="1131.1" r="5.7" fill="#800000"/><circle cx="640.3" cy="1124.1" r="5.8" fill="#550000"/><circle cx="641.0" cy="1128.5" r="5.7" fill="#800000"/><circle cx="641.5" cy="1121.9" r="5.8" fill="#550000"/><circle cx="642.0" cy="1132.4" r="5.7" fill="#6a0000"/><circle cx="643.0" cy="1118.6" r="5.8" fill="#550000"/><circle cx="644.1" cy="1124.9" r="5.7" fill="#800000"/><circle cx="644.7" cy="1115.7" r="5.7" fill="#6a0000"/><circle cx="645.5" cy="1115.3" r="5.7" fill="#6a0000"/><circle cx="646.2" cy="1123.8" r="5.6" fill="#aa0000"/><circle cx="647.0" cy="1109.0" r="5.7" fill="#800000"/><circle cx="647.6" cy="1122.0" r="5.8" fill="#550000"/><circle cx="648.7" cy="1109.1" r="5.8" fill="#400000"/><circle cx="648.9" cy="1116.2" r="5.6" fill="#950000"/><circle cx="650.1" cy="1106.1" r="5.7" fill="#800000"/><circle cx="651.0" cy="1105.4" r="5.8" fill="#550000"/><circle cx="651.6" cy="1105.5" r="5.7" fill="#6a0000"/><circle cx="652.3" cy="1117.1" r="5.7" fill="#6a0000"/><circle cx="653.0" cy="1100.2" r="5.8" fill="#550000"/><circle cx="653.5" cy="1114.0" r="5.7" fill="#6a0000"/><circle cx="654.2" cy="1112.1" r="5.7" fill="#6a0000"/><circle cx="655.0" cy="1108.1" r="5.8" fill="#550000"/><circle cx="656.0" cy="1099.1" r="5.7" fill="#6a0000"/><circle cx="656.7" cy="1108.4" r="5.8" fill="#550000"/><circle cx="657.8" cy="1092.7" r="5.7" fill="#6a0000"/><circle cx="658.7" cy="1099.6" r="5.7" fill="#6a0000"/><circle cx="659.1" cy="1100.5" r="5.7" fill="#6a0000"/><circle cx="659.9" cy="1099.2" r="5.8" fill="#550000"/><circle cx="661.1" cy="1100.7" r="5.9" fill="#150000"/><circle cx="661.8" cy="1103.0" r="5.7" fill="#6a0000"/><circle cx="662.0" cy="1105.1" r="5.7" fill="#6a0000"/><circle cx="663.0" cy="1101.0" r="5.7" fill="#800000"/><circle cx="664.2" cy="1110.9" r="5.7" fill="#6a0000"/><circle cx="664.8" cy="1108.7" r="5.7" fill="#800000"/><circle cx="665.8" cy="1114.1" r="5.8" fill="#550000"/><circle cx="666.6" cy="1119.9" r="5.7" fill="#800000"/><circle cx="667.1" cy="1107.6" r="5.8" fill="#550000"/><circle cx="667.8" cy="1109.3" r="5.6" fill="#950000"/><circle cx="668.3" cy="1112.0" r="5.8" fill="#400000"/><circle cx="669.0" cy="1122.1" r="5.7" fill="#800000"/><circle cx="670.3" cy="1115.1" r="5.7" fill="#6a0000"/><circle cx="670.8" cy="1130.0" r="5.8" fill="#550000"/><circle cx="672.0" cy="1120.8" r="5.6" fill="#950000"/><circle cx="681.2" cy="1149.1" r="5.4" fill="#ff0000"/><circle cx="682.6" cy="1170.7" r="5.4" fill="#ff0000"/><circle cx="669.0" cy="1147.6" r="5.5" fill="#d40000"/><circle cx="660.8" cy="1179.4" r="5.4" fill="#ff0000"/><circle cx="671.3" cy="1152.5" r="5.4" fill="#ff0000"/><circle cx="681.1" cy="1195.5" r="5.4" fill="#ea0000"/><circle cx="663.6" cy="1164.4" r="5.4" fill="#ff0000"/><circle cx="674.3" cy="1166.2" r="5.4" fill="#ff0000"/><circle cx="667.6" cy="1179.9" r="5.4" fill="#ea0000"/><circle cx="667.3" cy="1173.6" r="5.4" fill="#ff0000"/><circle cx="665.6" cy="1191.6" r="5.4" fill="#ea0000"/><circle cx="657.3" cy="1138.5" r="5.5" fill="#d40000"/><circle cx="680.8" cy="1164.7" r="5.4" fill="#ff0000"/><circle cx="678.4" cy="1146.9" r="5.4" fill="#ff0000"/><circle cx="679.3" cy="1133.3" r="5.7" fill="#800000"/><circle cx="679.9" cy="1131.9" r="5.6" fill="#950000"/><circle cx="680.9" cy="1135.3" r="5.6" fill="#950000"/><circle cx="681.2" cy="1134.3" r="5.6" fill="#aa0000"/><circle cx="682.1" cy="1122.8" r="5.7" fill="#800000"/><circle cx="682.7" cy="1121.6" r="5.6" fill="#aa0000"/><circle cx="683.3" cy="1132.4" r="5.6" fill="#950000"/><circle cx="684.2" cy="1123.9" r="5.6" fill="#950000"/><circle cx="684.9" cy="1129.1" r="5.6" fill="#950000"/><circle cx="685.1" cy="1132.4" r="5.7" fill="#800000"/><circle cx="685.8" cy="1127.4" r="5.5" fill="#bf0000"/><circle cx="686.6" cy="1127.6" r="5.7" fill="#800000"/><circle cx="687.6" cy="1118.2" r="5.6" fill="#aa0000"/><circle cx="687.8" cy="1126.3" r="5.5" fill="#bf0000"/><circle cx="688.8" cy="1117.7" r="5.6" fill="#aa0000"/><circle cx="689.2" cy="1119.9" r="5.6" fill="#950000"/><circle cx="690.4" cy="1117.3" r="5.5" fill="#bf0000"/><circle cx="690.9" cy="1119.5" r="5.6" fill="#950000"/><circle cx="691.6" cy="1130.1" r="5.5" fill="#bf0000"/><circle cx="691.9" cy="1125.1" r="5.5" fill="#bf0000"/><circle cx="693.0" cy="1122.3" r="5.5" fill="#d40000"/><circle cx="693.3" cy="1122.2" r="5.7" fill="#800000"/><circle cx="693.9" cy="1116.8" r="5.4" fill="#ea0000"/><circle cx="694.6" cy="1117.8" r="5.5" fill="#bf0000"/><circle cx="695.2" cy="1124.5" r="5.6" fill="#aa0000"/><circle cx="696.4" cy="1121.4" r="5.6" fill="#aa0000"/><circle cx="696.8" cy="1119.4" r="5.6" fill="#950000"/><circle cx="697.7" cy="1117.3" r="5.6" fill="#aa0000"/><circle cx="697.9" cy="1124.7" r="5.6" fill="#950000"/><circle cx="699.0" cy="1122.8" r="5.6" fill="#aa0000"/><circle cx="699.3" cy="1126.0" r="5.6" fill="#950000"/><circle cx="700.2" cy="1115.7" r="5.6" fill="#aa0000"/><circle cx="700.7" cy="1121.5" r="5.5" fill="#bf0000"/><circle cx="701.8" cy="1117.5" r="5.6" fill="#aa0000"/><circle cx="701.9" cy="1125.9" r="5.6" fill="#aa0000"/><circle cx="703.2" cy="1126.9" r="5.6" fill="#aa0000"/><circle cx="703.4" cy="1130.3" r="5.6" fill="#aa0000"/><circle cx="704.0" cy="1127.3" r="5.6" fill="#aa0000"/><circle cx="705.1" cy="1115.9" r="5.6" fill="#aa0000"/><circle cx="705.2" cy="1119.6" r="5.5" fill="#bf0000"/><circle cx="706.3" cy="1127.4" r="5.7" fill="#800000"/><circle cx="707.2" cy="1121.0" r="5.7" fill="#800000"/><circle cx="707.5" cy="1131.6" r="5.7" fill="#6a0000"/><circle cx="708.1" cy="1127.0" r="5.5" fill="#d40000"/><circle cx="709.1" cy="1117.1" r="5.5" fill="#d40000"/><circle cx="709.8" cy="1129.7" r="5.6" fill="#950000"/><circle cx="710.1" cy="1130.8" r="5.6" fill="#aa0000"/><circle cx="711.1" cy="1119.6" r="5.6" fill="#aa0000"/><circle cx="711.9" cy="1132.7" r="5.6" fill="#aa0000"/><circle cx="712.6" cy="1129.4" r="5.7" fill="#800000"/><circle cx="713.1" cy="1130.8" r="5.5" fill="#bf0000"/><circle cx="713.3" cy="1119.9" r="5.7" fill="#800000"/><circle cx="714.6" cy="1137.2" r="5.6" fill="#950000"/><circle cx="715.2" cy="1133.7" r="5.5" fill="#bf0000"/><circle cx="715.8" cy="1122.4" r="5.5" fill="#bf0000"/><circle cx="716.0" cy="1128.9" r="5.6" fill="#950000"/><circle cx="716.7" cy="1124.4" r="5.6" fill="#aa0000"/><circle cx="717.8" cy="1133.8" r="5.6" fill="#aa0000"/><circle cx="754.0" cy="1156.0" r="5.4" fill="#ff0000"/><circle cx="724.3" cy="1189.4" r="5.5" fill="#d40000"/><circle cx="738.4" cy="1160.1" r="5.4" fill="#ea0000"/><circle cx="719.9" cy="1174.9" r="5.4" fill="#ea0000"/><circle cx="716.0" cy="1181.7" r="5.4" fill="#ff0000"/><circle cx="743.1" cy="1158.8" r="5.3" fill="#ff1500"/><circle cx="721.3" cy="1188.2" r="5.4" fill="#ff0000"/><circle cx="742.2" cy="1165.9" r="5.4" fill="#ea0000"/><circle cx="728.9" cy="1138.3" r="5.5" fill="#d40000"/><circle cx="716.5" cy="1178.4" r="5.4" fill="#ff0000"/><circle cx="718.1" cy="1177.2" r="5.4" fill="#ff0000"/><circle cx="749.2" cy="1148.8" r="5.4" fill="#ea0000"/><circle cx="730.1" cy="1157.9" r="5.4" fill="#ea0000"/><circle cx="754.6" cy="1192.7" r="5.4" fill="#ff0000"/><circle cx="749.8" cy="1190.2" r="5.4" fill="#ea0000"/><circle cx="744.2" cy="1167.8" r="5.4" fill="#ff0000"/><circle cx="730.8" cy="1163.2" r="5.4" fill="#ea0000"/><circle cx="728.8" cy="1179.4" r="5.4" fill="#ff0000"/><circle cx="719.0" cy="1189.8" r="5.4" fill="#ea0000"/><circle cx="754.6" cy="1138.7" r="5.5" fill="#d40000"/><circle cx="740.6" cy="1147.2" r="5.4" fill="#ff0000"/><circle cx="739.7" cy="1169.4" r="5.4" fill="#ff0000"/><circle cx="697.0" cy="1156.8" r="5.6" fill="#aa0000"/><circle cx="685.0" cy="1156.8" r="5.4" fill="#ea0000"/><circle cx="680.0" cy="1193.8" r="5.4" fill="#ea0000"/><circle cx="718.0" cy="1168.2" r="5.6" fill="#aa0000"/><circle cx="746.3" cy="1124.8" r="5.7" fill="#6a0000"/><circle cx="746.7" cy="1114.9" r="5.8" fill="#550000"/><circle cx="747.6" cy="1116.4" r="5.7" fill="#6a0000"/><circle cx="748.6" cy="1114.0" r="5.6" fill="#950000"/><circle cx="749.1" cy="1115.0" r="5.7" fill="#6a0000"/><circle cx="750.1" cy="1111.0" r="5.8" fill="#550000"/><circle cx="750.5" cy="1112.3" r="5.7" fill="#6a0000"/><circle cx="751.0" cy="1114.8" r="5.8" fill="#550000"/><circle cx="751.8" cy="1102.5" r="5.8" fill="#550000"/><circle cx="752.5" cy="1107.2" r="5.8" fill="#550000"/><circle cx="753.7" cy="1112.4" r="5.7" fill="#6a0000"/><circle cx="754.4" cy="1114.1" r="5.7" fill="#800000"/><circle cx="754.8" cy="1113.6" r="5.9" fill="#2a0000"/><circle cx="755.5" cy="1105.3" r="5.7" fill="#6a0000"/><circle cx="756.3" cy="1098.2" r="5.8" fill="#550000"/><circle cx="757.4" cy="1102.4" r="5.8" fill="#550000"/><circle cx="757.5" cy="1103.3" r="5.7" fill="#6a0000"/><circle cx="758.2" cy="1101.3" r="5.8" fill="#400000"/><circle cx="759.1" cy="1102.6" r="5.8" fill="#400000"/><circle cx="759.8" cy="1097.8" r="5.8" fill="#400000"/><circle cx="760.7" cy="1103.1" r="5.7" fill="#800000"/><circle cx="761.1" cy="1098.3" r="5.8" fill="#550000"/><circle cx="761.7" cy="1107.6" r="5.8" fill="#550000"/><circle cx="762.8" cy="1104.9" r="5.9" fill="#150000"/><circle cx="763.5" cy="1099.7" r="5.8" fill="#550000"/><circle cx="764.5" cy="1109.0" r="5.8" fill="#550000"/><circle cx="764.8" cy="1097.7" r="5.8" fill="#400000"/><circle cx="766.0" cy="1110.2" r="5.7" fill="#800000"/><circle cx="766.7" cy="1094.2" r="5.8" fill="#400000"/><circle cx="766.8" cy="1107.4" r="5.7" fill="#6a0000"/><circle cx="767.6" cy="1107.7" r="5.8" fill="#400000"/><circle cx="768.4" cy="1108.3" r="5.8" fill="#400000"/><circle cx="769.2" cy="1100.3" r="5.8" fill="#400000"/><circle cx="769.6" cy="1103.4" r="5.7" fill="#800000"/><circle cx="770.4" cy="1103.5" r="5.8" fill="#550000"/><circle cx="771.4" cy="1093.4" r="5.8" fill="#550000"/><circle cx="771.9" cy="1104.5" r="5.7" fill="#6a0000"/><circle cx="772.9" cy="1101.8" r="5.7" fill="#6a0000"/><circle cx="773.2" cy="1106.7" r="5.9" fill="#2a0000"/><circle cx="774.2" cy="1099.8" r="5.8" fill="#550000"/><circle cx="774.8" cy="1106.4" r="5.8" fill="#400000"/><circle cx="775.9" cy="1095.9" r="5.8" fill="#550000"/><circle cx="776.3" cy="1100.9" r="5.8" fill="#550000"/><circle cx="777.4" cy="1098.3" r="5.7" fill="#800000"/><circle cx="777.9" cy="1105.2" r="5.8" fill="#400000"/><circle cx="778.2" cy="1101.8" r="5.7" fill="#6a0000"/><circle cx="779.4" cy="1105.1" r="5.7" fill="#800000"/><circle cx="779.8" cy="1100.0" r="5.8" fill="#400000"/><circle cx="780.7" cy="1103.9" r="5.7" fill="#6a0000"/><circle cx="781.7" cy="1094.0" r="5.8" fill="#550000"/><circle cx="782.2" cy="1095.5" r="5.8" fill="#400000"/><circle cx="782.9" cy="1097.0" r="5.8" fill="#550000"/><circle cx="783.8" cy="1098.2" r="5.8" fill="#400000"/><circle cx="784.0" cy="1103.1" r="5.8" fill="#550000"/><circle cx="784.8" cy="1103.7" r="5.8" fill="#400000"/><circle cx="785.7" cy="1095.2" r="5.8" fill="#550000"/><circle cx="786.3" cy="1098.1" r="5.7" fill="#6a0000"/><circle cx="787.2" cy="1102.9" r="5.8" fill="#400000"/><circle cx="787.8" cy="1101.7" r="5.8" fill="#400000"/><circle cx="788.6" cy="1100.5" r="5.7" fill="#800000"/><circle cx="789.1" cy="1102.2" r="5.8" fill="#400000"/><circle cx="790.2" cy="1097.8" r="5.7" fill="#6a0000"/><circle cx="790.8" cy="1092.0" r="5.8" fill="#400000"/><circle cx="791.5" cy="1094.7" r="5.8" fill="#400000"/><circle cx="791.9" cy="1089.3" r="5.7" fill="#6a0000"/><circle cx="793.0" cy="1090.8" r="5.8" fill="#400000"/><circle cx="793.7" cy="1100.2" r="5.8" fill="#400000"/><circle cx="794.3" cy="1099.4" r="5.7" fill="#800000"/><circle cx="795.1" cy="1097.5" r="5.7" fill="#6a0000"/><circle cx="795.9" cy="1099.0" r="5.8" fill="#550000"/><circle cx="796.5" cy="1090.8" r="5.8" fill="#550000"/><circle cx="797.0" cy="1106.0" r="5.8" fill="#550000"/><circle cx="797.6" cy="1102.5" r="5.8" fill="#550000"/><circle cx="798.2" cy="1096.6" r="5.7" fill="#6a0000"/><circle cx="799.3" cy="1104.0" r="5.6" fill="#950000"/><circle cx="799.9" cy="1101.1" r="5.7" fill="#800000"/><circle cx="800.7" cy="1102.5" r="5.8" fill="#550000"/><circle cx="801.7" cy="1101.2" r="5.8" fill="#400000"/><circle cx="802.4" cy="1111.4" r="5.6" fill="#950000"/><circle cx="803.0" cy="1105.6" r="5.7" fill="#800000"/><circle cx="803.2" cy="1101.6" r="5.8" fill="#550000"/><circle cx="804.2" cy="1106.2" r="5.7" fill="#800000"/><circle cx="804.7" cy="1117.1" r="5.7" fill="#800000"/><circle cx="805.9" cy="1113.3" r="5.8" fill="#400000"/><circle cx="826.9" cy="1130.9" r="5.4" fill="#ff0000"/><circle cx="838.7" cy="1152.8" r="5.5" fill="#d40000"/><circle cx="816.0" cy="1138.9" r="5.4" fill="#ea0000"/><circle cx="844.9" cy="1173.8" r="5.5" fill="#d40000"/><circle cx="849.5" cy="1142.2" r="5.4" fill="#ff0000"/><circle cx="826.8" cy="1128.7" r="5.4" fill="#ea0000"/><circle cx="851.4" cy="1114.2" r="5.4" fill="#ff0000"/><circle cx="809.0" cy="1155.5" r="5.3" fill="#ff1500"/><circle cx="839.9" cy="1136.9" r="5.4" fill="#ff0000"/><circle cx="800.4" cy="1129.7" r="5.5" fill="#d40000"/><circle cx="836.0" cy="1185.5" r="5.4" fill="#ff0000"/><circle cx="843.9" cy="1124.9" r="5.4" fill="#ff0000"/><circle cx="870.5" cy="1135.2" r="5.3" fill="#ff1500"/><circle cx="874.0" cy="1126.3" r="5.4" fill="#ea0000"/><circle cx="844.7" cy="1189.5" r="5.4" fill="#ea0000"/><circle cx="821.5" cy="1178.4" r="5.4" fill="#ff0000"/><circle cx="814.1" cy="1173.8" r="5.4" fill="#ea0000"/><circle cx="833.2" cy="1111.6" r="5.5" fill="#d40000"/><circle cx="868.5" cy="1178.9" r="5.4" fill="#ea0000"/><circle cx="840.8" cy="1143.9" r="5.4" fill="#ea0000"/><circle cx="894.7" cy="1114.8" r="5.4" fill="#ff0000"/><circle cx="898.9" cy="1173.9" r="5.4" fill="#ff0000"/><circle cx="893.7" cy="1149.8" r="5.4" fill="#ea0000"/><circle cx="860.3" cy="1179.9" r="5.4" fill="#ea0000"/><circle cx="887.8" cy="1189.8" r="5.5" fill="#d40000"/><circle cx="828.4" cy="1137.3" r="5.5" fill="#bf0000"/><circle cx="875.7" cy="1149.9" r="5.5" fill="#bf0000"/><circle cx="861.9" cy="1119.4" r="5.4" fill="#ff0000"/><circle cx="827.8" cy="1178.0" r="5.4" fill="#ea0000"/><circle cx="805.4" cy="1151.0" r="5.4" fill="#ea0000"/><circle cx="864.7" cy="1163.2" r="5.4" fill="#ea0000"/><circle cx="808.0" cy="1125.8" r="5.4" fill="#ea0000"/><circle cx="879.2" cy="1126.2" r="5.5" fill="#bf0000"/><circle cx="814.5" cy="1112.1" r="5.4" fill="#ff0000"/><circle cx="858.9" cy="1130.6" r="5.5" fill="#bf0000"/><circle cx="866.0" cy="1135.7" r="5.4" fill="#ff0000"/><circle cx="805.2" cy="1133.6" r="5.3" fill="#ff1500"/><circle cx="891.4" cy="1176.2" r="5.4" fill="#ea0000"/><circle cx="857.2" cy="1177.8" r="5.4" fill="#ff0000"/><circle cx="852.6" cy="1123.8" r="5.5" fill="#bf0000"/><circle cx="882.9" cy="1170.8" r="5.4" fill="#ff0000"/><circle cx="852.5" cy="1113.8" r="5.5" fill="#bf0000"/><circle cx="870.2" cy="1161.2" r="5.4" fill="#ea0000"/><circle cx="823.4" cy="1138.5" r="5.5" fill="#d40000"/><circle cx="818.6" cy="1180.8" r="5.4" fill="#ff0000"/><circle cx="874.9" cy="1177.3" r="5.5" fill="#d40000"/><circle cx="871.6" cy="1164.9" r="5.5" fill="#d40000"/><circle cx="885.5" cy="1178.9" r="5.4" fill="#ff0000"/><circle cx="889.0" cy="1166.2" r="5.4" fill="#ff0000"/><circle cx="846.2" cy="1161.2" r="5.4" fill="#ea0000"/><circle cx="876.5" cy="1128.0" r="5.5" fill="#d40000"/><circle cx="846.0" cy="1123.0" r="5.5" fill="#bf0000"/><circle cx="860.9" cy="1176.4" r="5.4" fill="#ea0000"/><circle cx="814.8" cy="1141.9" r="5.5" fill="#bf0000"/><circle cx="834.5" cy="1158.2" r="5.5" fill="#bf0000"/><circle cx="837.1" cy="1178.6" r="5.4" fill="#ff0000"/><circle cx="897.3" cy="1151.9" r="5.5" fill="#bf0000"/><circle cx="822.2" cy="1159.4" r="5.4" fill="#ea0000"/><circle cx="827.7" cy="1143.5" r="5.5" fill="#d40000"/><circle cx="817.8" cy="1112.8" r="5.4" fill="#ea0000"/><circle cx="859.7" cy="1131.6" r="5.4" fill="#ff0000"/><circle cx="867.9" cy="1184.4" r="5.4" fill="#ea0000"/><circle cx="862.5" cy="1173.3" r="5.4" fill="#ea0000"/><circle cx="895.5" cy="1182.6" r="5.5" fill="#d40000"/><circle cx="836.7" cy="1130.7" r="5.4" fill="#ff0000"/><circle cx="821.0" cy="1129.6" r="5.4" fill="#ff0000"/><circle cx="813.5" cy="1177.4" r="5.4" fill="#ff0000"/><circle cx="846.5" cy="1114.7" r="5.5" fill="#bf0000"/><circle cx="803.3" cy="1167.6" r="5.4" fill="#ea0000"/><circle cx="816.4" cy="1186.9" r="5.4" fill="#ff0000"/><circle cx="892.4" cy="1184.7" r="5.5" fill="#bf0000"/><circle cx="803.9" cy="1188.3" r="5.3" fill="#ff1500"/><circle cx="883.5" cy="1123.7" r="5.4" fill="#ea0000"/><circle cx="802.9" cy="1169.2" r="5.4" fill="#ea0000"/><circle cx="862.0" cy="1160.4" r="5.5" fill="#bf0000"/><circle cx="811.6" cy="1157.5" r="5.5" fill="#d40000"/><circle cx="805.3" cy="1177.5" r="5.5" fill="#bf0000"/><circle cx="890.8" cy="1143.0" r="5.3" fill="#ff1500"/><circle cx="857.9" cy="1133.3" r="5.5" fill="#bf0000"/><circle cx="888.1" cy="1154.3" r="5.5" fill="#d40000"/><circle cx="830.7" cy="1122.7" r="5.4" fill="#ea0000"/><circle cx="848.2" cy="1151.1" r="5.4" fill="#ff0000"/><circle cx="877.7" cy="1167.2" r="5.5" fill="#d40000"/><circle cx="899.9" cy="1163.7" r="5.4" fill="#ff0000"/><circle cx="836.9" cy="1111.8" r="5.4" fill="#ea0000"/><circle cx="841.6" cy="1146.9" r="5.4" fill="#ff0000"/><circle cx="843.5" cy="1161.3" r="5.4" fill="#ff0000"/><circle cx="843.6" cy="1164.5" r="5.3" fill="#ff1500"/><circle cx="810.5" cy="1178.2" r="5.4" fill="#ff0000"/><circle cx="858.7" cy="1111.5" r="5.5" fill="#d40000"/><circle cx="896.8" cy="1154.3" r="5.5" fill="#bf0000"/><circle cx="878.8" cy="1168.3" r="5.4" fill="#ff0000"/><circle cx="845.3" cy="1115.6" r="5.5" fill="#d40000"/><circle cx="831.5" cy="1122.2" r="5.3" fill="#ff1500"/><circle cx="815.5" cy="1117.3" r="5.3" fill="#ff1500"/><circle cx="820.4" cy="1186.4" r="5.5" fill="#d40000"/><circle cx="887.4" cy="1124.0" r="5.5" fill="#bf0000"/><circle cx="840.1" cy="1156.2" r="5.5" fill="#bf0000"/><circle cx="834.3" cy="1184.4" r="5.5" fill="#d40000"/><circle cx="885.8" cy="1115.8" r="5.4" fill="#ff0000"/><circle cx="842.2" cy="1177.3" r="5.4" fill="#ea0000"/><circle cx="881.7" cy="1137.2" r="5.4" fill="#ea0000"/><circle cx="860.2" cy="1112.4" r="5.5" fill="#d40000"/><circle cx="831.3" cy="1117.1" r="5.4" fill="#ea0000"/><circle cx="819.0" cy="1117.7" r="5.5" fill="#d40000"/><circle cx="802.4" cy="1112.8" r="5.5" fill="#bf0000"/><circle cx="874.8" cy="1170.9" r="5.5" fill="#d40000"/><circle cx="878.6" cy="1190.1" r="5.4" fill="#ff0000"/><circle cx="805.7" cy="1133.9" r="5.5" fill="#d40000"/><circle cx="871.1" cy="1174.6" r="5.4" fill="#ea0000"/><circle cx="818.3" cy="1137.0" r="5.6" fill="#aa0000"/><circle cx="856.7" cy="1167.8" r="5.6" fill="#aa0000"/><circle cx="806.8" cy="1159.4" r="5.6" fill="#aa0000"/><circle cx="853.8" cy="1166.6" r="5.7" fill="#800000"/><circle cx="825.7" cy="1134.4" r="5.7" fill="#800000"/><circle cx="822.9" cy="1135.0" r="5.6" fill="#950000"/><circle cx="831.9" cy="1128.4" r="5.6" fill="#aa0000"/><circle cx="825.2" cy="1165.1" r="5.6" fill="#950000"/><circle cx="836.6" cy="1162.3" r="5.6" fill="#950000"/><circle cx="818.0" cy="1130.4" r="5.7" fill="#800000"/><circle cx="829.6" cy="1148.8" r="5.6" fill="#950000"/><circle cx="846.6" cy="1161.9" r="5.7" fill="#800000"/><circle cx="833.9" cy="1138.8" r="5.7" fill="#800000"/><circle cx="855.7" cy="1126.6" r="5.6" fill="#aa0000"/><circle cx="832.9" cy="1130.9" r="5.6" fill="#950000"/><circle cx="810.0" cy="1171.0" r="5.5" fill="#aa0000"/><circle cx="812.0" cy="1191.0" r="5.5" fill="#d40000"/><circle cx="830.0" cy="1188.1" r="5.4" fill="#ea0000"/><circle cx="832.0" cy="1196.7" r="5.4" fill="#ea0000"/><circle cx="829.0" cy="1179.6" r="5.4" fill="#ff0000"/><circle cx="950.6" cy="1155.7" r="5.2" fill="#ff4000"/><circle cx="992.3" cy="1166.0" r="5.2" fill="#ff5500"/><circle cx="918.8" cy="1216.1" r="5.1" fill="#ff6a00"/><circle cx="986.5" cy="1165.4" r="5.1" fill="#ff8000"/><circle cx="957.2" cy="1210.2" r="5.1" fill="#ff6a00"/><circle cx="910.4" cy="1165.9" r="5.1" fill="#ff6a00"/><circle cx="925.8" cy="1204.2" r="5.1" fill="#ff6a00"/><circle cx="909.1" cy="1183.6" r="5.2" fill="#ff5500"/><circle cx="977.0" cy="1169.1" r="5.2" fill="#ff5500"/><circle cx="986.2" cy="1214.5" r="5.2" fill="#ff4000"/><circle cx="921.2" cy="1214.0" r="5.1" fill="#ff8000"/><circle cx="925.8" cy="1183.2" r="5.2" fill="#ff4000"/><circle cx="900.3" cy="1210.8" r="5.2" fill="#ff5500"/><circle cx="895.5" cy="1217.7" r="5.1" fill="#ff8000"/><circle cx="937.4" cy="1171.9" r="5.2" fill="#ff5500"/><circle cx="992.6" cy="1170.8" r="5.2" fill="#ff4000"/><circle cx="951.5" cy="1158.6" r="5.2" fill="#ff5500"/><circle cx="895.3" cy="1164.6" r="5.2" fill="#ff5500"/><circle cx="966.0" cy="1170.4" r="5.1" fill="#ff8000"/><circle cx="936.1" cy="1219.0" r="5.1" fill="#ff6a00"/><circle cx="980.0" cy="1211.7" r="5.2" fill="#ff4000"/><circle cx="953.0" cy="1202.0" r="5.2" fill="#ff4000"/><circle cx="948.1" cy="1223.9" r="5.2" fill="#ff4000"/><circle cx="948.2" cy="1186.9" r="5.2" fill="#ff4000"/><circle cx="974.0" cy="1204.3" r="5.2" fill="#ff4000"/><circle cx="903.9" cy="1212.7" r="5.1" fill="#ff8000"/><circle cx="956.8" cy="1205.6" r="5.1" fill="#ff8000"/><circle cx="957.9" cy="1209.7" r="5.1" fill="#ff8000"/><circle cx="908.6" cy="1199.6" r="5.1" fill="#ff8000"/><circle cx="917.9" cy="1151.4" r="5.2" fill="#ff4000"/><circle cx="937.0" cy="1193.9" r="5.1" fill="#ff8000"/><circle cx="909.8" cy="1164.3" r="5.1" fill="#ff8000"/><circle cx="947.1" cy="1211.5" r="5.2" fill="#ff5500"/><circle cx="949.4" cy="1189.8" r="5.2" fill="#ff4000"/><circle cx="954.7" cy="1186.7" r="5.1" fill="#ff8000"/><circle cx="954.2" cy="1184.8" r="5.2" fill="#ff4000"/><circle cx="968.7" cy="1212.7" r="5.2" fill="#ff4000"/><circle cx="902.0" cy="1155.9" r="5.2" fill="#ff4000"/><circle cx="928.0" cy="1209.2" r="5.1" fill="#ff6a00"/><circle cx="917.1" cy="1214.8" r="5.1" fill="#ff8000"/><circle cx="997.9" cy="1194.5" r="5.1" fill="#ff8000"/><circle cx="904.2" cy="1221.2" r="5.1" fill="#ff6a00"/><circle cx="966.0" cy="1193.5" r="5.2" fill="#ff4000"/><circle cx="967.2" cy="1151.8" r="5.2" fill="#ff4000"/><circle cx="953.5" cy="1207.1" r="5.2" fill="#ff4000"/><circle cx="982.4" cy="1202.2" r="5.2" fill="#ff4000"/><circle cx="921.5" cy="1201.7" r="5.2" fill="#ff5500"/><circle cx="927.2" cy="1172.0" r="5.2" fill="#ff5500"/><circle cx="951.2" cy="1185.8" r="5.1" fill="#ff6a00"/><circle cx="980.6" cy="1189.9" r="5.1" fill="#ff6a00"/><circle cx="992.8" cy="1199.7" r="5.1" fill="#ff8000"/><circle cx="894.1" cy="1187.0" r="5.2" fill="#ff4000"/><circle cx="910.8" cy="1215.5" r="5.2" fill="#ff4000"/><circle cx="946.2" cy="1209.6" r="5.2" fill="#ff5500"/><circle cx="957.1" cy="1209.4" r="5.2" fill="#ff5500"/><circle cx="978.5" cy="1167.7" r="5.2" fill="#ff5500"/><circle cx="997.9" cy="1154.2" r="5.1" fill="#ff6a00"/><circle cx="967.0" cy="1204.1" r="5.2" fill="#ff5500"/><circle cx="996.3" cy="1155.2" r="5.1" fill="#ff6a00"/><circle cx="940.4" cy="1151.2" r="5.1" fill="#ff6a00"/><circle cx="918.2" cy="1186.5" r="5.1" fill="#ff6a00"/><circle cx="893.9" cy="1208.5" r="5.2" fill="#ff5500"/><circle cx="983.1" cy="1201.6" r="5.1" fill="#ff6a00"/><circle cx="955.6" cy="1155.1" r="5.2" fill="#ff5500"/><circle cx="920.7" cy="1200.0" r="5.1" fill="#ff8000"/><circle cx="934.2" cy="1169.0" r="5.2" fill="#ff4000"/><circle cx="913.4" cy="1218.3" r="5.2" fill="#ff5500"/><circle cx="990.1" cy="1180.8" r="5.2" fill="#ff5500"/><circle cx="964.9" cy="1186.2" r="5.2" fill="#ff5500"/><circle cx="906.0" cy="1169.4" r="5.1" fill="#ff6a00"/><circle cx="909.8" cy="1183.7" r="5.2" fill="#ff5500"/><circle cx="915.1" cy="1152.0" r="5.2" fill="#ff4000"/><circle cx="991.1" cy="1217.2" r="5.2" fill="#ff5500"/><circle cx="987.4" cy="1209.3" r="5.2" fill="#ff4000"/><circle cx="941.6" cy="1180.8" r="5.2" fill="#ff4000"/><circle cx="931.2" cy="1219.4" r="5.1" fill="#ff8000"/><circle cx="920.3" cy="1202.9" r="5.1" fill="#ff8000"/><circle cx="970.4" cy="1216.8" r="5.1" fill="#ff6a00"/><circle cx="949.1" cy="1178.4" r="5.2" fill="#ff4000"/><circle cx="916.9" cy="1222.1" r="5.2" fill="#ff4000"/><circle cx="990.9" cy="1178.0" r="5.2" fill="#ff4000"/><circle cx="978.8" cy="1223.1" r="5.1" fill="#ff8000"/><circle cx="960.8" cy="1182.7" r="5.2" fill="#ff5500"/><circle cx="917.8" cy="1178.6" r="5.1" fill="#ff8000"/><circle cx="924.0" cy="1185.3" r="5.2" fill="#ff4000"/><circle cx="957.1" cy="1190.0" r="5.1" fill="#ff6a00"/><circle cx="988.4" cy="1160.5" r="5.2" fill="#ff5500"/><circle cx="904.7" cy="1224.6" r="5.1" fill="#ff6a00"/><circle cx="975.1" cy="1208.5" r="5.1" fill="#ff6a00"/><circle cx="915.2" cy="1224.6" r="5.1" fill="#ff8000"/><circle cx="925.6" cy="1213.6" r="5.1" fill="#ff8000"/><circle cx="998.0" cy="1166.7" r="5.2" fill="#ff5500"/><circle cx="905.7" cy="1208.2" r="5.1" fill="#ff8000"/><circle cx="986.6" cy="1196.8" r="5.2" fill="#ff4000"/><circle cx="996.8" cy="1170.5" r="5.2" fill="#ff5500"/><circle cx="966.8" cy="1201.9" r="5.2" fill="#ff4000"/><circle cx="985.3" cy="1216.0" r="5.1" fill="#ff6a00"/><circle cx="982.4" cy="1161.1" r="5.2" fill="#ff5500"/><circle cx="987.3" cy="1218.6" r="5.2" fill="#ff5500"/><circle cx="912.5" cy="1224.6" r="5.1" fill="#ff8000"/><circle cx="902.4" cy="1175.2" r="5.4" fill="#ff0000"/><circle cx="998.3" cy="1163.1" r="5.4" fill="#ff0000"/><circle cx="899.2" cy="1169.2" r="5.4" fill="#ff0000"/><circle cx="935.8" cy="1172.5" r="5.4" fill="#ea0000"/><circle cx="974.4" cy="1168.4" r="5.4" fill="#ea0000"/><circle cx="930.8" cy="1163.9" r="5.3" fill="#ff1500"/><circle cx="995.7" cy="1164.0" r="5.4" fill="#ea0000"/><circle cx="972.4" cy="1171.5" r="5.3" fill="#ff1500"/><circle cx="970.8" cy="1166.8" r="5.4" fill="#ff0000"/><circle cx="934.6" cy="1206.8" r="5.4" fill="#ff0000"/><circle cx="987.1" cy="1191.6" r="5.4" fill="#ff0000"/><circle cx="969.1" cy="1191.2" r="5.4" fill="#ff0000"/><circle cx="999.1" cy="1199.8" r="5.3" fill="#ff1500"/><circle cx="927.4" cy="1185.4" r="5.3" fill="#ff1500"/><circle cx="992.9" cy="1206.8" r="5.3" fill="#ff2a00"/><circle cx="1007.5" cy="1203.4" r="5.2" fill="#ff4000"/><circle cx="993.4" cy="1151.7" r="5.2" fill="#ff4000"/><circle cx="976.1" cy="1192.0" r="5.3" fill="#ff2a00"/><circle cx="976.1" cy="1211.6" r="5.2" fill="#ff4000"/><circle cx="1001.4" cy="1162.7" r="5.3" fill="#ff2a00"/><circle cx="1008.4" cy="1219.9" r="5.1" fill="#ff6a00"/><circle cx="973.0" cy="1162.8" r="5.3" fill="#ff2a00"/><circle cx="984.9" cy="1217.7" r="5.2" fill="#ff5500"/><circle cx="998.2" cy="1163.8" r="5.1" fill="#ff6a00"/><circle cx="991.4" cy="1179.2" r="5.2" fill="#ff5500"/><circle cx="982.1" cy="1152.1" r="5.2" fill="#ff5500"/><circle cx="992.6" cy="1165.0" r="5.3" fill="#ff2a00"/><circle cx="983.5" cy="1167.6" r="5.1" fill="#ff6a00"/><circle cx="1005.3" cy="1151.9" r="5.2" fill="#ff4000"/><circle cx="1014.4" cy="1181.3" r="5.2" fill="#ff4000"/><circle cx="996.4" cy="1152.6" r="5.2" fill="#ff5500"/><circle cx="995.9" cy="1187.1" r="5.2" fill="#ff4000"/><circle cx="971.2" cy="1181.5" r="5.3" fill="#ff2a00"/><circle cx="971.4" cy="1182.1" r="5.2" fill="#ff5500"/><circle cx="986.7" cy="1178.0" r="5.2" fill="#ff4000"/><circle cx="998.9" cy="1208.0" r="5.2" fill="#ff4000"/><circle cx="1004.6" cy="1209.5" r="5.2" fill="#ff5500"/><circle cx="990.2" cy="1220.4" r="5.1" fill="#ff6a00"/><circle cx="1002.5" cy="1168.5" r="5.2" fill="#ff4000"/><circle cx="998.9" cy="1199.9" r="5.2" fill="#ff5500"/><circle cx="990.5" cy="1164.8" r="5.2" fill="#ff5500"/><circle cx="995.6" cy="1218.3" r="5.1" fill="#ff6a00"/><circle cx="995.8" cy="1213.4" r="5.3" fill="#ff2a00"/><circle cx="977.9" cy="1222.1" r="5.2" fill="#ff4000"/><circle cx="1017.1" cy="1172.6" r="4.9" fill="#ffbf00"/><circle cx="1018.7" cy="1163.2" r="4.9" fill="#ffbf00"/><circle cx="1019.4" cy="1164.0" r="4.9" fill="#ffbf00"/><circle cx="1020.1" cy="1181.6" r="5.0" fill="#ff9500"/><circle cx="1021.2" cy="1174.4" r="5.0" fill="#ffaa00"/><circle cx="1022.9" cy="1174.3" r="4.9" fill="#ffbf00"/><circle cx="1023.2" cy="1190.1" r="5.0" fill="#ff9500"/><circle cx="1024.5" cy="1187.6" r="4.9" fill="#ffbf00"/><circle cx="1025.6" cy="1187.3" r="5.0" fill="#ffaa00"/><circle cx="1026.8" cy="1201.6" r="4.9" fill="#ffbf00"/><circle cx="1027.1" cy="1185.2" r="4.9" fill="#ffbf00"/><circle cx="1028.8" cy="1208.9" r="4.9" fill="#ffbf00"/><circle cx="1030.0" cy="1208.7" r="5.0" fill="#ff9500"/><circle cx="1030.2" cy="1205.6" r="4.9" fill="#ffbf00"/><circle cx="1031.8" cy="1202.8" r="4.8" fill="#ffea00"/><circle cx="1032.1" cy="1200.1" r="5.0" fill="#ff9500"/><circle cx="1033.3" cy="1217.9" r="4.9" fill="#ffbf00"/><circle cx="1035.0" cy="1215.4" r="5.0" fill="#ffaa00"/><circle cx="1035.7" cy="1229.6" r="4.9" fill="#ffbf00"/><circle cx="1036.6" cy="1215.6" r="5.0" fill="#ffaa00"/><circle cx="1037.4" cy="1225.0" r="5.0" fill="#ffaa00"/><circle cx="1038.9" cy="1238.5" r="4.9" fill="#ffbf00"/><circle cx="1039.9" cy="1227.9" r="4.9" fill="#ffd400"/><circle cx="1040.3" cy="1226.3" r="4.9" fill="#ffd400"/><circle cx="1041.9" cy="1241.7" r="4.8" fill="#ffea00"/><circle cx="1042.6" cy="1254.6" r="4.9" fill="#ffbf00"/><circle cx="1044.0" cy="1255.5" r="5.0" fill="#ff9500"/><circle cx="1044.4" cy="1258.6" r="4.8" fill="#ffea00"/><circle cx="1045.4" cy="1257.2" r="5.0" fill="#ffaa00"/><circle cx="1046.6" cy="1261.6" r="4.9" fill="#ffbf00"/><circle cx="1047.2" cy="1259.7" r="4.9" fill="#ffbf00"/><circle cx="1048.2" cy="1270.7" r="4.9" fill="#ffbf00"/><circle cx="1049.6" cy="1267.4" r="5.0" fill="#ffaa00"/><circle cx="1050.4" cy="1262.7" r="5.1" fill="#ff6a00"/><circle cx="1051.6" cy="1278.6" r="4.9" fill="#ffbf00"/><circle cx="1052.5" cy="1272.3" r="4.9" fill="#ffd400"/><circle cx="1040.0" cy="1179.6" r="5.1" fill="#ff8000"/><circle cx="1041.0" cy="1191.0" r="5.1" fill="#ff8000"/><circle cx="1049.0" cy="1208.1" r="5.1" fill="#ff5500"/><circle cx="1050.0" cy="1199.5" r="5.2" fill="#ff4000"/><circle cx="1048.0" cy="1230.9" r="5.2" fill="#ff4000"/><circle cx="1044.0" cy="1228.0" r="5.1" fill="#ff8000"/><circle cx="1035.0" cy="1219.5" r="5.0" fill="#ffaa00"/><circle cx="1047.1" cy="1144.0" r="5.4" fill="#ea0000"/><circle cx="1121.1" cy="1131.6" r="5.4" fill="#ff0000"/><circle cx="1092.1" cy="1173.0" r="5.4" fill="#ea0000"/><circle cx="1068.3" cy="1120.4" r="5.4" fill="#ea0000"/><circle cx="1083.5" cy="1169.4" r="5.4" fill="#ff0000"/><circle cx="1116.7" cy="1160.3" r="5.5" fill="#d40000"/><circle cx="1118.9" cy="1154.2" r="5.4" fill="#ff0000"/><circle cx="1102.0" cy="1162.4" r="5.4" fill="#ff0000"/><circle cx="1092.3" cy="1117.4" r="5.3" fill="#ff1500"/><circle cx="1096.8" cy="1116.4" r="5.5" fill="#d40000"/><circle cx="1122.3" cy="1133.1" r="5.4" fill="#ea0000"/><circle cx="1086.9" cy="1141.3" r="5.4" fill="#ff0000"/><circle cx="1087.4" cy="1126.2" r="5.4" fill="#ea0000"/><circle cx="1057.8" cy="1107.8" r="5.3" fill="#ff1500"/><circle cx="1078.4" cy="1143.7" r="5.4" fill="#ff0000"/><circle cx="1118.0" cy="1136.6" r="5.4" fill="#ea0000"/><circle cx="1127.6" cy="1162.3" r="5.4" fill="#ea0000"/><circle cx="1077.4" cy="1131.4" r="5.4" fill="#ff0000"/><circle cx="1111.8" cy="1135.9" r="5.4" fill="#ea0000"/><circle cx="1113.4" cy="1123.5" r="5.4" fill="#ff0000"/><circle cx="1102.1" cy="1178.2" r="5.4" fill="#ea0000"/><circle cx="1083.6" cy="1160.5" r="5.3" fill="#ff1500"/><circle cx="1130.3" cy="1112.1" r="5.5" fill="#bf0000"/><circle cx="1106.9" cy="1134.0" r="5.4" fill="#ff0000"/><circle cx="1090.8" cy="1125.7" r="5.5" fill="#d40000"/><circle cx="1084.2" cy="1175.5" r="5.4" fill="#ff0000"/><circle cx="1051.1" cy="1141.5" r="5.4" fill="#ff0000"/><circle cx="1127.6" cy="1121.4" r="5.4" fill="#ea0000"/><circle cx="1077.5" cy="1167.9" r="5.4" fill="#ff0000"/><circle cx="1107.6" cy="1114.2" r="5.4" fill="#ea0000"/><circle cx="1085.9" cy="1114.0" r="5.4" fill="#ea0000"/><circle cx="1133.6" cy="1168.5" r="5.3" fill="#ff1500"/><circle cx="1106.8" cy="1149.1" r="5.4" fill="#ea0000"/><circle cx="1118.1" cy="1143.6" r="5.4" fill="#ea0000"/><circle cx="1083.7" cy="1131.2" r="5.4" fill="#ff0000"/><circle cx="1065.1" cy="1148.2" r="5.5" fill="#bf0000"/><circle cx="1128.7" cy="1164.5" r="5.4" fill="#ea0000"/><circle cx="1069.7" cy="1107.3" r="5.4" fill="#ff0000"/><circle cx="1081.8" cy="1174.3" r="5.4" fill="#ea0000"/><circle cx="1063.7" cy="1177.3" r="5.4" fill="#ea0000"/><circle cx="1090.1" cy="1170.8" r="5.5" fill="#d40000"/><circle cx="1048.5" cy="1133.6" r="5.4" fill="#ea0000"/><circle cx="1120.1" cy="1177.7" r="5.4" fill="#ea0000"/><circle cx="1052.5" cy="1133.2" r="5.4" fill="#ea0000"/><circle cx="1055.8" cy="1106.5" r="5.4" fill="#ff0000"/><circle cx="1081.6" cy="1162.6" r="5.4" fill="#ea0000"/><circle cx="1112.3" cy="1177.6" r="5.3" fill="#ff1500"/><circle cx="1052.0" cy="1163.0" r="5.5" fill="#d40000"/><circle cx="1105.8" cy="1154.7" r="5.3" fill="#ff1500"/><circle cx="1051.4" cy="1126.4" r="5.4" fill="#ea0000"/><circle cx="1058.2" cy="1133.2" r="5.5" fill="#d40000"/><circle cx="1128.3" cy="1123.3" r="5.4" fill="#ea0000"/><circle cx="1052.7" cy="1119.3" r="5.4" fill="#ea0000"/><circle cx="1126.2" cy="1139.5" r="5.4" fill="#ff0000"/><circle cx="1080.3" cy="1131.5" r="5.4" fill="#ea0000"/><circle cx="1046.6" cy="1135.0" r="5.6" fill="#aa0000"/><circle cx="1047.0" cy="1148.3" r="5.4" fill="#ff0000"/><circle cx="1048.4" cy="1135.7" r="5.5" fill="#bf0000"/><circle cx="1049.3" cy="1135.7" r="5.6" fill="#aa0000"/><circle cx="1049.5" cy="1140.3" r="5.4" fill="#ff0000"/><circle cx="1050.3" cy="1144.7" r="5.5" fill="#bf0000"/><circle cx="1051.4" cy="1136.0" r="5.4" fill="#ff0000"/><circle cx="1052.3" cy="1136.4" r="5.4" fill="#ea0000"/><circle cx="1053.5" cy="1128.1" r="5.5" fill="#bf0000"/><circle cx="1053.7" cy="1127.5" r="5.4" fill="#ea0000"/><circle cx="1054.7" cy="1136.1" r="5.6" fill="#aa0000"/><circle cx="1055.8" cy="1122.8" r="5.4" fill="#ea0000"/><circle cx="1056.8" cy="1127.1" r="5.5" fill="#d40000"/><circle cx="1057.3" cy="1122.2" r="5.5" fill="#d40000"/><circle cx="1058.0" cy="1132.6" r="5.6" fill="#aa0000"/><circle cx="1059.0" cy="1129.2" r="5.5" fill="#d40000"/><circle cx="1060.1" cy="1125.0" r="5.5" fill="#d40000"/><circle cx="1061.0" cy="1128.1" r="5.6" fill="#aa0000"/><circle cx="1061.8" cy="1122.1" r="5.4" fill="#ea0000"/><circle cx="1062.1" cy="1126.2" r="5.5" fill="#d40000"/><circle cx="1063.1" cy="1125.8" r="5.4" fill="#ea0000"/><circle cx="1063.9" cy="1122.9" r="5.5" fill="#d40000"/><circle cx="1065.2" cy="1134.6" r="5.4" fill="#ea0000"/><circle cx="1065.9" cy="1137.2" r="5.5" fill="#bf0000"/><circle cx="1066.5" cy="1127.5" r="5.7" fill="#6a0000"/><circle cx="1067.8" cy="1138.8" r="5.6" fill="#aa0000"/><circle cx="1068.4" cy="1132.2" r="5.3" fill="#ff1500"/><circle cx="1068.9" cy="1135.5" r="5.5" fill="#d40000"/><circle cx="1070.4" cy="1124.9" r="5.6" fill="#aa0000"/><circle cx="1071.1" cy="1132.7" r="5.4" fill="#ea0000"/><circle cx="1071.4" cy="1136.9" r="5.6" fill="#aa0000"/><circle cx="1072.2" cy="1129.3" r="5.5" fill="#bf0000"/><circle cx="1072.9" cy="1127.5" r="5.6" fill="#aa0000"/><circle cx="1074.5" cy="1139.3" r="5.4" fill="#ea0000"/><circle cx="1075.0" cy="1130.4" r="5.5" fill="#d40000"/><circle cx="1075.4" cy="1140.4" r="5.6" fill="#aa0000"/><circle cx="1076.9" cy="1134.0" r="5.5" fill="#d40000"/><circle cx="1077.5" cy="1140.5" r="5.6" fill="#aa0000"/><circle cx="1078.6" cy="1136.1" r="5.4" fill="#ea0000"/><circle cx="1078.9" cy="1125.0" r="5.4" fill="#ea0000"/><circle cx="1079.9" cy="1136.3" r="5.3" fill="#ff1500"/><circle cx="1080.8" cy="1128.2" r="5.4" fill="#ea0000"/><circle cx="1081.8" cy="1136.5" r="5.4" fill="#ea0000"/><circle cx="1082.6" cy="1130.5" r="5.6" fill="#aa0000"/><circle cx="1083.2" cy="1125.5" r="5.5" fill="#bf0000"/><circle cx="1084.2" cy="1136.1" r="5.4" fill="#ea0000"/><circle cx="1085.5" cy="1119.6" r="5.5" fill="#d40000"/><circle cx="1086.2" cy="1133.8" r="5.6" fill="#aa0000"/><circle cx="1086.8" cy="1128.9" r="5.5" fill="#bf0000"/><circle cx="1087.6" cy="1128.1" r="5.5" fill="#bf0000"/><circle cx="1088.4" cy="1129.2" r="5.5" fill="#d40000"/><circle cx="1089.4" cy="1130.4" r="5.5" fill="#bf0000"/><circle cx="1090.5" cy="1126.7" r="5.5" fill="#d40000"/><circle cx="1090.9" cy="1116.3" r="5.6" fill="#950000"/><circle cx="1091.7" cy="1122.7" r="5.6" fill="#aa0000"/><circle cx="1092.5" cy="1128.0" r="5.4" fill="#ea0000"/><circle cx="1093.3" cy="1122.6" r="5.6" fill="#aa0000"/><circle cx="1094.5" cy="1117.9" r="5.6" fill="#aa0000"/><circle cx="1095.0" cy="1112.4" r="5.4" fill="#ff0000"/><circle cx="1096.0" cy="1120.3" r="5.5" fill="#d40000"/><circle cx="1097.2" cy="1120.7" r="5.4" fill="#ea0000"/><circle cx="1097.5" cy="1121.4" r="5.5" fill="#bf0000"/><circle cx="1098.4" cy="1120.4" r="5.5" fill="#d40000"/><circle cx="1099.6" cy="1124.9" r="5.6" fill="#aa0000"/><circle cx="1100.5" cy="1122.8" r="5.5" fill="#bf0000"/><circle cx="1101.3" cy="1111.5" r="5.4" fill="#ea0000"/><circle cx="1101.5" cy="1124.9" r="5.7" fill="#6a0000"/><circle cx="1103.1" cy="1125.0" r="5.6" fill="#950000"/><circle cx="1103.9" cy="1118.9" r="5.4" fill="#ff0000"/><circle cx="1104.1" cy="1116.1" r="5.7" fill="#800000"/><circle cx="1105.2" cy="1115.7" r="5.5" fill="#bf0000"/><circle cx="1106.3" cy="1119.9" r="5.4" fill="#ea0000"/><circle cx="1106.6" cy="1112.6" r="5.5" fill="#bf0000"/><circle cx="1108.2" cy="1114.5" r="5.6" fill="#aa0000"/><circle cx="1108.2" cy="1120.8" r="5.5" fill="#d40000"/><circle cx="1109.4" cy="1118.7" r="5.7" fill="#800000"/><circle cx="1110.6" cy="1110.7" r="5.4" fill="#ff0000"/><circle cx="1111.5" cy="1110.8" r="5.5" fill="#d40000"/><circle cx="1111.7" cy="1119.4" r="5.5" fill="#d40000"/><circle cx="1113.1" cy="1123.1" r="5.5" fill="#d40000"/><circle cx="1113.7" cy="1121.0" r="5.5" fill="#d40000"/><circle cx="1114.4" cy="1115.1" r="5.5" fill="#bf0000"/><circle cx="1115.7" cy="1125.4" r="5.5" fill="#d40000"/><circle cx="1115.8" cy="1113.7" r="5.4" fill="#ea0000"/><circle cx="1117.0" cy="1117.8" r="5.6" fill="#950000"/><circle cx="1118.2" cy="1123.1" r="5.5" fill="#d40000"/><circle cx="1118.6" cy="1114.0" r="5.6" fill="#aa0000"/><circle cx="1119.2" cy="1117.1" r="5.5" fill="#bf0000"/><circle cx="1120.2" cy="1109.1" r="5.4" fill="#ea0000"/><circle cx="1121.3" cy="1120.1" r="5.5" fill="#bf0000"/><circle cx="1122.4" cy="1112.4" r="5.6" fill="#aa0000"/><circle cx="1122.6" cy="1118.9" r="5.6" fill="#aa0000"/><circle cx="1123.5" cy="1119.6" r="5.6" fill="#aa0000"/><circle cx="1124.6" cy="1117.3" r="5.6" fill="#aa0000"/><circle cx="1125.6" cy="1109.9" r="5.5" fill="#d40000"/><circle cx="1126.1" cy="1119.3" r="5.7" fill="#6a0000"/><circle cx="1127.4" cy="1112.5" r="5.5" fill="#d40000"/><circle cx="1127.6" cy="1105.7" r="5.5" fill="#bf0000"/><circle cx="1128.6" cy="1118.7" r="5.6" fill="#aa0000"/><circle cx="1129.7" cy="1115.3" r="5.4" fill="#ea0000"/><circle cx="1124.7" cy="1108.0" r="5.6" fill="#950000"/><circle cx="1124.9" cy="1099.4" r="5.9" fill="#2a0000"/><circle cx="1125.7" cy="1104.1" r="5.7" fill="#6a0000"/><circle cx="1126.7" cy="1104.2" r="5.8" fill="#550000"/><circle cx="1127.4" cy="1101.4" r="5.6" fill="#950000"/><circle cx="1127.7" cy="1103.2" r="5.8" fill="#400000"/><circle cx="1128.7" cy="1099.0" r="5.7" fill="#6a0000"/><circle cx="1129.1" cy="1101.5" r="5.7" fill="#800000"/><circle cx="1130.1" cy="1089.8" r="5.6" fill="#950000"/><circle cx="1130.9" cy="1092.4" r="5.8" fill="#550000"/><circle cx="1131.8" cy="1104.1" r="5.7" fill="#800000"/><circle cx="1132.1" cy="1101.7" r="5.7" fill="#800000"/><circle cx="1133.1" cy="1101.6" r="5.7" fill="#6a0000"/><circle cx="1133.6" cy="1094.9" r="5.8" fill="#550000"/><circle cx="1134.7" cy="1090.5" r="5.7" fill="#6a0000"/><circle cx="1134.8" cy="1094.5" r="5.8" fill="#550000"/><circle cx="1135.5" cy="1092.1" r="5.7" fill="#800000"/><circle cx="1136.2" cy="1093.4" r="5.8" fill="#550000"/><circle cx="1137.0" cy="1098.4" r="5.7" fill="#6a0000"/><circle cx="1138.2" cy="1089.0" r="5.7" fill="#6a0000"/><circle cx="1138.7" cy="1095.5" r="5.7" fill="#800000"/><circle cx="1139.2" cy="1096.6" r="5.8" fill="#400000"/><circle cx="1140.2" cy="1092.7" r="5.6" fill="#950000"/><circle cx="1140.9" cy="1089.1" r="5.7" fill="#800000"/><circle cx="1141.6" cy="1101.3" r="5.7" fill="#800000"/><circle cx="1142.5" cy="1084.1" r="5.7" fill="#800000"/><circle cx="1143.0" cy="1084.5" r="5.8" fill="#550000"/><circle cx="1143.5" cy="1084.0" r="5.7" fill="#800000"/><circle cx="1144.7" cy="1096.7" r="5.8" fill="#550000"/><circle cx="1145.3" cy="1096.8" r="5.8" fill="#550000"/><circle cx="1145.9" cy="1093.4" r="5.7" fill="#800000"/><circle cx="1146.6" cy="1093.6" r="5.7" fill="#800000"/><circle cx="1147.0" cy="1097.2" r="5.7" fill="#800000"/><circle cx="1147.8" cy="1095.0" r="5.8" fill="#550000"/><circle cx="1148.7" cy="1089.9" r="5.7" fill="#6a0000"/><circle cx="1149.7" cy="1089.5" r="5.8" fill="#550000"/><circle cx="1149.9" cy="1097.9" r="5.6" fill="#950000"/><circle cx="1150.9" cy="1088.9" r="5.5" fill="#bf0000"/><circle cx="1151.6" cy="1094.0" r="5.8" fill="#550000"/><circle cx="1152.4" cy="1097.6" r="5.7" fill="#800000"/><circle cx="1153.3" cy="1099.1" r="5.7" fill="#6a0000"/><circle cx="1153.4" cy="1093.5" r="5.8" fill="#400000"/><circle cx="1154.1" cy="1097.3" r="5.7" fill="#6a0000"/><circle cx="1155.5" cy="1084.8" r="5.7" fill="#800000"/><circle cx="1155.9" cy="1088.3" r="5.7" fill="#800000"/><circle cx="1156.7" cy="1097.5" r="5.7" fill="#6a0000"/><circle cx="1157.1" cy="1086.2" r="5.7" fill="#6a0000"/><circle cx="1157.9" cy="1098.3" r="5.6" fill="#aa0000"/><circle cx="1159.1" cy="1087.2" r="5.7" fill="#800000"/><circle cx="1159.1" cy="1086.8" r="5.7" fill="#6a0000"/><circle cx="1160.2" cy="1093.1" r="5.7" fill="#800000"/><circle cx="1160.8" cy="1096.8" r="5.7" fill="#800000"/><circle cx="1161.8" cy="1088.1" r="5.7" fill="#800000"/><circle cx="1162.1" cy="1092.2" r="5.7" fill="#6a0000"/><circle cx="1162.7" cy="1090.9" r="5.7" fill="#800000"/><circle cx="1163.5" cy="1093.0" r="5.6" fill="#950000"/><circle cx="1164.6" cy="1089.6" r="5.6" fill="#aa0000"/><circle cx="1165.1" cy="1098.3" r="5.8" fill="#550000"/><circle cx="1165.9" cy="1085.9" r="5.8" fill="#400000"/><circle cx="1166.5" cy="1097.5" r="5.7" fill="#6a0000"/><circle cx="1167.5" cy="1088.2" r="5.7" fill="#6a0000"/><circle cx="1167.7" cy="1099.8" r="5.6" fill="#950000"/><circle cx="1168.8" cy="1092.3" r="5.7" fill="#800000"/><circle cx="1169.6" cy="1086.0" r="5.7" fill="#6a0000"/><circle cx="1170.0" cy="1102.4" r="5.7" fill="#6a0000"/><circle cx="1171.3" cy="1086.3" r="5.6" fill="#950000"/><circle cx="1171.4" cy="1092.2" r="5.7" fill="#800000"/><circle cx="1172.3" cy="1098.7" r="5.8" fill="#550000"/><circle cx="1173.2" cy="1095.3" r="5.6" fill="#950000"/><circle cx="1173.9" cy="1094.1" r="5.8" fill="#550000"/><circle cx="1174.2" cy="1092.6" r="5.7" fill="#6a0000"/><circle cx="1175.2" cy="1096.2" r="5.6" fill="#950000"/><circle cx="1175.6" cy="1099.5" r="5.6" fill="#950000"/><circle cx="1176.4" cy="1092.4" r="5.6" fill="#950000"/><circle cx="1177.1" cy="1091.2" r="5.6" fill="#950000"/><circle cx="1178.0" cy="1106.7" r="5.7" fill="#800000"/><circle cx="1179.1" cy="1094.6" r="5.8" fill="#550000"/><circle cx="1179.6" cy="1095.8" r="5.7" fill="#800000"/><circle cx="1180.3" cy="1109.3" r="5.7" fill="#6a0000"/><circle cx="1181.2" cy="1096.5" r="5.7" fill="#6a0000"/><circle cx="1181.7" cy="1101.4" r="5.6" fill="#950000"/><circle cx="1180.0" cy="1108.3" r="5.7" fill="#6a0000"/><circle cx="1181.0" cy="1116.9" r="5.7" fill="#6a0000"/><circle cx="1182.0" cy="1128.3" r="5.7" fill="#800000"/><circle cx="1155.0" cy="1128.3" r="5.7" fill="#800000"/><circle cx="1178.0" cy="1094.1" r="5.7" fill="#800000"/><circle cx="1182.0" cy="1159.7" r="5.5" fill="#bf0000"/><circle cx="1182.0" cy="1168.2" r="5.7" fill="#800000"/><circle cx="1182.0" cy="1179.6" r="5.6" fill="#aa0000"/><circle cx="1182.0" cy="1191.0" r="5.7" fill="#800000"/><circle cx="1182.0" cy="1199.5" r="5.5" fill="#bf0000"/><circle cx="1182.0" cy="1213.8" r="5.6" fill="#950000"/><circle cx="1182.0" cy="1225.2" r="5.7" fill="#800000"/><circle cx="1182.0" cy="1236.6" r="5.7" fill="#800000"/><circle cx="1182.0" cy="1245.1" r="5.6" fill="#aa0000"/><circle cx="1182.0" cy="1253.7" r="5.5" fill="#bf0000"/><circle cx="1182.0" cy="1265.1" r="5.6" fill="#950000"/><circle cx="1182.0" cy="1273.6" r="5.5" fill="#bf0000"/><circle cx="1182.0" cy="1282.2" r="5.6" fill="#aa0000"/><circle cx="1182.0" cy="1290.8" r="5.7" fill="#800000"/><circle cx="1182.0" cy="1296.5" r="5.6" fill="#aa0000"/><circle cx="1182.0" cy="1302.1" r="5.5" fill="#bf0000"/><circle cx="1182.0" cy="1306.4" r="5.7" fill="#800000"/><circle cx="1182.0" cy="1310.7" r="5.5" fill="#bf0000"/><circle cx="1182.0" cy="1313.5" r="5.2" fill="#ff4000"/><circle cx="1182.0" cy="1316.4" r="5.1" fill="#ff8000"/><circle cx="1182.0" cy="1319.2" r="4.9" fill="#ffbf00"/><circle cx="1182.5" cy="1322.1" r="4.7" fill="#ffff40"/><circle cx="1182.0" cy="1324.4" r="5.9" fill="#150000"/><circle cx="1183.0" cy="1325.0" r="5.9" fill="#150000"/><circle cx="1184.0" cy="1325.6" r="5.9" fill="#150000"/><circle cx="1185.0" cy="1326.1" r="5.9" fill="#150000"/><circle cx="1186.0" cy="1326.5" r="5.9" fill="#150000"/><circle cx="1187.0" cy="1326.6" r="5.9" fill="#150000"/><circle cx="1188.0" cy="1326.6" r="5.9" fill="#150000"/><circle cx="1189.0" cy="1326.5" r="5.9" fill="#150000"/><circle cx="1190.0" cy="1326.1" r="5.9" fill="#150000"/><circle cx="1191.0" cy="1325.6" r="5.9" fill="#150000"/><circle cx="1192.0" cy="1325.0" r="4.3" fill="#ffffff"/><circle cx="1193.0" cy="1324.4" r="4.3" fill="#ffffff"/></g>
<g fill="#0cc65a" stroke="#06a845" stroke-width="0.45"><use href="#gs" x="217.2" y="1265.9"/><use href="#gs" x="421.7" y="1265.5"/><use href="#gs" x="1050.2" y="1234.9"/><use href="#gs" x="1039.1" y="1275.5"/><use href="#gs" x="524.4" y="1220.4"/><use href="#gs" x="834.9" y="1280.5"/><use href="#gs" x="438.6" y="1237.8"/><use href="#gs" x="695.2" y="1269.6"/><use href="#gs" x="1021.8" y="1240.3"/><use href="#gs" x="771.4" y="1261.4"/><use href="#gs" x="785.6" y="1258.0"/><use href="#gs" x="226.3" y="1243.0"/><use href="#gs" x="591.2" y="1258.6"/><use href="#gs" x="1096.3" y="1252.4"/><use href="#gs" x="669.9" y="1274.8"/><use href="#gs" x="196.4" y="1239.8"/><use href="#gs" x="470.5" y="1259.8"/><use href="#gs" x="683.9" y="1253.6"/><use href="#gs" x="475.6" y="1256.1"/><use href="#gs" x="474.4" y="1264.0"/><use href="#gs" x="93.4" y="1280.8"/><use href="#gs" x="652.4" y="1240.3"/><use href="#gs" x="544.4" y="1250.3"/><use href="#gs" x="877.1" y="1285.6"/><use href="#gs" x="660.9" y="1266.7"/><use href="#gs" x="184.7" y="1246.2"/><use href="#gs" x="221.3" y="1211.8"/><use href="#gs" x="133.5" y="1291.9"/><use href="#gs" x="1018.1" y="1265.2"/><use href="#gs" x="523.2" y="1290.7"/><use href="#gs" x="466.4" y="1269.6"/><use href="#gs" x="99.0" y="1287.5"/><use href="#gs" x="948.6" y="1235.8"/><use href="#gs" x="583.7" y="1271.6"/><use href="#gs" x="723.0" y="1206.1"/><use href="#gs" x="603.6" y="1244.9"/><use href="#gs" x="535.4" y="1223.7"/><use href="#gs" x="985.2" y="1265.2"/><use href="#gs" x="453.5" y="1256.2"/><use href="#gs" x="427.0" y="1270.2"/><use href="#gs" x="545.8" y="1271.3"/><use href="#gs" x="255.6" y="1316.2"/><use href="#gs" x="250.7" y="1267.7"/><use href="#gs" x="178.6" y="1282.4"/><use href="#gs" x="761.5" y="1243.6"/><use href="#gs" x="753.8" y="1279.1"/><use href="#gs" x="126.6" y="1270.5"/><use href="#gs" x="561.0" y="1263.3"/><use href="#gs" x="88.2" y="1226.6"/><use href="#gs" x="255.4" y="1276.7"/><use href="#gs" x="523.5" y="1239.5"/><use href="#gs" x="199.5" y="1271.6"/><use href="#gs" x="762.8" y="1263.1"/><use href="#gs" x="786.5" y="1220.1"/><use href="#gs" x="802.7" y="1287.1"/><use href="#gs" x="179.0" y="1238.3"/><use href="#gs" x="806.2" y="1230.0"/><use href="#gs" x="1158.2" y="1298.8"/><use href="#gs" x="908.0" y="1267.3"/><use href="#gs" x="551.7" y="1287.5"/><use href="#gs" x="429.3" y="1237.3"/><use href="#gs" x="988.4" y="1255.2"/><use href="#gs" x="885.5" y="1284.7"/><use href="#gs" x="196.7" y="1245.5"/><use href="#gs" x="385.2" y="1219.6"/><use href="#gs" x="413.8" y="1243.3"/><use href="#gs" x="587.6" y="1228.6"/><use href="#gs" x="1129.4" y="1266.6"/><use href="#gs" x="936.1" y="1248.4"/><use href="#gs" x="770.8" y="1284.7"/><use href="#gs" x="706.6" y="1245.6"/><use href="#gs" x="607.7" y="1230.9"/><use href="#gs" x="222.5" y="1242.6"/><use href="#gs" x="813.2" y="1254.7"/><use href="#gs" x="881.9" y="1274.9"/><use href="#gs" x="744.0" y="1247.8"/><use href="#gs" x="761.3" y="1267.9"/><use href="#gs" x="397.3" y="1278.6"/><use href="#gs" x="174.8" y="1270.9"/><use href="#gs" x="766.4" y="1284.9"/><use href="#gs" x="598.5" y="1213.7"/><use href="#gs" x="328.3" y="1289.6"/><use href="#gs" x="590.2" y="1206.8"/><use href="#gs" x="342.2" y="1266.1"/><use href="#gs" x="293.8" y="1260.4"/><use href="#gs" x="816.6" y="1220.6"/><use href="#gs" x="292.8" y="1295.1"/><use href="#gs" x="974.0" y="1228.3"/><use href="#gs" x="1160.6" y="1250.2"/><use href="#gs" x="970.0" y="1239.3"/><use href="#gs" x="998.5" y="1261.3"/><use href="#gs" x="316.2" y="1282.0"/><use href="#gs" x="463.4" y="1268.2"/><use href="#gs" x="745.9" y="1227.3"/><use href="#gs" x="1141.3" y="1283.7"/><use href="#gs" x="376.0" y="1258.1"/><use href="#gs" x="1164.5" y="1300.5"/><use href="#gs" x="1025.0" y="1243.4"/><use href="#gs" x="749.1" y="1258.7"/><use href="#gs" x="949.1" y="1238.4"/><use href="#gs" x="1034.4" y="1237.3"/><use href="#gs" x="642.3" y="1286.3"/><use href="#gs" x="671.0" y="1243.1"/><use href="#gs" x="927.5" y="1252.3"/><use href="#gs" x="179.6" y="1270.5"/><use href="#gs" x="123.7" y="1248.4"/><use href="#gs" x="805.9" y="1269.3"/><use href="#gs" x="140.7" y="1258.4"/><use href="#gs" x="922.4" y="1259.9"/><use href="#gs" x="665.1" y="1279.6"/><use href="#gs" x="957.2" y="1228.2"/><use href="#gs" x="87.2" y="1229.5"/><use href="#gs" x="1097.2" y="1288.8"/><use href="#gs" x="310.6" y="1300.8"/><use href="#gs" x="1016.2" y="1242.1"/><use href="#gs" x="116.6" y="1265.0"/><use href="#gs" x="1025.4" y="1237.2"/><use href="#gs" x="535.9" y="1256.4"/><use href="#gs" x="216.0" y="1258.0"/><use href="#gs" x="383.3" y="1232.2"/><use href="#gs" x="301.2" y="1232.6"/><use href="#gs" x="379.5" y="1249.1"/><use href="#gs" x="344.6" y="1275.1"/><use href="#gs" x="886.9" y="1240.8"/><use href="#gs" x="327.7" y="1296.9"/><use href="#gs" x="1120.1" y="1248.6"/><use href="#gs" x="434.3" y="1239.0"/><use href="#gs" x="815.9" y="1280.4"/><use href="#gs" x="349.7" y="1213.6"/><use href="#gs" x="901.6" y="1250.4"/><use href="#gs" x="287.4" y="1272.0"/><use href="#gs" x="391.3" y="1237.2"/><use href="#gs" x="95.0" y="1237.8"/><use href="#gs" x="341.9" y="1222.3"/><use href="#gs" x="1068.6" y="1288.1"/><use href="#gs" x="703.4" y="1258.4"/><use href="#gs" x="548.9" y="1260.3"/><use href="#gs" x="981.0" y="1286.5"/><use href="#gs" x="129.2" y="1272.6"/><use href="#gs" x="973.3" y="1276.1"/><use href="#gs" x="432.7" y="1250.7"/><use href="#gs" x="294.9" y="1242.2"/><use href="#gs" x="447.9" y="1273.6"/><use href="#gs" x="722.9" y="1275.0"/><use href="#gs" x="810.2" y="1244.9"/><use href="#gs" x="310.9" y="1249.0"/><use href="#gs" x="1007.5" y="1274.3"/><use href="#gs" x="990.1" y="1222.4"/><use href="#gs" x="290.1" y="1259.4"/><use href="#gs" x="738.5" y="1239.4"/><use href="#gs" x="674.8" y="1248.1"/><use href="#gs" x="541.4" y="1265.6"/><use href="#gs" x="485.6" y="1285.2"/><use href="#gs" x="546.3" y="1264.6"/><use href="#gs" x="969.3" y="1238.8"/><use href="#gs" x="920.6" y="1238.9"/><use href="#gs" x="630.9" y="1255.3"/><use href="#gs" x="89.5" y="1251.6"/><use href="#gs" x="1152.4" y="1265.4"/><use href="#gs" x="818.8" y="1236.2"/><use href="#gs" x="934.4" y="1290.3"/><use href="#gs" x="957.0" y="1215.3"/><use href="#gs" x="778.8" y="1258.2"/><use href="#gs" x="86.4" y="1262.8"/><use href="#gs" x="1099.6" y="1244.1"/><use href="#gs" x="442.2" y="1204.7"/><use href="#gs" x="526.1" y="1267.8"/><use href="#gs" x="92.1" y="1237.1"/><use href="#gs" x="854.3" y="1230.4"/><use href="#gs" x="1162.6" y="1247.3"/><use href="#gs" x="847.9" y="1240.6"/><use href="#gs" x="794.6" y="1252.1"/><use href="#gs" x="821.6" y="1216.8"/><use href="#gs" x="366.0" y="1245.2"/><use href="#gs" x="665.5" y="1211.3"/><use href="#gs" x="410.8" y="1270.5"/><use href="#gs" x="903.9" y="1253.6"/><use href="#gs" x="1054.0" y="1266.0"/><use href="#gs" x="1096.7" y="1290.9"/><use href="#gs" x="329.6" y="1252.7"/><use href="#gs" x="813.5" y="1224.5"/><use href="#gs" x="1033.2" y="1303.3"/><use href="#gs" x="971.6" y="1250.6"/><use href="#gs" x="408.5" y="1275.7"/><use href="#gs" x="1133.3" y="1244.0"/><use href="#gs" x="367.5" y="1262.9"/><use href="#gs" x="946.9" y="1234.1"/><use href="#gs" x="445.7" y="1249.1"/><use href="#gs" x="1026.1" y="1274.6"/><use href="#gs" x="504.9" y="1230.0"/><use href="#gs" x="464.4" y="1263.7"/><use href="#gs" x="1072.1" y="1280.8"/><use href="#gs" x="736.0" y="1239.8"/><use href="#gs" x="354.9" y="1268.0"/><use href="#gs" x="394.1" y="1258.2"/><use href="#gs" x="1151.1" y="1268.9"/><use href="#gs" x="991.0" y="1209.0"/><use href="#gs" x="988.4" y="1258.7"/><use href="#gs" x="111.5" y="1284.5"/><use href="#gs" x="966.9" y="1238.2"/><use href="#gs" x="419.2" y="1269.7"/><use href="#gs" x="941.1" y="1248.4"/><use href="#gs" x="505.7" y="1237.1"/><use href="#gs" x="895.1" y="1247.3"/><use href="#gs" x="436.9" y="1257.8"/><use href="#gs" x="353.8" y="1279.0"/><use href="#gs" x="906.3" y="1296.9"/><use href="#gs" x="589.9" y="1248.3"/><use href="#gs" x="1148.1" y="1246.8"/><use href="#gs" x="648.9" y="1283.3"/><use href="#gs" x="101.2" y="1276.0"/><use href="#gs" x="1114.7" y="1230.8"/><use href="#gs" x="307.6" y="1250.6"/><use href="#gs" x="554.4" y="1238.2"/><use href="#gs" x="374.4" y="1284.1"/><use href="#gs" x="1039.5" y="1288.9"/><use href="#gs" x="167.1" y="1263.7"/><use href="#gs" x="1019.6" y="1260.1"/><use href="#gs" x="520.5" y="1262.8"/><use href="#gs" x="567.1" y="1254.5"/><use href="#gs" x="81.9" y="1257.9"/><use href="#gs" x="467.3" y="1268.4"/><use href="#gs" x="606.0" y="1232.2"/><use href="#gs" x="706.6" y="1282.7"/><use href="#gs" x="1096.9" y="1218.9"/><use href="#gs" x="854.8" y="1279.6"/><use href="#gs" x="705.0" y="1280.8"/><use href="#gs" x="453.6" y="1205.1"/><use href="#gs" x="1061.4" y="1233.2"/><use href="#gs" x="669.4" y="1206.7"/><use href="#gs" x="340.4" y="1263.8"/><use href="#gs" x="1137.2" y="1226.5"/><use href="#gs" x="1134.0" y="1271.3"/><use href="#gs" x="751.1" y="1256.7"/><use href="#gs" x="282.1" y="1301.3"/><use href="#gs" x="219.3" y="1272.3"/><use href="#gs" x="744.7" y="1293.5"/><use href="#gs" x="1118.2" y="1233.4"/><use href="#gs" x="1119.4" y="1286.3"/><use href="#gs" x="1166.5" y="1267.9"/><use href="#gs" x="82.6" y="1224.2"/><use href="#gs" x="632.4" y="1276.8"/><use href="#gs" x="953.8" y="1260.7"/><use href="#gs" x="687.1" y="1276.7"/><use href="#gs" x="300.4" y="1231.0"/><use href="#gs" x="104.2" y="1218.3"/><use href="#gs" x="339.5" y="1257.1"/><use href="#gs" x="1020.1" y="1263.3"/><use href="#gs" x="783.9" y="1216.9"/><use href="#gs" x="326.0" y="1254.0"/><use href="#gs" x="877.1" y="1257.3"/><use href="#gs" x="922.5" y="1234.1"/><use href="#gs" x="585.7" y="1234.8"/><use href="#gs" x="501.8" y="1276.5"/><use href="#gs" x="544.5" y="1278.5"/><use href="#gs" x="433.8" y="1296.1"/><use href="#gs" x="689.0" y="1250.7"/><use href="#gs" x="645.3" y="1241.1"/><use href="#gs" x="1073.7" y="1246.8"/><use href="#gs" x="716.5" y="1232.6"/><use href="#gs" x="547.4" y="1216.4"/><use href="#gs" x="751.9" y="1228.1"/><use href="#gs" x="101.1" y="1216.7"/><use href="#gs" x="307.0" y="1260.0"/><use href="#gs" x="382.8" y="1273.5"/><use href="#gs" x="809.8" y="1275.5"/><use href="#gs" x="204.6" y="1247.9"/><use href="#gs" x="862.4" y="1264.9"/><use href="#gs" x="199.8" y="1296.9"/><use href="#gs" x="840.2" y="1270.3"/><use href="#gs" x="369.0" y="1267.9"/><use href="#gs" x="474.7" y="1280.7"/><use href="#gs" x="371.5" y="1263.9"/><use href="#gs" x="847.5" y="1248.2"/><use href="#gs" x="368.7" y="1280.1"/><use href="#gs" x="983.5" y="1263.7"/><use href="#gs" x="808.4" y="1217.3"/><use href="#gs" x="621.7" y="1269.3"/><use href="#gs" x="1013.8" y="1255.1"/><use href="#gs" x="116.1" y="1265.5"/><use href="#gs" x="407.5" y="1255.8"/><use href="#gs" x="609.8" y="1241.7"/><use href="#gs" x="312.6" y="1270.8"/><use href="#gs" x="670.5" y="1229.2"/><use href="#gs" x="637.0" y="1268.6"/><use href="#gs" x="1067.3" y="1248.6"/><use href="#gs" x="92.0" y="1236.1"/><use href="#gs" x="221.6" y="1270.1"/><use href="#gs" x="762.6" y="1257.6"/><use href="#gs" x="530.0" y="1245.7"/><use href="#gs" x="402.3" y="1244.9"/><use href="#gs" x="339.0" y="1242.4"/><use href="#gs" x="250.5" y="1266.0"/><use href="#gs" x="405.9" y="1249.5"/><use href="#gs" x="657.4" y="1242.2"/><use href="#gs" x="189.1" y="1256.7"/><use href="#gs" x="580.6" y="1277.9"/><use href="#gs" x="1121.6" y="1260.6"/><use href="#gs" x="317.1" y="1303.7"/><use href="#gs" x="845.7" y="1249.9"/><use href="#gs" x="1125.3" y="1237.6"/><use href="#gs" x="87.5" y="1227.9"/><use href="#gs" x="651.6" y="1232.0"/><use href="#gs" x="445.0" y="1254.5"/><use href="#gs" x="1105.6" y="1268.7"/><use href="#gs" x="703.0" y="1269.8"/><use href="#gs" x="903.5" y="1261.1"/><use href="#gs" x="951.1" y="1265.2"/><use href="#gs" x="1062.5" y="1254.5"/><use href="#gs" x="575.3" y="1232.9"/><use href="#gs" x="1069.5" y="1278.4"/><use href="#gs" x="596.9" y="1201.3"/><use href="#gs" x="745.9" y="1255.3"/><use href="#gs" x="496.3" y="1274.7"/><use href="#gs" x="212.0" y="1224.2"/><use href="#gs" x="1007.3" y="1275.1"/><use href="#gs" x="836.3" y="1260.5"/><use href="#gs" x="803.4" y="1263.4"/><use href="#gs" x="1114.0" y="1277.0"/><use href="#gs" x="453.0" y="1215.3"/><use href="#gs" x="272.8" y="1277.2"/><use href="#gs" x="1036.7" y="1255.7"/><use href="#gs" x="844.5" y="1218.4"/><use href="#gs" x="276.8" y="1281.1"/><use href="#gs" x="373.3" y="1246.0"/><use href="#gs" x="415.2" y="1234.0"/><use href="#gs" x="357.0" y="1280.2"/><use href="#gs" x="1072.8" y="1233.6"/><use href="#gs" x="360.1" y="1245.7"/><use href="#gs" x="621.0" y="1264.6"/><use href="#gs" x="198.8" y="1289.4"/><use href="#gs" x="574.1" y="1212.8"/><use href="#gs" x="823.1" y="1265.8"/><use href="#gs" x="290.7" y="1285.9"/><use href="#gs" x="750.5" y="1268.7"/><use href="#gs" x="752.0" y="1259.9"/><use href="#gs" x="560.2" y="1256.6"/><use href="#gs" x="1055.3" y="1238.1"/><use href="#gs" x="98.7" y="1255.2"/><use href="#gs" x="906.1" y="1271.3"/><use href="#gs" x="260.9" y="1225.5"/><use href="#gs" x="250.6" y="1214.8"/><use href="#gs" x="974.2" y="1251.5"/><use href="#gs" x="1075.1" y="1237.3"/><use href="#gs" x="1169.5" y="1232.5"/><use href="#gs" x="623.7" y="1247.5"/><use href="#gs" x="970.8" y="1247.0"/><use href="#gs" x="404.7" y="1223.4"/><use href="#gs" x="738.7" y="1238.0"/><use href="#gs" x="229.3" y="1262.9"/><use href="#gs" x="862.6" y="1283.2"/><use href="#gs" x="796.2" y="1249.0"/><use href="#gs" x="581.4" y="1257.8"/><use href="#gs" x="133.3" y="1273.1"/><use href="#gs" x="727.6" y="1255.6"/><use href="#gs" x="113.3" y="1260.2"/><use href="#gs" x="381.8" y="1246.9"/><use href="#gs" x="757.3" y="1249.2"/><use href="#gs" x="1046.5" y="1239.9"/><use href="#gs" x="130.3" y="1262.7"/><use href="#gs" x="831.6" y="1253.1"/><use href="#gs" x="160.9" y="1259.3"/><use href="#gs" x="199.5" y="1267.0"/><use href="#gs" x="1128.0" y="1224.4"/><use href="#gs" x="200.1" y="1252.0"/><use href="#gs" x="584.6" y="1234.5"/><use href="#gs" x="269.8" y="1232.1"/><use href="#gs" x="841.5" y="1240.8"/><use href="#gs" x="137.7" y="1221.8"/><use href="#gs" x="617.9" y="1260.4"/><use href="#gs" x="188.2" y="1265.2"/><use href="#gs" x="625.9" y="1246.6"/><use href="#gs" x="626.2" y="1217.0"/><use href="#gs" x="696.4" y="1246.7"/><use href="#gs" x="564.3" y="1238.5"/><use href="#gs" x="186.8" y="1263.3"/><use href="#gs" x="609.8" y="1229.1"/><use href="#gs" x="657.6" y="1258.0"/><use href="#gs" x="890.8" y="1290.9"/><use href="#gs" x="560.7" y="1266.5"/><use href="#gs" x="221.1" y="1238.8"/><use href="#gs" x="968.6" y="1214.9"/><use href="#gs" x="1037.6" y="1231.4"/><use href="#gs" x="690.4" y="1232.7"/><use href="#gs" x="598.8" y="1255.9"/><use href="#gs" x="754.3" y="1250.3"/><use href="#gs" x="198.8" y="1249.3"/><use href="#gs" x="755.8" y="1245.1"/><use href="#gs" x="619.8" y="1284.1"/><use href="#gs" x="465.6" y="1247.4"/><use href="#gs" x="653.0" y="1268.1"/><use href="#gs" x="447.9" y="1257.4"/><use href="#gs" x="541.8" y="1264.6"/><use href="#gs" x="355.1" y="1238.5"/><use href="#gs" x="831.5" y="1281.7"/><use href="#gs" x="404.0" y="1235.3"/><use href="#gs" x="797.9" y="1221.5"/><use href="#gs" x="1118.7" y="1231.6"/><use href="#gs" x="252.9" y="1271.9"/><use href="#gs" x="971.9" y="1274.5"/><use href="#gs" x="1167.3" y="1237.6"/><use href="#gs" x="348.6" y="1212.2"/><use href="#gs" x="1088.8" y="1273.4"/><use href="#gs" x="508.1" y="1225.1"/><use href="#gs" x="495.6" y="1214.0"/><use href="#gs" x="426.3" y="1264.4"/><use href="#gs" x="363.1" y="1284.7"/><use href="#gs" x="835.1" y="1226.9"/><use href="#gs" x="212.1" y="1209.5"/><use href="#gs" x="360.2" y="1236.2"/><use href="#gs" x="443.3" y="1222.0"/><use href="#gs" x="609.4" y="1245.2"/><use href="#gs" x="855.3" y="1278.0"/><use href="#gs" x="367.7" y="1232.0"/><use href="#gs" x="757.0" y="1284.2"/><use href="#gs" x="242.5" y="1252.3"/><use href="#gs" x="869.6" y="1240.2"/><use href="#gs" x="854.2" y="1267.9"/><use href="#gs" x="481.6" y="1246.0"/><use href="#gs" x="1158.6" y="1251.4"/><use href="#gs" x="1170.5" y="1302.6"/><use href="#gs" x="342.7" y="1231.1"/><use href="#gs" x="1139.4" y="1211.1"/><use href="#gs" x="203.3" y="1274.9"/><use href="#gs" x="940.5" y="1253.5"/><use href="#gs" x="345.4" y="1243.9"/><use href="#gs" x="648.6" y="1289.6"/><use href="#gs" x="837.1" y="1243.4"/><use href="#gs" x="451.6" y="1257.5"/><use href="#gs" x="239.2" y="1279.0"/><use href="#gs" x="83.3" y="1265.9"/><use href="#gs" x="564.6" y="1242.0"/><use href="#gs" x="723.6" y="1255.4"/><use href="#gs" x="249.5" y="1257.9"/><use href="#gs" x="710.4" y="1259.6"/><use href="#gs" x="1023.6" y="1286.0"/><use href="#gs" x="463.9" y="1259.9"/><use href="#gs" x="657.1" y="1256.5"/><use href="#gs" x="1008.6" y="1263.5"/><use href="#gs" x="1081.5" y="1275.3"/><use href="#gs" x="719.0" y="1217.4"/><use href="#gs" x="913.6" y="1261.8"/><use href="#gs" x="508.0" y="1259.5"/><use href="#gs" x="818.2" y="1268.3"/><use href="#gs" x="424.0" y="1243.3"/><use href="#gs" x="377.6" y="1239.2"/><use href="#gs" x="446.4" y="1271.1"/><use href="#gs" x="919.8" y="1245.2"/><use href="#gs" x="573.8" y="1247.8"/><use href="#gs" x="542.1" y="1265.6"/><use href="#gs" x="647.7" y="1259.3"/><use href="#gs" x="90.7" y="1222.8"/><use href="#gs" x="723.6" y="1258.7"/><use href="#gs" x="102.5" y="1242.7"/><use href="#gs" x="613.6" y="1254.7"/><use href="#gs" x="222.6" y="1287.4"/><use href="#gs" x="187.8" y="1297.8"/><use href="#gs" x="541.7" y="1256.2"/><use href="#gs" x="901.2" y="1265.1"/><use href="#gs" x="625.9" y="1258.3"/><use href="#gs" x="242.0" y="1297.9"/><use href="#gs" x="77.5" y="1242.2"/><use href="#gs" x="1032.7" y="1238.1"/><use href="#gs" x="590.8" y="1255.1"/><use href="#gs" x="940.8" y="1283.4"/><use href="#gs" x="563.8" y="1251.9"/><use href="#gs" x="631.1" y="1225.4"/><use href="#gs" x="552.1" y="1259.9"/><use href="#gs" x="647.1" y="1214.8"/><use href="#gs" x="91.0" y="1231.3"/><use href="#gs" x="164.0" y="1234.3"/><use href="#gs" x="82.6" y="1242.7"/><use href="#gs" x="1166.8" y="1283.5"/><use href="#gs" x="461.1" y="1241.0"/><use href="#gs" x="522.0" y="1247.7"/><use href="#gs" x="1174.9" y="1247.8"/><use href="#gs" x="629.3" y="1221.3"/><use href="#gs" x="559.1" y="1267.6"/><use href="#gs" x="685.2" y="1244.8"/><use href="#gs" x="1130.6" y="1306.2"/><use href="#gs" x="1060.6" y="1222.6"/><use href="#gs" x="812.2" y="1234.2"/><use href="#gs" x="308.4" y="1256.5"/><use href="#gs" x="1126.3" y="1255.8"/><use href="#gs" x="772.0" y="1267.1"/><use href="#gs" x="523.1" y="1247.1"/><use href="#gs" x="692.2" y="1239.3"/><use href="#gs" x="409.4" y="1254.5"/><use href="#gs" x="318.5" y="1269.7"/><use href="#gs" x="519.3" y="1270.9"/><use href="#gs" x="326.5" y="1245.0"/><use href="#gs" x="370.1" y="1243.3"/><use href="#gs" x="808.1" y="1265.4"/><use href="#gs" x="722.9" y="1243.8"/><use href="#gs" x="201.5" y="1296.0"/><use href="#gs" x="108.8" y="1257.4"/><use href="#gs" x="972.4" y="1252.7"/><use href="#gs" x="316.6" y="1257.8"/><use href="#gs" x="284.4" y="1247.0"/><use href="#gs" x="1084.5" y="1258.0"/><use href="#gs" x="1133.6" y="1270.5"/><use href="#gs" x="708.3" y="1226.5"/><use href="#gs" x="752.6" y="1236.1"/><use href="#gs" x="192.2" y="1257.9"/><use href="#gs" x="83.0" y="1246.4"/><use href="#gs" x="719.1" y="1246.5"/><use href="#gs" x="290.2" y="1311.5"/><use href="#gs" x="647.4" y="1257.4"/><use href="#gs" x="611.0" y="1249.4"/><use href="#gs" x="728.5" y="1240.4"/><use href="#gs" x="570.0" y="1239.0"/><use href="#gs" x="208.8" y="1223.8"/><use href="#gs" x="127.5" y="1253.5"/><use href="#gs" x="873.7" y="1275.8"/><use href="#gs" x="114.6" y="1266.5"/><use href="#gs" x="771.1" y="1250.3"/><use href="#gs" x="572.3" y="1228.7"/><use href="#gs" x="251.2" y="1235.7"/><use href="#gs" x="272.3" y="1281.4"/><use href="#gs" x="561.4" y="1239.0"/><use href="#gs" x="975.0" y="1225.7"/><use href="#gs" x="676.6" y="1255.1"/><use href="#gs" x="516.7" y="1284.2"/><use href="#gs" x="876.8" y="1269.4"/><use href="#gs" x="613.8" y="1248.1"/><use href="#gs" x="800.6" y="1287.7"/><use href="#gs" x="423.2" y="1298.7"/><use href="#gs" x="704.5" y="1241.6"/><use href="#gs" x="1121.5" y="1266.8"/><use href="#gs" x="411.7" y="1257.5"/><use href="#gs" x="880.5" y="1254.1"/><use href="#gs" x="950.9" y="1269.0"/><use href="#gs" x="794.2" y="1249.8"/><use href="#gs" x="553.9" y="1259.4"/><use href="#gs" x="241.4" y="1266.8"/><use href="#gs" x="854.6" y="1278.5"/><use href="#gs" x="485.4" y="1260.8"/><use href="#gs" x="796.4" y="1242.6"/><use href="#gs" x="777.0" y="1264.1"/><use href="#gs" x="1107.8" y="1206.2"/><use href="#gs" x="1118.4" y="1232.6"/><use href="#gs" x="563.5" y="1259.3"/><use href="#gs" x="330.8" y="1254.8"/><use href="#gs" x="135.8" y="1267.2"/><use href="#gs" x="1173.0" y="1313.7"/><use href="#gs" x="1009.2" y="1251.6"/><use href="#gs" x="223.6" y="1266.9"/><use href="#gs" x="781.1" y="1232.8"/><use href="#gs" x="491.6" y="1269.9"/><use href="#gs" x="1076.5" y="1258.2"/><use href="#gs" x="99.3" y="1235.6"/><use href="#gs" x="442.6" y="1214.7"/><use href="#gs" x="379.4" y="1248.7"/><use href="#gs" x="806.0" y="1243.0"/><use href="#gs" x="398.4" y="1278.7"/><use href="#gs" x="666.5" y="1241.5"/><use href="#gs" x="318.5" y="1236.6"/><use href="#gs" x="1001.1" y="1306.0"/><use href="#gs" x="365.3" y="1270.2"/><use href="#gs" x="1040.6" y="1237.6"/><use href="#gs" x="694.9" y="1257.5"/><use href="#gs" x="795.8" y="1257.3"/><use href="#gs" x="1145.9" y="1240.7"/><use href="#gs" x="370.9" y="1184.0"/><use href="#gs" x="855.5" y="1211.3"/><use href="#gs" x="1135.7" y="1254.9"/><use href="#gs" x="921.4" y="1258.7"/><use href="#gs" x="227.9" y="1221.9"/><use href="#gs" x="919.4" y="1252.6"/><use href="#gs" x="978.4" y="1229.8"/><use href="#gs" x="1156.2" y="1251.4"/><use href="#gs" x="866.7" y="1234.5"/><use href="#gs" x="1037.8" y="1274.8"/><use href="#gs" x="645.0" y="1269.5"/><use href="#gs" x="440.5" y="1273.5"/><use href="#gs" x="246.4" y="1249.5"/><use href="#gs" x="501.8" y="1214.5"/><use href="#gs" x="211.4" y="1243.7"/><use href="#gs" x="1045.9" y="1238.7"/><use href="#gs" x="174.4" y="1295.5"/><use href="#gs" x="820.8" y="1246.5"/><use href="#gs" x="277.4" y="1278.2"/><use href="#gs" x="243.5" y="1232.2"/><use href="#gs" x="608.6" y="1268.0"/><use href="#gs" x="377.1" y="1245.3"/><use href="#gs" x="491.7" y="1249.5"/><use href="#gs" x="781.5" y="1276.2"/><use href="#gs" x="968.2" y="1254.4"/><use href="#gs" x="315.2" y="1269.4"/><use href="#gs" x="529.2" y="1265.7"/><use href="#gs" x="78.3" y="1303.8"/><use href="#gs" x="682.7" y="1249.7"/><use href="#gs" x="1142.7" y="1237.9"/><use href="#gs" x="1055.2" y="1251.2"/><use href="#gs" x="947.5" y="1245.4"/><use href="#gs" x="635.7" y="1219.5"/><use href="#gs" x="802.2" y="1243.2"/><use href="#gs" x="274.8" y="1252.6"/><use href="#gs" x="628.3" y="1254.7"/><use href="#gs" x="176.6" y="1233.9"/><use href="#gs" x="342.4" y="1219.5"/><use href="#gs" x="1148.2" y="1270.3"/><use href="#gs" x="422.5" y="1260.4"/><use href="#gs" x="1087.0" y="1234.4"/><use href="#gs" x="1111.9" y="1267.7"/><use href="#gs" x="378.7" y="1253.1"/><use href="#gs" x="1091.9" y="1269.3"/><use href="#gs" x="514.2" y="1266.3"/><use href="#gs" x="184.2" y="1249.5"/><use href="#gs" x="740.4" y="1249.3"/><use href="#gs" x="949.3" y="1267.1"/><use href="#gs" x="910.0" y="1263.6"/><use href="#gs" x="638.3" y="1251.8"/><use href="#gs" x="402.8" y="1253.6"/><use href="#gs" x="396.5" y="1265.3"/><use href="#gs" x="551.2" y="1228.4"/><use href="#gs" x="424.0" y="1228.1"/><use href="#gs" x="756.1" y="1236.3"/><use href="#gs" x="732.3" y="1260.6"/><use href="#gs" x="827.0" y="1252.3"/><use href="#gs" x="1157.0" y="1226.2"/><use href="#gs" x="295.5" y="1311.3"/><use href="#gs" x="638.6" y="1241.9"/><use href="#gs" x="842.7" y="1299.8"/><use href="#gs" x="389.6" y="1257.1"/><use href="#gs" x="465.3" y="1278.5"/><use href="#gs" x="762.0" y="1262.8"/><use href="#gs" x="318.3" y="1273.1"/><use href="#gs" x="1090.2" y="1249.5"/><use href="#gs" x="999.4" y="1240.2"/><use href="#gs" x="1012.7" y="1279.8"/><use href="#gs" x="1037.0" y="1267.0"/><use href="#gs" x="873.0" y="1248.9"/><use href="#gs" x="714.9" y="1282.3"/><use href="#gs" x="1054.6" y="1273.2"/><use href="#gs" x="99.6" y="1238.1"/><use href="#gs" x="1126.6" y="1246.6"/><use href="#gs" x="566.1" y="1252.6"/><use href="#gs" x="937.7" y="1283.7"/><use href="#gs" x="836.2" y="1249.2"/><use href="#gs" x="537.9" y="1240.2"/><use href="#gs" x="220.4" y="1260.9"/><use href="#gs" x="725.9" y="1247.1"/><use href="#gs" x="79.4" y="1243.6"/><use href="#gs" x="117.2" y="1248.3"/><use href="#gs" x="1091.9" y="1298.3"/><use href="#gs" x="235.2" y="1275.6"/><use href="#gs" x="700.3" y="1210.7"/><use href="#gs" x="794.9" y="1229.7"/><use href="#gs" x="238.3" y="1218.4"/><use href="#gs" x="1133.3" y="1241.0"/><use href="#gs" x="703.1" y="1242.6"/><use href="#gs" x="823.6" y="1229.6"/><use href="#gs" x="485.5" y="1241.7"/><use href="#gs" x="434.8" y="1286.4"/><use href="#gs" x="432.3" y="1269.7"/><use href="#gs" x="947.1" y="1215.8"/><use href="#gs" x="479.6" y="1233.8"/><use href="#gs" x="626.9" y="1260.4"/><use href="#gs" x="252.7" y="1231.2"/><use href="#gs" x="1143.4" y="1288.1"/><use href="#gs" x="680.0" y="1257.6"/><use href="#gs" x="1178.2" y="1217.7"/><use href="#gs" x="420.4" y="1269.6"/><use href="#gs" x="1157.0" y="1237.6"/><use href="#gs" x="596.6" y="1253.8"/><use href="#gs" x="253.6" y="1248.9"/><use href="#gs" x="841.3" y="1241.6"/><use href="#gs" x="676.2" y="1271.1"/><use href="#gs" x="649.4" y="1256.6"/><use href="#gs" x="101.0" y="1286.5"/><use href="#gs" x="940.5" y="1252.5"/><use href="#gs" x="590.1" y="1290.2"/><use href="#gs" x="469.3" y="1244.9"/><use href="#gs" x="1052.2" y="1283.3"/><use href="#gs" x="337.0" y="1268.0"/><use href="#gs" x="271.9" y="1260.6"/><use href="#gs" x="370.6" y="1253.9"/><use href="#gs" x="410.2" y="1304.2"/><use href="#gs" x="648.4" y="1287.4"/><use href="#gs" x="344.3" y="1251.4"/><use href="#gs" x="307.2" y="1230.6"/><use href="#gs" x="630.1" y="1237.5"/><use href="#gs" x="389.1" y="1226.9"/><use href="#gs" x="478.8" y="1219.5"/><use href="#gs" x="453.1" y="1296.5"/><use href="#gs" x="296.9" y="1279.6"/><use href="#gs" x="1076.2" y="1268.2"/><use href="#gs" x="563.5" y="1260.7"/><use href="#gs" x="1052.1" y="1237.7"/><use href="#gs" x="496.7" y="1239.6"/><use href="#gs" x="152.5" y="1260.5"/><use href="#gs" x="599.6" y="1305.5"/><use href="#gs" x="435.2" y="1264.5"/><use href="#gs" x="236.9" y="1251.8"/><use href="#gs" x="699.6" y="1231.9"/><use href="#gs" x="146.8" y="1319.1"/><use href="#gs" x="933.4" y="1278.1"/><use href="#gs" x="833.7" y="1232.0"/><use href="#gs" x="1094.2" y="1281.6"/><use href="#gs" x="257.2" y="1274.6"/><use href="#gs" x="400.8" y="1254.4"/><use href="#gs" x="174.8" y="1229.4"/><use href="#gs" x="1035.1" y="1252.1"/><use href="#gs" x="987.9" y="1269.4"/><use href="#gs" x="100.2" y="1236.2"/><use href="#gs" x="1153.7" y="1242.3"/><use href="#gs" x="316.0" y="1239.8"/><use href="#gs" x="545.7" y="1245.8"/><use href="#gs" x="806.5" y="1264.4"/><use href="#gs" x="907.8" y="1263.4"/><use href="#gs" x="880.6" y="1278.9"/><use href="#gs" x="225.5" y="1256.0"/><use href="#gs" x="407.3" y="1233.7"/><use href="#gs" x="526.9" y="1251.5"/><use href="#gs" x="828.4" y="1251.9"/><use href="#gs" x="889.1" y="1247.3"/><use href="#gs" x="735.3" y="1254.5"/><use href="#gs" x="664.6" y="1263.3"/><use href="#gs" x="209.5" y="1236.0"/><use href="#gs" x="1109.0" y="1248.6"/><use href="#gs" x="194.5" y="1264.2"/><use href="#gs" x="584.4" y="1265.8"/><use href="#gs" x="257.8" y="1268.6"/><use href="#gs" x="298.8" y="1268.0"/><use href="#gs" x="1005.4" y="1237.4"/><use href="#gs" x="981.7" y="1261.3"/><use href="#gs" x="652.2" y="1270.9"/><use href="#gs" x="653.3" y="1252.6"/><use href="#gs" x="387.8" y="1269.2"/><use href="#gs" x="194.1" y="1248.1"/><use href="#gs" x="795.4" y="1265.3"/><use href="#gs" x="316.5" y="1247.1"/><use href="#gs" x="111.8" y="1249.5"/><use href="#gs" x="458.5" y="1257.9"/><use href="#gs" x="145.9" y="1267.4"/><use href="#gs" x="1173.1" y="1231.1"/><use href="#gs" x="178.9" y="1306.2"/><use href="#gs" x="498.8" y="1262.0"/><use href="#gs" x="487.1" y="1231.9"/><use href="#gs" x="923.0" y="1216.1"/><use href="#gs" x="649.1" y="1290.6"/><use href="#gs" x="184.6" y="1285.9"/><use href="#gs" x="925.3" y="1232.3"/><use href="#gs" x="907.2" y="1283.6"/><use href="#gs" x="884.1" y="1245.8"/><use href="#gs" x="91.2" y="1244.3"/><use href="#gs" x="1105.6" y="1247.6"/><use href="#gs" x="159.3" y="1276.7"/><use href="#gs" x="893.1" y="1230.0"/><use href="#gs" x="225.3" y="1252.3"/><use href="#gs" x="601.9" y="1270.8"/><use href="#gs" x="746.0" y="1267.3"/><use href="#gs" x="698.2" y="1261.3"/><use href="#gs" x="804.3" y="1238.5"/><use href="#gs" x="646.5" y="1238.2"/><use href="#gs" x="1154.6" y="1202.1"/><use href="#gs" x="626.9" y="1262.4"/><use href="#gs" x="98.1" y="1282.2"/><use href="#gs" x="1094.6" y="1236.1"/><use href="#gs" x="982.0" y="1230.6"/><use href="#gs" x="710.2" y="1271.5"/><use href="#gs" x="533.4" y="1272.3"/><use href="#gs" x="491.5" y="1269.5"/><use href="#gs" x="538.3" y="1235.0"/><use href="#gs" x="600.1" y="1246.5"/><use href="#gs" x="283.8" y="1198.4"/><use href="#gs" x="581.1" y="1238.8"/><use href="#gs" x="489.2" y="1239.9"/><use href="#gs" x="637.0" y="1216.6"/><use href="#gs" x="242.4" y="1232.3"/><use href="#gs" x="213.8" y="1243.9"/><use href="#gs" x="80.0" y="1272.0"/><use href="#gs" x="1082.8" y="1248.5"/><use href="#gs" x="1075.0" y="1260.1"/><use href="#gs" x="934.6" y="1245.4"/><use href="#gs" x="926.5" y="1260.9"/><use href="#gs" x="688.0" y="1248.8"/><use href="#gs" x="1073.0" y="1245.4"/><use href="#gs" x="333.5" y="1288.7"/><use href="#gs" x="716.7" y="1264.7"/><use href="#gs" x="275.9" y="1250.5"/><use href="#gs" x="94.7" y="1236.4"/><use href="#gs" x="418.7" y="1219.0"/><use href="#gs" x="1139.1" y="1258.4"/><use href="#gs" x="770.7" y="1258.1"/><use href="#gs" x="881.0" y="1218.4"/><use href="#gs" x="994.5" y="1260.1"/><use href="#gs" x="304.7" y="1235.1"/><use href="#gs" x="928.5" y="1275.7"/><use href="#gs" x="734.5" y="1287.6"/><use href="#gs" x="976.5" y="1248.5"/><use href="#gs" x="1061.6" y="1268.8"/><use href="#gs" x="261.0" y="1279.0"/><use href="#gs" x="91.9" y="1239.3"/><use href="#gs" x="507.1" y="1213.9"/><use href="#gs" x="442.3" y="1238.9"/><use href="#gs" x="687.3" y="1269.1"/><use href="#gs" x="634.4" y="1225.5"/><use href="#gs" x="500.7" y="1238.4"/><use href="#gs" x="236.5" y="1249.2"/><use href="#gs" x="701.6" y="1241.1"/><use href="#gs" x="123.0" y="1277.0"/><use href="#gs" x="656.7" y="1265.4"/><use href="#gs" x="145.5" y="1244.9"/><use href="#gs" x="866.7" y="1246.1"/><use href="#gs" x="747.6" y="1241.9"/><use href="#gs" x="520.9" y="1218.7"/><use href="#gs" x="727.9" y="1304.5"/><use href="#gs" x="166.4" y="1259.9"/><use href="#gs" x="261.1" y="1240.4"/><use href="#gs" x="741.7" y="1244.9"/><use href="#gs" x="999.0" y="1290.1"/><use href="#gs" x="522.2" y="1251.2"/><use href="#gs" x="1048.1" y="1256.5"/><use href="#gs" x="680.5" y="1250.7"/><use href="#gs" x="1108.7" y="1256.1"/><use href="#gs" x="798.1" y="1233.0"/><use href="#gs" x="838.2" y="1281.3"/><use href="#gs" x="793.5" y="1280.9"/><use href="#gs" x="1107.3" y="1259.7"/><use href="#gs" x="347.5" y="1229.3"/><use href="#gs" x="260.8" y="1269.0"/><use href="#gs" x="675.1" y="1243.3"/><use href="#gs" x="207.9" y="1277.4"/><use href="#gs" x="328.1" y="1278.3"/><use href="#gs" x="556.6" y="1255.8"/><use href="#gs" x="548.5" y="1260.3"/><use href="#gs" x="614.7" y="1252.5"/><use href="#gs" x="997.0" y="1247.8"/><use href="#gs" x="1062.7" y="1248.7"/><use href="#gs" x="222.3" y="1274.3"/><use href="#gs" x="113.5" y="1274.4"/><use href="#gs" x="195.4" y="1249.7"/><use href="#gs" x="469.8" y="1243.5"/><use href="#gs" x="1024.2" y="1244.6"/><use href="#gs" x="711.8" y="1262.6"/><use href="#gs" x="651.2" y="1248.7"/><use href="#gs" x="114.9" y="1268.1"/><use href="#gs" x="282.4" y="1256.5"/><use href="#gs" x="844.5" y="1242.3"/><use href="#gs" x="466.2" y="1240.1"/><use href="#gs" x="893.4" y="1268.5"/><use href="#gs" x="199.8" y="1270.9"/><use href="#gs" x="195.0" y="1230.7"/><use href="#gs" x="262.8" y="1221.7"/><use href="#gs" x="616.5" y="1184.2"/><use href="#gs" x="303.7" y="1283.8"/><use href="#gs" x="353.9" y="1242.7"/><use href="#gs" x="1093.6" y="1250.5"/><use href="#gs" x="566.5" y="1257.3"/><use href="#gs" x="214.3" y="1271.4"/><use href="#gs" x="728.4" y="1239.3"/><use href="#gs" x="815.8" y="1271.7"/><use href="#gs" x="817.3" y="1289.2"/><use href="#gs" x="1041.8" y="1240.3"/><use href="#gs" x="747.0" y="1258.9"/><use href="#gs" x="1025.8" y="1236.2"/><use href="#gs" x="1099.4" y="1298.1"/><use href="#gs" x="608.7" y="1261.4"/><use href="#gs" x="770.4" y="1281.5"/><use href="#gs" x="303.9" y="1241.3"/><use href="#gs" x="108.9" y="1245.7"/><use href="#gs" x="217.6" y="1256.4"/><use href="#gs" x="299.1" y="1257.2"/><use href="#gs" x="663.4" y="1258.0"/><use href="#gs" x="107.4" y="1230.9"/><use href="#gs" x="931.8" y="1269.9"/><use href="#gs" x="383.7" y="1245.9"/><use href="#gs" x="598.2" y="1284.3"/><use href="#gs" x="810.3" y="1272.1"/><use href="#gs" x="749.2" y="1230.4"/><use href="#gs" x="245.3" y="1276.5"/><use href="#gs" x="887.8" y="1251.4"/><use href="#gs" x="715.0" y="1287.3"/><use href="#gs" x="1159.9" y="1262.6"/><use href="#gs" x="487.6" y="1258.1"/><use href="#gs" x="537.4" y="1259.0"/><use href="#gs" x="439.8" y="1237.1"/><use href="#gs" x="321.9" y="1302.9"/><use href="#gs" x="185.7" y="1261.1"/><use href="#gs" x="430.0" y="1231.5"/><use href="#gs" x="402.7" y="1236.3"/><use href="#gs" x="282.7" y="1260.6"/><use href="#gs" x="945.7" y="1269.3"/><use href="#gs" x="310.0" y="1234.7"/><use href="#gs" x="463.5" y="1263.4"/><use href="#gs" x="924.3" y="1278.1"/><use href="#gs" x="1010.4" y="1307.8"/><use href="#gs" x="1067.0" y="1270.1"/><use href="#gs" x="79.0" y="1290.9"/><use href="#gs" x="981.3" y="1286.3"/><use href="#gs" x="270.0" y="1283.1"/><use href="#gs" x="176.4" y="1223.8"/><use href="#gs" x="626.3" y="1286.9"/><use href="#gs" x="376.7" y="1268.6"/><use href="#gs" x="438.7" y="1250.8"/><use href="#gs" x="216.5" y="1248.4"/><use href="#gs" x="865.4" y="1271.0"/><use href="#gs" x="890.3" y="1279.6"/><use href="#gs" x="479.9" y="1258.0"/><use href="#gs" x="234.1" y="1200.7"/><use href="#gs" x="401.3" y="1256.0"/><use href="#gs" x="267.1" y="1223.6"/><use href="#gs" x="519.4" y="1277.8"/><use href="#gs" x="737.8" y="1256.6"/><use href="#gs" x="209.7" y="1288.6"/><use href="#gs" x="520.1" y="1273.2"/><use href="#gs" x="951.2" y="1218.7"/><use href="#gs" x="1004.2" y="1249.2"/><use href="#gs" x="915.7" y="1254.2"/><use href="#gs" x="1073.9" y="1265.1"/><use href="#gs" x="365.6" y="1229.2"/><use href="#gs" x="917.4" y="1232.5"/><use href="#gs" x="581.6" y="1245.8"/><use href="#gs" x="942.6" y="1289.1"/><use href="#gs" x="558.6" y="1249.0"/><use href="#gs" x="1056.7" y="1297.9"/><use href="#gs" x="1106.0" y="1279.8"/><use href="#gs" x="868.7" y="1256.3"/><use href="#gs" x="613.3" y="1261.1"/><use href="#gs" x="607.4" y="1257.7"/><use href="#gs" x="1120.7" y="1236.1"/><use href="#gs" x="694.4" y="1239.6"/><use href="#gs" x="1118.2" y="1257.3"/><use href="#gs" x="893.0" y="1237.3"/><use href="#gs" x="458.4" y="1257.8"/><use href="#gs" x="845.3" y="1274.4"/><use href="#gs" x="1136.6" y="1222.0"/><use href="#gs" x="993.6" y="1255.1"/><use href="#gs" x="811.5" y="1211.8"/><use href="#gs" x="359.8" y="1253.9"/><use href="#gs" x="757.8" y="1217.9"/><use href="#gs" x="568.5" y="1246.4"/><use href="#gs" x="141.4" y="1258.7"/><use href="#gs" x="588.3" y="1239.6"/><use href="#gs" x="943.7" y="1247.0"/><use href="#gs" x="1145.2" y="1242.1"/><use href="#gs" x="648.5" y="1250.1"/><use href="#gs" x="763.4" y="1232.5"/><use href="#gs" x="639.7" y="1252.2"/><use href="#gs" x="140.3" y="1227.6"/><use href="#gs" x="329.9" y="1275.3"/><use href="#gs" x="987.0" y="1218.2"/><use href="#gs" x="643.7" y="1287.8"/><use href="#gs" x="941.9" y="1260.2"/><use href="#gs" x="1020.6" y="1254.4"/><use href="#gs" x="735.2" y="1258.6"/><use href="#gs" x="675.7" y="1247.7"/><use href="#gs" x="182.5" y="1262.7"/><use href="#gs" x="1010.3" y="1216.5"/><use href="#gs" x="617.2" y="1283.4"/><use href="#gs" x="750.7" y="1255.7"/><use href="#gs" x="1028.2" y="1268.2"/><use href="#gs" x="93.7" y="1211.7"/><use href="#gs" x="694.9" y="1269.8"/><use href="#gs" x="102.5" y="1252.4"/><use href="#gs" x="726.4" y="1225.5"/><use href="#gs" x="371.4" y="1263.1"/><use href="#gs" x="570.1" y="1280.3"/><use href="#gs" x="206.1" y="1248.9"/><use href="#gs" x="302.5" y="1221.1"/><use href="#gs" x="191.6" y="1236.8"/><use href="#gs" x="144.4" y="1237.0"/><use href="#gs" x="94.3" y="1260.0"/><use href="#gs" x="775.4" y="1270.8"/><use href="#gs" x="688.9" y="1244.4"/><use href="#gs" x="402.8" y="1248.2"/><use href="#gs" x="127.8" y="1262.6"/><use href="#gs" x="215.0" y="1251.3"/><use href="#gs" x="1048.2" y="1245.6"/><use href="#gs" x="621.5" y="1281.3"/><use href="#gs" x="686.0" y="1265.8"/><use href="#gs" x="1154.8" y="1271.8"/><use href="#gs" x="1102.7" y="1279.2"/><use href="#gs" x="771.3" y="1288.1"/><use href="#gs" x="1061.7" y="1256.2"/><use href="#gs" x="78.9" y="1231.4"/><use href="#gs" x="630.3" y="1256.4"/><use href="#gs" x="293.3" y="1267.8"/><use href="#gs" x="970.6" y="1242.8"/><use href="#gs" x="582.1" y="1249.8"/><use href="#gs" x="375.1" y="1244.9"/><use href="#gs" x="973.0" y="1264.7"/><use href="#gs" x="562.7" y="1272.8"/><use href="#gs" x="543.6" y="1234.6"/><use href="#gs" x="684.2" y="1236.6"/><use href="#gs" x="1150.9" y="1257.5"/><use href="#gs" x="183.0" y="1252.3"/><use href="#gs" x="241.7" y="1232.9"/><use href="#gs" x="1073.0" y="1254.7"/><use href="#gs" x="576.5" y="1267.6"/><use href="#gs" x="1062.9" y="1232.3"/><use href="#gs" x="1099.2" y="1244.0"/><use href="#gs" x="849.2" y="1258.1"/><use href="#gs" x="505.7" y="1271.4"/><use href="#gs" x="725.1" y="1240.2"/><use href="#gs" x="992.1" y="1289.3"/><use href="#gs" x="303.5" y="1274.1"/><use href="#gs" x="724.8" y="1256.8"/><use href="#gs" x="368.1" y="1243.6"/><use href="#gs" x="1170.8" y="1250.7"/><use href="#gs" x="710.2" y="1258.9"/><use href="#gs" x="269.0" y="1249.2"/><use href="#gs" x="280.4" y="1261.3"/><use href="#gs" x="870.6" y="1242.1"/><use href="#gs" x="268.6" y="1269.9"/><use href="#gs" x="896.8" y="1227.1"/><use href="#gs" x="1032.0" y="1232.2"/><use href="#gs" x="174.8" y="1221.9"/><use href="#gs" x="702.4" y="1307.9"/><use href="#gs" x="233.9" y="1252.7"/><use href="#gs" x="357.6" y="1242.4"/><use href="#gs" x="529.5" y="1233.5"/><use href="#gs" x="813.9" y="1235.7"/><use href="#gs" x="1053.3" y="1288.8"/><use href="#gs" x="574.4" y="1230.1"/><use href="#gs" x="391.3" y="1226.8"/><use href="#gs" x="498.9" y="1216.7"/><use href="#gs" x="742.3" y="1234.8"/><use href="#gs" x="615.0" y="1291.3"/><use href="#gs" x="1121.5" y="1251.0"/><use href="#gs" x="278.1" y="1261.5"/><use href="#gs" x="1080.2" y="1272.5"/><use href="#gs" x="105.2" y="1294.9"/><use href="#gs" x="349.4" y="1230.5"/><use href="#gs" x="669.8" y="1276.3"/><use href="#gs" x="754.1" y="1267.7"/><use href="#gs" x="1028.9" y="1269.9"/><use href="#gs" x="906.5" y="1248.7"/><use href="#gs" x="172.2" y="1297.5"/><use href="#gs" x="962.1" y="1260.5"/><use href="#gs" x="884.5" y="1272.0"/><use href="#gs" x="801.8" y="1245.8"/><use href="#gs" x="911.4" y="1295.0"/><use href="#gs" x="1012.4" y="1210.6"/><use href="#gs" x="1086.3" y="1263.5"/><use href="#gs" x="639.6" y="1217.1"/><use href="#gs" x="751.3" y="1294.7"/><use href="#gs" x="310.4" y="1228.6"/><use href="#gs" x="381.2" y="1267.6"/><use href="#gs" x="203.2" y="1232.3"/><use href="#gs" x="271.9" y="1236.7"/><use href="#gs" x="774.7" y="1253.2"/><use href="#gs" x="1159.4" y="1267.2"/><use href="#gs" x="437.0" y="1264.9"/><use href="#gs" x="582.0" y="1263.2"/><use href="#gs" x="1171.2" y="1266.4"/><use href="#gs" x="512.8" y="1228.2"/><use href="#gs" x="546.5" y="1249.6"/><use href="#gs" x="214.0" y="1229.0"/><use href="#gs" x="565.3" y="1269.6"/><use href="#gs" x="622.7" y="1255.9"/><use href="#gs" x="1103.7" y="1202.1"/><use href="#gs" x="235.9" y="1293.5"/><use href="#gs" x="1030.8" y="1259.3"/><use href="#gs" x="116.4" y="1238.2"/><use href="#gs" x="510.8" y="1288.1"/><use href="#gs" x="164.0" y="1262.7"/><use href="#gs" x="781.7" y="1244.6"/><use href="#gs" x="395.7" y="1240.7"/><use href="#gs" x="223.1" y="1274.9"/><use href="#gs" x="1165.6" y="1162.2"/><use href="#gs" x="151.0" y="1259.0"/><use href="#gs" x="884.0" y="1131.9"/><use href="#gs" x="565.6" y="1203.4"/><use href="#gs" x="583.0" y="1181.9"/><use href="#gs" x="885.8" y="1236.5"/><use href="#gs" x="395.6" y="1229.7"/><use href="#gs" x="244.8" y="1185.2"/><use href="#gs" x="637.2" y="1230.7"/><use href="#gs" x="1154.3" y="1272.9"/><use href="#gs" x="586.8" y="1270.9"/><use href="#gs" x="336.1" y="1290.6"/><use href="#gs" x="449.5" y="1211.4"/><use href="#gs" x="395.4" y="1236.5"/><use href="#gs" x="723.7" y="1200.9"/><use href="#gs" x="306.7" y="1219.7"/><use href="#gs" x="80.7" y="1220.8"/><use href="#gs" x="1023.2" y="1258.8"/><use href="#gs" x="775.6" y="1245.7"/><use href="#gs" x="309.6" y="1250.7"/><use href="#gs" x="968.9" y="1242.8"/><use href="#gs" x="684.7" y="1265.1"/><use href="#gs" x="733.4" y="1197.1"/><use href="#gs" x="653.4" y="1250.0"/><use href="#gs" x="895.4" y="1236.2"/><use href="#gs" x="271.0" y="1210.2"/><use href="#gs" x="118.3" y="1201.6"/><use href="#gs" x="1047.3" y="1246.5"/><use href="#gs" x="545.7" y="1244.7"/><use href="#gs" x="1072.1" y="1299.1"/><use href="#gs" x="998.2" y="1261.7"/><use href="#gs" x="1015.0" y="1217.4"/><use href="#gs" x="686.1" y="1233.6"/><use href="#gs" x="1079.1" y="1199.3"/><use href="#gs" x="1008.9" y="1293.8"/><use href="#gs" x="930.0" y="1213.8"/><use href="#gs" x="747.4" y="1244.6"/><use href="#gs" x="649.3" y="1234.9"/><use href="#gs" x="1188.8" y="1285.1"/><use href="#gs" x="1188.3" y="1236.3"/><use href="#gs" x="1206.6" y="1242.8"/><use href="#gs" x="1188.9" y="1237.1"/><use href="#gs" x="1191.6" y="1235.1"/><use href="#gs" x="1199.6" y="1227.4"/><use href="#gs" x="1211.4" y="1254.5"/><use href="#gs" x="1185.9" y="1238.9"/><use href="#gs" x="1185.5" y="1278.5"/><use href="#gs" x="1197.1" y="1269.6"/><use href="#gs" x="1198.5" y="1263.8"/><use href="#gs" x="1198.0" y="1228.9"/><use href="#gs" x="1198.4" y="1213.7"/><use href="#gs" x="1224.1" y="1222.2"/><use href="#gs" x="1195.1" y="1280.2"/><use href="#gs" x="1210.4" y="1265.0"/><use href="#gs" x="1227.1" y="1218.6"/><use href="#gs" x="1193.8" y="1298.1"/><use href="#gs" x="1197.9" y="1224.7"/><use href="#gs" x="1203.5" y="1239.1"/><use href="#gs" x="1196.8" y="1254.6"/><use href="#gs" x="1202.8" y="1229.1"/><use href="#gs" x="1222.1" y="1256.1"/><use href="#gs" x="1224.9" y="1234.7"/><use href="#gs" x="1202.4" y="1237.7"/><use href="#gs" x="1209.0" y="1225.0"/><use href="#gs" x="1182.6" y="1217.8"/><use href="#gs" x="1185.2" y="1292.3"/><use href="#gs" x="1196.7" y="1291.0"/><use href="#gs" x="1209.1" y="1295.6"/><use href="#gs" x="1181.4" y="1227.8"/><use href="#gs" x="1182.7" y="1254.5"/><use href="#gs" x="1181.0" y="1220.3"/><use href="#gs" x="1217.4" y="1285.7"/><use href="#gs" x="1195.6" y="1250.7"/><use href="#gs" x="1214.6" y="1272.1"/><use href="#gs" x="1211.5" y="1262.3"/><use href="#gs" x="1207.6" y="1240.6"/><use href="#gs" x="1208.4" y="1212.2"/><use href="#gs" x="1205.0" y="1257.8"/><use href="#gs" x="1224.9" y="1249.1"/><use href="#gs" x="1208.5" y="1220.0"/><use href="#gs" x="1188.5" y="1238.8"/><use href="#gs" x="1223.0" y="1265.0"/><use href="#gs" x="1188.6" y="1248.4"/><use href="#gs" x="1189.4" y="1231.0"/><use href="#gs" x="1215.9" y="1257.7"/><use href="#gs" x="1182.2" y="1301.0"/><use href="#gs" x="1196.4" y="1307.7"/><use href="#gs" x="1218.2" y="1214.5"/><use href="#gs" x="1210.3" y="1290.7"/><use href="#gs" x="1203.0" y="1228.8"/><use href="#gs" x="1205.3" y="1279.9"/><use href="#gs" x="1214.7" y="1272.2"/><use href="#gs" x="1219.4" y="1268.7"/><use href="#gs" x="1184.9" y="1231.1"/><use href="#gs" x="1205.2" y="1248.6"/><use href="#gs" x="1184.0" y="1304.6"/><use href="#gs" x="1197.5" y="1298.9"/><use href="#gs" x="1195.5" y="1198.7"/><use href="#gs" x="1206.8" y="1203.5"/><use href="#gs" x="1183.7" y="1228.6"/><use href="#gs" x="1190.6" y="1226.9"/><use href="#gs" x="1223.6" y="1262.2"/><use href="#gs" x="1223.2" y="1262.5"/><use href="#gs" x="1200.7" y="1221.7"/><use href="#gs" x="1187.8" y="1259.0"/><use href="#gs" x="1195.7" y="1242.6"/><use href="#gs" x="1214.5" y="1215.2"/><use href="#gs" x="1190.3" y="1281.5"/><use href="#gs" x="1203.9" y="1238.9"/><use href="#gs" x="1187.0" y="1247.5"/><use href="#gs" x="1190.5" y="1241.7"/><use href="#gs" x="1200.7" y="1255.0"/><use href="#gs" x="1186.8" y="1215.3"/><use href="#gs" x="1186.8" y="1249.3"/><use href="#gs" x="1202.1" y="1253.4"/><use href="#gs" x="1181.0" y="1249.3"/><use href="#gs" x="1212.1" y="1191.2"/><use href="#gs" x="1223.9" y="1244.0"/><use href="#gs" x="1190.1" y="1216.4"/><use href="#gs" x="1193.7" y="1194.3"/><use href="#gs" x="1190.9" y="1236.2"/><use href="#gs" x="1179.2" y="1261.3"/><use href="#gs" x="1208.4" y="1189.7"/><use href="#gs" x="1216.8" y="1241.0"/><use href="#gs" x="1190.9" y="1285.3"/><use href="#gs" x="1183.6" y="1247.2"/><use href="#gs" x="1179.6" y="1210.1"/><use href="#gs" x="1202.2" y="1237.6"/><use href="#gs" x="1222.2" y="1229.3"/><use href="#gs" x="1223.6" y="1211.0"/><use href="#gs" x="1227.5" y="1261.2"/><use href="#gs" x="1218.5" y="1185.3"/><use href="#gs" x="1186.6" y="1221.4"/><use href="#gs" x="1181.0" y="1244.6"/><use href="#gs" x="1179.7" y="1278.0"/><use href="#gs" x="1182.2" y="1254.2"/><use href="#gs" x="1195.4" y="1306.3"/><use href="#gs" x="1193.4" y="1212.8"/><use href="#gs" x="1224.4" y="1218.5"/><use href="#gs" x="1213.5" y="1247.6"/><use href="#gs" x="1183.7" y="1235.7"/><use href="#gs" x="1217.4" y="1274.6"/><use href="#gs" x="1212.4" y="1215.1"/><use href="#gs" x="1218.6" y="1243.5"/><use href="#gs" x="1221.4" y="1249.3"/><use href="#gs" x="1211.0" y="1242.1"/><use href="#gs" x="1196.7" y="1235.5"/><use href="#gs" x="1224.3" y="1191.0"/><use href="#gs" x="1201.7" y="1189.2"/><use href="#gs" x="1217.5" y="1264.5"/><use href="#gs" x="1202.9" y="1212.6"/><use href="#gs" x="1219.9" y="1266.3"/><use href="#gs" x="1180.1" y="1260.0"/><use href="#gs" x="1192.0" y="1279.4"/><use href="#gs" x="1202.1" y="1252.3"/><use href="#gs" x="1184.9" y="1217.7"/><use href="#gs" x="1226.6" y="1254.1"/><use href="#gs" x="1200.2" y="1233.7"/><use href="#gs" x="1195.2" y="1261.3"/><use href="#gs" x="1210.5" y="1291.5"/><use href="#gs" x="1181.2" y="1209.4"/><use href="#gs" x="1208.9" y="1179.7"/><use href="#gs" x="1209.7" y="1267.6"/><use href="#gs" x="1179.6" y="1231.3"/><use href="#gs" x="1208.9" y="1221.1"/><use href="#gs" x="1210.5" y="1220.2"/><use href="#gs" x="1218.7" y="1196.6"/><use href="#gs" x="1217.6" y="1195.8"/><use href="#gs" x="1185.9" y="1282.3"/><use href="#gs" x="1191.1" y="1233.1"/><use href="#gs" x="1187.4" y="1283.5"/><use href="#gs" x="1226.2" y="1233.3"/><use href="#gs" x="1215.5" y="1195.2"/><use href="#gs" x="1220.1" y="1302.7"/><use href="#gs" x="1211.1" y="1224.9"/><use href="#gs" x="1205.7" y="1196.8"/><use href="#gs" x="1182.6" y="1216.2"/><use href="#gs" x="1196.7" y="1255.5"/><use href="#gs" x="1227.8" y="1247.0"/><use href="#gs" x="1221.7" y="1239.8"/><use href="#gs" x="1216.5" y="1197.2"/><use href="#gs" x="1199.3" y="1244.4"/><use href="#gs" x="1214.4" y="1217.6"/><use href="#gs" x="1195.7" y="1287.7"/><use href="#gs" x="1186.0" y="1244.4"/><use href="#gs" x="1227.0" y="1250.1"/><use href="#gs" x="1216.1" y="1232.6"/><use href="#gs" x="1202.8" y="1238.6"/><use href="#gs" x="1214.9" y="1262.2"/><use href="#gs" x="1195.5" y="1189.1"/><use href="#gs" x="1187.3" y="1295.0"/><use href="#gs" x="1209.3" y="1254.0"/><use href="#gs" x="1196.2" y="1227.5"/><use href="#gs" x="1226.0" y="1289.3"/><use href="#gs" x="1215.5" y="1249.3"/><use href="#gs" x="1195.0" y="1262.7"/><use href="#gs" x="1196.4" y="1240.7"/><use href="#gs" x="1212.0" y="1232.3"/><use href="#gs" x="1215.9" y="1265.4"/><use href="#gs" x="1216.7" y="1196.3"/><use href="#gs" x="1201.7" y="1208.8"/><use href="#gs" x="1187.6" y="1220.6"/><use href="#gs" x="1189.6" y="1235.5"/><use href="#gs" x="1194.6" y="1255.0"/><use href="#gs" x="1226.5" y="1254.1"/><use href="#gs" x="1222.4" y="1249.4"/><use href="#gs" x="1215.8" y="1267.7"/><use href="#gs" x="1195.7" y="1256.9"/><use href="#gs" x="1212.2" y="1241.0"/><use href="#gs" x="1214.0" y="1222.0"/><use href="#gs" x="1218.4" y="1249.3"/><use href="#gs" x="1214.7" y="1251.6"/><use href="#gs" x="1181.7" y="1251.4"/><use href="#gs" x="1189.2" y="1206.3"/><use href="#gs" x="1197.6" y="1254.3"/><use href="#gs" x="1221.1" y="1237.3"/><use href="#gs" x="1211.3" y="1192.7"/><use href="#gs" x="1203.9" y="1216.0"/><use href="#gs" x="1221.0" y="1218.7"/><use href="#gs" x="1184.5" y="1237.9"/><use href="#gs" x="1199.7" y="1228.9"/><use href="#gs" x="1206.9" y="1228.7"/><use href="#gs" x="1206.8" y="1250.7"/><use href="#gs" x="1225.0" y="1226.5"/><use href="#gs" x="1226.7" y="1257.4"/><use href="#gs" x="1185.2" y="1181.3"/><use href="#gs" x="1223.2" y="1258.7"/><use href="#gs" x="1186.9" y="1221.4"/><use href="#gs" x="1223.1" y="1239.9"/><use href="#gs" x="1194.4" y="1242.8"/><use href="#gs" x="1194.6" y="1279.4"/><use href="#gs" x="1209.5" y="1246.3"/><use href="#gs" x="1182.0" y="1260.4"/><use href="#gs" x="1217.9" y="1306.7"/><use href="#gs" x="1180.2" y="1233.5"/><use href="#gs" x="1201.5" y="1228.4"/><use href="#gs" x="1201.1" y="1211.0"/><use href="#gs" x="1218.3" y="1250.3"/><use href="#gs" x="1195.0" y="1217.3"/><use href="#gs" x="1214.2" y="1280.7"/><use href="#gs" x="1202.7" y="1272.7"/><use href="#gs" x="1187.3" y="1223.7"/><use href="#gs" x="1216.1" y="1245.1"/><use href="#gs" x="1193.6" y="1274.9"/><use href="#gs" x="1216.1" y="1239.3"/><use href="#gs" x="1187.6" y="1198.8"/><use href="#gs" x="1193.3" y="1244.9"/><use href="#gs" x="1209.6" y="1235.2"/><use href="#gs" x="1199.5" y="1202.3"/><use href="#gs" x="1193.7" y="1264.1"/><use href="#gs" x="1205.9" y="1311.1"/><use href="#gs" x="1190.3" y="1256.6"/><use href="#gs" x="1186.4" y="1249.7"/><use href="#gs" x="1205.7" y="1291.4"/><use href="#gs" x="1221.0" y="1244.7"/><use href="#gs" x="1190.7" y="1216.4"/><use href="#gs" x="1184.3" y="1272.9"/><use href="#gs" x="1217.1" y="1265.6"/><use href="#gs" x="1222.3" y="1239.3"/><use href="#gs" x="1195.9" y="1243.6"/><use href="#gs" x="1200.3" y="1272.3"/><use href="#gs" x="1185.6" y="1221.1"/><use href="#gs" x="1210.8" y="1283.1"/><use href="#gs" x="1225.1" y="1213.6"/><use href="#gs" x="1204.2" y="1257.7"/><use href="#gs" x="1195.4" y="1274.9"/><use href="#gs" x="1225.0" y="1246.7"/><use href="#gs" x="1199.2" y="1216.1"/><use href="#gs" x="1183.2" y="1223.5"/><use href="#gs" x="1209.5" y="1212.9"/><use href="#gs" x="1200.4" y="1221.0"/><use href="#gs" x="1211.4" y="1190.2"/><use href="#gs" x="1195.6" y="1272.2"/><use href="#gs" x="1180.3" y="1273.0"/><use href="#gs" x="1198.3" y="1247.9"/><use href="#gs" x="1217.1" y="1250.6"/><use href="#gs" x="1211.0" y="1242.6"/><use href="#gs" x="1194.7" y="1306.3"/><use href="#gs" x="1188.0" y="1239.9"/><use href="#gs" x="1183.0" y="1219.6"/><use href="#gs" x="1227.7" y="1192.1"/><use href="#gs" x="1205.5" y="1190.3"/><use href="#gs" x="1223.2" y="1301.7"/><use href="#gs" x="1214.1" y="1229.4"/><use href="#gs" x="1195.4" y="1279.1"/><use href="#gs" x="1204.2" y="1227.4"/><use href="#gs" x="1179.9" y="1290.3"/><use href="#gs" x="1185.5" y="1237.5"/><use href="#gs" x="1216.0" y="1245.1"/><use href="#gs" x="1180.6" y="1196.9"/><use href="#gs" x="1224.8" y="1243.2"/><use href="#gs" x="1199.0" y="1230.0"/><use href="#gs" x="1211.4" y="1252.9"/><use href="#gs" x="1187.2" y="1215.7"/><use href="#gs" x="1181.7" y="1247.4"/><use href="#gs" x="1215.7" y="1241.7"/><use href="#gs" x="1191.1" y="1227.2"/><use href="#gs" x="1212.1" y="1205.0"/><use href="#gs" x="1204.9" y="1232.9"/><use href="#gs" x="1208.6" y="1252.5"/><use href="#gs" x="1209.9" y="1275.8"/><use href="#gs" x="1179.4" y="1242.8"/><use href="#gs" x="1189.7" y="1224.9"/><use href="#gs" x="1193.1" y="1251.7"/><use href="#gs" x="1211.7" y="1251.0"/><use href="#gs" x="1190.0" y="1261.0"/><use href="#gs" x="1187.9" y="1252.7"/><use href="#gs" x="1215.6" y="1269.4"/><use href="#gs" x="1218.5" y="1252.3"/><use href="#gs" x="1212.9" y="1211.1"/><use href="#gs" x="1205.7" y="1263.4"/><use href="#gs" x="1196.2" y="1282.0"/><use href="#gs" x="1227.5" y="1252.8"/><use href="#gs" x="1185.3" y="1246.9"/><use href="#gs" x="1226.6" y="1256.4"/><use href="#gs" x="1180.2" y="1248.2"/><use href="#gs" x="1220.5" y="1265.2"/><use href="#gs" x="1199.1" y="1236.7"/><use href="#gs" x="1217.8" y="1221.1"/><use href="#gs" x="1211.3" y="1297.7"/><use href="#gs" x="1193.4" y="1225.5"/><use href="#gs" x="1198.2" y="1229.0"/><use href="#gs" x="1227.7" y="1246.6"/><use href="#gs" x="1207.4" y="1229.3"/><use href="#gs" x="1200.6" y="1223.1"/><use href="#gs" x="1196.7" y="1220.9"/><use href="#gs" x="1202.7" y="1233.4"/><use href="#gs" x="1206.7" y="1217.0"/><use href="#gs" x="1206.2" y="1216.8"/><use href="#gs" x="1221.2" y="1206.1"/><use href="#gs" x="1221.3" y="1278.8"/><use href="#gs" x="1183.1" y="1226.9"/><use href="#gs" x="1191.1" y="1231.6"/><use href="#gs" x="1207.3" y="1313.0"/><use href="#gs" x="1225.9" y="1241.2"/><use href="#gs" x="1199.1" y="1211.0"/><use href="#gs" x="1217.7" y="1269.6"/><use href="#gs" x="1217.3" y="1261.1"/><use href="#gs" x="1202.3" y="1268.8"/><use href="#gs" x="1198.5" y="1250.8"/><use href="#gs" x="1189.1" y="1253.3"/><use href="#gs" x="1199.4" y="1214.1"/><use href="#gs" x="1211.8" y="1239.3"/><use href="#gs" x="1204.4" y="1289.2"/><use href="#gs" x="1206.5" y="1238.7"/><use href="#gs" x="1208.6" y="1240.6"/><use href="#gs" x="1213.2" y="1227.1"/><use href="#gs" x="1184.3" y="1224.1"/><use href="#gs" x="1206.5" y="1210.4"/><use href="#gs" x="1196.2" y="1258.6"/><use href="#gs" x="1220.2" y="1250.5"/><use href="#gs" x="1194.4" y="1270.5"/><use href="#gs" x="1182.9" y="1249.0"/><use href="#gs" x="1205.9" y="1247.5"/><use href="#gs" x="1206.8" y="1238.4"/><use href="#gs" x="1181.9" y="1311.1"/><use href="#gs" x="1209.5" y="1247.1"/><use href="#gs" x="1219.4" y="1245.4"/><use href="#gs" x="1204.3" y="1233.5"/><use href="#gs" x="1209.5" y="1233.8"/><use href="#gs" x="1224.9" y="1262.0"/><use href="#gs" x="1184.7" y="1239.2"/><use href="#gs" x="1222.0" y="1249.7"/><use href="#gs" x="1219.1" y="1287.7"/><use href="#gs" x="1190.4" y="1253.0"/><use href="#gs" x="1204.3" y="1274.8"/><use href="#gs" x="1217.9" y="1251.9"/><use href="#gs" x="1206.2" y="1248.7"/><use href="#gs" x="1187.6" y="1257.3"/><use href="#gs" x="1183.8" y="1244.5"/><use href="#gs" x="1225.4" y="1275.2"/><use href="#gs" x="1182.2" y="1278.0"/><use href="#gs" x="1211.0" y="1201.9"/><use href="#gs" x="1224.4" y="1211.1"/><use href="#gs" x="1208.6" y="1219.4"/><use href="#gs" x="1192.6" y="1243.9"/><use href="#gs" x="1215.2" y="1256.5"/><use href="#gs" x="1204.2" y="1256.1"/><use href="#gs" x="1216.7" y="1236.7"/><use href="#gs" x="1201.9" y="1306.1"/><use href="#gs" x="1199.7" y="1269.1"/><use href="#gs" x="1198.3" y="1245.7"/><use href="#gs" x="1191.8" y="1214.5"/><use href="#gs" x="1202.5" y="1198.6"/><use href="#gs" x="1212.1" y="1232.7"/><use href="#gs" x="1211.8" y="1256.4"/><use href="#gs" x="1194.8" y="1180.0"/><use href="#gs" x="1219.3" y="1240.5"/><use href="#gs" x="1200.0" y="1237.4"/><use href="#gs" x="1214.9" y="1249.3"/><use href="#gs" x="1198.2" y="1277.8"/><use href="#gs" x="1196.0" y="1254.3"/><use href="#gs" x="1206.0" y="1215.9"/><use href="#gs" x="1201.5" y="1254.7"/><use href="#gs" x="1193.2" y="1254.7"/><use href="#gs" x="1188.4" y="1236.3"/><use href="#gs" x="1219.8" y="1235.3"/><use href="#gs" x="1210.8" y="1290.2"/><use href="#gs" x="1207.5" y="1262.1"/><use href="#gs" x="1211.2" y="1205.9"/><use href="#gs" x="1222.1" y="1226.3"/><use href="#gs" x="1210.1" y="1241.3"/><use href="#gs" x="1220.2" y="1268.1"/><use href="#gs" x="1215.1" y="1266.9"/><use href="#gs" x="1183.5" y="1212.8"/><use href="#gs" x="1218.0" y="1208.5"/><use href="#gs" x="1228.0" y="1255.3"/><use href="#gs" x="1189.1" y="1282.7"/><use href="#gs" x="1188.9" y="1238.3"/><use href="#gs" x="1227.2" y="1203.3"/><use href="#gs" x="1187.8" y="1231.5"/><use href="#gs" x="1221.1" y="1209.4"/><use href="#gs" x="1182.6" y="1278.5"/><use href="#gs" x="1181.5" y="1246.9"/><use href="#gs" x="1211.1" y="1277.3"/><use href="#gs" x="1216.0" y="1274.8"/><use href="#gs" x="1185.8" y="1266.2"/><use href="#gs" x="1210.5" y="1243.8"/><use href="#gs" x="1194.0" y="1216.6"/><use href="#gs" x="1210.0" y="1173.8"/><use href="#gs" x="1145.0" y="1176.4"/><use href="#gs" x="1092.0" y="1186.9"/><use href="#gs" x="1154.0" y="1184.2"/></g>
<path fill="#ffdc00" stroke="#222" stroke-width="1" d="M1182.30,1050.86 L1184.77,1057.66 L1192.00,1057.91 L1186.29,1062.36 L1188.30,1069.31 L1182.30,1065.26 L1176.30,1069.31 L1178.31,1062.36 L1172.60,1057.91 L1179.83,1057.66Z"/>
<line x1="76.4" y1="1327.80" x2="87.9" y2="1327.80" stroke="#404040" stroke-width="1.7"/>
<text x="68.9" y="1334.80" text-anchor="end" class="tk">0</text>
<line x1="76.4" y1="1270.80" x2="87.9" y2="1270.80" stroke="#404040" stroke-width="1.7"/>
<text x="68.9" y="1277.80" text-anchor="end" class="tk">0.2</text>
<line x1="76.4" y1="1213.80" x2="87.9" y2="1213.80" stroke="#404040" stroke-width="1.7"/>
<text x="68.9" y="1220.80" text-anchor="end" class="tk">0.4</text>
<line x1="76.4" y1="1156.80" x2="87.9" y2="1156.80" stroke="#404040" stroke-width="1.7"/>
<text x="68.9" y="1163.80" text-anchor="end" class="tk">0.6</text>
<line x1="76.4" y1="1099.80" x2="87.9" y2="1099.80" stroke="#404040" stroke-width="1.7"/>
<text x="68.9" y="1106.80" text-anchor="end" class="tk">0.8</text>
<line x1="76.4" y1="1042.80" x2="87.9" y2="1042.80" stroke="#404040" stroke-width="1.7"/>
<text x="68.9" y="1049.80" text-anchor="end" class="tk">1</text>
<line x1="1275.9" y1="1327.80" x2="1287.4" y2="1327.80" stroke="#404040" stroke-width="1.7"/>
<text x="1294.0" y="1335.40" class="tk">-1</text>
<line x1="1275.9" y1="1275.60" x2="1287.4" y2="1275.60" stroke="#404040" stroke-width="1.7"/>
<text x="1294.0" y="1283.20" class="tk">0</text>
<line x1="1275.9" y1="1223.40" x2="1287.4" y2="1223.40" stroke="#404040" stroke-width="1.7"/>
<text x="1294.0" y="1231.00" class="tk">1</text>
<line x1="1275.9" y1="1171.20" x2="1287.4" y2="1171.20" stroke="#404040" stroke-width="1.7"/>
<text x="1294.0" y="1178.80" class="tk">2</text>
<line x1="1275.9" y1="1119.00" x2="1287.4" y2="1119.00" stroke="#404040" stroke-width="1.7"/>
<text x="1294.0" y="1126.60" class="tk">3</text>
<line x1="1275.9" y1="1066.80" x2="1287.4" y2="1066.80" stroke="#404040" stroke-width="1.7"/>
<text x="1294.0" y="1074.40" class="tk">4</text>
<line x1="1275.9" y1="1014.60" x2="1287.4" y2="1014.60" stroke="#404040" stroke-width="1.7"/>
<text x="1294.0" y="1022.20" class="tk">5</text>
<line x1="76.40" y1="1327.8" x2="76.40" y2="1316.3" stroke="#404040" stroke-width="1.7"/>
<line x1="76.40" y1="1014.6" x2="76.40" y2="1026.1" stroke="#404040" stroke-width="1.7"/>
<text x="76.40" y="1354.00" text-anchor="middle" class="tk">06/01</text>
<line x1="237.87" y1="1327.8" x2="237.87" y2="1316.3" stroke="#404040" stroke-width="1.7"/>
<line x1="237.87" y1="1014.6" x2="237.87" y2="1026.1" stroke="#404040" stroke-width="1.7"/>
<text x="237.87" y="1354.00" text-anchor="middle" class="tk">07/01</text>
<line x1="399.33" y1="1327.8" x2="399.33" y2="1316.3" stroke="#404040" stroke-width="1.7"/>
<line x1="399.33" y1="1014.6" x2="399.33" y2="1026.1" stroke="#404040" stroke-width="1.7"/>
<text x="399.33" y="1354.00" text-anchor="middle" class="tk">08/01</text>
<line x1="560.80" y1="1327.8" x2="560.80" y2="1316.3" stroke="#404040" stroke-width="1.7"/>
<line x1="560.80" y1="1014.6" x2="560.80" y2="1026.1" stroke="#404040" stroke-width="1.7"/>
<text x="560.80" y="1354.00" text-anchor="middle" class="tk">09/01</text>
<line x1="722.27" y1="1327.8" x2="722.27" y2="1316.3" stroke="#404040" stroke-width="1.7"/>
<line x1="722.27" y1="1014.6" x2="722.27" y2="1026.1" stroke="#404040" stroke-width="1.7"/>
<text x="722.27" y="1354.00" text-anchor="middle" class="tk">10/01</text>
<line x1="883.73" y1="1327.8" x2="883.73" y2="1316.3" stroke="#404040" stroke-width="1.7"/>
<line x1="883.73" y1="1014.6" x2="883.73" y2="1026.1" stroke="#404040" stroke-width="1.7"/>
<text x="883.73" y="1354.00" text-anchor="middle" class="tk">11/01</text>
<line x1="1045.20" y1="1327.8" x2="1045.20" y2="1316.3" stroke="#404040" stroke-width="1.7"/>
<line x1="1045.20" y1="1014.6" x2="1045.20" y2="1026.1" stroke="#404040" stroke-width="1.7"/>
<text x="1045.20" y="1354.00" text-anchor="middle" class="tk">12/01</text>
<line x1="1206.67" y1="1327.8" x2="1206.67" y2="1316.3" stroke="#404040" stroke-width="1.7"/>
<line x1="1206.67" y1="1014.6" x2="1206.67" y2="1026.1" stroke="#404040" stroke-width="1.7"/>
<text x="1206.67" y="1354.00" text-anchor="middle" class="tk">13/01</text>
<rect x="76.4" y="1014.6" width="1211.0" height="313.19999999999993" fill="none" stroke="#404040" stroke-width="1.8"/>
<text x="681.9" y="1376.50" text-anchor="middle" class="tk">time (day/month)</text>
<text transform="translate(35.8,1171.2) rotate(-90)" text-anchor="middle" class="tk" style="font-size:19.7px">Alert Level</text>
<text transform="translate(1337.8,1171.2) rotate(-90)" text-anchor="middle" class="tk" style="font-size:22px">Mw</text>
<text x="4.9" y="1019.9" class="pl">c)</text>
<rect x="76.40" y="1392.0" width="38.44" height="22.30" fill="#ffffff"/>
<rect x="114.24" y="1392.0" width="38.44" height="22.30" fill="#ffffdf"/>
<rect x="152.09" y="1392.0" width="38.44" height="22.30" fill="#ffffbf"/>
<rect x="189.93" y="1392.0" width="38.44" height="22.30" fill="#ffff9f"/>
<rect x="227.78" y="1392.0" width="38.44" height="22.30" fill="#ffff80"/>
<rect x="265.62" y="1392.0" width="38.44" height="22.30" fill="#ffff60"/>
<rect x="303.46" y="1392.0" width="38.44" height="22.30" fill="#ffff40"/>
<rect x="341.31" y="1392.0" width="38.44" height="22.30" fill="#ffff20"/>
<rect x="379.15" y="1392.0" width="38.44" height="22.30" fill="#ffff00"/>
<rect x="416.99" y="1392.0" width="38.44" height="22.30" fill="#ffea00"/>
<rect x="454.84" y="1392.0" width="38.44" height="22.30" fill="#ffd400"/>
<rect x="492.68" y="1392.0" width="38.44" height="22.30" fill="#ffbf00"/>
<rect x="530.52" y="1392.0" width="38.44" height="22.30" fill="#ffaa00"/>
<rect x="568.37" y="1392.0" width="38.44" height="22.30" fill="#ff9500"/>
<rect x="606.21" y="1392.0" width="38.44" height="22.30" fill="#ff8000"/>
<rect x="644.06" y="1392.0" width="38.44" height="22.30" fill="#ff6a00"/>
<rect x="681.90" y="1392.0" width="38.44" height="22.30" fill="#ff5500"/>
<rect x="719.74" y="1392.0" width="38.44" height="22.30" fill="#ff4000"/>
<rect x="757.59" y="1392.0" width="38.44" height="22.30" fill="#ff2a00"/>
<rect x="795.43" y="1392.0" width="38.44" height="22.30" fill="#ff1500"/>
<rect x="833.27" y="1392.0" width="38.44" height="22.30" fill="#ff0000"/>
<rect x="871.12" y="1392.0" width="38.44" height="22.30" fill="#ea0000"/>
<rect x="908.96" y="1392.0" width="38.44" height="22.30" fill="#d40000"/>
<rect x="946.81" y="1392.0" width="38.44" height="22.30" fill="#bf0000"/>
<rect x="984.65" y="1392.0" width="38.44" height="22.30" fill="#aa0000"/>
<rect x="1022.49" y="1392.0" width="38.44" height="22.30" fill="#950000"/>
<rect x="1060.34" y="1392.0" width="38.44" height="22.30" fill="#800000"/>
<rect x="1098.18" y="1392.0" width="38.44" height="22.30" fill="#6a0000"/>
<rect x="1136.03" y="1392.0" width="38.44" height="22.30" fill="#550000"/>
<rect x="1173.87" y="1392.0" width="38.44" height="22.30" fill="#400000"/>
<rect x="1211.71" y="1392.0" width="38.44" height="22.30" fill="#2a0000"/>
<rect x="1249.56" y="1392.0" width="38.44" height="22.30" fill="#150000"/>
<rect x="76.4" y="1392.0" width="1211.0" height="22.30" fill="none" stroke="#7a7a7a" stroke-width="1.4"/>
<text x="76.40" y="1439.30" text-anchor="middle" class="tk">0</text>
<line x1="197.50" y1="1414.3" x2="197.50" y2="1403.0" stroke="#404040" stroke-width="1.3"/>
<text x="197.50" y="1439.30" text-anchor="middle" class="tk">0.1</text>
<line x1="318.60" y1="1414.3" x2="318.60" y2="1403.0" stroke="#404040" stroke-width="1.3"/>
<text x="318.60" y="1439.30" text-anchor="middle" class="tk">0.2</text>
<line x1="439.70" y1="1414.3" x2="439.70" y2="1403.0" stroke="#404040" stroke-width="1.3"/>
<text x="439.70" y="1439.30" text-anchor="middle" class="tk">0.3</text>
<line x1="560.80" y1="1414.3" x2="560.80" y2="1403.0" stroke="#404040" stroke-width="1.3"/>
<text x="560.80" y="1439.30" text-anchor="middle" class="tk">0.4</text>
<line x1="681.90" y1="1414.3" x2="681.90" y2="1403.0" stroke="#404040" stroke-width="1.3"/>
<text x="681.90" y="1439.30" text-anchor="middle" class="tk">0.5</text>
<line x1="803.00" y1="1414.3" x2="803.00" y2="1403.0" stroke="#404040" stroke-width="1.3"/>
<text x="803.00" y="1439.30" text-anchor="middle" class="tk">0.6</text>
<line x1="924.10" y1="1414.3" x2="924.10" y2="1403.0" stroke="#404040" stroke-width="1.3"/>
<text x="924.10" y="1439.30" text-anchor="middle" class="tk">0.7</text>
<line x1="1045.20" y1="1414.3" x2="1045.20" y2="1403.0" stroke="#404040" stroke-width="1.3"/>
<text x="1045.20" y="1439.30" text-anchor="middle" class="tk">0.8</text>
<line x1="1166.30" y1="1414.3" x2="1166.30" y2="1403.0" stroke="#404040" stroke-width="1.3"/>
<text x="1166.30" y="1439.30" text-anchor="middle" class="tk">0.9</text>
<text x="1287.40" y="1439.30" text-anchor="middle" class="tk">1</text>
<text x="681.9" y="1463.60" text-anchor="middle" class="tk">alert level</text>
</svg></body></html>
